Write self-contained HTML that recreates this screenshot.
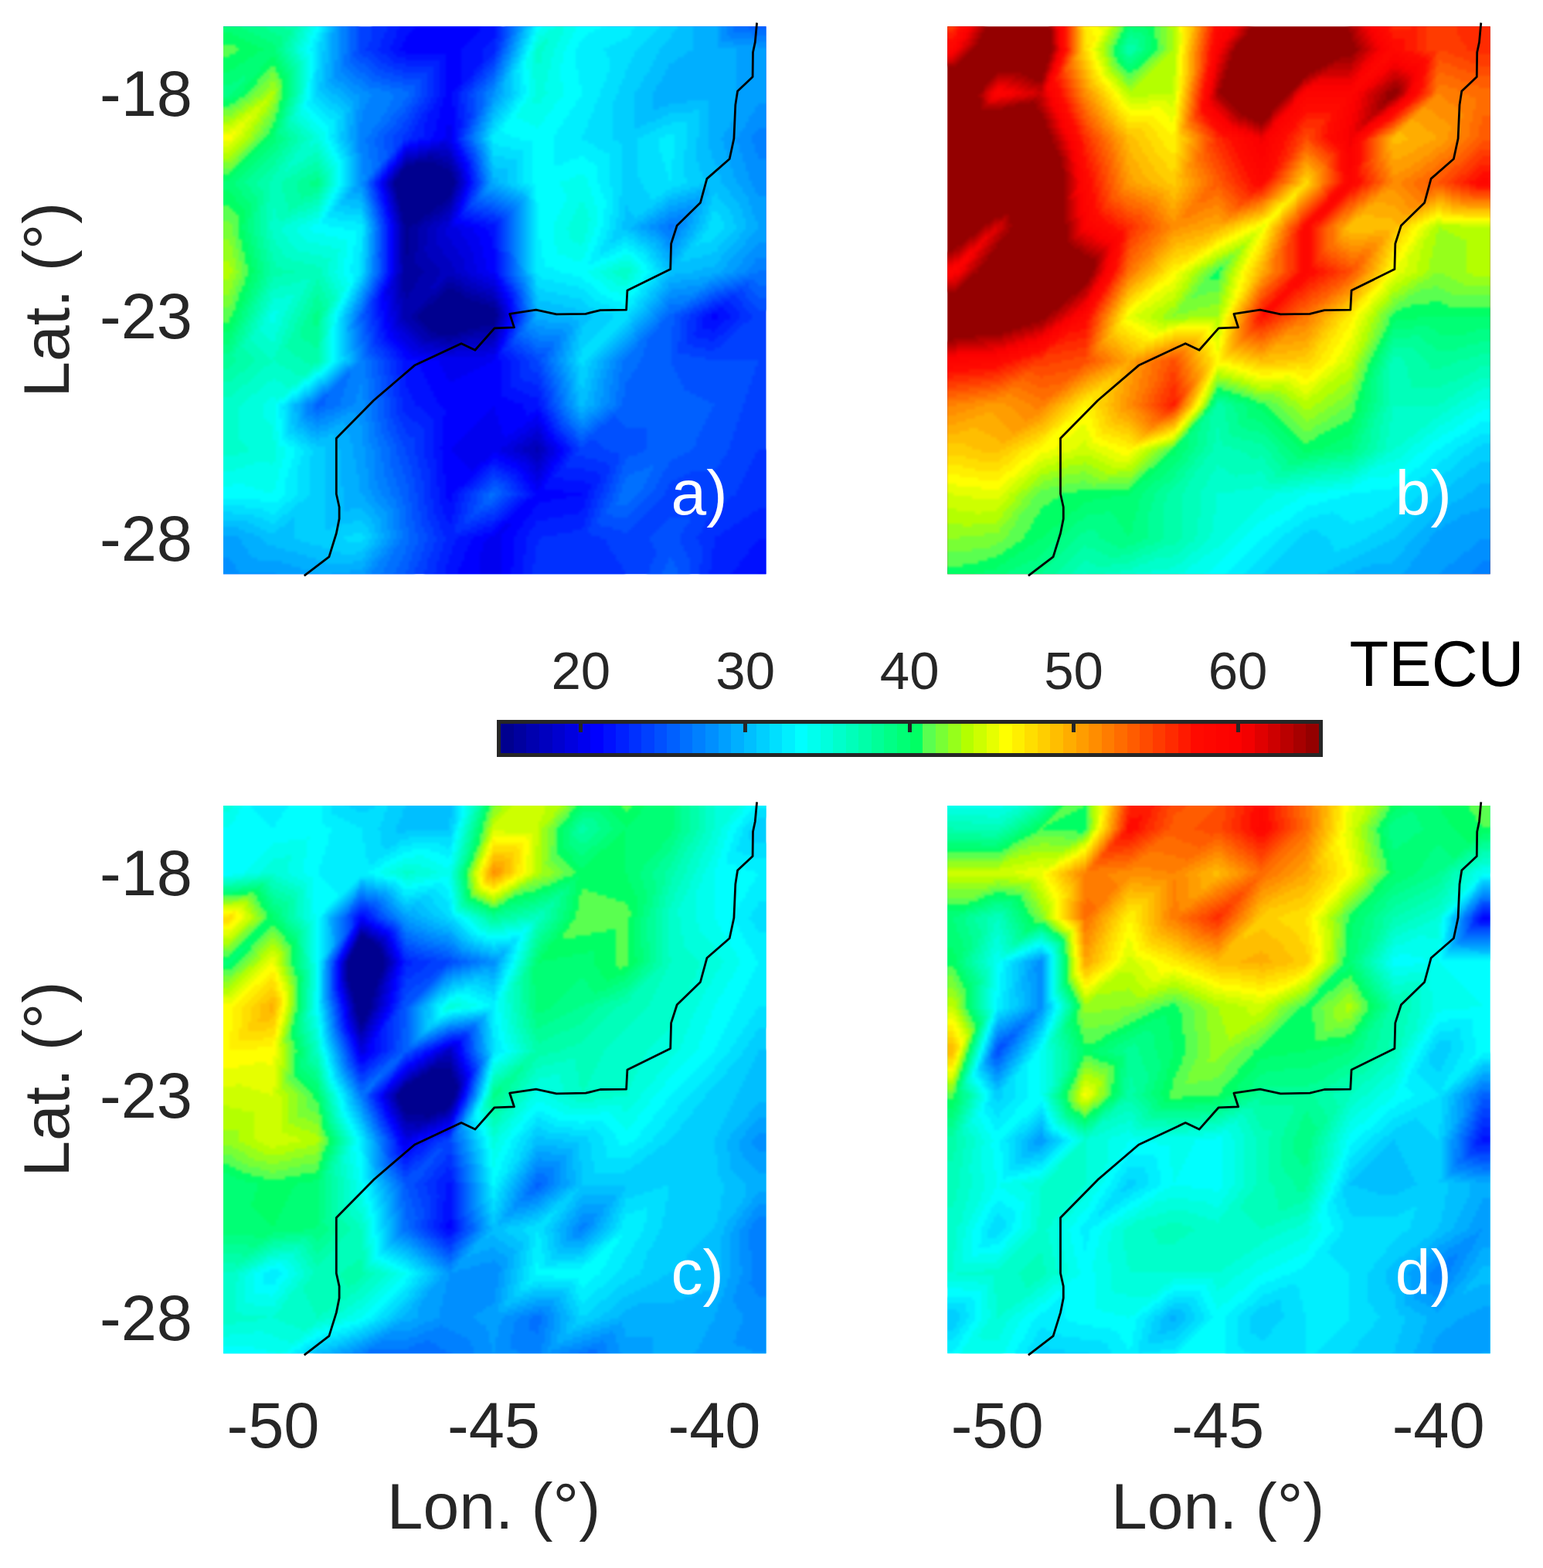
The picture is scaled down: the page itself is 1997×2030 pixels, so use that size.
<!DOCTYPE html>
<html lang="en"><head><meta charset="utf-8"><title>TECU</title>
<style>html,body{margin:0;padding:0;background:#fff}svg{display:block}text{font-family:"Liberation Sans",sans-serif}.t{font-size:83px;fill:#262626}.l{font-size:84px;fill:#262626}.c{font-size:69px;fill:#262626}.p{font-size:82px;fill:#fff}.u{font-size:83px;fill:#000}</style></head><body>
<svg width="1997" height="2030" viewBox="0 0 1997 2030">
<defs><clipPath id="pc"><rect width="702.5" height="709.1"/></clipPath><filter id="bl" filterUnits="userSpaceOnUse" x="-12" y="-12" width="726.5" height="733.1" color-interpolation-filters="sRGB"><feGaussianBlur stdDeviation="1.6"/></filter></defs>
<rect width="1997" height="2030" fill="#fff"/>
<g transform="translate(289 34.2)" clip-path="url(#pc)">
<rect x="-20" y="-20" width="742.5" height="749.1" fill="#0040ff"/>
<g filter="url(#bl)"><g transform="translate(-12 -10) scale(4)" fill="none" stroke-width="1.08" shape-rendering="crispEdges">
<path stroke="#00008f" d="M65 47h7M62 48h12M61 49h15M60 50h17M60 51h17M59 52h19M58 53h20M58 54h20M59 55h18M59 56h18M59 57h18M59 58h17M60 59h15M60 60h14M60 61h12M60 62h11M61 63h9M61 64h7M61 65h6M61 66h5M62 67h2M62 68h1M62 69h1M62 70h1M62 71h1M62 72h1M62 73h1M62 74h1M62 75h1M62 76h1M75 88h3M74 89h6M73 90h8M72 91h11M71 92h15M69 93h20M68 94h23M67 95h24M66 96h26M66 97h25M67 98h24M68 99h23M69 100h17M70 101h12M72 102h7"/>
<path stroke="#00009f" d="M69 45h2M65 46h9M62 47h3M72 47h4M61 48h1M74 48h3M60 49h1M76 49h1M77 50h1M59 51h1M77 51h1M58 52h1M78 53h1M58 55h1M77 55h1M58 56h1M77 56h1M76 58h1M59 59h1M75 59h2M59 60h1M74 60h2M72 61h3M71 62h3M60 63h1M70 63h3M60 64h1M68 64h3M60 65h1M67 65h3M66 66h2M61 67h1M64 67h3M61 68h1M63 68h3M61 69h1M63 69h3M61 70h1M63 70h3M61 71h1M63 71h3M61 72h1M63 72h3M61 73h1M63 73h3M61 74h1M63 74h3M61 75h1M63 75h3M61 76h1M63 76h2M61 77h4M61 78h4M61 79h4M61 80h5M61 81h6M61 82h7M61 83h6M61 84h5M61 85h5M61 86h4M75 86h3M61 87h4M74 87h6M61 88h3M73 88h2M78 88h3M62 89h1M72 89h2M80 89h3M62 90h1M70 90h3M81 90h5M69 91h3M83 91h5M68 92h3M86 92h5M67 93h2M89 93h2M66 94h2M91 94h1M65 95h2M91 95h1M64 96h2M64 97h2M91 97h1M65 98h2M91 98h1M66 99h2M67 100h2M86 100h5M68 101h2M82 101h9M69 102h3M79 102h5M70 103h10M75 104h2"/>
<path stroke="#0000af" d="M69 44h4M66 45h3M71 45h5M62 46h3M74 46h3M61 47h1M76 47h1M77 48h1M77 49h1M59 50h1M78 50h1M58 51h1M78 51h1M78 52h1M57 53h1M57 54h1M78 54h1M57 55h1M78 55h1M58 57h1M77 57h1M58 58h1M77 58h1M58 59h1M76 60h1M59 61h1M75 61h2M59 62h1M74 62h2M59 63h1M73 63h2M71 64h3M70 65h3M60 66h1M68 66h3M60 67h1M67 67h3M60 68h1M66 68h3M60 69h1M66 69h3M60 70h1M66 70h3M60 71h1M66 71h3M60 72h1M66 72h3M60 73h1M66 73h3M60 74h1M66 74h2M60 75h1M66 75h2M60 76h1M65 76h4M60 77h1M65 77h4M60 78h1M65 78h5M60 79h1M65 79h6M66 80h6M67 81h6M68 82h5M60 83h1M67 83h6M60 84h1M66 84h6M75 84h3M60 85h1M66 85h6M74 85h6M60 86h1M65 86h6M73 86h2M78 86h3M60 87h1M65 87h5M72 87h2M80 87h3M60 88h1M64 88h9M81 88h4M60 89h2M63 89h9M83 89h5M60 90h2M63 90h7M86 90h4M61 91h8M88 91h3M61 92h7M91 92h1M61 93h6M91 93h1M61 94h5M92 94h1M61 95h4M92 95h1M61 96h3M92 96h1M61 97h3M92 97h1M62 98h3M63 99h3M91 99h1M64 100h3M91 100h1M65 101h3M66 102h3M84 102h7M67 103h3M80 103h11M68 104h7M77 104h5M73 105h6M104 139h1M104 140h1"/>
<path stroke="#0000bf" d="M69 43h7M66 44h3M73 44h4M62 45h4M76 45h1M61 46h1M77 46h1M77 47h1M60 48h1M78 48h1M59 49h1M78 49h1M58 50h1M79 50h1M79 51h1M57 52h1M79 52h1M56 53h1M79 53h1M56 54h1M79 54h1M79 55h1M57 56h1M78 56h1M57 57h1M78 57h1M77 59h1M58 60h1M77 60h1M58 61h1M58 62h1M76 62h1M75 63h2M59 64h1M74 64h2M59 65h1M73 65h3M59 66h1M71 66h3M70 67h3M69 68h3M69 69h3M69 70h3M69 71h3M69 72h3M69 73h3M68 74h5M68 75h6M69 76h5M69 77h6M70 78h6M71 79h6M60 80h1M72 80h5M60 81h1M73 81h5M60 82h1M73 82h5M59 83h1M73 83h7M59 84h1M72 84h3M78 84h4M59 85h1M72 85h2M80 85h3M59 86h1M71 86h2M81 86h4M59 87h1M70 87h2M83 87h4M59 88h1M85 88h5M59 89h1M88 89h3M59 90h1M90 90h1M59 91h2M91 91h1M59 92h2M60 93h1M92 93h1M60 94h1M60 95h1M93 95h1M60 96h1M93 96h1M60 97h1M93 97h1M60 98h2M92 98h1M61 99h2M92 99h1M62 100h2M63 101h2M91 101h1M64 102h2M91 102h1M65 103h2M66 104h2M82 104h9M67 105h6M79 105h11M71 106h9M75 107h2M103 137h2M102 138h4M100 139h4M105 139h2M100 140h4M105 140h2M102 141h4M103 142h3M104 143h1"/>
<path stroke="#0000cf" d="M73 41h2M70 42h6M66 43h3M76 43h1M62 44h4M61 45h1M77 45h1M60 47h1M78 47h1M59 48h1M58 49h1M79 49h1M57 51h1M56 52h1M80 52h1M80 53h1M80 54h1M56 55h1M56 56h1M79 56h1M79 57h1M57 58h1M78 58h1M57 59h1M78 59h1M57 60h1M77 61h1M77 62h1M58 63h1M58 64h1M76 64h1M58 65h1M76 65h1M74 66h2M59 67h1M73 67h3M59 68h1M72 68h3M59 69h1M72 69h3M59 70h1M72 70h3M59 71h1M72 71h4M59 72h1M72 72h5M59 73h1M72 73h5M59 74h1M73 74h5M59 75h1M74 75h5M59 76h1M74 76h5M59 77h1M75 77h5M59 78h1M76 78h5M59 79h1M77 79h4M59 80h1M77 80h4M59 81h1M78 81h3M59 82h1M78 82h4M80 83h3M58 84h1M82 84h3M58 85h1M83 85h4M58 86h1M85 86h4M57 87h2M87 87h4M58 88h1M90 88h1M58 89h1M91 89h1M58 90h1M91 90h1M58 91h1M92 91h1M58 92h1M92 92h1M58 93h2M93 93h1M58 94h2M93 94h1M59 95h1M59 96h1M94 96h1M59 97h1M59 98h1M93 98h1M59 99h2M93 99h1M60 100h2M92 100h1M61 101h2M92 101h1M62 102h2M63 103h2M91 103h1M64 104h2M91 104h1M65 105h2M90 105h1M66 106h5M80 106h11M68 107h7M77 107h12M73 108h5M104 134h1M103 135h3M101 136h5M100 137h3M105 137h2M98 138h4M106 138h1M97 139h3M107 139h1M97 140h3M107 140h1M99 141h3M106 141h2M101 142h2M106 142h1M102 143h2M105 143h2M103 144h3M104 145h2M104 146h1"/>
<path stroke="#0000df" d="M73 40h3M70 41h3M75 41h2M66 42h4M76 42h1M62 43h4M77 43h1M61 44h1M77 44h1M78 45h1M60 46h1M78 46h1M59 47h1M79 47h1M58 48h1M79 48h1M80 49h1M57 50h1M80 50h1M56 51h1M80 51h1M55 53h1M81 53h1M55 54h1M55 55h1M80 55h1M80 56h1M56 57h1M56 58h1M79 58h1M56 59h1M79 59h1M78 60h1M57 61h1M78 61h1M57 62h1M78 62h1M57 63h1M77 63h1M77 64h1M58 66h1M76 66h1M58 67h1M76 67h1M58 68h1M75 68h4M58 69h1M75 69h5M58 70h1M75 70h5M58 71h1M76 71h5M58 72h1M77 72h5M58 73h1M77 73h5M58 74h1M78 74h5M58 75h1M79 75h4M58 76h1M79 76h5M58 77h1M80 77h4M58 78h1M81 78h3M58 79h1M81 79h3M58 80h1M81 80h4M58 81h1M81 81h4M58 82h1M82 82h3M58 83h1M83 83h4M85 84h4M57 85h1M87 85h4M57 86h1M89 86h2M91 87h1M56 88h2M91 88h1M56 89h2M92 89h1M57 90h1M92 90h1M57 91h1M93 91h1M57 92h1M93 92h1M57 93h1M94 93h1M57 94h1M94 94h1M57 95h2M94 95h1M57 96h2M58 97h1M94 97h1M58 98h1M94 98h1M58 99h1M58 100h2M93 100h1M59 101h2M93 101h1M60 102h2M92 102h1M60 103h3M92 103h1M61 104h3M62 105h3M91 105h1M63 106h3M91 106h1M64 107h4M89 107h2M66 108h7M78 108h13M71 109h17M104 132h1M102 133h4M101 134h3M105 134h1M99 135h4M106 135h1M98 136h3M106 136h1M96 137h4M107 137h1M95 138h3M107 138h2M93 139h4M108 139h2M93 140h4M108 140h2M95 141h4M108 141h2M97 142h4M107 142h2M99 143h3M107 143h1M101 144h2M106 144h2M102 145h2M106 145h1M102 146h2M105 146h2M103 147h3M104 148h2M104 149h1"/>
<path stroke="#0000ef" d="M75 35h2M75 36h2M75 37h2M75 38h2M74 39h3M70 40h3M76 40h1M66 41h4M77 41h1M62 42h4M77 42h1M61 43h1M78 43h1M78 44h1M60 45h1M79 45h1M59 46h1M79 46h1M80 47h1M80 48h1M57 49h1M56 50h1M81 50h1M81 51h1M55 52h1M81 52h1M54 53h1M54 54h1M81 54h1M81 55h1M55 56h1M55 57h1M80 57h1M80 58h1M56 60h1M79 60h1M56 61h1M79 61h1M56 62h1M78 63h1M57 64h1M78 64h1M57 65h1M77 65h1M57 66h1M77 66h1M77 67h4M79 68h5M80 69h4M80 70h5M81 71h5M82 72h4M82 73h4M83 74h4M83 75h4M84 76h3M84 77h3M84 78h4M84 79h4M85 80h3M85 81h3M85 82h4M57 83h1M87 83h4M57 84h1M89 84h2M91 85h1M56 86h1M91 86h1M56 87h1M92 87h1M55 88h1M92 88h1M55 89h1M93 89h1M55 90h2M93 90h1M55 91h2M94 91h1M56 92h1M94 92h1M56 93h1M56 94h1M95 94h1M56 95h1M95 95h1M56 96h1M95 96h1M56 97h2M95 97h1M56 98h2M57 99h1M94 99h1M57 100h1M94 100h1M57 101h2M58 102h2M93 102h1M58 103h2M93 103h1M59 104h2M92 104h1M60 105h2M92 105h1M61 106h2M62 107h2M91 107h1M63 108h3M91 108h1M64 109h7M88 109h3M69 110h22M73 111h17M73 112h15M74 113h12M74 114h10M75 115h7M75 116h5M76 117h2M90 126h1M89 127h2M88 128h3M87 129h5M104 129h1M86 130h6M103 130h2M85 131h7M101 131h5M84 132h9M100 132h4M105 132h2M83 133h10M98 133h4M106 133h1M82 134h11M97 134h4M106 134h2M81 135h13M95 135h4M107 135h1M80 136h18M107 136h2M79 137h17M108 137h2M78 138h17M109 138h2M77 139h16M110 139h1M77 140h16M110 140h2M78 141h12M92 141h3M110 141h1M79 142h10M94 142h3M109 142h2M80 143h8M96 143h3M108 143h2M81 144h5M98 144h3M108 144h1M82 145h3M99 145h3M107 145h2M83 146h1M100 146h2M107 146h1M101 147h2M106 147h2M102 148h2M106 148h1M102 149h2M105 149h2M103 150h3M104 151h2M104 152h1M94 164h2M93 165h2M92 166h2M91 167h2M89 168h4M88 169h5M87 170h6M87 171h6M87 172h6M86 173h7M86 174h7M86 175h7M86 176h7M86 177h7M86 178h7M86 179h7M86 180h7M86 181h6M86 182h6M86 183h6"/>
<path stroke="#00f" d="M68 0h21M67 1h21M66 2h21M65 3h21M64 4h22M63 5h22M62 6h22M62 7h21M61 8h21M61 9h20M60 10h20M62 11h18M75 12h5M75 13h5M75 14h5M75 15h5M75 16h5M75 17h5M75 18h5M75 19h5M75 20h5M75 21h5M75 22h4M75 23h3M75 24h2M75 25h2M74 26h3M74 27h3M74 28h3M73 29h5M73 30h5M73 31h5M73 32h5M72 33h6M72 34h6M72 35h3M77 35h1M72 36h3M77 36h1M71 37h4M77 37h1M71 38h4M77 38h1M70 39h4M77 39h1M66 40h4M77 40h1M63 41h3M78 41h1M61 42h1M78 42h1M79 43h1M60 44h1M79 44h1M59 45h1M80 45h1M80 46h1M58 47h1M81 47h1M57 48h1M81 48h1M56 49h1M81 49h1M55 51h1M82 51h1M54 52h1M82 52h1M82 53h1M82 54h1M54 55h1M54 56h1M81 56h1M81 57h1M55 58h1M55 59h1M80 59h1M55 60h1M80 60h1M79 62h1M56 63h1M79 63h1M56 64h1M78 65h2M78 66h5M57 67h1M81 67h5M57 68h1M84 68h4M57 69h1M84 69h5M57 70h1M85 70h4M57 71h1M86 71h4M57 72h1M86 72h4M57 73h1M86 73h4M57 74h1M87 74h3M57 75h1M87 75h4M57 76h1M87 76h4M57 77h1M87 77h4M57 78h1M88 78h3M57 79h1M88 79h3M57 80h1M88 80h3M57 81h1M88 81h3M57 82h1M89 82h2M91 83h1M56 84h1M91 84h1M56 85h1M92 85h1M92 86h1M55 87h1M93 87h1M93 88h1M54 89h1M94 89h1M54 90h1M94 90h1M54 91h1M95 91h1M54 92h2M95 92h1M54 93h2M95 93h1M54 94h2M55 95h1M96 95h1M55 96h1M96 96h1M161 96h2M55 97h1M96 97h1M161 97h2M55 98h1M95 98h1M55 99h2M95 99h1M55 100h2M56 101h1M94 101h1M56 102h2M94 102h1M56 103h2M57 104h2M93 104h1M58 105h2M93 105h1M59 106h2M92 106h1M60 107h2M92 107h1M61 108h2M61 109h3M91 109h1M62 110h7M91 110h1M66 111h7M90 111h3M66 112h7M88 112h5M67 113h7M86 113h7M67 114h7M84 114h9M68 115h7M82 115h11M68 116h7M80 116h13M69 117h7M78 117h15M69 118h24M70 119h23M70 120h23M71 121h22M71 122h22M72 123h23M72 124h25M73 125h27M74 126h16M91 126h9M75 127h14M91 127h10M104 127h1M75 128h13M91 128h10M102 128h4M74 129h13M92 129h12M105 129h1M74 130h12M92 130h11M105 130h2M74 131h11M92 131h9M106 131h1M74 132h10M93 132h7M107 132h1M74 133h9M93 133h5M107 133h1M74 134h8M93 134h4M108 134h1M74 135h7M94 135h1M108 135h2M74 136h6M109 136h1M74 137h5M110 137h1M74 138h4M111 138h1M73 139h4M111 139h2M74 140h3M112 140h1M74 141h4M90 141h2M111 141h2M74 142h5M89 142h5M111 142h1M74 143h6M88 143h2M92 143h4M110 143h2M74 144h7M86 144h3M94 144h4M109 144h2M74 145h8M85 145h2M96 145h3M109 145h1M74 146h9M84 146h2M98 146h2M108 146h2M74 147h11M99 147h2M108 147h1M75 148h9M100 148h2M107 148h2M75 149h8M100 149h2M107 149h1M75 150h7M101 150h2M106 150h2M75 151h6M102 151h2M106 151h1M75 152h4M102 152h2M105 152h2M75 153h3M103 153h10M75 154h2M104 154h15M75 155h2M103 155h11M76 156h1M101 156h8M100 157h5M99 158h5M98 159h5M97 160h6M96 161h6M95 162h6M93 163h7M92 164h2M96 164h4M91 165h2M95 165h4M90 166h2M94 166h4M87 167h4M93 167h5M84 168h5M93 168h4M83 169h5M93 169h4M83 170h4M93 170h4M82 171h5M93 171h4M82 172h5M93 172h4M81 173h5M93 173h4M81 174h5M93 174h4M81 175h5M93 175h4M80 176h6M93 176h4M80 177h6M93 177h4M79 178h7M93 178h3M79 179h7M93 179h3M79 180h7M93 180h3M176 180h6M78 181h8M92 181h4M175 181h7M78 182h8M92 182h4M174 182h8M78 183h8M92 183h4M174 183h8"/>
<path stroke="#0010ff" d="M61 0h7M89 0h2M61 1h6M88 1h3M60 2h6M87 2h4M60 3h5M86 3h5M59 4h5M86 4h5M59 5h4M85 5h6M59 6h3M84 6h7M58 7h4M83 7h7M58 8h3M82 8h7M57 9h4M81 9h7M57 10h3M80 10h7M58 11h4M80 11h7M59 12h16M80 12h7M62 13h13M80 13h7M73 14h2M80 14h7M73 15h2M80 15h6M73 16h2M80 16h5M73 17h2M80 17h4M73 18h2M80 18h4M73 19h2M80 19h3M73 20h2M80 20h2M73 21h2M80 21h1M73 22h2M79 22h1M73 23h2M78 23h2M73 24h2M77 24h2M73 25h2M77 25h2M72 26h2M77 26h2M72 27h2M77 27h2M71 28h3M77 28h2M71 29h2M78 29h1M70 30h3M78 30h1M69 31h4M78 31h1M69 32h4M78 32h1M69 33h3M78 33h2M68 34h4M78 34h2M68 35h4M78 35h2M68 36h4M78 36h1M68 37h3M78 37h1M68 38h3M78 38h1M66 39h4M78 39h1M63 40h3M78 40h1M61 41h2M79 41h1M79 42h1M60 43h1M80 43h1M59 44h1M80 44h1M81 45h1M58 46h1M81 46h1M57 47h1M82 47h1M56 48h1M82 48h1M82 49h1M55 50h1M82 50h1M54 51h1M53 53h1M83 53h1M53 54h1M53 55h1M82 55h1M82 56h1M54 57h1M54 58h1M81 58h1M54 59h1M81 59h1M55 61h1M80 61h1M55 62h1M80 62h1M55 63h1M79 64h2M56 65h1M80 65h4M56 66h1M83 66h5M56 67h1M86 67h5M56 68h1M88 68h3M56 69h1M89 69h2M56 70h1M89 70h2M56 71h1M90 71h1M56 72h1M90 72h1M56 73h1M90 73h1M56 74h1M90 74h1M56 75h1M91 75h1M56 76h1M91 76h1M56 77h1M91 77h1M56 78h1M91 78h1M56 79h1M91 79h1M56 80h1M91 80h1M56 81h1M91 81h1M56 82h1M91 82h1M56 83h1M92 84h1M55 85h1M93 85h1M55 86h1M93 86h1M54 87h1M94 87h1M54 88h1M94 88h1M95 89h1M53 90h1M95 90h1M53 91h1M96 91h1M53 92h1M96 92h1M53 93h1M96 93h1M53 94h1M96 94h1M163 94h2M53 95h2M161 95h5M53 96h2M97 96h1M159 96h2M163 96h4M54 97h1M158 97h3M163 97h4M54 98h1M96 98h1M158 98h7M54 99h1M96 99h1M158 99h6M54 100h1M95 100h1M158 100h5M54 101h2M95 101h1M161 101h1M55 102h1M55 103h1M94 103h1M55 104h2M94 104h1M56 105h2M57 106h2M93 106h1M58 107h2M59 108h2M92 108h1M59 109h2M92 109h2M60 110h2M92 110h3M61 111h5M93 111h3M61 112h5M93 112h3M61 113h6M93 113h3M61 114h6M93 114h3M62 115h6M93 115h3M62 116h6M93 116h3M62 117h7M93 117h3M62 118h7M93 118h3M62 119h8M93 119h3M63 120h7M93 120h5M63 121h8M93 121h7M64 122h7M93 122h9M64 123h8M95 123h10M65 124h7M97 124h8M65 125h8M100 125h5M67 126h7M100 126h6M68 127h7M101 127h3M105 127h1M69 128h6M101 128h1M106 128h1M70 129h4M106 129h2M71 130h3M107 130h1M71 131h3M107 131h2M71 132h3M108 132h1M71 133h3M108 133h2M71 134h3M109 134h1M71 135h3M110 135h1M71 136h3M110 136h2M71 137h3M111 137h2M71 138h3M112 138h2M71 139h2M113 139h2M71 140h3M113 140h2M71 141h3M113 141h1M71 142h3M112 142h2M72 143h2M90 143h2M112 143h1M72 144h2M89 144h5M111 144h2M72 145h2M87 145h2M92 145h4M110 145h2M72 146h2M86 146h2M94 146h4M110 146h2M72 147h2M85 147h2M96 147h3M109 147h2M72 148h3M84 148h2M98 148h2M109 148h1M72 149h3M83 149h2M98 149h2M108 149h5M72 150h3M82 150h2M99 150h2M108 150h12M72 151h3M81 151h2M100 151h2M107 151h15M73 152h2M79 152h2M100 152h2M107 152h15M73 153h2M78 153h2M101 153h2M113 153h8M73 154h2M77 154h2M102 154h2M119 154h2M73 155h2M77 155h2M101 155h2M114 155h7M73 156h3M77 156h2M99 156h2M109 156h11M73 157h5M98 157h2M105 157h15M74 158h4M97 158h2M104 158h16M74 159h4M96 159h2M103 159h16M74 160h4M95 160h2M103 160h15M75 161h2M94 161h2M102 161h11M75 162h2M93 162h2M101 162h7M76 163h1M91 163h2M100 163h4M90 164h2M100 164h4M87 165h4M99 165h4M85 166h5M98 166h4M82 167h5M98 167h4M79 168h5M97 168h4M78 169h5M97 169h4M176 169h6M78 170h5M97 170h4M175 170h7M77 171h5M97 171h4M174 171h8M77 172h5M97 172h4M173 172h9M77 173h4M97 173h4M173 173h9M76 174h5M97 174h3M172 174h10M76 175h5M97 175h3M171 175h11M76 176h4M97 176h3M170 176h12M75 177h5M97 177h3M170 177h12M75 178h4M96 178h4M169 178h13M75 179h4M96 179h4M168 179h14M75 180h4M96 180h4M167 180h9M74 181h4M96 181h3M166 181h9M74 182h4M96 182h3M166 182h8M74 183h4M96 183h3M165 183h9"/>
<path stroke="#0020ff" d="M58 0h3M91 0h1M57 1h4M91 1h1M57 2h3M91 2h1M56 3h4M91 3h1M56 4h3M91 4h1M55 5h4M91 5h1M55 6h4M91 6h1M54 7h4M90 7h1M54 8h4M89 8h2M54 9h3M88 9h3M53 10h4M87 10h4M54 11h4M87 11h4M56 12h3M87 12h3M57 13h5M87 13h2M58 14h15M87 14h1M62 15h11M86 15h1M71 16h2M85 16h2M71 17h2M84 17h2M71 18h2M84 18h1M71 19h2M83 19h1M71 20h2M82 20h2M71 21h2M81 21h2M71 22h2M80 22h2M71 23h2M80 23h1M71 24h2M79 24h1M71 25h2M79 25h1M70 26h2M79 26h1M70 27h2M79 27h1M69 28h2M79 28h2M69 29h2M79 29h2M68 30h2M79 30h2M67 31h2M79 31h2M67 32h2M79 32h2M66 33h3M80 33h1M66 34h2M80 34h1M65 35h3M80 35h1M65 36h3M79 36h1M64 37h4M79 37h1M64 38h4M79 38h1M63 39h3M61 40h2M79 40h1M60 42h1M80 42h1M59 43h1M81 44h1M58 45h1M57 46h1M82 46h1M56 47h1M55 49h1M83 49h1M54 50h1M83 50h1M83 51h1M53 52h1M83 52h1M52 53h1M52 54h1M83 54h1M83 55h1M53 56h1M53 57h1M82 57h1M53 58h1M82 58h1M54 60h1M81 60h1M54 61h1M81 61h1M80 63h3M55 64h1M81 64h5M55 65h1M84 65h5M55 66h1M88 66h4M91 67h1M91 68h1M91 69h1M91 70h1M91 71h1M91 72h1M91 73h1M91 74h1M92 76h1M92 77h1M92 78h1M92 79h1M92 80h1M92 81h1M92 82h1M55 83h1M92 83h1M55 84h1M93 84h1M54 86h1M94 86h1M95 87h1M53 88h1M95 88h1M53 89h1M96 89h1M96 90h1M52 91h1M52 92h1M165 92h2M52 93h1M97 93h1M162 93h6M52 94h1M97 94h1M160 94h3M165 94h4M52 95h1M97 95h1M158 95h3M166 95h4M52 96h1M157 96h2M167 96h3M52 97h2M97 97h1M156 97h2M167 97h3M53 98h1M97 98h1M156 98h2M165 98h4M53 99h1M156 99h2M164 99h4M53 100h1M96 100h1M156 100h2M163 100h4M53 101h1M96 101h1M156 101h5M162 101h4M53 102h2M95 102h1M155 102h10M53 103h2M95 103h1M156 103h7M54 104h1M160 104h2M54 105h2M94 105h1M55 106h2M94 106h1M56 107h2M93 107h1M57 108h2M93 108h3M57 109h2M94 109h3M58 110h2M95 110h3M59 111h2M96 111h3M59 112h2M96 112h3M59 113h2M96 113h3M59 114h2M96 114h3M59 115h3M96 115h3M60 116h2M96 116h3M60 117h2M96 117h4M60 118h2M96 118h7M60 119h2M96 119h9M60 120h3M98 120h7M60 121h3M100 121h6M60 122h4M102 122h4M61 123h3M105 123h1M61 124h4M105 124h2M61 125h4M105 125h2M61 126h6M106 126h1M61 127h7M106 127h2M62 128h7M107 128h1M63 129h7M108 129h1M64 130h7M108 130h1M66 131h5M109 131h1M67 132h4M109 132h1M68 133h3M110 133h1M68 134h3M110 134h2M68 135h3M111 135h2M68 136h3M112 136h2M68 137h3M113 137h1M68 138h3M114 138h1M68 139h3M115 139h1M68 140h3M115 140h1M68 141h3M114 141h2M68 142h3M114 142h1M69 143h3M113 143h2M69 144h3M113 144h1M69 145h3M89 145h3M112 145h2M70 146h2M88 146h2M91 146h3M112 146h8M70 147h2M87 147h2M93 147h3M111 147h13M70 148h2M86 148h2M95 148h3M110 148h15M70 149h2M85 149h2M96 149h2M113 149h12M70 150h2M84 150h2M97 150h2M120 150h5M70 151h2M83 151h2M98 151h2M122 151h2M70 152h3M81 152h3M98 152h2M122 152h2M70 153h3M80 153h2M99 153h2M121 153h2M70 154h3M79 154h2M100 154h2M121 154h2M70 155h3M79 155h2M98 155h3M121 155h2M71 156h2M79 156h2M97 156h2M120 156h2M71 157h2M78 157h2M96 157h2M120 157h2M71 158h3M78 158h2M95 158h2M120 158h2M71 159h3M78 159h2M94 159h2M119 159h2M176 159h6M71 160h3M78 160h2M93 160h2M118 160h3M174 160h8M72 161h3M77 161h2M92 161h2M113 161h8M173 161h9M72 162h3M77 162h2M91 162h2M108 162h12M171 162h11M73 163h3M77 163h2M88 163h3M104 163h16M170 163h12M73 164h5M85 164h5M104 164h16M168 164h14M73 165h5M83 165h4M103 165h16M167 165h15M74 166h4M80 166h5M102 166h14M165 166h17M74 167h8M102 167h9M164 167h18M75 168h4M101 168h5M162 168h20M75 169h3M101 169h4M162 169h14M74 170h4M101 170h4M162 170h13M74 171h3M101 171h3M162 171h12M74 172h3M101 172h3M161 172h12M73 173h4M101 173h3M161 173h12M73 174h3M100 174h4M161 174h11M73 175h3M100 175h4M161 175h10M72 176h4M100 176h4M161 176h9M72 177h3M100 177h3M161 177h9M72 178h3M100 178h3M161 178h8M72 179h3M100 179h3M160 179h8M71 180h4M100 180h3M160 180h7M71 181h3M99 181h4M118 181h2M160 181h6M71 182h3M99 182h4M117 182h3M160 182h6M70 183h4M99 183h4M117 183h4M160 183h5"/>
<path stroke="#0030ff" d="M51 0h7M92 0h2M51 1h6M92 1h1M51 2h6M92 2h1M51 3h5M92 3h1M51 4h5M92 4h1M51 5h4M92 5h1M51 6h4M92 6h1M51 7h3M91 7h2M50 8h4M91 8h1M50 9h4M91 9h1M49 10h4M91 10h1M51 11h3M52 12h4M90 12h1M53 13h4M89 13h2M54 14h4M88 14h2M56 15h6M87 15h2M58 16h13M87 16h1M61 17h10M86 17h1M69 18h2M85 18h2M69 19h2M84 19h2M69 20h2M84 20h1M69 21h2M83 21h1M69 22h2M82 22h2M69 23h2M81 23h2M69 24h2M80 24h2M69 25h2M80 25h2M68 26h2M80 26h2M68 27h2M80 27h2M67 28h2M81 28h1M66 29h3M81 29h1M66 30h2M81 30h1M65 31h2M81 31h2M65 32h2M81 32h2M64 33h2M81 33h1M64 34h2M81 34h1M63 35h2M81 35h1M63 36h2M80 36h1M62 37h2M80 37h1M61 38h3M80 38h1M61 39h2M79 39h1M80 40h1M60 41h1M80 41h1M59 42h1M81 42h1M81 43h1M58 44h1M82 44h1M57 45h1M82 45h1M56 46h1M83 46h1M83 47h1M55 48h1M83 48h1M54 49h1M84 50h1M53 51h1M84 51h1M52 52h1M84 52h1M84 53h1M84 54h1M52 55h1M84 55h1M52 56h1M83 56h1M83 57h1M53 59h1M82 59h1M53 60h1M82 60h1M54 62h1M81 62h3M54 63h1M83 63h4M54 64h1M86 64h5M89 65h4M92 66h1M55 67h1M92 67h1M55 68h1M92 68h1M55 69h1M92 69h1M55 70h1M92 70h1M55 71h1M92 71h1M55 72h1M92 72h1M55 73h1M92 73h1M55 74h1M92 74h1M55 75h1M92 75h1M55 76h1M93 76h1M55 77h1M93 77h1M55 78h1M93 78h1M55 79h1M93 79h1M55 80h1M93 80h1M55 81h1M93 81h1M55 82h1M93 82h1M93 83h1M54 84h1M94 84h1M54 85h1M94 85h1M53 86h1M95 86h1M53 87h1M96 87h1M96 88h1M52 89h1M97 89h1M52 90h1M97 90h1M167 90h2M51 91h1M97 91h1M164 91h6M51 92h1M97 92h1M161 92h4M167 92h4M51 93h1M160 93h2M168 93h3M51 94h1M98 94h1M158 94h2M169 94h3M51 95h1M98 95h1M156 95h2M170 95h3M51 96h1M98 96h1M154 96h3M170 96h4M51 97h1M98 97h1M154 97h2M170 97h4M51 98h2M98 98h1M153 98h3M169 98h4M51 99h2M97 99h1M153 99h3M168 99h3M52 100h1M97 100h1M153 100h3M167 100h3M52 101h1M153 101h3M166 101h3M52 102h1M96 102h1M153 102h2M165 102h3M52 103h1M96 103h1M153 103h3M163 103h4M52 104h2M95 104h1M153 104h7M162 104h4M52 105h2M95 105h1M153 105h12M53 106h2M95 106h1M155 106h9M54 107h2M94 107h3M159 107h3M55 108h2M96 108h2M55 109h2M97 109h3M56 110h2M98 110h3M57 111h2M99 111h3M57 112h2M99 112h3M57 113h2M99 113h3M57 114h2M99 114h4M57 115h2M99 115h6M58 116h2M99 116h6M58 117h2M100 117h6M58 118h2M103 118h3M58 119h2M105 119h1M58 120h2M105 120h2M58 121h2M106 121h1M58 122h2M106 122h1M59 123h2M106 123h2M59 124h2M107 124h1M59 125h2M107 125h1M59 126h2M107 126h1M59 127h2M108 127h1M59 128h3M108 128h2M60 129h3M109 129h1M60 130h4M109 130h2M61 131h5M110 131h1M61 132h6M110 132h2M62 133h6M111 133h1M62 134h6M112 134h1M63 135h5M113 135h1M65 136h3M114 136h1M65 137h3M114 137h2M65 138h3M115 138h2M65 139h3M116 139h2M65 140h3M116 140h2M176 140h6M65 141h3M116 141h1M175 141h7M66 142h2M115 142h5M175 142h7M66 143h3M115 143h9M174 143h8M66 144h3M114 144h13M174 144h8M66 145h3M114 145h14M173 145h9M67 146h3M90 146h1M120 146h8M173 146h9M67 147h3M89 147h4M124 147h4M172 147h10M67 148h3M88 148h2M91 148h4M125 148h2M172 148h10M67 149h3M87 149h2M93 149h3M125 149h2M171 149h11M68 150h2M86 150h2M95 150h2M125 150h2M171 150h11M68 151h2M85 151h2M96 151h2M124 151h2M170 151h12M68 152h2M84 152h2M96 152h2M124 152h2M170 152h12M68 153h2M82 153h2M97 153h2M123 153h3M169 153h13M68 154h2M81 154h2M98 154h2M123 154h2M169 154h13M68 155h2M81 155h2M96 155h2M123 155h2M167 155h15M68 156h3M81 156h2M95 156h2M122 156h2M166 156h16M68 157h3M80 157h2M94 157h2M122 157h2M164 157h18M69 158h2M80 158h2M93 158h2M122 158h2M163 158h19M69 159h2M80 159h2M92 159h2M121 159h2M162 159h14M69 160h2M80 160h2M91 160h2M121 160h2M161 160h13M69 161h3M79 161h2M88 161h4M121 161h2M161 161h12M69 162h3M79 162h2M86 162h5M120 162h2M160 162h11M70 163h3M79 163h2M83 163h5M120 163h2M159 163h11M70 164h3M78 164h7M120 164h2M159 164h9M71 165h2M78 165h5M119 165h2M158 165h9M71 166h3M78 166h2M116 166h5M158 166h7M71 167h3M111 167h11M157 167h7M72 168h3M106 168h19M156 168h6M72 169h3M105 169h22M157 169h5M71 170h3M105 170h22M157 170h5M71 171h3M104 171h24M158 171h4M71 172h3M104 172h24M158 172h3M70 173h3M104 173h25M158 173h3M70 174h3M104 174h26M158 174h3M69 175h4M104 175h26M158 175h3M69 176h3M104 176h27M158 176h3M69 177h3M103 177h29M157 177h4M69 178h3M103 178h29M157 178h4M68 179h4M103 179h30M157 179h3M68 180h3M103 180h30M157 180h3M68 181h3M103 181h15M120 181h14M157 181h3M67 182h4M103 182h14M120 182h14M157 182h3M67 183h3M103 183h14M121 183h13M157 183h3"/>
<path stroke="#0050ff" d="M46 0h1M95 0h1M171 0h11M46 1h1M95 1h1M172 1h10M46 2h1M94 2h1M46 3h1M94 3h1M46 4h1M94 4h1M46 5h1M94 5h1M46 6h1M94 6h1M46 7h1M46 8h1M93 8h1M46 9h1M93 9h1M46 10h1M45 11h2M92 11h1M45 12h3M92 12h1M46 13h4M91 13h1M47 14h4M91 14h1M49 15h3M50 16h3M90 16h1M51 17h4M89 17h2M52 18h6M88 18h2M54 19h7M88 19h1M57 20h10M87 20h1M61 21h6M86 21h2M65 22h2M85 22h2M65 23h2M84 23h2M65 24h2M84 24h1M65 25h2M83 25h2M64 26h2M84 26h1M64 27h2M84 27h1M63 28h2M84 28h1M62 29h2M84 29h1M62 30h2M84 30h1M61 31h2M84 31h1M60 32h3M84 32h1M59 33h3M83 33h1M59 34h2M83 34h1M58 35h3M57 36h3M82 36h1M56 37h3M82 37h1M55 38h3M81 38h1M55 39h3M81 39h1M55 40h3M82 40h1M55 41h3M82 41h1M55 42h3M83 42h1M56 43h2M83 43h1M56 44h1M84 44h1M56 45h1M84 45h1M55 46h1M84 46h1M54 47h1M85 48h1M53 49h1M85 49h1M52 50h1M85 50h1M85 51h1M51 52h1M50 53h1M86 53h1M50 54h1M85 55h1M51 56h1M85 56h1M51 57h1M51 58h1M84 58h1M84 59h1M52 60h1M83 60h4M52 61h1M85 61h5M89 62h3M91 63h3M53 64h1M93 64h2M53 65h1M94 65h1M53 66h1M94 66h1M94 67h1M94 68h1M94 69h1M94 70h1M94 71h1M94 72h1M94 73h1M94 74h1M94 75h1M53 76h1M95 76h1M53 77h1M95 77h1M95 78h1M95 79h1M95 80h1M95 81h1M95 82h1M53 83h1M95 83h1M53 84h1M96 84h1M52 85h1M96 85h1M52 86h1M97 86h1M172 86h1M97 87h1M169 87h4M51 88h1M98 88h1M165 88h5M171 88h3M51 89h1M98 89h1M162 89h4M172 89h3M50 90h1M160 90h3M172 90h4M50 91h1M99 91h1M159 91h2M173 91h9M99 92h1M157 92h2M174 92h8M49 93h1M99 93h1M155 93h2M175 93h7M49 94h1M99 94h1M153 94h2M176 94h6M151 95h3M48 96h2M100 96h1M149 96h3M48 97h2M149 97h2M49 98h1M99 98h1M149 98h2M49 99h1M99 99h1M149 99h2M49 100h1M98 100h1M148 100h3M49 101h1M98 101h1M148 101h3M49 102h2M148 102h3M50 103h1M97 103h1M148 103h3M50 104h1M97 104h2M148 104h3M50 105h1M97 105h3M148 105h2M50 106h1M99 106h3M148 106h2M50 107h2M100 107h3M148 107h2M50 108h2M101 108h3M148 108h2M51 109h2M103 109h4M148 109h6M52 110h2M104 110h2M148 110h11M53 111h2M105 111h1M148 111h28M53 112h2M105 112h2M148 112h28M53 113h2M106 113h1M149 113h26M53 114h2M106 114h1M149 114h26M53 115h2M106 115h2M150 115h25M54 116h2M107 116h1M150 116h24M54 117h2M107 117h2M151 117h23M54 118h2M107 118h2M151 118h23M54 119h2M108 119h1M152 119h21M54 120h2M108 120h2M152 120h21M54 121h2M109 121h1M154 121h19M54 122h2M109 122h1M156 122h16M55 123h2M109 123h1M158 123h14M55 124h2M109 124h1M160 124h12M55 125h2M109 125h2M162 125h9M55 126h2M110 126h1M161 126h10M55 127h2M110 127h2M161 127h10M55 128h2M111 128h1M160 128h10M55 129h2M111 129h2M129 129h1M160 129h10M56 130h2M112 130h1M128 130h3M159 130h11M56 131h2M112 131h2M127 131h5M159 131h10M56 132h3M113 132h2M125 132h8M158 132h11M56 133h3M114 133h2M124 133h16M158 133h11M57 134h2M115 134h2M123 134h17M157 134h11M57 135h3M116 135h1M121 135h19M157 135h11M58 136h2M117 136h1M120 136h20M156 136h12M58 137h3M118 137h3M124 137h16M156 137h11M59 138h2M118 138h2M125 138h15M156 138h11M59 139h3M126 139h14M155 139h12M59 140h3M128 140h11M154 140h12M59 141h3M131 141h6M152 141h14M60 142h3M131 142h3M150 142h15M60 143h3M131 143h2M148 143h16M60 144h3M131 144h2M147 144h17M61 145h3M130 145h2M147 145h16M61 146h3M130 146h2M146 146h16M61 147h3M130 147h2M145 147h9M62 148h2M129 148h2M145 148h7M62 149h3M129 149h2M144 149h6M62 150h3M90 150h2M129 150h2M144 150h4M63 151h2M89 151h5M128 151h2M143 151h4M63 152h2M88 152h2M92 152h2M128 152h2M143 152h4M63 153h2M86 153h3M93 153h2M128 153h2M142 153h4M63 154h3M85 154h2M93 154h3M127 154h2M141 154h5M63 155h3M85 155h2M92 155h2M127 155h2M140 155h5M63 156h3M85 156h2M91 156h2M126 156h3M139 156h5M64 157h2M85 157h2M90 157h2M126 157h2M138 157h5M64 158h2M84 158h2M87 158h4M126 158h2M137 158h5M64 159h2M84 159h5M125 159h2M136 159h5M64 160h3M84 160h2M125 160h2M135 160h5M64 161h3M83 161h1M125 161h4M134 161h5M64 162h3M124 162h14M147 162h7M65 163h2M124 163h13M146 163h8M65 164h2M125 164h11M145 164h8M65 165h3M129 165h6M144 165h8M65 166h3M132 166h2M143 166h9M66 167h3M142 167h9M66 168h3M141 168h10M66 169h3M141 169h10M66 170h2M142 170h9M65 171h3M142 171h10M65 172h3M143 172h9M64 173h3M143 173h10M64 174h3M143 174h10M64 175h3M142 175h5M148 175h6M63 176h3M142 176h5M149 176h5M63 177h3M141 177h5M149 177h5M63 178h2M141 178h5M150 178h4M62 179h3M141 179h4M150 179h4M62 180h3M140 180h5M150 180h4M61 181h3M140 181h5M150 181h4M61 182h3M139 182h5M150 182h3M61 183h3M139 183h5M150 183h3"/>
<path stroke="#0060ff" d="M44 0h2M96 0h1M169 0h2M44 1h2M96 1h1M169 1h3M44 2h2M95 2h2M169 2h13M44 3h2M95 3h1M173 3h9M44 4h2M95 4h1M44 5h2M95 5h1M44 6h2M95 6h1M44 7h2M94 7h1M44 8h2M94 8h1M44 9h2M94 9h1M44 10h2M93 10h1M44 11h1M93 11h1M44 12h1M44 13h2M92 13h1M44 14h3M92 14h1M45 15h4M91 15h1M46 16h4M91 16h1M47 17h4M49 18h3M90 18h1M50 19h4M89 19h2M51 20h6M88 20h2M54 21h7M88 21h1M57 22h8M87 22h1M61 23h4M86 23h2M63 24h2M85 24h2M63 25h2M85 25h2M62 26h2M85 26h2M61 27h3M85 27h2M61 28h2M85 28h2M60 29h2M85 29h2M59 30h3M85 30h1M58 31h3M85 31h1M57 32h3M57 33h2M84 33h1M56 34h3M84 34h1M55 35h3M83 35h1M54 36h3M83 36h1M53 37h3M83 37h1M53 38h2M82 38h1M52 39h3M82 39h1M52 40h3M83 40h1M52 41h3M83 41h1M53 42h2M84 42h1M53 43h3M84 43h1M53 44h3M53 45h3M85 45h1M53 46h2M85 46h1M85 47h1M53 48h1M52 49h1M86 50h1M51 51h1M86 51h1M50 52h1M86 52h1M86 54h1M50 55h1M86 55h1M50 56h1M50 57h1M85 57h1M85 58h1M51 59h1M85 59h3M51 60h1M87 60h4M90 61h3M52 62h1M92 62h3M52 63h1M94 63h2M52 64h1M95 64h1M95 65h1M95 66h1M53 67h1M95 67h1M53 68h1M95 68h1M53 69h1M95 69h1M53 70h1M95 70h1M53 71h1M95 71h1M53 72h1M95 72h1M53 73h1M95 73h1M53 74h1M95 74h1M53 75h1M95 75h1M96 77h1M53 78h1M96 78h1M53 79h1M96 79h1M53 80h1M96 80h1M53 81h1M96 81h1M53 82h1M96 82h1M96 83h1M52 84h1M97 84h1M97 85h1M171 85h4M51 86h1M98 86h1M168 86h4M173 86h3M51 87h1M98 87h1M165 87h4M173 87h9M99 88h1M162 88h3M174 88h8M50 89h1M99 89h1M160 89h2M175 89h7M99 90h1M158 90h2M176 90h6M49 91h1M156 91h3M49 92h1M154 92h3M100 93h1M153 93h2M48 94h1M100 94h1M151 94h2M48 95h1M100 95h1M149 95h2M47 96h1M147 96h2M47 97h1M100 97h1M146 97h3M47 98h2M100 98h1M145 98h4M48 99h1M144 99h5M48 100h1M99 100h1M144 100h4M48 101h1M99 101h1M143 101h5M48 102h1M98 102h1M142 102h6M48 103h2M98 103h2M141 103h7M48 104h2M99 104h3M140 104h8M49 105h1M100 105h3M140 105h8M49 106h1M102 106h2M140 106h8M49 107h1M103 107h6M139 107h9M49 108h1M104 108h4M139 108h9M49 109h2M107 109h1M139 109h9M50 110h2M106 110h2M138 110h10M51 111h2M106 111h2M138 111h10M51 112h2M107 112h1M137 112h11M51 113h2M107 113h2M137 113h12M51 114h2M107 114h2M136 114h13M51 115h2M108 115h1M135 115h15M51 116h3M108 116h2M135 116h15M52 117h2M109 117h1M134 117h17M52 118h2M109 118h1M133 118h18M52 119h2M109 119h2M133 119h19M52 120h2M110 120h1M133 120h19M52 121h2M110 121h1M133 121h21M36 122h1M52 122h2M110 122h1M133 122h23M35 123h1M52 123h3M110 123h2M132 123h26M34 124h2M53 124h2M110 124h2M132 124h28M33 125h3M53 125h2M111 125h1M132 125h30M33 126h1M53 126h2M111 126h1M131 126h30M53 127h2M112 127h1M130 127h31M53 128h2M112 128h1M128 128h32M53 129h2M113 129h1M127 129h2M130 129h30M53 130h3M113 130h2M126 130h2M131 130h28M54 131h2M114 131h1M124 131h3M132 131h27M54 132h2M115 132h1M123 132h2M133 132h25M54 133h2M116 133h1M122 133h2M140 133h18M54 134h3M117 134h1M120 134h3M140 134h17M55 135h2M117 135h4M140 135h17M55 136h3M118 136h2M140 136h16M56 137h2M140 137h16M56 138h3M140 138h16M57 139h2M140 139h15M57 140h2M139 140h15M57 141h2M137 141h15M57 142h3M134 142h16M57 143h3M133 143h15M57 144h3M133 144h14M57 145h4M132 145h9M142 145h5M58 146h3M132 146h7M142 146h4M58 147h3M132 147h4M141 147h4M58 148h4M131 148h3M141 148h4M59 149h3M131 149h2M140 149h4M59 150h3M131 150h2M140 150h4M59 151h4M130 151h2M139 151h4M60 152h3M90 152h2M130 152h2M139 152h4M60 153h3M89 153h4M130 153h2M138 153h4M60 154h3M87 154h2M91 154h2M129 154h2M137 154h4M61 155h2M87 155h2M90 155h2M129 155h2M136 155h4M61 156h2M87 156h4M129 156h2M135 156h4M61 157h3M87 157h3M128 157h2M134 157h4M62 158h2M86 158h1M128 158h9M62 159h2M127 159h9M62 160h2M127 160h8M62 161h2M129 161h5M62 162h2M62 163h3M62 164h3M63 165h2M63 166h2M63 167h3M63 168h3M63 169h3M63 170h3M62 171h3M62 172h3M62 173h2M61 174h3M61 175h3M147 175h1M60 176h3M147 176h2M60 177h3M146 177h3M59 178h4M146 178h4M59 179h3M145 179h5M58 180h4M145 180h5M58 181h3M145 181h5M57 182h4M144 182h6M57 183h4M144 183h6"/>
<path stroke="#0070ff" d="M43 0h1M97 0h1M168 0h1M43 1h1M97 1h1M168 1h1M43 2h1M97 2h1M168 2h1M43 3h1M96 3h1M168 3h5M43 4h1M96 4h1M168 4h14M43 5h1M96 5h1M174 5h8M43 6h1M43 7h1M95 7h1M43 8h1M95 8h1M43 9h1M43 10h1M94 10h1M43 11h1M94 11h1M42 12h2M93 12h1M42 13h2M93 13h1M42 14h2M42 15h3M92 15h1M43 16h3M92 16h1M44 17h3M91 17h1M45 18h4M91 18h1M46 19h4M48 20h3M90 20h1M49 21h5M89 21h2M50 22h7M88 22h2M54 23h7M88 23h1M57 24h6M87 24h1M58 25h5M87 25h1M58 26h4M87 26h1M57 27h4M87 27h1M57 28h4M87 28h1M56 29h4M56 30h3M86 30h1M55 31h3M86 31h1M54 32h3M85 32h1M54 33h3M85 33h1M53 34h3M85 34h1M52 35h3M84 35h1M51 36h3M84 36h1M51 37h2M50 38h3M83 38h1M49 39h3M83 39h1M49 40h3M50 41h2M84 41h1M50 42h3M50 43h3M85 43h1M50 44h3M85 44h1M50 45h3M51 46h2M86 46h1M51 47h3M86 47h1M51 48h2M86 48h1M51 49h1M86 49h1M51 50h1M50 51h1M87 51h1M87 52h1M49 53h1M87 53h1M49 54h1M87 54h1M49 55h1M86 56h1M86 57h1M50 58h1M86 58h4M50 59h1M88 59h4M91 60h3M51 61h1M93 61h3M51 62h1M95 62h2M51 63h1M96 63h1M96 64h1M52 65h1M96 65h1M52 66h1M96 66h1M52 67h1M96 67h1M147 67h2M96 68h1M147 68h1M52 69h1M96 69h1M52 70h1M96 70h1M52 71h1M96 71h1M52 72h1M96 72h1M52 73h1M96 73h1M52 74h1M96 74h1M52 75h1M96 75h1M52 76h1M96 76h1M52 77h1M52 78h1M97 78h1M52 79h1M97 79h1M52 80h1M97 80h1M52 81h1M97 81h1M52 82h1M97 82h1M176 82h6M52 83h1M97 83h1M173 83h9M51 84h1M98 84h1M170 84h12M51 85h1M98 85h1M167 85h4M175 85h7M99 86h1M164 86h4M176 86h6M50 87h1M99 87h1M161 87h4M50 88h1M159 88h3M49 89h1M100 89h1M157 89h3M49 90h1M100 90h1M156 90h2M100 91h1M154 91h2M48 92h1M100 92h1M152 92h2M48 93h1M147 93h6M101 94h1M147 94h4M47 95h1M101 95h1M146 95h3M101 96h1M145 96h2M46 97h1M101 97h1M144 97h2M46 98h1M101 98h1M144 98h1M46 99h2M100 99h1M143 99h1M47 100h1M100 100h1M142 100h2M47 101h1M100 101h1M141 101h2M47 102h1M99 102h3M140 102h2M47 103h1M100 103h3M139 103h2M47 104h1M102 104h3M138 104h2M47 105h2M103 105h7M137 105h3M48 106h1M104 106h6M137 106h3M48 107h1M109 107h1M136 107h3M48 108h1M108 108h2M135 108h4M48 109h1M108 109h2M134 109h5M48 110h2M108 110h1M133 110h5M49 111h2M108 111h1M132 111h6M49 112h2M108 112h2M132 112h5M49 113h2M109 113h1M132 113h5M49 114h2M109 114h1M132 114h4M43 115h1M49 115h2M109 115h2M131 115h4M42 116h2M49 116h2M110 116h1M131 116h4M41 117h2M50 117h2M110 117h2M131 117h3M40 118h3M50 118h2M110 118h2M131 118h2M39 119h4M50 119h2M111 119h1M131 119h2M38 120h4M50 120h2M111 120h1M131 120h2M37 121h5M50 121h2M111 121h1M130 121h3M35 122h1M37 122h5M50 122h2M111 122h2M130 122h3M34 123h1M36 123h5M50 123h2M112 123h1M130 123h2M33 124h1M36 124h5M51 124h2M112 124h1M130 124h2M32 125h1M36 125h5M51 125h2M112 125h1M130 125h2M32 126h1M34 126h5M51 126h2M112 126h2M129 126h2M32 127h4M51 127h2M113 127h1M127 127h3M33 128h1M51 128h2M113 128h2M126 128h2M51 129h2M114 129h1M125 129h2M51 130h2M115 130h1M123 130h3M52 131h2M115 131h2M122 131h2M52 132h2M116 132h2M121 132h2M52 133h2M117 133h5M52 134h2M118 134h2M52 135h3M53 136h2M53 137h3M53 138h3M54 139h3M54 140h3M54 141h3M54 142h3M54 143h3M55 144h2M55 145h2M141 145h1M55 146h3M139 146h3M55 147h3M136 147h5M55 148h3M134 148h7M56 149h3M133 149h7M56 150h3M133 150h7M56 151h3M132 151h7M57 152h3M132 152h7M57 153h3M132 153h6M57 154h3M89 154h2M131 154h6M58 155h3M89 155h1M131 155h5M59 156h2M131 156h4M59 157h2M130 157h4M59 158h3M60 159h2M60 160h2M60 161h2M60 162h2M60 163h2M60 164h2M60 165h3M61 166h2M61 167h2M61 168h2M60 169h3M60 170h3M59 171h3M58 172h4M58 173h4M57 174h4M57 175h4M56 176h4M56 177h4M55 178h4M55 179h4M54 180h4M54 181h4M53 182h4M53 183h4"/>
<path stroke="#0080ff" d="M42 0h1M98 0h1M166 0h2M42 1h1M98 1h1M166 1h2M41 2h2M98 2h1M166 2h2M41 3h2M97 3h1M166 3h2M41 4h2M97 4h1M166 4h2M41 5h2M97 5h1M166 5h8M41 6h2M96 6h1M167 6h15M41 7h2M96 7h1M175 7h7M41 8h2M96 8h1M41 9h2M95 9h1M41 10h2M95 10h1M41 11h2M95 11h1M41 12h1M94 12h1M41 13h1M94 13h1M41 14h1M93 14h1M41 15h1M93 15h1M41 16h2M93 16h1M41 17h3M92 17h1M42 18h3M92 18h1M43 19h3M91 19h1M44 20h4M91 20h1M45 21h4M47 22h3M90 22h1M48 23h6M89 23h2M50 24h7M88 24h2M51 25h7M88 25h2M50 26h8M88 26h1M50 27h7M88 27h1M49 28h8M88 28h1M49 29h7M87 29h1M48 30h8M87 30h1M48 31h7M87 31h1M48 32h6M86 32h1M48 33h6M86 33h1M47 34h6M47 35h5M85 35h1M47 36h4M85 36h1M176 36h6M47 37h4M84 37h1M175 37h7M47 38h3M84 38h1M174 38h8M47 39h2M84 39h1M174 39h8M47 40h2M84 40h1M174 40h8M47 41h3M85 41h1M175 41h7M47 42h3M85 42h1M175 42h7M47 43h3M86 43h1M175 43h7M48 44h2M86 44h1M176 44h6M48 45h2M86 45h1M176 45h6M48 46h3M48 47h3M48 48h3M87 48h1M48 49h3M87 49h1M48 50h3M87 50h1M49 51h1M49 52h1M48 53h1M88 53h1M48 54h1M87 55h1M49 56h1M87 56h1M49 57h1M87 57h4M49 58h1M90 58h3M92 59h3M50 60h1M94 60h3M50 61h1M96 61h2M97 62h1M97 63h1M51 64h1M97 64h1M150 64h2M51 65h1M97 65h1M147 65h4M97 66h1M146 66h5M97 67h1M144 67h3M149 67h2M52 68h1M97 68h1M144 68h3M148 68h2M97 69h1M145 69h5M97 70h1M146 70h3M97 71h1M147 71h1M97 72h1M97 73h1M97 74h1M97 75h1M97 76h1M51 77h1M97 77h1M51 78h1M175 78h7M51 79h1M175 79h7M51 80h1M98 80h1M174 80h8M51 81h1M98 81h1M173 81h9M51 82h1M98 82h1M172 82h4M51 83h1M98 83h1M169 83h4M99 84h1M166 84h4M50 85h1M99 85h1M163 85h4M50 86h1M100 86h1M160 86h4M100 87h1M159 87h2M49 88h1M100 88h1M157 88h2M155 89h2M48 90h1M101 90h1M150 90h6M48 91h1M101 91h1M147 91h7M101 92h1M146 92h6M47 93h1M101 93h1M146 93h1M47 94h1M145 94h2M46 95h1M102 95h1M144 95h2M46 96h1M102 96h1M143 96h2M102 97h1M143 97h1M45 98h1M142 98h2M45 99h1M101 99h1M141 99h2M45 100h2M101 100h1M140 100h2M46 101h1M101 101h3M139 101h2M46 102h1M102 102h3M138 102h2M46 103h1M103 103h9M137 103h2M46 104h1M105 104h7M137 104h1M46 105h1M110 105h2M136 105h1M46 106h2M110 106h2M135 106h2M47 107h1M110 107h2M134 107h2M47 108h1M110 108h1M133 108h2M47 109h1M110 109h1M132 109h2M47 110h1M109 110h2M131 110h2M47 111h2M109 111h2M130 111h2M46 112h3M110 112h1M130 112h2M45 113h4M110 113h2M130 113h2M43 114h6M110 114h2M129 114h3M42 115h1M44 115h5M111 115h1M129 115h2M41 116h1M44 116h5M111 116h2M129 116h2M40 117h1M43 117h7M112 117h1M129 117h2M39 118h1M43 118h7M112 118h1M129 118h2M38 119h1M43 119h4M48 119h2M112 119h1M128 119h3M37 120h1M42 120h5M48 120h2M112 120h2M128 120h3M35 121h2M42 121h5M48 121h2M112 121h2M128 121h2M34 122h1M42 122h4M48 122h2M113 122h1M128 122h2M33 123h1M41 123h5M48 123h2M113 123h1M128 123h2M32 124h1M41 124h5M49 124h2M113 124h1M128 124h2M30 125h2M41 125h4M49 125h2M113 125h1M127 125h3M30 126h2M39 126h4M49 126h2M114 126h1M126 126h3M30 127h2M36 127h5M49 127h2M114 127h2M125 127h2M30 128h3M34 128h5M49 128h2M115 128h1M124 128h2M32 129h4M49 129h2M115 129h2M122 129h3M33 130h1M49 130h2M116 130h2M121 130h2M50 131h2M117 131h2M120 131h2M50 132h2M118 132h3M50 133h2M50 134h2M50 135h2M50 136h3M50 137h3M51 138h2M51 139h3M52 140h2M52 141h2M52 142h2M52 143h2M52 144h3M52 145h3M52 146h3M52 147h3M52 148h3M52 149h4M53 150h3M53 151h3M53 152h4M54 153h3M54 154h3M55 155h3M56 156h3M56 157h3M57 158h2M58 159h2M58 160h2M58 161h2M58 162h2M58 163h2M58 164h2M58 165h2M59 166h2M59 167h2M59 168h2M58 169h2M58 170h2M57 171h2M56 172h2M56 173h2M55 174h2M54 175h3M53 176h3M53 177h3M52 178h3M51 179h4M51 180h3M50 181h4M50 182h3M49 183h4"/>
<path stroke="#008fff" d="M41 0h1M99 0h1M164 0h2M41 1h1M99 1h1M164 1h2M40 2h1M164 2h2M40 3h1M98 3h1M164 3h2M40 4h1M98 4h1M164 4h2M40 5h1M164 5h2M40 6h1M97 6h1M164 6h3M40 7h1M97 7h1M164 7h11M40 8h1M168 8h14M40 9h1M96 9h1M176 9h6M40 10h1M96 10h1M40 11h1M40 12h1M95 12h1M40 13h1M95 13h1M39 14h2M94 14h1M39 15h2M94 15h1M39 16h2M39 17h2M93 17h1M39 18h3M93 18h1M39 19h4M92 19h1M40 20h4M92 20h1M42 21h3M91 21h1M43 22h4M91 22h1M44 23h4M45 24h5M90 24h1M47 25h4M90 25h1M47 26h3M89 26h1M47 27h3M89 27h1M47 28h2M89 28h1M176 28h6M47 29h2M88 29h1M175 29h7M46 30h2M88 30h1M175 30h7M46 31h2M174 31h8M46 32h2M87 32h1M173 32h9M46 33h2M87 33h1M173 33h9M46 34h1M86 34h1M172 34h10M46 35h1M86 35h1M172 35h10M46 36h1M86 36h1M171 36h5M46 37h1M85 37h1M170 37h5M46 38h1M85 38h1M170 38h4M46 39h1M85 39h1M169 39h5M46 40h1M85 40h1M169 40h5M46 41h1M86 41h1M170 41h5M46 42h1M86 42h1M170 42h5M46 43h1M170 43h5M47 44h1M87 44h1M171 44h5M47 45h1M87 45h1M171 45h5M47 46h1M87 46h1M171 46h11M47 47h1M87 47h1M172 47h10M47 48h1M172 48h10M47 49h1M88 49h1M172 49h10M47 50h1M88 50h1M173 50h9M47 51h2M88 51h1M173 51h9M47 52h2M88 52h1M173 52h9M47 53h1M174 53h8M47 54h1M88 54h1M174 54h8M48 55h1M88 55h1M175 55h7M48 56h1M88 56h4M175 56h7M48 57h1M91 57h3M176 57h6M93 58h3M49 59h1M95 59h3M49 60h1M97 60h2M98 61h1M153 61h2M50 62h1M98 62h1M150 62h4M50 63h1M98 63h1M147 63h7M50 64h1M98 64h1M146 64h4M152 64h2M98 65h1M144 65h3M151 65h2M51 66h1M98 66h1M143 66h3M151 66h2M51 67h1M98 67h1M141 67h3M151 67h2M51 68h1M98 68h1M141 68h3M150 68h2M51 69h1M98 69h1M143 69h2M150 69h1M51 70h1M98 70h1M144 70h2M149 70h2M51 71h1M98 71h1M145 71h2M148 71h2M51 72h1M98 72h1M146 72h3M51 73h1M98 73h1M146 73h3M176 73h6M51 74h1M98 74h1M147 74h1M175 74h7M51 75h1M98 75h1M174 75h8M51 76h1M98 76h1M173 76h9M98 77h1M172 77h10M98 78h1M171 78h4M98 79h1M171 79h4M170 80h4M99 81h1M169 81h4M99 82h1M168 82h4M50 83h1M99 83h1M165 83h4M50 84h1M100 84h1M162 84h4M100 85h1M160 85h3M49 86h1M158 86h2M49 87h1M101 87h1M153 87h6M48 88h1M101 88h1M148 88h9M48 89h1M101 89h1M147 89h8M146 90h4M47 91h1M102 91h1M145 91h2M47 92h1M102 92h1M145 92h1M46 93h1M102 93h1M144 93h2M46 94h1M102 94h1M143 94h2M45 95h1M142 95h2M45 96h1M103 96h1M142 96h1M45 97h1M141 97h2M102 98h1M140 98h2M44 99h1M102 99h2M139 99h2M44 100h1M102 100h5M138 100h2M45 101h1M104 101h9M137 101h2M45 102h1M105 102h9M136 102h2M45 103h1M112 103h2M136 103h1M45 104h1M112 104h2M135 104h2M45 105h1M112 105h1M134 105h2M45 106h1M112 106h1M133 106h2M45 107h2M112 107h1M132 107h2M46 108h1M111 108h2M131 108h2M46 109h1M111 109h2M130 109h2M46 110h1M111 110h1M129 110h2M46 111h1M111 111h1M128 111h2M45 112h1M111 112h2M128 112h2M43 113h2M112 113h1M128 113h2M42 114h1M112 114h1M127 114h2M41 115h1M112 115h2M127 115h2M40 116h1M113 116h1M127 116h2M39 117h1M113 117h1M126 117h3M38 118h1M113 118h2M126 118h3M37 119h1M47 119h1M113 119h2M126 119h2M35 120h2M47 120h1M114 120h1M126 120h2M34 121h1M47 121h1M114 121h1M126 121h2M33 122h1M46 122h2M114 122h1M126 122h2M32 123h1M46 123h2M114 123h1M125 123h3M30 124h2M46 124h3M114 124h2M125 124h3M29 125h1M45 125h4M114 125h2M125 125h2M29 126h1M43 126h6M115 126h1M124 126h2M29 127h1M41 127h8M116 127h1M123 127h2M29 128h1M39 128h4M46 128h3M116 128h2M121 128h3M29 129h3M36 129h5M47 129h2M117 129h1M120 129h2M30 130h3M34 130h5M47 130h2M118 130h3M32 131h5M47 131h3M119 131h1M33 132h1M48 132h2M48 133h2M48 134h2M48 135h2M48 136h2M48 137h2M48 138h3M49 139h2M49 140h3M49 141h3M49 142h3M49 143h3M49 144h3M49 145h3M50 146h2M50 147h2M50 148h2M50 149h2M50 150h3M50 151h3M50 152h3M51 153h3M51 154h3M52 155h3M52 156h4M53 157h3M54 158h3M55 159h3M56 160h2M56 161h2M56 162h2M56 163h2M56 164h2M56 165h2M57 166h2M57 167h2M57 168h2M56 169h2M56 170h2M55 171h2M54 172h2M54 173h2M53 174h2M0 175h5M52 175h2M0 176h6M51 176h2M0 177h7M51 177h2M0 178h7M50 178h2M0 179h8M49 179h2M0 180h20M49 180h2M0 181h23M48 181h2M0 182h26M43 182h7M0 183h28M39 183h10"/>
<path stroke="#009fff" d="M40 0h1M100 0h1M163 0h1M39 1h2M100 1h1M163 1h1M39 2h1M99 2h1M163 2h1M39 3h1M99 3h1M163 3h1M39 4h1M99 4h1M163 4h1M38 5h2M98 5h1M163 5h1M38 6h2M98 6h1M163 6h1M38 7h2M98 7h1M163 7h1M38 8h2M97 8h1M163 8h5M38 9h2M97 9h1M163 9h13M38 10h2M97 10h1M169 10h13M38 11h2M96 11h1M169 11h13M38 12h2M96 12h1M169 12h13M38 13h2M169 13h13M38 14h1M95 14h1M169 14h13M38 15h1M95 15h1M169 15h13M38 16h1M94 16h1M169 16h13M38 17h1M94 17h1M169 17h13M38 18h1M169 18h13M38 19h1M93 19h1M169 19h13M37 20h3M93 20h1M169 20h13M38 21h4M92 21h1M169 21h13M39 22h4M92 22h1M169 22h13M41 23h3M91 23h2M169 23h13M42 24h3M91 24h2M169 24h13M43 25h4M91 25h1M169 25h13M44 26h3M90 26h2M169 26h13M45 27h2M90 27h1M169 27h13M45 28h2M169 28h7M45 29h2M89 29h1M169 29h6M45 30h1M89 30h1M169 30h6M45 31h1M88 31h1M169 31h5M45 32h1M88 32h1M169 32h4M45 33h1M88 33h1M168 33h5M45 34h1M87 34h1M167 34h5M44 35h2M87 35h1M167 35h5M44 36h2M87 36h1M166 36h5M44 37h2M86 37h1M165 37h5M44 38h2M86 38h1M165 38h5M44 39h2M86 39h1M164 39h5M45 40h1M86 40h1M165 40h4M45 41h1M87 41h1M165 41h5M45 42h1M87 42h1M165 42h5M45 43h1M87 43h1M166 43h4M46 44h1M166 44h5M46 45h1M88 45h1M166 45h5M46 46h1M88 46h1M167 46h4M46 47h1M88 47h1M167 47h5M46 48h1M88 48h1M167 48h5M46 49h1M168 49h4M46 50h1M89 50h1M168 50h5M46 51h1M89 51h1M168 51h5M46 52h1M89 52h1M169 52h4M46 53h1M89 53h1M169 53h5M46 54h1M89 54h2M170 54h4M45 55h3M89 55h4M171 55h4M45 56h3M92 56h3M171 56h4M94 57h3M172 57h4M48 58h1M96 58h3M156 58h1M173 58h9M48 59h1M98 59h2M153 59h4M173 59h9M99 60h1M150 60h7M173 60h9M49 61h1M99 61h1M147 61h6M155 61h1M174 61h8M49 62h1M99 62h1M146 62h4M154 62h2M174 62h8M49 63h1M99 63h1M144 63h3M154 63h2M174 63h8M99 64h1M143 64h3M154 64h1M175 64h7M50 65h1M99 65h1M141 65h3M153 65h2M175 65h7M50 66h1M99 66h1M140 66h3M153 66h2M176 66h6M50 67h1M99 67h1M138 67h3M153 67h1M176 67h6M99 68h1M138 68h3M152 68h2M176 68h6M99 69h1M140 69h3M151 69h2M175 69h7M50 70h1M99 70h1M141 70h3M151 70h2M174 70h8M50 71h1M99 71h1M143 71h2M150 71h2M173 71h9M50 72h1M99 72h1M144 72h2M149 72h2M172 72h10M50 73h1M99 73h1M145 73h1M149 73h2M172 73h4M50 74h1M99 74h1M145 74h2M148 74h2M171 74h4M50 75h1M99 75h1M146 75h3M170 75h4M50 76h1M99 76h1M147 76h2M169 76h4M50 77h1M99 77h1M147 77h1M168 77h4M50 78h1M99 78h1M167 78h4M50 79h1M99 79h1M166 79h5M50 80h1M99 80h1M166 80h4M50 81h1M165 81h4M50 82h1M100 82h1M164 82h4M100 83h1M161 83h4M49 84h1M101 84h1M157 84h5M49 85h1M101 85h1M151 85h9M101 86h1M147 86h11M48 87h1M147 87h6M102 88h1M146 88h2M47 89h1M102 89h1M145 89h2M47 90h1M102 90h1M144 90h2M46 91h1M144 91h1M46 92h1M143 92h2M45 93h1M103 93h1M142 93h2M45 94h1M103 94h1M141 94h2M103 95h1M141 95h1M44 96h1M140 96h2M44 97h1M103 97h1M139 97h2M44 98h1M103 98h5M138 98h2M104 99h11M137 99h2M43 100h1M107 100h9M136 100h2M43 101h2M113 101h3M136 101h1M44 102h1M114 102h2M135 102h1M44 103h1M114 103h1M134 103h2M44 104h1M114 104h1M133 104h2M44 105h1M113 105h2M132 105h2M44 106h1M113 106h2M131 106h2M44 107h1M113 107h2M130 107h2M45 108h1M113 108h1M129 108h2M45 109h1M113 109h1M128 109h2M45 110h1M112 110h2M127 110h2M45 111h1M112 111h2M126 111h2M44 112h1M113 112h1M126 112h2M42 113h1M113 113h2M126 113h2M41 114h1M113 114h2M125 114h2M40 115h1M114 115h1M125 115h2M39 116h1M114 116h1M125 116h2M38 117h1M114 117h2M124 117h2M37 118h1M115 118h1M124 118h2M35 119h2M115 119h1M124 119h2M34 120h1M115 120h1M124 120h2M33 121h1M115 121h1M123 121h3M32 122h1M115 122h2M123 122h3M30 123h2M115 123h2M123 123h2M29 124h1M116 124h1M123 124h2M28 125h1M116 125h1M123 125h2M28 126h1M116 126h2M121 126h3M28 127h1M117 127h1M120 127h3M28 128h1M43 128h3M118 128h3M28 129h1M41 129h6M118 129h2M28 130h2M39 130h8M29 131h3M37 131h4M42 131h5M30 132h3M34 132h5M43 132h5M31 133h6M43 133h5M33 134h1M43 134h5M44 135h4M44 136h4M44 137h4M45 138h3M45 139h4M45 140h4M45 141h4M45 142h4M46 143h3M46 144h3M46 145h3M46 146h4M46 147h4M47 148h3M47 149h3M47 150h3M47 151h3M47 152h3M47 153h4M48 154h3M49 155h3M49 156h3M50 157h3M51 158h3M52 159h3M52 160h4M53 161h3M54 162h2M54 163h2M54 164h2M54 165h2M54 166h3M55 167h2M0 168h8M55 168h2M0 169h9M54 169h2M0 170h9M54 170h2M0 171h10M53 171h2M0 172h11M52 172h2M0 173h11M51 173h3M0 174h12M51 174h2M5 175h9M50 175h2M6 176h16M49 176h2M7 177h18M49 177h2M7 178h21M48 178h2M8 179h23M44 179h5M20 180h14M38 180h11M23 181h25M26 182h17M28 183h11"/>
<path stroke="#00afff" d="M39 0h1M101 0h1M157 0h6M38 1h1M101 1h1M156 1h7M38 2h1M100 2h1M155 2h8M38 3h1M100 3h1M155 3h8M38 4h1M155 4h8M37 5h1M99 5h1M155 5h8M37 6h1M99 6h1M155 6h8M37 7h1M155 7h8M37 8h1M98 8h1M155 8h8M37 9h1M98 9h1M155 9h8M37 10h1M155 10h14M37 11h1M97 11h1M153 11h16M37 12h1M97 12h1M152 12h17M37 13h1M96 13h1M150 13h19M37 14h1M96 14h1M149 14h20M36 15h2M147 15h22M36 16h2M95 16h1M147 16h22M36 17h2M95 17h1M146 17h23M36 18h2M94 18h1M146 18h23M36 19h2M94 19h1M145 19h24M36 20h1M145 20h24M36 21h2M93 21h1M144 21h25M36 22h3M93 22h1M143 22h26M37 23h4M93 23h1M143 23h26M38 24h4M93 24h1M142 24h27M40 25h3M92 25h2M142 25h27M41 26h3M92 26h1M142 26h27M42 27h3M91 27h2M142 27h11M160 27h9M43 28h2M90 28h2M142 28h5M160 28h9M44 29h1M90 29h1M142 29h2M160 29h9M44 30h1M90 30h1M160 30h9M43 31h2M89 31h1M160 31h9M43 32h2M89 32h1M160 32h9M43 33h2M89 33h1M160 33h8M43 34h2M88 34h1M160 34h7M43 35h1M88 35h1M160 35h7M43 36h1M160 36h6M43 37h1M87 37h1M160 37h5M43 38h1M87 38h1M160 38h5M43 39h1M160 39h4M43 40h2M87 40h1M160 40h5M44 41h1M160 41h5M44 42h1M88 42h1M160 42h5M44 43h1M88 43h1M161 43h5M44 44h2M88 44h1M161 44h5M45 45h1M161 45h5M45 46h1M162 46h5M45 47h1M89 47h1M162 47h5M45 48h1M89 48h1M163 48h4M45 49h1M89 49h1M163 49h5M45 50h1M163 50h5M45 51h1M164 51h4M45 52h1M90 52h2M164 52h5M45 53h1M90 53h2M164 53h5M45 54h1M91 54h3M165 54h5M44 55h1M93 55h3M159 55h1M166 55h5M44 56h1M95 56h3M156 56h4M167 56h4M43 57h5M97 57h3M153 57h7M167 57h5M43 58h5M99 58h2M150 58h6M157 58h2M168 58h5M47 59h1M100 59h1M147 59h6M157 59h2M169 59h4M48 60h1M100 60h1M146 60h4M157 60h2M170 60h3M48 61h1M100 61h1M145 61h2M156 61h2M170 61h4M48 62h1M100 62h1M143 62h3M156 62h2M171 62h3M100 63h1M142 63h2M156 63h2M171 63h3M49 64h1M100 64h1M140 64h3M155 64h2M171 64h4M49 65h1M100 65h1M139 65h2M155 65h2M172 65h3M100 66h1M137 66h3M155 66h2M172 66h4M100 67h1M136 67h2M154 67h2M172 67h4M50 68h1M100 68h1M135 68h3M154 68h2M172 68h4M50 69h1M100 69h1M137 69h3M153 69h2M171 69h4M100 70h1M138 70h3M153 70h2M170 70h4M100 71h1M140 71h3M152 71h2M170 71h3M100 72h1M141 72h3M151 72h2M169 72h3M100 73h1M143 73h2M151 73h2M168 73h4M100 74h1M143 74h2M150 74h2M167 74h4M100 75h1M144 75h2M149 75h2M166 75h4M100 76h1M145 76h2M149 76h2M165 76h4M100 77h1M145 77h2M148 77h2M164 77h4M49 78h1M100 78h1M146 78h3M164 78h3M49 79h1M100 79h1M147 79h2M163 79h3M49 80h1M100 80h1M147 80h1M162 80h4M49 81h1M100 81h1M158 81h7M49 82h1M155 82h9M49 83h1M101 83h1M149 83h12M102 84h1M147 84h10M48 85h1M102 85h1M146 85h5M48 86h1M102 86h1M145 86h2M47 87h1M102 87h1M145 87h2M47 88h1M144 88h2M46 89h1M103 89h1M143 89h2M46 90h1M103 90h1M143 90h1M103 91h1M142 91h2M45 92h1M103 92h1M141 92h2M140 93h2M44 94h1M104 94h1M140 94h1M44 95h1M104 95h3M139 95h2M43 96h1M104 96h7M138 96h2M43 97h1M104 97h12M137 97h2M43 98h1M108 98h10M136 98h2M43 99h1M115 99h3M135 99h2M116 100h2M135 100h1M116 101h1M134 101h2M43 102h1M116 102h1M133 102h2M43 103h1M115 103h2M132 103h2M43 104h1M115 104h2M131 104h2M43 105h1M115 105h1M130 105h2M43 106h1M115 106h1M129 106h2M43 107h1M115 107h1M128 107h2M43 108h2M114 108h2M127 108h2M44 109h1M114 109h2M126 109h2M44 110h1M114 110h1M125 110h2M44 111h1M114 111h1M124 111h2M42 112h2M114 112h2M124 112h2M41 113h1M115 113h1M124 113h2M40 114h1M115 114h1M123 114h2M39 115h1M115 115h2M123 115h2M38 116h1M115 116h2M123 116h2M37 117h1M116 117h1M122 117h2M36 118h1M116 118h1M122 118h2M34 119h1M116 119h1M122 119h2M33 120h1M116 120h1M122 120h2M32 121h1M116 121h2M121 121h2M31 122h1M117 122h1M121 122h2M29 123h1M117 123h1M121 123h2M28 124h1M117 124h1M120 124h3M26 125h2M117 125h1M120 125h3M26 126h2M118 126h3M26 127h2M118 127h2M27 128h1M27 129h1M27 130h1M27 131h2M41 131h1M27 132h3M39 132h4M29 133h2M37 133h6M30 134h3M34 134h9M31 135h6M39 135h5M33 136h1M39 136h5M40 137h4M40 138h5M40 139h5M41 140h4M41 141h4M41 142h4M41 143h5M41 144h5M41 145h5M41 146h5M41 147h5M41 148h6M41 149h6M41 150h6M41 151h6M42 152h5M42 153h5M42 154h6M42 155h7M42 156h7M42 157h8M42 158h9M42 159h2M48 159h4M49 160h3M50 161h3M51 162h3M51 163h3M52 164h2M0 165h8M52 165h2M0 166h10M52 166h2M0 167h13M53 167h2M8 168h7M53 168h2M9 169h7M52 169h2M9 170h8M52 170h2M10 171h10M51 171h2M11 172h12M50 172h2M11 173h16M49 173h2M12 174h18M49 174h2M14 175h19M48 175h2M22 176h14M45 176h4M25 177h24M28 178h20M31 179h13M34 180h4"/>
<path stroke="#00bfff" d="M38 0h1M102 0h1M152 0h5M37 1h1M151 1h5M37 2h1M101 2h1M150 2h5M37 3h1M101 3h1M150 3h5M37 4h1M100 4h1M149 4h6M36 5h1M100 5h1M148 5h7M36 6h1M100 6h1M148 6h7M36 7h1M99 7h1M147 7h8M36 8h1M99 8h1M146 8h9M36 9h1M99 9h1M145 9h10M36 10h1M98 10h1M144 10h11M35 11h2M98 11h1M144 11h9M35 12h2M98 12h1M143 12h9M35 13h2M97 13h1M143 13h7M35 14h2M97 14h1M142 14h7M35 15h1M96 15h1M142 15h5M35 16h1M96 16h1M141 16h6M35 17h1M141 17h5M35 18h1M95 18h1M140 18h6M35 19h1M95 19h1M139 19h6M35 20h1M94 20h2M139 20h6M34 21h2M94 21h2M138 21h6M34 22h2M94 22h2M138 22h5M34 23h3M94 23h2M137 23h6M35 24h3M94 24h2M136 24h6M36 25h4M94 25h2M136 25h6M37 26h4M93 26h2M136 26h6M38 27h4M93 27h1M136 27h6M153 27h7M40 28h3M92 28h2M136 28h6M147 28h13M41 29h3M91 29h2M136 29h6M144 29h16M42 30h2M91 30h1M136 30h19M157 30h3M42 31h1M90 31h2M136 31h11M157 31h3M42 32h1M90 32h1M136 32h9M157 32h3M42 33h1M136 33h7M157 33h3M42 34h1M89 34h1M136 34h4M157 34h3M42 35h1M89 35h1M136 35h2M157 35h3M42 36h1M88 36h1M157 36h3M41 37h2M88 37h1M157 37h3M41 38h2M88 38h1M157 38h3M41 39h2M87 39h1M156 39h4M42 40h1M88 40h1M156 40h4M42 41h2M88 41h1M156 41h4M43 42h1M156 42h4M43 43h1M89 43h1M156 43h5M43 44h1M89 44h1M156 44h5M44 45h1M89 45h1M156 45h5M44 46h1M89 46h1M156 46h6M44 47h1M157 47h5M44 48h1M90 48h1M157 48h6M44 49h1M90 49h5M157 49h6M44 50h1M90 50h5M158 50h5M44 51h1M90 51h5M158 51h6M44 52h1M92 52h3M159 52h5M44 53h1M92 53h3M159 53h5M44 54h1M94 54h2M157 54h8M43 55h1M96 55h2M154 55h5M160 55h6M43 56h1M98 56h2M151 56h5M160 56h7M42 57h1M100 57h1M148 57h5M160 57h2M163 57h4M42 58h1M101 58h1M146 58h4M159 58h2M163 58h5M41 59h6M101 59h1M145 59h2M159 59h2M164 59h5M41 60h7M101 60h1M143 60h3M159 60h2M165 60h5M44 61h4M101 61h1M133 61h1M142 61h3M158 61h2M166 61h4M101 62h1M133 62h1M140 62h3M158 62h2M167 62h4M48 63h1M101 63h1M133 63h2M139 63h3M158 63h2M167 63h4M48 64h1M101 64h1M133 64h3M137 64h3M157 64h2M168 64h3M101 65h1M133 65h6M157 65h2M168 65h4M49 66h1M101 66h1M132 66h5M157 66h2M168 66h4M49 67h1M101 67h1M132 67h4M156 67h2M169 67h3M49 68h1M101 68h1M132 68h3M156 68h2M169 68h3M49 69h1M101 69h1M134 69h3M155 69h2M168 69h3M49 70h1M101 70h1M136 70h2M155 70h1M167 70h3M49 71h1M101 71h1M137 71h3M154 71h2M166 71h4M49 72h1M101 72h1M138 72h3M153 72h2M165 72h4M49 73h1M101 73h1M140 73h3M153 73h1M164 73h4M49 74h1M101 74h1M141 74h2M152 74h2M163 74h4M49 75h1M101 75h1M142 75h2M151 75h2M163 75h3M49 76h1M101 76h1M143 76h2M151 76h1M161 76h4M49 77h1M101 77h1M143 77h2M150 77h2M158 77h6M101 78h1M144 78h2M149 78h2M154 78h10M101 79h1M145 79h2M149 79h14M101 80h1M145 80h2M148 80h14M101 81h1M146 81h12M101 82h1M147 82h8M48 83h1M102 83h1M146 83h3M48 84h1M145 84h2M103 85h1M144 85h2M47 86h1M103 86h1M144 86h1M103 87h1M143 87h2M46 88h1M103 88h1M142 88h2M141 89h2M45 90h1M104 90h1M141 90h2M45 91h1M104 91h1M140 91h2M44 92h1M104 92h5M139 92h2M44 93h1M104 93h9M139 93h1M43 94h1M105 94h12M138 94h2M43 95h1M107 95h13M137 95h2M42 96h1M111 96h11M136 96h2M42 97h1M116 97h6M135 97h2M42 98h1M118 98h3M135 98h1M42 99h1M118 99h2M134 99h1M42 100h1M118 100h1M133 100h2M42 101h1M117 101h2M132 101h2M42 102h1M117 102h2M131 102h2M42 103h1M117 103h1M130 103h2M42 104h1M117 104h1M129 104h2M42 105h1M116 105h2M128 105h2M42 106h1M116 106h2M127 106h2M42 107h1M116 107h2M126 107h2M42 108h1M116 108h1M125 108h2M42 109h2M116 109h1M124 109h2M43 110h1M115 110h2M123 110h2M42 111h2M115 111h2M122 111h2M41 112h1M116 112h1M122 112h2M40 113h1M116 113h2M121 113h3M39 114h1M116 114h2M121 114h2M38 115h1M117 115h1M121 115h2M37 116h1M117 116h1M121 116h2M36 117h1M117 117h1M120 117h2M34 118h2M117 118h1M120 118h2M33 119h1M117 119h2M120 119h2M32 120h1M117 120h5M31 121h1M118 121h3M29 122h2M118 122h3M28 123h1M118 123h3M27 124h1M118 124h2M25 125h1M118 125h2M25 126h1M25 127h1M25 128h2M25 129h2M25 130h2M25 131h2M26 132h1M26 133h3M27 134h3M29 135h2M37 135h2M30 136h3M34 136h5M31 137h9M33 138h7M36 139h4M36 140h5M36 141h5M36 142h5M36 143h5M36 144h5M36 145h5M36 146h5M36 147h5M36 148h5M36 149h5M36 150h5M36 151h5M36 152h6M36 153h6M36 154h6M36 155h6M36 156h6M36 157h6M36 158h6M36 159h6M44 159h4M36 160h13M36 161h14M25 162h1M36 162h15M0 163h11M24 163h2M36 163h9M48 163h3M0 164h13M23 164h3M36 164h5M49 164h3M8 165h7M21 165h5M36 165h2M50 165h2M10 166h7M20 166h6M50 166h2M13 167h13M51 167h2M15 168h11M51 168h2M16 169h12M50 169h2M17 170h14M50 170h2M20 171h15M49 171h2M23 172h15M48 172h2M27 173h14M46 173h3M30 174h19M33 175h15M36 176h9"/>
<path stroke="#00cfff" d="M37 0h1M103 0h1M146 0h6M36 1h1M102 1h1M145 1h6M36 2h1M102 2h1M145 2h5M36 3h1M102 3h1M144 3h6M36 4h1M101 4h1M143 4h6M35 5h1M101 5h1M142 5h6M35 6h1M101 6h1M141 6h7M35 7h1M100 7h1M140 7h7M34 8h2M100 8h1M139 8h7M34 9h2M138 9h7M34 10h2M99 10h1M137 10h7M34 11h1M99 11h1M136 11h8M34 12h1M136 12h7M34 13h1M98 13h1M135 13h8M34 14h1M98 14h1M135 14h7M34 15h1M97 15h1M134 15h8M34 16h1M97 16h1M134 16h7M33 17h2M96 17h1M133 17h8M33 18h2M96 18h1M133 18h7M33 19h2M96 19h1M133 19h6M33 20h2M96 20h1M132 20h7M33 21h1M96 21h1M132 21h6M33 22h1M96 22h1M131 22h7M33 23h1M96 23h1M131 23h6M33 24h2M96 24h2M131 24h5M33 25h3M96 25h1M130 25h6M34 26h3M95 26h2M130 26h6M35 27h3M94 27h2M129 27h7M36 28h4M94 28h1M129 28h7M37 29h4M93 29h2M129 29h7M39 30h3M92 30h2M129 30h7M155 30h2M40 31h2M92 31h1M129 31h7M147 31h10M41 32h1M91 32h2M129 32h7M145 32h12M40 33h2M90 33h2M129 33h7M143 33h14M40 34h2M90 34h1M129 34h7M140 34h8M153 34h4M40 35h2M90 35h1M129 35h7M138 35h7M153 35h4M40 36h2M89 36h1M129 36h14M153 36h4M40 37h1M89 37h1M129 37h12M153 37h4M40 38h1M129 38h10M153 38h4M40 39h1M88 39h1M129 39h8M153 39h3M40 40h2M89 40h1M131 40h6M153 40h3M41 41h1M89 41h1M132 41h5M153 41h3M41 42h2M89 42h1M132 42h5M153 42h3M42 43h1M132 43h5M152 43h4M42 44h1M132 44h5M152 44h4M43 45h1M90 45h4M132 45h5M152 45h4M43 46h1M90 46h8M132 46h5M152 46h4M43 47h1M90 47h8M132 47h5M152 47h5M43 48h1M91 48h7M132 48h5M152 48h5M43 49h1M95 49h3M132 49h5M152 49h5M43 50h1M95 50h3M132 50h5M152 50h6M43 51h1M95 51h3M132 51h5M152 51h6M43 52h1M95 52h3M132 52h6M153 52h6M43 53h1M95 53h3M132 53h6M153 53h6M43 54h1M96 54h3M132 54h7M151 54h6M42 55h1M98 55h3M132 55h7M148 55h6M42 56h1M100 56h2M132 56h8M146 56h5M41 57h1M101 57h1M132 57h9M145 57h3M162 57h1M41 58h1M131 58h10M143 58h3M161 58h2M40 59h1M102 59h1M131 59h14M161 59h3M40 60h1M102 60h1M131 60h12M161 60h4M39 61h5M102 61h1M131 61h2M134 61h8M160 61h6M39 62h9M102 62h1M131 62h2M134 62h6M160 62h7M42 63h6M102 63h1M131 63h2M135 63h4M160 63h1M163 63h4M102 64h1M131 64h2M136 64h1M159 64h2M164 64h4M48 65h1M102 65h1M130 65h3M159 65h2M164 65h4M48 66h1M102 66h1M130 66h2M159 66h1M165 66h3M102 67h1M130 67h2M158 67h2M165 67h4M102 68h1M130 68h2M158 68h2M165 68h4M102 69h1M129 69h5M157 69h2M164 69h4M102 70h1M129 70h7M156 70h2M163 70h4M48 71h1M102 71h1M129 71h3M134 71h3M156 71h2M162 71h4M48 72h1M102 72h1M128 72h2M136 72h2M155 72h2M161 72h4M48 73h1M102 73h1M137 73h3M154 73h2M157 73h7M48 74h1M102 74h1M139 74h2M154 74h9M48 75h1M102 75h1M140 75h2M153 75h10M48 76h1M102 76h1M141 76h2M152 76h9M48 77h1M102 77h1M141 77h2M152 77h6M48 78h1M102 78h1M142 78h2M151 78h3M48 79h1M102 79h1M143 79h2M48 80h1M102 80h1M143 80h2M48 81h1M102 81h1M144 81h2M48 82h1M102 82h1M145 82h2M103 83h1M144 83h2M47 84h1M103 84h1M143 84h2M47 85h1M143 85h1M46 86h1M142 86h2M46 87h1M104 87h1M141 87h2M45 88h1M104 88h3M140 88h2M45 89h1M104 89h7M140 89h1M44 90h1M105 90h10M139 90h2M44 91h1M105 91h14M138 91h2M43 92h1M109 92h11M137 92h2M43 93h1M113 93h8M137 93h2M42 94h1M117 94h6M136 94h2M42 95h1M120 95h6M135 95h2M122 96h7M134 96h2M41 97h1M122 97h7M134 97h1M41 98h1M121 98h7M133 98h2M41 99h1M120 99h7M132 99h2M41 100h1M119 100h7M131 100h2M41 101h1M119 101h6M130 101h2M41 102h1M119 102h5M129 102h2M41 103h1M118 103h5M128 103h2M41 104h1M118 104h4M127 104h2M41 105h1M118 105h3M126 105h2M41 106h1M118 106h2M125 106h2M41 107h1M118 107h1M124 107h2M41 108h1M117 108h2M123 108h2M41 109h1M117 109h2M122 109h2M42 110h1M117 110h1M121 110h2M41 111h1M117 111h1M120 111h2M40 112h1M117 112h2M120 112h2M39 113h1M118 113h3M38 114h1M118 114h3M37 115h1M118 115h3M36 116h1M118 116h3M34 117h2M118 117h2M33 118h1M118 118h2M32 119h1M119 119h1M31 120h1M29 121h2M28 122h1M27 123h1M25 124h2M24 125h1M24 126h1M24 127h1M24 128h1M24 129h1M24 130h1M24 131h1M24 132h2M24 133h2M24 134h3M26 135h3M27 136h3M28 137h3M30 138h3M31 139h5M32 140h4M32 141h4M31 142h5M31 143h5M31 144h5M31 145h5M31 146h5M31 147h5M31 148h5M31 149h5M31 150h5M31 151h5M31 152h5M31 153h5M31 154h5M30 155h6M29 156h7M27 157h9M26 158h10M25 159h11M0 160h6M24 160h12M0 161h13M22 161h14M0 162h16M21 162h4M26 162h10M11 163h7M20 163h4M26 163h10M45 163h3M13 164h10M26 164h10M41 164h8M15 165h6M26 165h10M38 165h12M17 166h3M26 166h24M26 167h19M48 167h3M26 168h16M49 168h2M28 169h15M48 169h2M31 170h19M35 171h14M38 172h10M41 173h5"/>
<path stroke="#00dfff" d="M36 0h1M139 0h7M35 1h1M103 1h1M138 1h7M35 2h1M103 2h1M137 2h8M35 3h1M136 3h8M35 4h1M102 4h1M135 4h8M34 5h1M102 5h1M135 5h7M34 6h1M134 6h7M34 7h1M101 7h1M132 7h8M33 8h1M101 8h1M130 8h9M33 9h1M100 9h1M128 9h10M33 10h1M100 10h1M126 10h11M33 11h1M100 11h1M127 11h9M33 12h1M99 12h1M127 12h9M33 13h1M99 13h1M128 13h7M33 14h1M128 14h7M33 15h1M98 15h1M128 15h6M33 16h1M98 16h1M128 16h6M97 17h1M128 17h5M32 18h1M97 18h2M127 18h6M32 19h1M97 19h2M127 19h6M32 20h1M97 20h2M127 20h5M32 21h1M97 21h2M126 21h6M32 22h1M97 22h2M126 22h5M32 23h1M97 23h2M125 23h6M32 24h1M98 24h1M125 24h6M32 25h1M97 25h2M125 25h5M32 26h2M97 26h1M124 26h6M32 27h3M96 27h1M124 27h5M33 28h3M95 28h2M123 28h6M34 29h3M95 29h1M123 29h6M35 30h4M94 30h2M123 30h6M36 31h4M93 31h2M122 31h7M37 32h4M93 32h1M122 32h7M39 33h1M92 33h2M121 33h8M39 34h1M91 34h2M121 34h8M148 34h5M39 35h1M91 35h1M121 35h8M145 35h8M39 36h1M90 36h2M120 36h9M143 36h10M39 37h1M90 37h1M120 37h9M141 37h12M38 38h2M89 38h1M119 38h10M139 38h7M149 38h4M39 39h1M89 39h1M119 39h10M137 39h7M149 39h4M39 40h1M121 40h10M137 40h7M149 40h4M40 41h1M90 41h2M123 41h9M137 41h7M149 41h4M40 42h1M90 42h6M124 42h8M137 42h7M149 42h4M40 43h2M90 43h10M126 43h6M137 43h7M149 43h3M41 44h1M90 44h10M128 44h4M137 44h8M149 44h3M41 45h2M94 45h6M128 45h4M137 45h8M149 45h3M42 46h1M98 46h2M128 46h4M137 46h8M148 46h4M42 47h1M98 47h2M128 47h4M137 47h9M148 47h4M42 48h1M98 48h2M128 48h4M137 48h9M148 48h4M42 49h1M98 49h2M128 49h4M137 49h9M148 49h4M42 50h1M98 50h2M128 50h4M137 50h10M148 50h4M42 51h1M98 51h2M128 51h4M137 51h10M148 51h4M42 52h1M98 52h2M128 52h4M138 52h9M148 52h5M42 53h1M98 53h2M128 53h4M138 53h15M42 54h1M99 54h3M128 54h4M139 54h12M41 55h1M101 55h2M129 55h3M139 55h9M41 56h1M102 56h1M129 56h3M140 56h6M40 57h1M102 57h1M129 57h3M141 57h4M40 58h1M102 58h1M129 58h2M141 58h2M39 59h1M103 59h1M129 59h2M39 60h1M103 60h1M129 60h2M38 61h1M103 61h1M129 61h2M38 62h1M103 62h1M129 62h2M37 63h5M103 63h1M129 63h2M161 63h2M37 64h11M103 64h1M128 64h3M161 64h3M40 65h8M103 65h1M128 65h2M161 65h3M46 66h2M103 66h1M128 66h2M160 66h5M48 67h1M103 67h1M128 67h2M160 67h5M48 68h1M103 68h1M128 68h2M160 68h5M48 69h1M103 69h1M127 69h2M159 69h5M48 70h1M103 70h1M127 70h2M158 70h5M103 71h1M127 71h2M132 71h2M158 71h4M103 72h1M126 72h2M130 72h6M157 72h4M103 73h1M126 73h6M134 73h3M156 73h1M103 74h1M125 74h5M136 74h3M103 75h1M125 75h3M137 75h3M47 76h1M103 76h1M125 76h1M139 76h2M47 77h1M103 77h1M140 77h1M47 78h1M103 78h1M140 78h2M47 79h1M103 79h1M141 79h2M47 80h1M103 80h1M142 80h1M47 81h1M103 81h1M142 81h2M47 82h1M103 82h1M143 82h2M47 83h1M104 83h1M142 83h2M46 84h1M104 84h2M141 84h2M46 85h1M104 85h6M141 85h2M45 86h1M104 86h10M140 86h2M45 87h1M105 87h13M139 87h2M44 88h1M107 88h13M138 88h2M44 89h1M111 89h10M138 89h2M115 90h7M137 90h2M43 91h1M119 91h4M136 91h2M120 92h5M136 92h1M42 93h1M121 93h7M135 93h2M123 94h7M134 94h2M41 95h1M126 95h9M41 96h1M129 96h5M40 97h1M129 97h5M40 98h1M128 98h5M40 99h1M127 99h5M40 100h1M126 100h5M40 101h1M125 101h5M40 102h1M124 102h5M40 103h1M123 103h5M40 104h1M122 104h5M40 105h1M121 105h5M40 106h1M120 106h5M40 107h1M119 107h5M40 108h1M119 108h4M40 109h1M119 109h3M40 110h2M118 110h3M40 111h1M118 111h2M39 112h1M119 112h1M38 113h1M37 114h1M36 115h1M35 116h1M33 117h1M32 118h1M31 119h1M29 120h2M28 121h1M27 122h1M25 123h2M24 124h1M23 125h1M22 126h2M23 127h1M23 128h1M23 129h1M23 130h1M23 131h1M23 132h1M23 133h1M23 134h1M23 135h3M24 136h3M26 137h2M27 138h3M28 139h3M29 140h3M29 141h3M28 142h3M28 143h3M28 144h3M27 145h4M27 146h4M27 147h4M27 148h4M27 149h4M27 150h4M27 151h4M27 152h4M27 153h4M27 154h4M26 155h4M25 156h4M23 157h4M0 158h10M22 158h4M0 159h16M21 159h4M6 160h12M20 160h4M13 161h9M16 162h5M18 163h2M45 167h3M42 168h7M43 169h5"/>
<path stroke="#00efff" d="M35 0h1M104 0h3M131 0h8M34 1h1M104 1h1M129 1h9M34 2h1M104 2h1M127 2h10M34 3h1M103 3h1M125 3h11M34 4h1M103 4h1M123 4h12M33 5h1M103 5h1M121 5h14M33 6h1M102 6h1M120 6h14M32 7h2M102 7h1M119 7h13M32 8h1M102 8h1M118 8h12M32 9h1M101 9h1M118 9h10M31 10h2M101 10h1M117 10h9M32 11h1M117 11h10M32 12h1M100 12h1M117 12h10M32 13h1M100 13h1M117 13h11M32 14h1M99 14h1M117 14h11M32 15h1M99 15h1M117 15h11M32 16h1M99 16h1M117 16h11M32 17h1M98 17h2M118 17h10M99 18h1M118 18h9M99 19h1M118 19h9M31 20h1M99 20h1M118 20h9M31 21h1M99 21h1M118 21h8M31 22h1M99 22h2M119 22h7M31 23h1M99 23h2M119 23h6M31 24h1M99 24h2M119 24h6M31 25h1M99 25h1M119 25h6M31 26h1M98 26h2M118 26h6M30 27h2M97 27h2M117 27h7M30 28h3M97 28h1M117 28h6M31 29h3M96 29h2M116 29h7M32 30h3M96 30h1M115 30h8M33 31h3M95 31h1M115 31h7M34 32h3M94 32h2M114 32h8M35 33h4M94 33h1M113 33h8M36 34h3M93 34h1M113 34h8M37 35h2M92 35h2M112 35h9M37 36h2M92 36h1M111 36h9M37 37h2M91 37h3M111 37h9M37 38h1M90 38h6M110 38h9M146 38h3M37 39h2M90 39h9M110 39h9M144 39h5M38 40h1M90 40h13M110 40h11M144 40h5M38 41h2M92 41h11M110 41h13M144 41h5M39 42h1M96 42h7M110 42h14M144 42h5M39 43h1M100 43h3M110 43h16M144 43h5M40 44h1M100 44h3M110 44h18M145 44h4M40 45h1M100 45h3M110 45h8M120 45h8M145 45h4M41 46h1M100 46h3M110 46h5M121 46h7M145 46h3M41 47h1M100 47h3M110 47h3M123 47h5M146 47h2M41 48h1M100 48h3M124 48h4M146 48h2M41 49h1M100 49h3M124 49h4M146 49h2M41 50h1M100 50h3M124 50h4M147 50h1M41 51h1M100 51h3M124 51h4M147 51h1M41 52h1M100 52h3M124 52h4M147 52h1M41 53h1M100 53h3M124 53h4M41 54h1M102 54h2M125 54h3M40 55h1M103 55h1M125 55h4M40 56h1M103 56h1M125 56h4M39 57h1M103 57h1M126 57h3M39 58h1M103 58h1M126 58h3M38 59h1M127 59h2M38 60h1M104 60h1M127 60h2M37 61h1M104 61h1M127 61h2M37 62h1M104 62h1M126 62h3M36 63h1M104 63h1M126 63h3M36 64h1M104 64h1M126 64h2M35 65h5M104 65h1M126 65h2M35 66h11M104 66h1M126 66h2M37 67h11M104 67h1M126 67h2M42 68h6M104 68h1M125 68h3M46 69h2M104 69h1M125 69h2M46 70h2M104 70h1M125 70h2M46 71h2M104 71h1M124 71h3M46 72h2M104 72h2M124 72h2M46 73h2M104 73h2M124 73h2M132 73h2M45 74h3M104 74h2M123 74h2M130 74h6M45 75h3M104 75h2M123 75h2M128 75h4M134 75h3M45 76h2M104 76h2M122 76h3M126 76h4M136 76h3M45 77h2M104 77h2M122 77h6M137 77h3M45 78h2M104 78h3M122 78h3M138 78h2M45 79h2M104 79h3M121 79h2M139 79h2M44 80h3M104 80h3M140 80h2M44 81h3M104 81h6M140 81h2M44 82h3M104 82h8M141 82h2M45 83h2M105 83h11M140 83h2M45 84h1M106 84h13M139 84h2M45 85h1M110 85h10M139 85h2M114 86h8M138 86h2M44 87h1M118 87h5M137 87h2M120 88h4M137 88h1M43 89h1M121 89h4M136 89h2M43 90h1M122 90h5M135 90h2M42 91h1M123 91h6M134 91h2M42 92h1M125 92h7M134 92h2M41 93h1M128 93h7M41 94h1M130 94h4M40 95h1M40 96h1M39 99h1M39 100h1M39 101h1M39 102h1M39 103h1M39 104h1M39 105h1M39 106h1M39 107h1M39 108h1M39 109h1M39 110h1M39 111h1M38 112h1M37 113h1M36 114h1M35 115h1M33 116h2M32 117h1M31 118h1M29 119h2M28 120h1M27 121h1M25 122h2M24 123h1M23 124h1M21 125h2M21 126h1M21 127h2M21 128h2M21 129h2M22 130h1M22 131h1M22 132h1M22 133h1M22 134h1M22 135h1M22 136h2M23 137h3M24 138h3M26 139h2M26 140h3M26 141h3M26 142h2M25 143h3M25 144h3M25 145h2M24 146h3M24 147h3M24 148h3M23 149h4M23 150h4M23 151h4M23 152h4M23 153h4M23 154h4M22 155h4M0 156h15M21 156h4M0 157h23M10 158h12M16 159h5M18 160h2"/>
<path stroke="#0ff" d="M34 0h1M107 0h4M118 0h13M33 1h1M105 1h4M118 1h11M33 2h1M105 2h2M118 2h9M33 3h1M104 3h2M117 3h8M32 4h2M104 4h1M117 4h6M32 5h1M116 5h5M31 6h2M103 6h1M116 6h4M31 7h1M103 7h1M115 7h4M31 8h1M115 8h3M30 9h2M102 9h1M114 9h4M30 10h1M102 10h1M114 10h3M30 11h2M101 11h1M113 11h4M31 12h1M101 12h1M113 12h4M31 13h1M113 13h4M31 14h1M100 14h1M113 14h4M31 15h1M100 15h1M112 15h5M31 16h1M100 16h1M112 16h5M31 17h1M100 17h2M112 17h6M31 18h1M100 18h2M112 18h6M31 19h1M100 19h2M112 19h6M100 20h2M112 20h6M30 21h1M100 21h2M113 21h5M30 22h1M101 22h1M113 22h6M30 23h1M101 23h1M113 23h6M30 24h1M101 24h1M113 24h6M30 25h1M100 25h2M113 25h6M30 26h1M100 26h1M112 26h6M29 27h1M99 27h2M111 27h6M29 28h1M98 28h2M110 28h7M29 29h2M98 29h1M110 29h6M30 30h2M97 30h2M109 30h6M31 31h2M96 31h2M108 31h7M31 32h3M96 32h2M107 32h7M32 33h3M95 33h5M107 33h6M33 34h3M94 34h8M106 34h7M34 35h3M94 35h10M105 35h7M35 36h2M93 36h18M36 37h1M94 37h17M36 38h1M96 38h14M36 39h1M99 39h11M36 40h2M103 40h7M37 41h1M103 41h7M37 42h2M103 42h7M38 43h1M103 43h7M38 44h2M103 44h7M39 45h1M103 45h7M118 45h2M39 46h2M103 46h7M115 46h6M40 47h1M103 47h7M113 47h10M40 48h1M103 48h21M40 49h1M103 49h21M40 50h1M103 50h21M40 51h1M103 51h14M120 51h4M40 52h1M103 52h12M121 52h3M40 53h1M103 53h9M121 53h3M40 54h1M104 54h8M121 54h4M39 55h1M104 55h9M122 55h3M39 56h1M104 56h9M122 56h3M38 57h1M104 57h10M122 57h4M38 58h1M104 58h10M123 58h3M37 59h1M104 59h10M123 59h4M37 60h1M105 60h8M123 60h4M36 61h1M105 61h8M124 61h3M36 62h1M105 62h7M124 62h2M35 63h1M105 63h7M124 63h2M35 64h1M105 64h6M124 64h2M34 65h1M105 65h6M124 65h2M34 66h1M105 66h5M124 66h2M32 67h5M105 67h5M124 67h2M31 68h11M105 68h5M123 68h2M32 69h14M105 69h5M123 69h2M36 70h10M105 70h5M123 70h2M40 71h6M105 71h5M122 71h2M43 72h3M106 72h4M122 72h2M43 73h3M106 73h4M121 73h3M43 74h2M106 74h5M121 74h2M43 75h2M106 75h5M121 75h2M132 75h2M43 76h2M106 76h5M120 76h2M130 76h6M43 77h2M106 77h8M120 77h2M128 77h4M135 77h2M42 78h3M107 78h9M119 78h3M125 78h5M136 78h2M42 79h3M107 79h14M123 79h4M137 79h2M42 80h2M107 80h18M138 80h2M42 81h2M110 81h13M138 81h2M42 82h2M112 82h9M139 82h2M42 83h3M116 83h6M138 83h2M43 84h2M119 84h4M138 84h1M43 85h2M120 85h5M137 85h2M44 86h1M122 86h4M136 86h2M43 87h1M123 87h4M135 87h2M43 88h1M124 88h4M135 88h2M42 89h1M125 89h6M134 89h2M42 90h1M127 90h8M41 91h1M129 91h5M41 92h1M132 92h2M40 93h1M40 94h1M39 95h1M39 96h1M39 97h1M39 98h1M38 100h1M38 101h1M38 102h1M38 103h1M38 104h1M38 105h1M38 106h1M38 107h1M38 108h1M38 109h1M38 110h1M38 111h1M37 112h1M36 113h1M35 114h1M33 115h2M32 116h1M31 117h1M29 118h2M28 119h1M27 120h1M25 121h2M24 122h1M23 123h1M21 124h2M20 125h1M20 126h1M20 127h1M20 128h1M20 129h1M20 130h2M20 131h2M20 132h2M20 133h2M21 134h1M21 135h1M21 136h1M21 137h2M21 138h3M23 139h3M23 140h3M23 141h3M23 142h3M22 143h3M22 144h3M22 145h3M21 146h3M21 147h3M21 148h3M21 149h2M20 150h3M6 151h4M20 151h3M0 152h13M20 152h3M0 153h16M19 153h4M0 154h23M0 155h22M15 156h6"/>
<path stroke="#0fe" d="M32 0h2M111 0h3M115 0h3M32 1h1M109 1h4M114 1h4M31 2h2M107 2h4M114 2h4M31 3h2M106 3h4M113 3h4M31 4h1M105 4h3M113 4h4M30 5h2M104 5h3M113 5h3M30 6h1M104 6h1M112 6h4M30 7h1M104 7h1M112 7h3M29 8h2M103 8h1M111 8h4M29 9h1M103 9h1M111 9h3M28 10h2M103 10h1M110 10h4M29 11h1M102 11h1M110 11h3M29 12h2M102 12h1M110 12h3M30 13h1M101 13h2M109 13h4M30 14h1M101 14h2M109 14h4M30 15h1M101 15h2M109 15h3M30 16h1M101 16h2M109 16h3M30 17h1M102 17h1M108 17h4M30 18h1M102 18h1M108 18h4M30 19h1M102 19h1M108 19h4M30 20h1M102 20h2M108 20h4M102 21h2M107 21h6M102 22h2M107 22h6M29 23h1M102 23h2M107 23h6M29 24h1M102 24h2M108 24h5M29 25h1M102 25h2M107 25h6M29 26h1M101 26h2M106 26h6M101 27h2M106 27h5M28 28h1M100 28h10M28 29h1M99 29h11M28 30h2M99 30h10M28 31h3M98 31h10M29 32h2M98 32h9M30 33h2M100 33h7M31 34h2M102 34h4M31 35h3M104 35h1M32 36h3M33 37h3M34 38h2M34 39h2M35 40h1M35 41h2M36 42h1M36 43h2M37 44h1M37 45h2M38 46h1M38 47h2M39 48h1M39 49h1M39 50h1M39 51h1M117 51h3M39 52h1M115 52h6M39 53h1M112 53h9M39 54h1M112 54h9M38 55h1M113 55h9M38 56h1M113 56h9M37 57h1M114 57h8M37 58h1M114 58h9M36 59h1M114 59h9M36 60h1M113 60h5M120 60h3M35 61h1M113 61h5M120 61h4M35 62h1M112 62h5M121 62h3M34 63h1M112 63h5M121 63h3M34 64h1M111 64h5M121 64h3M32 65h2M111 65h5M122 65h2M30 66h4M110 66h5M121 66h3M28 67h4M110 67h5M121 67h3M27 68h4M110 68h4M121 68h2M27 69h5M110 69h5M121 69h2M28 70h8M110 70h5M120 70h3M29 71h11M110 71h5M120 71h2M30 72h13M110 72h6M120 72h2M34 73h9M110 73h8M119 73h2M38 74h5M111 74h10M41 75h2M111 75h10M40 76h3M111 76h9M40 77h3M114 77h6M132 77h3M40 78h2M116 78h3M130 78h6M40 79h2M127 79h4M135 79h2M40 80h2M125 80h4M136 80h2M40 81h2M123 81h4M137 81h1M39 82h3M121 82h4M137 82h2M40 83h2M122 83h4M136 83h2M40 84h3M123 84h4M136 84h2M41 85h2M125 85h4M135 85h2M41 86h3M126 86h4M134 86h2M42 87h1M127 87h8M42 88h1M128 88h7M41 89h1M131 89h3M41 90h1M40 92h1M39 94h1M19 95h2M18 96h2M38 96h1M18 97h2M38 97h1M18 98h2M38 98h1M38 99h1M37 101h1M37 102h1M37 103h1M37 104h1M37 105h1M37 106h1M37 107h1M37 108h1M37 109h1M37 110h1M37 111h1M36 112h1M35 113h1M34 114h1M32 115h1M31 116h1M29 117h2M28 118h1M27 119h1M25 120h2M24 121h1M23 122h1M18 123h2M21 123h2M17 124h4M16 125h4M16 126h4M16 127h4M16 128h4M16 129h4M17 130h3M18 131h2M19 132h1M19 133h1M19 134h2M19 135h2M19 136h2M20 137h1M20 138h1M20 139h3M20 140h3M20 141h3M20 142h3M20 143h2M13 144h5M19 144h3M10 145h12M7 146h14M0 147h21M0 148h21M0 149h21M0 150h20M0 151h6M10 151h10M13 152h7M16 153h3"/>
<path stroke="#0fd" d="M31 0h1M114 0h1M30 1h2M113 1h1M30 2h1M111 2h3M30 3h1M110 3h3M29 4h2M108 4h5M29 5h1M107 5h6M29 6h1M105 6h7M28 7h2M105 7h2M108 7h4M28 8h1M104 8h2M108 8h3M27 9h2M104 9h1M107 9h4M27 10h1M107 10h3M27 11h2M103 11h1M106 11h4M28 12h1M103 12h1M106 12h4M28 13h2M103 13h1M106 13h3M29 14h1M103 14h1M106 14h3M29 15h1M103 15h6M29 16h1M103 16h6M29 17h1M103 17h5M29 18h1M103 18h5M29 19h1M103 19h5M29 20h1M104 20h4M29 21h1M104 21h3M29 22h1M104 22h3M104 23h3M104 24h4M28 25h1M104 25h3M28 26h1M103 26h3M28 27h1M103 27h3M27 28h1M27 29h1M27 30h1M26 31h2M27 32h2M27 33h3M28 34h3M29 35h2M30 36h2M31 37h2M32 38h2M32 39h2M31 40h4M31 41h1M34 41h1M34 42h2M35 43h1M35 44h2M36 45h1M36 46h2M37 47h1M37 48h2M38 49h1M38 50h1M38 51h1M38 52h1M38 53h1M38 54h1M37 55h1M37 56h1M36 57h1M36 58h1M35 59h1M35 60h1M118 60h2M34 61h1M118 61h2M34 62h1M117 62h4M32 63h2M117 63h4M30 64h4M116 64h5M27 65h5M116 65h6M25 66h5M115 66h6M23 67h5M115 67h6M22 68h5M114 68h7M22 69h5M115 69h6M23 70h5M115 70h5M24 71h5M115 71h5M24 72h6M116 72h4M25 73h9M118 73h1M26 74h12M27 75h14M31 76h9M35 77h5M38 78h2M37 79h3M131 79h4M37 80h3M129 80h7M37 81h3M127 81h4M135 81h2M37 82h2M125 82h4M135 82h2M37 83h3M126 83h4M134 83h2M38 84h2M127 84h5M134 84h2M38 85h3M129 85h6M39 86h2M130 86h4M39 87h3M40 88h2M40 89h1M23 90h3M40 90h1M19 91h6M40 91h1M19 92h6M39 92h1M18 93h6M39 93h1M18 94h6M38 94h1M17 95h2M21 95h2M38 95h1M17 96h1M20 96h3M37 96h1M16 97h2M20 97h2M37 97h1M16 98h2M20 98h2M37 98h1M16 99h6M37 99h1M15 100h6M37 100h1M15 101h6M16 102h4M17 103h3M36 103h1M18 104h2M36 104h1M36 105h1M36 106h1M36 107h1M36 108h1M36 109h1M36 110h1M36 111h1M35 112h1M34 113h1M32 114h2M31 115h1M30 116h1M19 117h1M28 117h1M17 118h5M27 118h1M16 119h7M25 119h2M15 120h10M14 121h10M12 122h11M11 123h7M20 123h1M10 124h7M9 125h7M8 126h8M8 127h8M8 128h8M8 129h8M8 130h9M8 131h10M8 132h11M8 133h11M8 134h11M8 135h11M8 136h11M9 137h11M10 138h10M11 139h9M11 140h9M8 141h12M0 142h20M0 143h20M0 144h13M18 144h1M0 145h10M0 146h7"/>
<path stroke="#00ffcb" d="M29 0h2M29 1h1M29 2h1M28 3h2M28 4h1M27 5h2M27 6h2M27 7h1M107 7h1M26 8h2M106 8h2M26 9h1M105 9h2M26 10h1M104 10h3M26 11h1M104 11h2M27 12h1M104 12h2M27 13h1M104 13h2M28 14h1M104 14h2M28 15h1M28 16h1M28 17h1M28 18h1M28 19h1M28 20h1M28 21h1M28 22h1M28 23h1M28 24h1M27 25h1M27 26h1M27 27h1M26 28h1M26 29h1M26 30h1M25 32h2M25 33h2M26 34h2M27 35h2M28 36h2M28 37h3M29 38h3M30 39h2M29 40h2M28 41h3M32 41h2M28 42h6M27 43h8M26 44h6M34 44h1M26 45h4M34 45h2M25 46h4M35 46h1M24 47h3M35 47h2M24 48h1M36 48h1M23 49h1M36 49h2M37 50h1M37 51h1M37 52h1M37 53h1M37 54h1M36 55h1M36 56h1M35 57h1M35 58h1M34 59h1M34 60h1M32 61h2M19 62h1M30 62h4M19 63h1M27 63h5M19 64h1M25 64h5M19 65h2M23 65h4M18 66h7M18 67h5M18 68h4M19 69h3M19 70h4M19 71h5M20 72h4M20 73h5M21 74h5M22 75h5M22 76h9M23 77h12M25 78h13M29 79h8M33 80h4M35 81h2M131 81h4M35 82h2M129 82h6M35 83h2M130 83h4M36 84h2M132 84h2M28 85h3M36 85h2M25 86h5M37 86h2M21 87h9M37 87h2M19 88h10M38 88h2M18 89h11M38 89h2M18 90h5M26 90h2M39 90h1M18 91h1M25 91h3M39 91h1M17 92h2M25 92h2M38 92h1M17 93h1M24 93h3M38 93h1M16 94h2M24 94h2M37 94h1M16 95h1M23 95h3M37 95h1M15 96h2M23 96h2M15 97h1M22 97h3M36 97h1M14 98h2M22 98h2M36 98h1M14 99h2M22 99h2M36 99h1M14 100h1M21 100h3M36 100h1M13 101h2M21 101h2M36 101h1M13 102h3M20 102h3M36 102h1M12 103h5M20 103h2M12 104h6M20 104h2M35 104h1M13 105h9M35 105h1M14 106h7M35 106h1M15 107h6M35 107h1M16 108h4M35 108h1M17 109h3M35 109h1M18 110h1M35 110h1M19 111h1M35 111h1M18 112h3M34 112h1M16 113h7M32 113h2M15 114h10M31 114h1M14 115h12M30 115h1M13 116h17M12 117h7M20 117h8M11 118h6M22 118h5M9 119h7M23 119h2M8 120h7M7 121h7M6 122h6M0 123h11M0 124h10M0 125h9M0 126h8M0 127h8M0 128h8M0 129h8M0 130h8M0 131h8M0 132h8M0 133h8M0 134h8M0 135h8M0 136h8M0 137h9M0 138h10M0 139h11M0 140h11M0 141h8"/>
<path stroke="#00ffba" d="M24 0h5M26 1h3M27 2h2M27 3h1M26 4h2M26 5h1M26 6h1M25 7h2M25 8h1M25 9h1M24 10h2M25 11h1M25 12h2M26 13h1M26 14h2M27 15h1M27 16h1M27 17h1M27 18h1M27 19h1M27 20h1M27 21h1M27 22h1M27 23h1M27 24h1M26 26h1M26 27h1M25 29h1M25 30h1M25 31h1M24 32h1M24 33h1M24 34h2M24 35h3M25 36h3M26 37h2M27 38h2M27 39h3M27 40h2M26 41h2M25 42h3M25 43h2M24 44h2M32 44h2M23 45h3M30 45h4M23 46h2M29 46h6M22 47h2M27 47h5M34 47h1M21 48h3M25 48h5M34 48h2M21 49h2M24 49h4M35 49h1M20 50h7M35 50h2M19 51h6M36 51h1M19 52h4M36 52h1M18 53h4M36 53h1M18 54h4M36 54h1M18 55h4M35 55h1M18 56h4M35 56h1M18 57h5M34 57h1M18 58h5M34 58h1M18 59h5M32 59h2M17 60h7M29 60h5M17 61h7M27 61h5M17 62h2M20 62h4M25 62h5M17 63h2M20 63h7M17 64h2M20 64h5M17 65h2M21 65h2M17 66h1M17 67h1M17 68h1M17 69h2M17 70h2M17 71h2M18 72h2M18 73h2M18 74h3M18 75h4M19 76h3M19 77h4M19 78h6M20 79h9M20 80h13M22 81h13M26 82h9M22 83h13M19 84h17M19 85h9M31 85h2M34 85h2M18 86h7M30 86h3M34 86h3M18 87h3M30 87h2M35 87h2M17 88h2M29 88h3M35 88h3M17 89h1M29 89h2M36 89h2M16 90h2M28 90h3M36 90h3M16 91h2M28 91h2M37 91h2M15 92h2M27 92h3M37 92h1M15 93h2M27 93h2M37 93h1M15 94h1M26 94h3M14 95h2M26 95h2M36 95h1M14 96h1M25 96h3M36 96h1M13 97h2M25 97h2M35 97h1M13 98h1M24 98h3M35 98h1M12 99h2M24 99h2M35 99h1M12 100h2M24 100h2M35 100h1M12 101h1M23 101h3M35 101h1M11 102h2M23 102h2M35 102h1M11 103h1M22 103h3M35 103h1M10 104h2M22 104h2M10 105h3M22 105h2M34 105h1M9 106h5M21 106h2M34 106h1M10 107h5M21 107h3M34 107h1M11 108h5M20 108h5M34 108h1M12 109h5M20 109h6M34 109h1M13 110h5M19 110h9M34 110h1M13 111h6M20 111h9M34 111h1M12 112h6M21 112h10M32 112h2M11 113h5M23 113h9M10 114h5M25 114h6M8 115h6M26 115h4M7 116h6M6 117h6M0 118h11M0 119h9M0 120h8M0 121h7M0 122h6"/>
<path stroke="#00ffa9" d="M18 0h6M20 1h6M21 2h6M23 3h4M25 4h1M25 5h1M24 6h2M24 7h1M23 8h2M23 9h2M23 10h1M23 11h2M24 12h1M24 13h2M25 14h1M25 15h2M26 16h1M26 17h1M26 18h1M26 19h1M26 20h1M26 21h1M26 22h1M26 23h1M26 24h1M26 25h1M25 26h1M25 27h1M25 28h1M24 29h1M24 30h1M24 31h1M23 32h1M23 33h1M23 34h1M23 35h1M23 36h2M24 37h2M24 38h3M25 39h2M24 40h3M24 41h2M23 42h2M22 43h3M22 44h2M21 45h2M20 46h3M20 47h2M32 47h2M19 48h2M30 48h4M18 49h3M28 49h7M17 50h3M27 50h5M34 50h1M16 51h3M25 51h5M34 51h2M15 52h4M23 52h5M35 52h1M14 53h4M22 53h5M35 53h1M14 54h4M22 54h5M35 54h1M15 55h3M22 55h5M34 55h1M16 56h2M22 56h5M34 56h1M16 57h2M23 57h5M32 57h2M16 58h2M23 58h5M29 58h5M16 59h2M23 59h9M16 60h1M24 60h5M15 61h2M24 61h3M15 62h2M24 62h1M15 63h2M15 64h2M15 65h2M15 66h2M15 67h2M15 68h2M15 69h2M15 70h2M16 71h1M16 72h2M16 73h2M16 74h2M17 75h1M17 76h2M17 77h2M17 78h2M18 79h2M18 80h2M18 81h4M18 82h8M18 83h4M17 84h2M17 85h2M33 85h1M17 86h1M33 86h1M16 87h2M32 87h3M16 88h1M32 88h3M15 89h2M31 89h5M15 90h1M31 90h2M34 90h2M14 91h2M30 91h2M34 91h3M14 92h1M30 92h2M35 92h2M13 93h2M29 93h3M35 93h2M13 94h2M29 94h2M36 94h1M13 95h1M28 95h3M35 95h1M12 96h2M28 96h2M35 96h1M12 97h1M27 97h3M11 98h2M27 98h2M34 98h1M11 99h1M26 99h3M34 99h1M10 100h2M26 100h2M34 100h1M10 101h2M26 101h2M34 101h1M10 102h1M25 102h3M34 102h1M9 103h2M25 103h3M34 103h1M9 104h1M24 104h5M34 104h1M8 105h2M24 105h7M8 106h1M23 106h9M7 107h3M24 107h10M7 108h4M25 108h9M6 109h6M26 109h8M7 110h6M28 110h6M7 111h6M29 111h5M6 112h6M31 112h1M5 113h6M0 114h10M0 115h8M0 116h7M0 117h6"/>
<path stroke="#00ff98" d="M11 0h7M13 1h7M15 2h6M17 3h6M18 4h7M20 5h5M22 6h2M22 7h2M22 8h1M22 9h1M21 10h2M22 11h1M22 12h2M23 13h1M23 14h2M24 15h1M24 16h2M25 17h1M25 18h1M25 19h1M25 20h1M25 21h1M25 22h1M25 23h1M25 24h1M25 25h1M24 26h1M24 27h1M24 28h1M23 29h1M23 30h1M23 31h1M22 33h1M22 34h1M22 35h1M21 36h2M21 37h3M22 38h2M23 39h2M22 40h2M21 41h3M21 42h2M20 43h2M19 44h3M18 45h3M17 46h3M16 47h4M15 48h4M14 49h4M13 50h4M32 50h2M12 51h4M30 51h4M11 52h4M28 52h5M34 52h1M10 53h4M27 53h4M34 53h1M11 54h3M27 54h4M34 54h1M12 55h3M27 55h7M12 56h4M27 56h7M13 57h3M28 57h4M14 58h2M28 58h1M14 59h2M14 60h2M14 61h1M14 62h1M13 63h2M13 64h2M13 65h2M13 66h2M13 67h2M13 68h2M13 69h2M13 70h2M14 71h2M14 72h2M14 73h2M14 74h2M15 75h2M15 76h2M15 77h2M15 78h2M16 79h2M16 80h2M16 81h2M16 82h2M16 83h2M16 84h1M15 85h2M15 86h2M15 87h1M14 88h2M14 89h1M13 90h2M33 90h1M13 91h1M32 91h2M12 92h2M32 92h3M12 93h1M32 93h3M11 94h2M31 94h5M11 95h2M31 95h2M34 95h1M11 96h1M30 96h2M34 96h1M10 97h2M30 97h2M34 97h1M10 98h1M29 98h3M9 99h2M29 99h3M9 100h1M28 100h6M8 101h2M28 101h6M8 102h2M28 102h6M7 103h2M28 103h6M7 104h2M29 104h5M7 105h1M31 105h3M6 106h2M32 106h2M6 107h1M5 108h2M0 109h6M0 110h7M0 111h7M0 112h6M0 113h5"/>
<path stroke="#00ff86" d="M0 0h11M6 1h7M7 2h8M9 3h8M11 4h7M13 5h7M15 6h7M17 7h5M19 8h3M20 9h2M20 10h1M20 11h2M21 12h1M21 13h2M22 14h1M22 15h2M23 16h1M23 17h2M24 18h1M9 19h1M24 19h1M8 20h2M24 20h1M6 21h3M24 21h1M0 22h8M24 22h1M0 23h7M24 23h1M0 24h6M24 24h1M0 25h5M24 25h1M23 27h1M23 28h1M22 30h1M22 31h1M22 32h1M21 33h1M21 34h1M21 35h1M20 36h1M20 37h1M20 38h2M20 39h3M20 40h2M19 41h2M18 42h3M17 43h3M16 44h3M15 45h3M14 46h3M13 47h3M12 48h3M11 49h3M10 50h3M9 51h3M8 52h3M33 52h1M7 53h3M31 53h3M7 54h4M31 54h3M8 55h4M9 56h3M9 57h4M10 58h4M11 59h3M12 60h2M12 61h2M12 62h2M12 63h1M12 64h1M11 65h2M11 66h2M11 67h2M11 68h2M11 69h2M12 70h1M12 71h2M12 72h2M12 73h2M13 74h1M13 75h2M13 76h2M13 77h2M14 78h1M14 79h2M14 80h2M14 81h2M15 82h1M14 83h2M14 84h2M14 85h1M13 86h2M13 87h2M12 88h2M12 89h2M12 90h1M11 91h2M11 92h1M10 93h2M10 94h1M9 95h2M33 95h1M9 96h2M32 96h2M9 97h1M32 97h2M8 98h2M32 98h2M8 99h1M32 99h2M7 100h2M7 101h1M6 102h2M6 103h1M5 104h2M5 105h2M0 106h6M0 107h6M0 108h5"/>
<path stroke="#00ff75" d="M0 1h6M0 2h7M0 3h9M0 4h11M6 5h7M8 6h7M10 7h7M12 8h7M14 9h6M16 10h4M14 11h6M13 12h8M11 13h7M20 13h1M10 14h7M20 14h2M8 15h8M21 15h1M7 16h8M21 16h2M5 17h10M22 17h1M0 18h14M22 18h2M0 19h9M10 19h3M23 19h1M0 20h8M10 20h2M23 20h1M0 21h6M9 21h2M23 21h1M8 22h2M23 22h1M7 23h3M23 23h1M6 24h3M23 24h1M5 25h3M23 25h1M0 26h6M23 26h1M22 27h1M22 28h1M22 29h1M21 30h1M21 31h1M21 32h1M20 33h1M20 34h1M20 35h1M19 37h1M19 38h1M18 39h2M17 40h3M16 41h3M15 42h3M14 43h3M13 44h3M12 45h3M11 46h3M10 47h3M9 48h3M8 49h3M7 50h3M6 51h3M5 52h3M0 53h7M0 54h7M0 55h8M5 56h4M6 57h3M7 58h3M7 59h4M8 60h4M9 61h3M10 62h2M10 63h2M10 64h2M10 65h1M10 66h1M9 67h2M9 68h2M10 69h1M10 70h2M10 71h2M10 72h2M11 73h1M11 74h2M11 75h2M11 76h2M12 77h1M12 78h2M12 79h2M12 80h2M13 81h1M13 82h2M12 83h2M12 84h2M12 85h2M11 86h2M11 87h2M11 88h1M10 89h2M10 90h2M10 91h1M9 92h2M9 93h1M8 94h2M8 95h1M7 96h2M7 97h2M7 98h1M6 99h2M6 100h1M5 101h2M0 102h6M0 103h6M0 104h5M0 105h5"/>
<path stroke="#00ff64" d="M0 5h6M0 6h8M0 7h10M0 8h12M7 9h7M8 10h8M7 11h7M5 12h8M0 13h11M18 13h2M0 14h10M17 14h3M0 15h8M16 15h5M0 16h7M15 16h3M20 16h1M0 17h5M15 17h2M20 17h2M14 18h2M21 18h1M13 19h2M21 19h2M12 20h2M22 20h1M11 21h3M22 21h1M10 22h3M22 22h1M10 23h2M22 23h1M9 24h2M22 24h1M8 25h2M22 25h1M6 26h2M22 26h1M0 27h7M21 27h1M0 28h5M21 28h1M21 29h1M20 31h1M20 32h1M19 34h1M19 35h1M18 36h2M18 37h1M17 38h2M16 39h2M15 40h2M14 41h2M13 42h2M12 43h2M11 44h2M10 45h2M9 46h2M8 47h2M7 48h2M6 49h2M5 50h2M0 51h6M0 52h5M0 56h5M0 57h6M0 58h7M0 59h7M0 60h8M5 61h4M6 62h4M7 63h3M8 64h2M8 65h2M8 66h2M8 67h1M8 68h1M8 69h2M8 70h2M8 71h2M9 72h1M9 73h2M9 74h2M9 75h2M10 76h1M10 77h2M10 78h2M10 79h2M11 80h1M11 81h2M11 82h2M11 83h1M10 84h2M10 85h2M10 86h1M9 87h2M9 88h2M8 89h2M8 90h2M8 91h2M7 92h2M7 93h2M7 94h1M6 95h2M6 96h1M5 97h2M5 98h2M0 99h6M0 100h6M0 101h5"/>
<path stroke="#5aff50" d="M0 9h7M0 10h8M0 11h7M0 12h5M18 16h2M17 17h3M16 18h2M20 18h1M15 19h3M20 19h1M14 20h3M21 20h1M14 21h2M21 21h1M13 22h2M12 23h2M21 23h1M11 24h2M21 24h1M10 25h2M21 25h1M8 26h3M21 26h1M7 27h2M5 28h3M20 28h1M0 29h6M20 29h1M20 30h1M19 31h1M19 32h1M18 33h2M18 34h1M17 35h2M16 36h2M16 37h2M15 38h2M14 39h2M13 40h2M12 41h2M11 42h2M10 43h2M9 44h2M8 45h2M8 46h1M7 47h1M6 48h1M0 49h6M0 50h5M0 61h5M0 62h6M0 63h7M0 64h8M0 65h8M5 66h3M6 67h2M6 68h2M6 69h2M6 70h2M7 71h1M7 72h2M7 73h2M7 74h2M8 75h1M8 76h2M8 77h2M8 78h2M9 79h1M9 80h2M9 81h2M9 82h2M9 83h2M9 84h1M8 85h2M8 86h2M7 87h2M7 88h2M7 89h1M6 90h2M6 91h2M6 92h1M5 93h2M0 94h7M0 95h6M0 96h6M0 97h5M0 98h5"/>
<path stroke="#78ff35" d="M18 18h2M18 19h2M17 20h4M16 21h2M20 21h1M15 22h3M20 22h2M14 23h3M13 24h3M20 24h1M12 25h3M20 25h1M11 26h2M20 26h1M9 27h3M20 27h1M8 28h2M19 28h1M6 29h3M19 29h1M0 30h7M18 30h2M0 31h6M18 31h1M17 32h2M16 33h2M16 34h2M15 35h2M15 36h1M14 37h2M13 38h2M13 39h1M12 40h1M11 41h1M10 42h1M9 43h1M8 44h1M7 45h1M6 46h2M0 47h7M0 48h6M0 66h5M0 67h6M0 68h6M0 69h6M0 70h6M0 71h7M5 72h2M5 73h2M6 74h1M6 75h2M6 76h2M6 77h2M7 78h1M7 79h2M7 80h2M7 81h2M8 82h1M7 83h2M7 84h2M6 85h2M6 86h2M6 87h1M5 88h2M5 89h2M0 90h6M0 91h6M0 92h6M0 93h5"/>
<path stroke="#96ff1b" d="M18 21h2M18 22h2M17 23h4M16 24h2M15 25h2M19 25h1M13 26h3M19 26h1M12 27h2M18 27h2M10 28h3M18 28h1M9 29h2M17 29h2M7 30h3M17 30h1M6 31h2M16 31h2M0 32h7M15 32h2M0 33h5M15 33h1M14 34h2M13 35h2M13 36h2M12 37h2M12 38h1M11 39h2M10 40h2M9 41h2M8 42h2M7 43h2M6 44h2M5 45h2M0 46h6M0 72h5M0 73h5M0 74h6M0 75h6M0 76h6M0 77h6M0 78h7M5 79h2M5 80h2M6 81h1M6 82h2M5 83h2M5 84h2M0 85h6M0 86h6M0 87h6M0 88h5M0 89h5"/>
<path stroke="#b4ff00" d="M18 24h2M17 25h2M16 26h3M14 27h2M17 27h1M13 28h2M16 28h2M11 29h2M15 29h2M10 30h2M15 30h2M8 31h2M14 31h2M7 32h2M14 32h1M5 33h2M13 33h2M0 34h6M12 34h2M12 35h1M11 36h2M10 37h2M10 38h2M9 39h2M8 40h2M7 41h2M6 42h2M5 43h2M0 44h6M0 45h5M0 79h5M0 80h5M0 81h6M0 82h6M0 83h5M0 84h5"/>
<path stroke="#cdff00" d="M16 27h1M15 28h1M13 29h2M12 30h3M10 31h4M9 32h2M12 32h2M7 33h3M11 33h2M6 34h2M10 34h2M0 35h7M10 35h2M0 36h5M9 36h2M9 37h1M8 38h2M7 39h2M6 40h2M5 41h2M0 42h6M0 43h5"/>
<path stroke="#e6ff00" d="M11 32h1M10 33h1M8 34h2M7 35h3M5 36h4M0 37h6M7 37h2M6 38h2M6 39h1M0 40h6M0 41h5"/>
<path stroke="#ff0" d="M6 37h1M0 38h6M0 39h6"/>
</g></g></g>
<path transform="translate(289 34.2)" d="M690.6 -4.7 L688.3 20.4 L685.5 33.6 L685.1 65.4 L665.6 83.7 L662.8 101.7 L660.9 145.2 L655.2 171.6 L625.9 197.2 L617.4 228.4 L587.2 257.7 L579.6 281.3 L578.7 314.4 L522.9 341.8 L521.6 367 L487.9 367.4 L469 372.1 L431.2 372.7 L404.7 367 L370.7 372.1 L376.4 389.7 L351 390.7 L325.9 419 L308 410.5 L247.5 438.9 L194.5 484.3 L146.3 533.4 L146.3 605.3 L150.1 622.3 L150.1 637.4 L146.3 656.3 L136.9 686.6 L104.7 711.2" fill="none" stroke="#000" stroke-width="2.8" stroke-linejoin="round"/>
<g transform="translate(1226.2 34.2)" clip-path="url(#pc)">
<rect x="-20" y="-20" width="742.5" height="749.1" fill="#940000"/>
<g filter="url(#bl)"><g transform="translate(-12 -10) scale(4)" fill="none" stroke-width="1.08" shape-rendering="crispEdges">
<path stroke="#0080ff" d="M176 176h6M175 177h7M174 178h8M173 179h9M172 180h10M171 181h11M170 182h12M169 183h13"/>
<path stroke="#008fff" d="M175 169h7M174 170h8M173 171h9M172 172h10M170 173h12M169 174h13M168 175h14M167 176h9M165 177h10M164 178h10M163 179h10M162 180h10M161 181h10M161 182h9M160 183h9"/>
<path stroke="#009fff" d="M175 159h7M172 160h10M169 161h13M168 162h14M166 163h16M164 164h18M163 165h19M161 166h21M160 167h22M159 168h23M159 169h16M158 170h16M157 171h16M156 172h16M156 173h14M155 174h14M154 175h14M153 176h14M153 177h12M152 178h12M151 179h12M150 180h12M150 181h11M149 182h12M149 183h11"/>
<path stroke="#00afff" d="M175 151h7M174 152h8M173 153h9M171 154h11M170 155h12M168 156h14M166 157h16M165 158h17M163 159h12M162 160h10M161 161h8M160 162h8M159 163h7M158 164h6M157 165h6M156 166h5M155 167h5M154 168h5M153 169h6M152 170h6M151 171h6M151 172h5M150 173h6M149 174h6M148 175h6M147 176h6M140 177h13M137 178h15M135 179h16M133 180h17M131 181h19M129 182h20M127 183h22"/>
<path stroke="#00bfff" d="M175 144h7M174 145h8M172 146h10M171 147h11M170 148h12M168 149h14M167 150h15M166 151h9M164 152h10M163 153h10M162 154h9M161 155h9M160 156h8M159 157h7M158 158h7M157 159h6M156 160h6M155 161h6M154 162h6M153 163h6M152 164h6M151 165h6M150 166h6M149 167h6M148 168h6M146 169h7M144 170h8M142 171h9M140 172h11M138 173h12M136 174h13M134 175h14M132 176h15M130 177h10M128 178h9M126 179h9M123 180h10M118 181h2M121 181h10M117 182h12M116 183h11"/>
<path stroke="#00cfff" d="M176 138h6M174 139h8M173 140h9M172 141h10M170 142h12M169 143h13M168 144h7M167 145h7M166 146h6M164 147h7M163 148h7M162 149h6M161 150h6M160 151h6M158 152h6M157 153h6M156 154h6M155 155h6M154 156h6M153 157h6M152 158h6M151 159h6M150 160h6M149 161h6M148 162h6M147 163h6M145 164h7M144 165h7M120 166h3M142 166h8M118 167h6M140 167h9M117 168h9M139 168h9M116 169h11M137 169h9M115 170h12M135 170h9M114 171h14M133 171h9M113 172h15M130 172h10M112 173h26M111 174h25M110 175h24M109 176h23M108 177h22M107 178h21M106 179h20M105 180h18M104 181h14M120 181h1M103 182h14M102 183h14"/>
<path stroke="#00dfff" d="M175 135h7M173 136h9M172 137h10M170 138h6M168 139h6M167 140h6M166 141h6M165 142h5M163 143h6M162 144h6M161 145h6M160 146h6M159 147h5M158 148h5M156 149h6M155 150h6M154 151h6M153 152h5M152 153h5M150 154h6M149 155h6M148 156h6M147 157h6M146 158h6M144 159h7M127 160h1M142 160h8M123 161h7M141 161h8M120 162h11M138 162h10M118 163h15M135 163h12M117 164h28M115 165h29M114 166h6M123 166h19M112 167h6M124 167h16M111 168h6M126 168h13M110 169h6M127 169h10M109 170h6M127 170h8M108 171h6M128 171h5M107 172h6M128 172h2M106 173h6M105 174h6M104 175h6M103 176h6M102 177h6M101 178h6M100 179h6M99 180h6M98 181h6M97 182h6M96 183h6"/>
<path stroke="#00efff" d="M175 131h7M174 132h8M172 133h10M171 134h11M169 135h6M167 136h6M166 137h6M164 138h6M163 139h5M161 140h6M160 141h6M159 142h6M158 143h5M157 144h5M156 145h5M154 146h6M153 147h6M152 148h6M151 149h5M150 150h5M149 151h5M147 152h6M140 153h12M133 154h17M130 155h19M126 156h22M123 157h24M119 158h27M118 159h26M116 160h11M128 160h14M115 161h8M130 161h11M114 162h6M131 162h7M112 163h6M133 163h2M111 164h6M109 165h6M108 166h6M107 167h5M105 168h6M104 169h6M103 170h6M102 171h6M101 172h6M100 173h6M99 174h6M98 175h6M97 176h6M96 177h6M95 178h6M94 179h6M93 180h6M92 181h6M91 182h6M90 183h6"/>
<path stroke="#0ff" d="M176 127h6M174 128h8M173 129h9M171 130h11M170 131h5M168 132h6M167 133h5M165 134h6M163 135h6M162 136h5M160 137h6M159 138h5M158 139h5M157 140h4M155 141h5M154 142h5M153 143h5M152 144h5M151 145h5M150 146h4M148 147h5M146 148h6M139 149h12M137 150h13M135 151h14M134 152h13M126 153h14M119 154h14M117 155h13M116 156h10M114 157h9M112 158h7M111 159h7M109 160h7M107 161h8M106 162h8M104 163h8M103 164h8M102 165h7M101 166h7M100 167h7M99 168h6M98 169h6M97 170h6M96 171h6M95 172h6M94 173h6M93 174h6M92 175h6M91 176h6M90 177h6M89 178h6M88 179h6M86 180h7M85 181h7M83 182h8M82 183h8"/>
<path stroke="#0fe" d="M175 124h7M174 125h8M172 126h10M170 127h6M169 128h5M167 129h6M166 130h5M164 131h6M162 132h6M161 133h6M160 134h5M158 135h5M157 136h5M156 137h4M154 138h5M153 139h5M152 140h5M151 141h4M150 142h4M148 143h5M145 144h7M142 145h9M140 146h10M139 147h9M137 148h9M135 149h4M134 150h3M128 151h7M120 152h14M115 153h11M109 154h10M108 155h9M106 156h10M105 157h9M104 158h8M103 159h8M102 160h7M101 161h6M100 162h6M99 163h5M98 164h5M97 165h5M96 166h5M95 167h5M94 168h5M93 169h5M92 170h5M91 171h5M89 172h6M88 173h6M86 174h7M85 175h7M84 176h7M82 177h8M81 178h8M80 179h8M78 180h8M77 181h8M74 182h9M70 183h12"/>
<path stroke="#0fd" d="M176 120h6M174 121h8M173 122h9M171 123h11M169 124h6M168 125h6M166 126h6M165 127h5M163 128h6M162 129h5M160 130h6M159 131h5M158 132h4M156 133h5M155 134h5M154 135h4M152 136h5M151 137h5M150 138h4M148 139h5M147 140h5M145 141h6M144 142h6M142 143h6M141 144h4M139 145h3M137 146h3M136 147h3M134 148h3M130 149h5M122 150h12M117 151h11M102 152h3M111 152h9M96 153h19M90 154h19M90 155h18M90 156h16M90 157h15M90 158h14M90 159h13M90 160h12M89 161h12M89 162h11M89 163h10M89 164h9M89 165h8M89 166h7M88 167h7M88 168h6M87 169h6M86 170h6M85 171h6M84 172h5M82 173h6M81 174h5M80 175h5M79 176h5M77 177h5M75 178h6M69 179h11M64 180h14M62 181h15M57 182h17M53 183h17"/>
<path stroke="#00ffcb" d="M175 117h7M173 118h9M172 119h10M170 120h6M168 121h6M167 122h6M165 123h6M164 124h5M162 125h6M147 126h19M147 127h18M147 128h16M147 129h15M147 130h13M146 131h13M146 132h12M146 133h10M146 134h9M146 135h8M145 136h7M145 137h6M145 138h5M145 139h3M144 140h3M142 141h3M141 142h3M139 143h3M138 144h3M90 145h1M136 145h3M90 146h3M135 146h2M89 147h5M103 147h2M131 147h5M88 148h8M97 148h9M124 148h10M88 149h18M118 149h12M87 150h20M113 150h9M87 151h30M86 152h16M105 152h6M85 153h11M85 154h5M85 155h5M85 156h5M85 157h5M85 158h5M85 159h5M85 160h5M85 161h4M84 162h5M84 163h5M84 164h5M84 165h5M84 166h5M84 167h4M83 168h5M83 169h4M81 170h5M80 171h5M79 172h5M78 173h4M76 174h5M70 175h10M68 176h11M65 177h12M63 178h12M59 179h10M47 180h1M54 180h10M46 181h16M45 182h12M45 183h8"/>
<path stroke="#00ffba" d="M147 110h3M147 111h4M146 112h5M146 113h6M175 113h7M146 114h6M174 114h8M146 115h6M172 115h10M146 116h6M170 116h12M146 117h7M168 117h7M146 118h7M165 118h8M146 119h7M163 119h9M146 120h24M146 121h22M146 122h21M146 123h19M146 124h18M146 125h16M145 126h2M145 127h2M144 128h3M144 129h3M144 130h3M144 131h2M143 132h3M90 133h1M143 133h3M90 134h1M143 134h3M90 135h1M143 135h3M90 136h1M143 136h2M90 137h2M142 137h3M89 138h3M142 138h3M89 139h6M142 139h3M89 140h9M141 140h3M88 141h12M140 141h2M87 142h14M104 142h1M138 142h3M86 143h20M136 143h3M86 144h20M135 144h3M85 145h5M91 145h16M133 145h3M84 146h6M93 146h15M126 146h9M83 147h6M94 147h9M105 147h4M120 147h11M83 148h5M96 148h1M106 148h3M114 148h10M82 149h6M106 149h12M81 150h6M107 150h6M81 151h6M80 152h6M80 153h5M79 154h6M79 155h6M79 156h6M79 157h6M79 158h6M79 159h6M79 160h6M79 161h6M79 162h5M79 163h5M79 164h5M79 165h5M79 166h5M79 167h5M79 168h4M78 169h5M77 170h4M73 171h7M71 172h8M69 173h9M66 174h10M64 175h6M47 176h2M62 176h6M46 177h5M56 177h9M45 178h18M44 179h15M43 180h4M48 180h6M42 181h4M41 182h4M40 183h5"/>
<path stroke="#00ffa9" d="M61 9h3M61 10h3M61 11h2M147 107h7M147 108h8M146 109h10M175 109h7M146 110h1M150 110h7M172 110h10M145 111h2M151 111h7M168 111h14M145 112h1M151 112h8M166 112h16M145 113h1M152 113h7M163 113h12M144 114h2M152 114h22M144 115h2M152 115h20M144 116h2M152 116h18M144 117h2M153 117h15M144 118h2M153 118h12M144 119h2M153 119h10M144 120h2M144 121h2M144 122h2M144 123h2M144 124h2M90 125h2M144 125h2M90 126h3M143 126h2M89 127h4M143 127h2M89 128h4M142 128h2M88 129h5M142 129h2M88 130h5M141 130h3M88 131h6M141 131h3M88 132h6M141 132h2M88 133h2M91 133h3M140 133h3M87 134h3M91 134h3M140 134h3M87 135h3M91 135h4M140 135h3M87 136h3M91 136h7M140 136h3M87 137h3M92 137h10M140 137h2M87 138h2M92 138h13M139 138h3M86 139h3M95 139h11M139 139h3M86 140h3M98 140h9M138 140h3M85 141h3M100 141h8M137 141h3M84 142h3M101 142h3M105 142h3M135 142h3M83 143h3M106 143h3M134 143h2M83 144h3M106 144h4M127 144h8M82 145h3M107 145h4M122 145h11M81 146h3M108 146h3M116 146h10M80 147h3M109 147h11M80 148h3M109 148h5M79 149h3M78 150h3M77 151h4M76 152h4M75 153h5M74 154h5M74 155h5M74 156h5M73 157h6M73 158h6M73 159h6M73 160h6M73 161h6M73 162h6M73 163h6M73 164h6M73 165h6M73 166h6M73 167h6M73 168h6M72 169h6M70 170h7M47 171h1M67 171h6M46 172h5M65 172h6M45 173h8M63 173h6M44 174h11M59 174h7M43 175h21M42 176h5M49 176h13M41 177h5M51 177h5M40 178h5M39 179h5M38 180h5M37 181h5M36 182h5M36 183h4"/>
<path stroke="#00ff98" d="M62 6h1M61 7h4M61 8h4M60 9h1M64 9h1M60 10h1M64 10h2M60 11h1M63 11h1M61 12h2M153 103h3M147 104h10M147 105h11M175 105h7M146 106h14M171 106h11M146 107h1M154 107h7M168 107h14M145 108h2M155 108h27M145 109h1M156 109h19M144 110h2M157 110h15M144 111h1M158 111h10M144 112h1M159 112h7M143 113h2M159 113h4M143 114h1M143 115h1M142 116h2M142 117h2M142 118h2M142 119h2M142 120h2M142 121h2M142 122h2M142 123h2M90 124h3M142 124h2M92 125h3M141 125h3M89 126h1M93 126h3M141 126h2M88 127h1M93 127h3M141 127h2M87 128h2M93 128h4M140 128h2M86 129h2M93 129h4M140 129h2M86 130h2M93 130h4M139 130h2M85 131h3M94 131h3M139 131h2M85 132h3M94 132h4M139 132h2M85 133h3M94 133h6M138 133h2M84 134h3M94 134h10M138 134h2M84 135h3M95 135h11M137 135h3M84 136h3M98 136h9M137 136h3M84 137h3M102 137h6M137 137h3M84 138h3M105 138h4M136 138h3M83 139h3M106 139h4M136 139h3M83 140h3M107 140h3M135 140h3M82 141h3M108 141h3M134 141h3M81 142h3M108 142h4M129 142h6M81 143h2M109 143h4M123 143h11M80 144h3M110 144h3M118 144h9M79 145h3M111 145h11M78 146h3M111 146h5M77 147h3M77 148h3M76 149h3M75 150h3M73 151h4M72 152h4M71 153h4M70 154h4M70 155h4M70 156h4M69 157h4M69 158h4M69 159h4M68 160h5M68 161h5M68 162h5M68 163h5M68 164h5M68 165h5M48 166h3M68 166h5M46 167h6M68 167h5M45 168h7M68 168h5M44 169h10M66 169h6M43 170h13M64 170h6M42 171h5M48 171h10M61 171h6M41 172h5M51 172h14M40 173h5M53 173h10M39 174h5M55 174h4M38 175h5M37 176h5M36 177h5M35 178h5M34 179h5M33 180h5M31 181h6M29 182h7M27 183h9"/>
<path stroke="#00ff86" d="M62 4h1M61 5h5M61 6h1M63 6h4M60 7h1M65 7h2M60 8h1M65 8h2M59 9h1M65 9h2M59 10h1M66 10h1M59 11h1M64 11h2M60 12h1M63 12h2M60 13h4M61 14h2M154 100h5M147 101h14M174 101h8M147 102h15M171 102h11M146 103h7M156 103h26M146 104h1M157 104h25M145 105h2M158 105h17M145 106h1M160 106h11M144 107h2M161 107h7M144 108h1M143 109h2M143 110h1M143 111h1M142 112h2M142 113h1M141 114h2M141 115h2M141 116h1M140 117h2M140 118h2M140 119h2M140 120h2M140 121h2M140 122h2M90 123h4M140 123h2M93 124h3M140 124h2M89 125h1M95 125h4M139 125h2M88 126h1M96 126h4M139 126h2M96 127h4M139 127h2M97 128h3M138 128h2M97 129h3M138 129h2M85 130h1M97 130h6M137 130h2M84 131h1M97 131h8M137 131h2M83 132h2M98 132h8M137 132h2M83 133h2M100 133h7M136 133h2M82 134h2M104 134h4M136 134h2M81 135h3M106 135h3M135 135h2M81 136h3M107 136h3M135 136h2M81 137h3M108 137h3M134 137h3M81 138h3M109 138h3M134 138h2M81 139h2M110 139h3M134 139h2M80 140h3M110 140h4M131 140h4M79 141h3M111 141h4M125 141h9M79 142h2M112 142h4M120 142h9M78 143h3M113 143h10M77 144h3M113 144h5M76 145h3M75 146h3M74 147h3M73 148h4M72 149h4M70 150h5M69 151h4M68 152h4M67 153h4M66 154h4M66 155h4M65 156h5M65 157h4M65 158h4M65 159h4M54 160h2M64 160h4M48 161h9M64 161h4M47 162h11M64 162h4M45 163h13M63 163h5M44 164h15M63 164h5M43 165h17M63 165h5M42 166h6M51 166h9M63 166h5M41 167h5M52 167h9M62 167h6M40 168h5M52 168h16M38 169h6M54 169h12M37 170h6M56 170h8M36 171h6M58 171h3M35 172h6M34 173h6M33 174h6M32 175h6M29 176h8M27 177h9M25 178h10M23 179h11M22 180h11M20 181h11M18 182h11M16 183h11"/>
<path stroke="#00ff75" d="M62 2h2M61 3h6M61 4h1M63 4h5M60 5h1M66 5h2M60 6h1M67 6h2M59 7h1M67 7h2M59 8h1M67 8h2M58 9h1M67 9h2M58 10h1M67 10h2M58 11h1M66 11h2M58 12h2M65 12h2M59 13h1M64 13h2M60 14h1M63 14h2M60 15h4M61 16h2M155 97h27M148 98h34M147 99h35M147 100h7M159 100h23M146 101h1M161 101h13M146 102h1M162 102h9M145 103h1M145 104h1M144 105h1M144 106h1M143 107h1M143 108h1M142 109h1M142 110h1M141 111h2M141 112h1M140 113h2M140 114h1M140 115h1M139 116h2M139 117h1M139 118h1M138 119h2M138 120h2M90 121h1M138 121h2M90 122h4M138 122h2M89 123h1M94 123h3M138 123h2M89 124h1M96 124h4M137 124h3M99 125h4M137 125h2M100 126h3M137 126h2M87 127h1M100 127h5M137 127h2M86 128h1M100 128h6M136 128h2M85 129h1M100 129h7M136 129h2M84 130h1M103 130h5M135 130h2M105 131h4M135 131h2M106 132h4M134 132h3M82 133h1M107 133h4M134 133h2M81 134h1M108 134h4M134 134h2M80 135h1M109 135h4M133 135h2M79 136h2M110 136h4M131 136h4M79 137h2M111 137h4M129 137h5M78 138h3M112 138h4M127 138h7M78 139h3M113 139h4M125 139h9M77 140h3M114 140h4M121 140h10M77 141h2M115 141h10M75 142h4M116 142h4M74 143h4M73 144h4M72 145h4M71 146h4M70 147h4M69 148h4M68 149h4M66 150h4M65 151h4M64 152h4M63 153h4M62 154h4M56 155h10M50 156h15M47 157h18M46 158h19M45 159h20M43 160h11M56 160h8M42 161h6M57 161h7M41 162h6M58 162h6M40 163h5M58 163h5M39 164h5M59 164h4M37 165h6M60 165h3M36 166h6M60 166h3M35 167h6M61 167h1M34 168h6M32 169h6M31 170h6M29 171h7M28 172h7M26 173h8M25 174h8M23 175h9M22 176h7M20 177h7M19 178h6M15 179h8M12 180h10M9 181h11M5 182h13M0 183h16"/>
<path stroke="#00ff64" d="M62 0h2M61 1h6M61 2h1M64 2h6M60 3h1M67 3h3M60 4h1M68 4h2M59 5h1M68 5h2M59 6h1M69 6h1M58 7h1M69 7h2M58 8h1M69 8h2M57 9h1M69 9h2M57 10h1M69 10h2M57 11h1M68 11h2M57 12h1M67 12h2M58 13h1M66 13h2M58 14h2M65 14h2M59 15h1M64 15h2M60 16h1M63 16h2M61 17h2M91 81h1M90 82h1M89 83h2M88 84h3M159 92h4M153 93h12M150 94h32M148 95h34M147 96h35M146 97h9M146 98h2M146 99h1M145 100h2M145 101h1M144 102h2M144 103h1M143 104h2M143 105h1M142 106h2M142 107h1M141 108h2M141 109h1M140 110h2M140 111h1M139 112h2M139 113h1M139 114h1M138 115h2M138 116h1M138 117h1M137 118h2M137 119h1M90 120h2M137 120h1M91 121h4M136 121h2M89 122h1M94 122h4M136 122h2M97 123h4M136 123h2M88 124h1M100 124h3M135 124h2M88 125h1M103 125h3M135 125h2M87 126h1M103 126h4M135 126h2M86 127h1M105 127h3M135 127h2M106 128h3M134 128h2M107 129h3M134 129h2M108 130h3M133 130h2M83 131h1M109 131h3M131 131h4M82 132h1M110 132h3M129 132h5M81 133h1M111 133h3M127 133h7M112 134h3M125 134h9M113 135h3M123 135h10M114 136h3M122 136h9M78 137h1M115 137h3M120 137h9M77 138h1M116 138h11M76 139h2M117 139h8M75 140h2M118 140h3M74 141h3M73 142h2M72 143h2M71 144h2M70 145h2M68 146h3M67 147h3M66 148h3M65 149h3M64 150h2M63 151h2M62 152h2M45 153h18M40 154h22M39 155h17M37 156h13M36 157h11M34 158h12M33 159h12M33 160h10M32 161h10M31 162h10M31 163h9M30 164h9M30 165h7M29 166h7M28 167h7M28 168h6M27 169h5M25 170h6M24 171h5M22 172h6M21 173h5M19 174h6M16 175h7M13 176h9M8 177h12M0 178h19M0 179h15M0 180h12M0 181h9M0 182h5"/>
<path stroke="#5aff50" d="M61 0h1M64 0h6M60 1h1M67 1h5M60 2h1M70 2h2M59 3h1M70 3h2M59 4h1M70 4h2M58 5h1M70 5h2M58 6h1M70 6h2M57 7h1M71 7h1M57 8h1M71 8h1M56 9h1M71 9h2M56 10h1M71 10h2M56 11h1M70 11h2M56 12h1M69 12h2M57 13h1M68 13h1M57 14h1M67 14h1M58 15h1M66 15h1M58 16h2M65 16h1M59 17h2M63 17h2M60 18h4M61 19h2M93 79h1M91 80h2M89 81h2M92 81h1M88 82h2M91 82h1M87 83h2M91 83h1M86 84h2M91 84h1M86 85h5M85 86h6M84 87h7M160 87h2M84 88h7M156 88h8M83 89h4M154 89h12M82 90h2M152 90h30M151 91h31M149 92h10M163 92h19M148 93h5M165 93h17M147 94h3M146 95h2M145 96h2M145 97h1M144 98h2M144 99h2M144 100h1M143 101h2M143 102h1M142 103h2M142 104h1M141 105h2M141 106h1M140 107h2M140 108h1M139 109h2M139 110h1M138 111h2M138 112h1M138 113h1M137 114h2M137 115h1M137 116h1M136 117h2M136 118h1M90 119h3M135 119h2M92 120h4M135 120h2M89 121h1M95 121h4M135 121h1M98 122h4M134 122h2M88 123h1M101 123h3M134 123h2M103 124h5M134 124h1M87 125h1M106 125h4M133 125h2M107 126h4M132 126h3M108 127h4M130 127h5M85 128h1M109 128h4M129 128h5M84 129h1M110 129h4M127 129h7M83 130h1M111 130h4M126 130h7M82 131h1M112 131h4M124 131h7M113 132h4M122 132h7M114 133h4M121 133h6M80 134h1M115 134h10M79 135h1M116 135h7M78 136h1M117 136h5M77 137h1M118 137h2M75 139h1M73 140h2M72 141h2M71 142h2M70 143h2M69 144h2M68 145h2M67 146h1M65 147h2M64 148h2M63 149h2M46 150h2M62 150h2M41 151h9M51 151h12M36 152h26M33 153h12M32 154h8M31 155h8M30 156h7M30 157h6M29 158h5M28 159h5M27 160h6M26 161h6M26 162h5M25 163h6M25 164h5M24 165h6M23 166h6M23 167h5M22 168h6M21 169h6M19 170h6M17 171h7M11 172h11M0 173h21M0 174h19M0 175h16M0 176h13M0 177h8"/>
<path stroke="#78ff35" d="M59 0h2M70 0h3M59 1h1M72 1h1M59 2h1M72 2h1M58 3h1M72 3h2M58 4h1M72 4h2M57 5h1M72 5h2M57 6h1M72 6h2M56 7h1M72 7h2M56 8h1M72 8h2M55 9h1M73 9h1M55 10h1M73 10h1M55 11h1M72 11h1M55 12h1M71 12h1M56 13h1M69 13h2M56 14h1M68 14h2M56 15h2M67 15h2M57 16h1M66 16h2M58 17h1M65 17h2M59 18h1M64 18h2M60 19h1M63 19h2M60 20h4M61 21h2M94 77h2M92 78h3M90 79h3M94 79h1M89 80h2M93 80h1M87 81h2M93 81h1M86 82h2M92 82h1M85 83h2M92 83h1M160 83h4M84 84h2M92 84h1M159 84h7M84 85h2M91 85h2M157 85h11M83 86h2M91 86h1M155 86h15M82 87h2M91 87h1M154 87h6M162 87h20M82 88h2M91 88h1M152 88h4M164 88h18M81 89h2M87 89h4M151 89h3M166 89h16M80 90h2M84 90h7M149 90h3M80 91h11M147 91h4M79 92h12M147 92h2M78 93h10M146 93h2M78 94h6M145 94h2M77 95h4M144 95h2M76 96h1M143 96h2M143 97h2M143 98h1M142 99h2M142 100h2M141 101h2M141 102h2M141 103h1M140 104h2M140 105h1M139 106h2M139 107h1M138 108h2M138 109h1M137 110h2M137 111h1M136 112h2M136 113h2M136 114h1M135 115h2M135 116h2M135 117h1M90 118h4M134 118h2M93 119h4M134 119h1M89 120h1M96 120h4M134 120h1M99 121h3M133 121h2M88 122h1M102 122h7M132 122h2M104 123h7M131 123h3M87 124h1M108 124h4M129 124h5M110 125h3M128 125h5M86 126h1M111 126h4M126 126h6M85 127h1M112 127h4M125 127h5M84 128h1M113 128h4M123 128h6M114 129h4M122 129h5M115 130h4M120 130h6M116 131h8M81 132h1M117 132h5M80 133h1M118 133h3M79 134h1M76 138h1M73 139h2M71 140h2M70 141h2M69 142h2M68 143h2M67 144h2M66 145h2M65 146h2M46 147h2M64 147h1M41 148h9M63 148h1M37 149h15M55 149h8M34 150h12M48 150h14M33 151h8M50 151h1M31 152h5M30 153h3M29 154h3M28 155h3M27 156h3M27 157h3M26 158h3M25 159h3M24 160h3M24 161h2M23 162h3M22 163h3M21 164h4M20 165h4M20 166h3M15 167h8M7 168h15M0 169h21M0 170h19M0 171h17M0 172h11"/>
<path stroke="#96ff1b" d="M58 0h1M73 0h2M58 1h1M73 1h2M57 2h2M73 2h2M57 3h1M74 3h1M56 4h2M74 4h2M56 5h1M74 5h2M55 6h2M74 6h2M55 7h1M74 7h2M54 8h2M74 8h2M54 9h1M74 9h2M54 10h1M74 10h2M54 11h1M73 11h2M54 12h1M72 12h2M55 13h1M71 13h2M55 14h1M70 14h2M55 15h1M69 15h2M56 16h1M68 16h2M56 17h2M67 17h2M57 18h2M66 18h2M58 19h2M65 19h2M59 20h1M64 20h2M60 21h1M63 21h2M61 22h3M62 23h1M162 68h1M162 69h3M161 70h6M161 71h8M161 72h10M161 73h10M98 74h1M160 74h11M96 75h2M160 75h11M94 76h4M160 76h11M92 77h2M96 77h1M160 77h11M90 78h2M95 78h2M159 78h12M89 79h1M95 79h1M159 79h12M87 80h2M94 80h2M159 80h12M85 81h2M94 81h1M159 81h12M84 82h2M93 82h2M158 82h13M83 83h2M93 83h1M157 83h3M164 83h9M82 84h2M93 84h1M155 84h4M166 84h16M82 85h2M93 85h1M153 85h4M168 85h14M81 86h2M92 86h2M152 86h3M170 86h12M81 87h1M92 87h1M150 87h4M80 88h2M92 88h1M149 88h3M79 89h2M91 89h2M147 89h4M79 90h1M91 90h1M146 90h3M78 91h2M91 91h1M146 91h1M77 92h2M91 92h1M145 92h2M77 93h1M88 93h3M144 93h2M75 94h3M84 94h7M143 94h2M74 95h3M81 95h10M142 95h2M73 96h3M77 96h14M142 96h1M73 97h8M141 97h2M141 98h2M140 99h2M140 100h2M140 101h1M139 102h2M139 103h2M139 104h1M138 105h2M138 106h1M137 107h2M137 108h1M136 109h2M136 110h1M135 111h2M135 112h1M135 113h1M134 114h2M134 115h1M90 116h1M134 116h1M90 117h5M133 117h2M89 118h1M94 118h4M132 118h2M89 119h1M97 119h4M130 119h4M100 120h3M129 120h5M88 121h1M102 121h9M128 121h5M109 122h4M126 122h6M87 123h1M111 123h3M125 123h6M112 124h4M124 124h5M86 125h1M113 125h4M122 125h6M115 126h3M121 126h5M116 127h9M117 128h6M83 129h1M118 129h4M82 130h1M119 130h1M81 131h1M78 135h1M77 136h1M76 137h1M74 138h2M71 139h2M69 140h2M68 141h2M67 142h2M66 143h2M47 144h1M65 144h2M42 145h8M64 145h2M39 146h13M63 146h2M36 147h10M48 147h6M58 147h6M33 148h8M50 148h13M32 149h5M52 149h3M31 150h3M30 151h3M29 152h2M27 153h3M26 154h3M25 155h3M25 156h2M24 157h3M23 158h3M22 159h3M21 160h3M21 161h3M20 162h3M19 163h3M0 164h8M11 164h10M0 165h20M0 166h20M0 167h15M0 168h7"/>
<path stroke="#b4ff00" d="M57 0h1M75 0h2M57 1h1M75 1h2M56 2h1M75 2h2M56 3h1M75 3h2M55 4h1M76 4h1M55 5h1M76 5h1M54 6h1M76 6h1M54 7h1M76 7h1M53 8h1M76 8h1M53 9h1M76 9h1M52 10h2M76 10h1M53 11h1M75 11h2M53 12h1M74 12h3M54 13h1M73 13h4M54 14h1M72 14h5M54 15h1M71 15h6M55 16h1M70 16h7M55 17h1M69 17h8M56 18h1M68 18h9M57 19h1M67 19h9M58 20h1M66 20h10M58 21h2M65 21h11M59 22h2M64 22h12M60 23h2M63 23h13M61 24h15M62 25h6M161 67h8M160 68h2M163 68h19M159 69h3M165 69h17M159 70h2M167 70h15M158 71h3M169 71h13M100 72h1M157 72h4M171 72h11M98 73h2M157 73h4M171 73h11M96 74h2M99 74h1M157 74h3M171 74h11M94 75h2M98 75h1M156 75h4M171 75h11M92 76h2M98 76h1M156 76h4M171 76h11M90 77h2M97 77h1M156 77h4M171 77h11M88 78h2M97 78h1M156 78h3M171 78h11M87 79h2M96 79h1M155 79h4M171 79h11M85 80h2M96 80h1M155 80h4M171 80h11M83 81h2M95 81h1M155 81h4M171 81h11M82 82h2M95 82h1M155 82h3M171 82h11M81 83h2M94 83h2M153 83h4M173 83h9M81 84h1M94 84h1M151 84h4M80 85h2M94 85h1M150 85h3M79 86h2M94 86h1M148 86h4M79 87h2M93 87h1M147 87h3M78 88h2M93 88h1M146 88h3M77 89h2M93 89h1M146 89h1M77 90h2M92 90h2M145 90h1M76 91h2M92 91h1M144 91h2M74 92h3M92 92h1M143 92h2M73 93h4M91 93h2M142 93h2M71 94h4M91 94h1M141 94h2M70 95h4M91 95h1M141 95h1M69 96h4M140 96h2M69 97h4M81 97h10M139 97h2M71 98h9M90 98h1M139 98h2M73 99h1M90 99h1M139 99h1M138 100h2M138 101h2M137 102h2M137 103h2M137 104h2M136 105h2M136 106h2M136 107h1M135 108h2M135 109h1M134 110h2M134 111h1M134 112h1M133 113h2M132 114h2M90 115h2M130 115h4M91 116h4M129 116h5M89 117h1M95 117h4M128 117h5M98 118h3M126 118h6M88 119h1M101 119h3M108 119h4M125 119h5M88 120h1M103 120h10M124 120h5M111 121h4M123 121h5M87 122h1M113 122h3M121 122h5M114 123h4M120 123h5M86 124h1M116 124h8M117 125h5M85 126h1M118 126h3M84 127h1M83 128h1M82 129h1M80 132h1M79 133h1M78 134h1M77 135h1M75 137h1M72 138h2M69 139h2M67 140h2M66 141h2M44 142h6M65 142h2M41 143h11M64 143h2M38 144h9M48 144h6M63 144h2M35 145h7M50 145h6M61 145h3M33 146h6M52 146h11M32 147h4M54 147h4M30 148h3M29 149h3M28 150h3M27 151h3M26 152h3M25 153h2M23 154h3M23 155h2M22 156h3M21 157h3M20 158h3M0 159h6M19 159h3M0 160h12M14 160h7M0 161h21M0 162h20M0 163h19M8 164h3"/>
<path stroke="#cdff00" d="M54 0h3M54 1h3M55 2h1M55 3h1M77 3h1M54 4h1M77 4h1M54 5h1M77 5h1M53 6h1M77 6h1M53 7h1M77 7h1M52 8h1M77 8h1M52 9h1M77 9h1M51 10h1M77 10h1M52 11h1M77 11h1M52 12h1M52 13h2M53 14h1M53 15h1M54 16h1M54 17h1M54 18h2M55 19h2M76 19h1M56 20h2M76 20h1M57 21h1M76 21h1M58 22h1M76 22h1M59 23h1M76 23h1M59 24h2M76 24h1M60 25h2M68 25h9M61 26h16M62 27h6M74 27h2M75 28h1M161 66h2M159 67h2M169 67h13M158 68h2M157 69h2M101 70h2M157 70h2M99 71h3M156 71h2M97 72h3M101 72h1M155 72h2M95 73h3M100 73h1M155 73h2M93 74h3M100 74h1M154 74h3M91 75h3M99 75h1M154 75h2M89 76h3M99 76h1M153 76h3M88 77h2M98 77h2M152 77h4M86 78h2M98 78h1M152 78h4M85 79h2M97 79h2M152 79h3M83 80h2M97 80h1M152 80h3M82 81h1M96 81h2M151 81h4M80 82h2M96 82h1M151 82h4M79 83h2M96 83h1M149 83h4M79 84h2M95 84h1M148 84h3M78 85h2M95 85h1M147 85h3M77 86h2M95 86h1M146 86h2M77 87h2M94 87h2M145 87h2M76 88h2M94 88h1M145 88h1M74 89h3M94 89h1M144 89h2M73 90h4M94 90h1M143 90h2M72 91h4M93 91h1M142 91h2M70 92h4M93 92h1M141 92h2M69 93h4M93 93h1M140 93h2M67 94h4M92 94h1M140 94h1M66 95h4M92 95h1M139 95h2M64 96h5M91 96h1M138 96h2M65 97h4M91 97h1M138 97h1M67 98h4M80 98h10M91 98h1M137 98h2M69 99h4M74 99h4M89 99h1M137 99h2M71 100h3M89 100h2M136 100h2M90 101h1M136 101h2M90 102h1M136 102h1M90 103h1M135 103h2M135 104h2M135 105h1M134 106h2M134 107h2M133 108h2M133 109h2M132 110h2M132 111h2M130 112h4M129 113h4M90 114h3M128 114h4M92 115h4M127 115h3M89 116h1M95 116h4M126 116h3M99 117h3M124 117h4M88 118h1M101 118h13M123 118h3M104 119h4M112 119h3M122 119h3M87 120h1M113 120h4M121 120h3M87 121h1M115 121h3M120 121h3M116 122h5M86 123h1M118 123h2M85 125h1M84 126h1M81 130h1M80 131h1M79 132h1M76 136h1M47 137h1M73 137h2M46 138h2M70 138h2M45 139h4M67 139h2M43 140h8M65 140h2M40 141h13M64 141h2M37 142h7M50 142h5M63 142h2M34 143h7M52 143h5M62 143h2M32 144h6M54 144h9M31 145h4M56 145h5M30 146h3M29 147h3M28 148h2M26 149h3M25 150h3M24 151h3M23 152h3M22 153h3M0 154h5M21 154h2M0 155h11M20 155h3M0 156h22M0 157h21M0 158h20M6 159h13M12 160h2"/>
<path stroke="#e6ff00" d="M51 0h3M77 0h1M52 1h2M77 1h1M52 2h3M77 2h1M52 3h3M53 4h1M53 5h1M78 5h1M52 6h1M78 6h1M52 7h1M78 7h1M51 8h1M78 8h1M51 9h1M50 10h1M51 11h1M51 12h1M77 12h1M51 13h1M77 13h1M52 14h1M77 14h1M52 15h1M77 15h1M53 16h1M77 16h1M53 17h1M77 17h1M53 18h1M77 18h1M54 19h1M77 19h1M55 20h1M77 20h1M56 21h1M77 21h1M56 22h2M77 22h1M57 23h2M77 23h1M58 24h1M59 25h1M59 26h2M60 27h2M68 27h6M76 27h1M61 28h14M76 28h1M62 29h7M72 29h5M73 30h4M74 31h3M75 32h1M75 33h1M161 65h2M159 66h2M163 66h19M105 67h1M157 67h2M103 68h2M156 68h2M101 69h4M155 69h2M99 70h2M103 70h1M155 70h2M97 71h2M102 71h2M154 71h2M95 72h2M102 72h1M154 72h1M93 73h2M101 73h2M153 73h2M91 74h2M101 74h1M152 74h2M89 75h2M100 75h2M152 75h2M88 76h1M100 76h1M151 76h2M86 77h2M100 77h1M151 77h1M84 78h2M99 78h1M150 78h2M83 79h2M99 79h1M149 79h3M81 80h2M98 80h1M149 80h3M80 81h2M98 81h1M148 81h3M78 82h2M97 82h1M148 82h3M77 83h2M97 83h1M147 83h2M77 84h2M96 84h2M146 84h2M76 85h2M96 85h1M145 85h2M75 86h2M96 86h1M144 86h2M73 87h4M96 87h1M144 87h1M72 88h4M95 88h1M143 88h2M70 89h4M95 89h1M142 89h2M69 90h4M95 90h1M141 90h2M68 91h4M94 91h2M140 91h2M66 92h4M94 92h1M140 92h1M65 93h4M94 93h1M139 93h1M64 94h3M93 94h1M138 94h2M63 95h3M93 95h1M137 95h2M62 96h2M92 96h1M136 96h2M61 97h4M92 97h1M136 97h2M63 98h4M135 98h2M65 99h4M78 99h11M91 99h1M135 99h2M67 100h4M74 100h3M88 100h1M91 100h1M135 100h1M68 101h6M88 101h2M91 101h1M134 101h2M70 102h1M89 102h1M91 102h1M134 102h2M89 103h1M134 103h1M89 104h2M133 104h2M90 105h1M132 105h3M90 106h1M132 106h2M90 107h1M131 107h3M131 108h2M130 109h3M129 110h3M129 111h3M128 112h2M90 113h4M126 113h3M93 114h4M125 114h3M89 115h1M96 115h4M124 115h3M99 116h4M112 116h2M123 116h3M88 117h1M102 117h14M122 117h2M114 118h3M120 118h3M87 119h1M115 119h7M117 120h4M86 121h1M118 121h2M86 122h1M85 123h1M85 124h1M83 127h1M82 128h1M81 129h1M80 130h1M46 132h2M45 133h3M78 133h1M44 134h5M77 134h1M43 135h6M76 135h1M41 136h9M74 136h2M40 137h7M48 137h2M71 137h2M39 138h7M48 138h4M68 138h2M38 139h7M49 139h6M65 139h2M36 140h7M51 140h6M63 140h2M33 141h7M53 141h6M62 141h2M32 142h5M55 142h8M31 143h3M57 143h5M30 144h2M28 145h3M27 146h3M26 147h3M25 148h3M23 149h3M22 150h3M0 151h6M21 151h3M0 152h14M20 152h3M0 153h22M5 154h16M11 155h9"/>
<path stroke="#ff0" d="M48 0h3M78 0h1M49 1h3M78 1h1M49 2h3M78 2h1M49 3h3M78 3h1M50 4h3M78 4h1M50 5h3M51 6h1M51 7h1M50 8h1M50 9h1M78 9h1M49 10h1M78 10h1M50 11h1M78 11h1M50 12h1M78 12h1M50 13h1M78 13h1M51 14h1M78 14h1M51 15h1M78 15h1M51 16h2M78 16h1M52 17h1M78 17h1M52 18h1M78 18h1M53 19h1M53 20h2M54 21h2M55 22h1M56 23h1M57 24h1M77 24h1M57 25h2M77 25h1M58 26h1M77 26h1M59 27h1M77 27h1M59 28h2M60 29h2M69 29h3M61 30h12M62 31h12M70 32h5M76 32h1M71 33h4M76 33h1M72 34h5M73 35h4M74 36h3M75 37h1M110 62h1M109 63h1M108 64h1M161 64h2M106 65h2M159 65h2M163 65h19M105 66h2M157 66h2M103 67h2M106 67h1M155 67h2M100 68h3M105 68h1M154 68h2M98 69h3M105 69h1M153 69h2M96 70h3M104 70h1M153 70h2M94 71h3M104 71h1M152 71h2M92 72h3M103 72h1M152 72h2M90 73h3M103 73h1M151 73h2M89 74h2M102 74h1M150 74h2M87 75h2M102 75h1M150 75h2M86 76h2M101 76h1M149 76h2M84 77h2M101 77h1M149 77h2M83 78h1M100 78h1M148 78h2M81 79h2M100 79h1M148 79h1M79 80h2M99 80h1M147 80h2M78 81h2M99 81h1M147 81h1M76 82h2M98 82h1M146 82h2M75 83h2M98 83h1M145 83h2M74 84h3M98 84h1M145 84h1M73 85h3M97 85h2M144 85h1M71 86h4M97 86h1M143 86h1M70 87h3M97 87h1M142 87h2M69 88h3M96 88h2M141 88h2M68 89h2M96 89h1M140 89h2M67 90h2M96 90h1M139 90h2M66 91h2M139 91h1M64 92h2M95 92h1M138 92h2M63 93h2M137 93h2M62 94h2M94 94h1M136 94h2M61 95h2M135 95h2M61 96h1M93 96h1M135 96h1M134 97h2M60 98h3M92 98h1M134 98h1M61 99h4M92 99h1M133 99h2M63 100h4M77 100h11M92 100h1M133 100h2M64 101h4M74 101h2M87 101h1M92 101h1M132 101h2M66 102h4M71 102h2M87 102h2M131 102h3M68 103h3M88 103h1M91 103h1M131 103h3M88 104h1M91 104h1M130 104h3M88 105h2M91 105h1M130 105h2M89 106h1M91 106h1M129 106h3M89 107h1M128 107h3M89 108h2M128 108h3M90 109h1M127 109h3M90 110h1M127 110h2M90 111h1M126 111h3M90 112h5M125 112h3M89 113h1M94 113h4M124 113h2M89 114h1M97 114h4M122 114h3M100 115h4M108 115h8M121 115h3M88 116h1M103 116h9M114 116h4M120 116h3M116 117h6M87 118h1M117 118h3M86 120h1M85 122h1M84 124h1M84 125h1M47 126h1M83 126h1M46 127h2M82 127h1M45 128h4M44 129h5M43 130h7M41 131h9M79 131h1M40 132h6M48 132h2M78 132h1M39 133h6M48 133h3M77 133h1M38 134h6M49 134h2M37 135h6M49 135h2M75 135h1M36 136h5M50 136h3M72 136h2M35 137h5M50 137h5M69 137h2M34 138h5M52 138h6M66 138h2M33 139h5M55 139h6M63 139h2M31 140h5M57 140h6M30 141h3M59 141h3M29 142h3M27 143h4M26 144h4M25 145h3M24 146h3M22 147h4M0 148h7M21 148h4M0 149h13M20 149h3M0 150h22M6 151h15M14 152h6"/>
<path stroke="#ffef00" d="M47 0h1M79 0h1M47 1h2M79 1h1M47 2h2M79 2h1M47 3h2M79 3h1M48 4h2M79 4h1M48 5h2M79 5h1M48 6h3M79 6h1M48 7h3M79 7h1M48 8h2M79 8h1M49 9h1M79 9h1M48 10h1M79 10h1M49 11h1M79 11h1M49 12h1M49 13h1M50 14h1M50 15h1M50 16h1M51 17h1M51 18h1M52 19h1M78 19h1M52 20h1M78 20h1M53 21h1M78 21h1M54 22h1M78 22h1M54 23h2M78 23h1M55 24h2M78 24h1M56 25h1M56 26h2M57 27h2M58 28h1M77 28h1M58 29h2M77 29h1M59 30h2M77 30h1M60 31h2M77 31h1M61 32h9M77 32h1M61 33h10M68 34h4M69 35h4M70 36h4M71 37h4M76 37h1M71 38h6M72 39h5M73 40h4M73 41h4M74 42h3M75 43h2M115 57h1M114 58h1M113 59h1M111 60h2M110 61h2M109 62h1M108 63h1M110 63h1M161 63h2M107 64h1M109 64h1M159 64h2M163 64h7M105 65h1M108 65h1M157 65h2M103 66h2M107 66h1M155 66h2M100 67h3M153 67h2M98 68h2M106 68h1M152 68h2M96 69h2M152 69h1M94 70h2M105 70h1M151 70h2M92 71h2M105 71h1M150 71h2M90 72h2M104 72h1M150 72h2M89 73h1M104 73h1M149 73h2M87 74h2M103 74h2M149 74h1M85 75h2M103 75h1M148 75h2M84 76h2M102 76h2M147 76h2M82 77h2M102 77h1M147 77h2M81 78h2M101 78h2M147 78h1M79 79h2M101 79h1M146 79h2M76 80h3M100 80h2M146 80h1M75 81h3M100 81h1M145 81h2M74 82h2M99 82h2M145 82h1M73 83h2M99 83h1M144 83h1M72 84h2M99 84h1M143 84h2M71 85h2M99 85h1M143 85h1M70 86h1M98 86h1M142 86h1M69 87h1M98 87h1M141 87h1M67 88h2M98 88h1M140 88h1M66 89h2M97 89h1M139 89h1M65 90h2M97 90h1M138 90h1M64 91h2M96 91h1M137 91h2M63 92h1M96 92h1M136 92h2M62 93h1M95 93h1M136 93h1M61 94h1M95 94h1M135 94h1M94 95h1M134 95h1M60 96h1M94 96h1M133 96h2M60 97h1M93 97h1M132 97h2M59 98h1M93 98h1M131 98h3M59 99h2M93 99h1M130 99h3M60 100h3M93 100h1M130 100h3M61 101h3M76 101h11M129 101h3M62 102h4M73 102h3M86 102h1M92 102h1M129 102h2M64 103h4M71 103h2M86 103h2M92 103h1M128 103h3M66 104h4M87 104h1M92 104h1M127 104h3M87 105h1M92 105h1M127 105h3M87 106h2M126 106h3M88 107h1M91 107h1M126 107h2M88 108h1M91 108h1M125 108h3M88 109h2M91 109h1M124 109h3M89 110h1M91 110h1M124 110h3M89 111h1M91 111h4M123 111h3M89 112h1M95 112h4M122 112h3M98 113h4M116 113h1M121 113h3M88 114h1M101 114h21M88 115h1M104 115h4M116 115h5M118 116h2M87 117h1M86 119h1M85 121h1M49 123h1M84 123h1M47 124h3M46 125h4M83 125h1M45 126h2M48 126h2M44 127h2M48 127h3M43 128h2M49 128h2M81 128h1M42 129h2M49 129h2M80 129h1M41 130h2M50 130h2M79 130h1M40 131h1M50 131h2M78 131h1M39 132h1M50 132h2M37 133h2M51 133h2M36 134h2M51 134h2M75 134h2M35 135h2M51 135h5M73 135h2M34 136h2M53 136h6M70 136h2M33 137h2M55 137h6M67 137h2M31 138h3M58 138h5M64 138h2M29 139h4M61 139h2M27 140h4M26 141h4M25 142h4M24 143h3M23 144h3M0 145h8M21 145h4M0 146h12M20 146h4M0 147h22M7 148h14M13 149h7"/>
<path stroke="#ffde00" d="M80 0h1M80 1h1M80 2h1M80 3h1M47 4h1M80 4h1M47 5h1M80 5h1M47 6h1M80 6h1M47 7h1M80 7h1M47 8h1M80 8h1M47 9h2M47 10h1M48 11h1M48 12h1M79 12h1M48 13h1M79 13h1M49 14h1M79 14h1M49 15h1M79 15h1M49 16h1M79 16h1M50 17h1M79 17h1M50 18h1M79 18h1M50 19h2M79 19h1M51 20h1M79 20h1M51 21h2M79 21h1M52 22h2M53 23h1M54 24h1M54 25h2M78 25h1M55 26h1M78 26h1M56 27h1M78 27h1M56 28h2M78 28h1M57 29h1M58 30h1M58 31h2M59 32h2M60 33h1M77 33h1M61 34h7M77 34h1M61 35h8M77 35h1M66 36h4M77 36h1M67 37h4M77 37h1M67 38h4M77 38h1M68 39h4M77 39h1M69 40h4M77 40h1M69 41h4M77 41h1M70 42h4M77 42h1M70 43h5M77 43h1M71 44h6M72 45h5M73 46h4M74 47h3M74 48h3M75 49h1M119 53h1M118 54h1M116 55h2M115 56h2M114 57h1M113 58h1M115 58h1M112 59h1M114 59h1M110 60h1M113 60h1M109 61h1M112 61h1M108 62h1M111 62h1M161 62h2M107 63h1M159 63h2M163 63h3M106 64h1M110 64h1M157 64h2M170 64h12M104 65h1M109 65h1M155 65h2M101 66h2M108 66h1M153 66h2M98 67h2M107 67h1M152 67h1M96 68h2M107 68h1M150 68h2M94 69h2M106 69h1M150 69h2M92 70h2M106 70h1M149 70h2M90 71h2M106 71h1M148 71h2M88 72h2M105 72h1M148 72h2M87 73h2M105 73h1M147 73h2M85 74h2M147 74h2M83 75h2M104 75h1M147 75h1M81 76h3M104 76h1M146 76h1M78 77h4M103 77h1M146 77h1M76 78h5M103 78h1M145 78h2M75 79h4M102 79h1M145 79h1M74 80h2M102 80h1M145 80h1M73 81h2M101 81h1M144 81h1M73 82h1M101 82h1M144 82h1M71 83h2M100 83h2M143 83h1M70 84h2M100 84h1M142 84h1M69 85h2M100 85h1M141 85h2M68 86h2M99 86h2M140 86h2M67 87h2M99 87h1M140 87h1M66 88h1M99 88h1M139 88h1M64 89h2M98 89h1M138 89h1M63 90h2M98 90h1M137 90h1M62 91h2M97 91h1M136 91h1M61 92h2M135 92h1M61 93h1M96 93h1M134 93h2M60 94h1M133 94h2M60 95h1M95 95h1M132 95h2M59 96h1M131 96h2M59 97h1M94 97h1M130 97h2M94 98h1M129 98h2M58 99h1M94 99h1M129 99h1M58 100h2M128 100h2M58 101h3M93 101h1M127 101h2M59 102h3M76 102h10M93 102h1M126 102h3M61 103h3M73 103h3M85 103h1M93 103h1M126 103h2M62 104h4M70 104h3M85 104h2M125 104h2M64 105h6M86 105h1M124 105h3M65 106h2M86 106h1M92 106h1M123 106h3M86 107h2M92 107h1M123 107h3M87 108h1M92 108h1M122 108h3M87 109h1M92 109h1M122 109h2M88 110h1M92 110h4M121 110h3M88 111h1M95 111h4M120 111h3M88 112h1M99 112h4M113 112h9M88 113h1M102 113h14M117 113h4M87 115h1M87 116h1M86 118h1M52 120h1M85 120h1M50 121h3M48 122h5M84 122h1M47 123h2M50 123h3M45 124h2M50 124h2M83 124h1M44 125h2M50 125h2M43 126h2M50 126h2M82 126h1M42 127h2M51 127h2M81 127h1M41 128h2M51 128h2M80 128h1M40 129h2M51 129h3M39 130h2M52 130h2M38 131h2M52 131h2M37 132h2M52 132h3M77 132h1M36 133h1M53 133h4M76 133h1M35 134h1M53 134h6M74 134h1M33 135h2M56 135h6M71 135h2M32 136h2M59 136h4M68 136h2M30 137h3M61 137h3M65 137h2M28 138h3M63 138h1M26 139h3M24 140h3M23 141h3M0 142h9M21 142h4M0 143h13M20 143h4M0 144h23M8 145h13M12 146h8"/>
<path stroke="#ffce00" d="M46 0h1M81 0h1M46 1h1M81 1h1M46 2h1M81 2h1M46 3h1M81 3h1M81 4h1M81 5h1M81 6h1M80 9h1M80 10h1M47 11h1M80 11h1M47 12h1M80 12h1M47 13h1M80 13h1M48 14h1M80 14h1M48 15h1M80 15h1M48 16h1M80 16h1M49 17h1M80 17h1M49 18h1M80 18h1M49 19h1M50 20h1M50 21h1M51 22h1M79 22h1M52 23h1M79 23h1M52 24h2M79 24h1M53 25h1M79 25h1M54 26h1M54 27h2M55 28h1M55 29h2M78 29h1M56 30h2M78 30h1M57 31h1M78 31h1M58 32h1M78 32h1M58 33h2M78 33h1M59 34h2M60 35h1M61 36h5M61 37h6M63 38h4M78 38h1M64 39h4M78 39h2M65 40h4M78 40h1M65 41h4M78 41h1M66 42h4M78 42h1M66 43h4M78 43h1M67 44h4M77 44h2M68 45h4M77 45h1M68 46h5M77 46h1M69 47h5M77 47h1M70 48h4M77 48h1M70 49h5M76 49h2M71 50h6M72 51h5M73 52h4M118 52h2M74 53h3M118 53h1M76 54h1M117 54h1M119 54h1M115 55h1M118 55h1M114 56h1M117 56h1M113 57h1M116 57h1M112 58h1M111 59h1M115 59h1M109 60h1M114 60h1M108 61h1M113 61h1M161 61h2M107 62h1M112 62h1M159 62h2M163 62h3M106 63h1M111 63h1M157 63h2M166 63h16M104 64h2M155 64h2M101 65h3M110 65h1M153 65h2M98 66h3M109 66h1M151 66h2M96 67h2M108 67h1M150 67h2M93 68h3M148 68h2M91 69h3M107 69h1M148 69h2M89 70h3M107 70h1M147 70h2M88 71h2M147 71h1M86 72h2M106 72h1M147 72h1M84 73h3M106 73h1M146 73h1M80 74h5M105 74h1M146 74h1M77 75h6M105 75h1M145 75h2M76 76h5M105 76h1M145 76h1M75 77h3M104 77h1M145 77h1M74 78h2M104 78h1M144 78h1M73 79h2M103 79h1M144 79h1M72 80h2M103 80h1M143 80h2M72 81h1M102 81h1M143 81h1M71 82h2M102 82h1M143 82h1M70 83h1M102 83h1M142 83h1M68 84h2M101 84h1M141 84h1M67 85h2M101 85h1M140 85h1M66 86h2M139 86h1M65 87h2M100 87h1M138 87h2M64 88h2M137 88h2M63 89h1M99 89h1M137 89h1M62 90h1M136 90h1M61 91h1M98 91h1M135 91h1M97 92h1M134 92h1M60 93h1M97 93h1M133 93h1M59 94h1M96 94h1M132 94h1M59 95h1M96 95h1M130 95h2M58 96h1M95 96h1M129 96h2M58 97h1M95 97h1M128 97h2M58 98h1M95 98h1M127 98h2M57 99h1M127 99h2M57 100h1M94 100h1M126 100h2M57 101h1M94 101h1M125 101h2M57 102h2M94 102h1M124 102h2M58 103h3M76 103h9M124 103h2M59 104h3M73 104h3M84 104h1M93 104h1M123 104h2M60 105h4M70 105h3M84 105h2M93 105h1M122 105h2M62 106h3M67 106h3M85 106h1M93 106h1M122 106h1M63 107h4M85 107h1M93 107h1M121 107h2M85 108h2M93 108h1M120 108h2M86 109h1M93 109h4M119 109h3M86 110h2M96 110h4M116 110h5M86 111h2M99 111h5M109 111h11M87 112h1M103 112h10M87 113h1M87 114h1M86 116h1M55 117h1M86 117h1M53 118h3M85 118h1M52 119h4M85 119h1M50 120h2M53 120h2M48 121h2M53 121h2M84 121h1M46 122h2M53 122h2M45 123h2M53 123h2M83 123h1M44 124h1M52 124h3M42 125h2M52 125h2M82 125h1M41 126h2M52 126h3M40 127h2M53 127h2M39 128h2M53 128h2M38 129h2M54 129h2M79 129h1M37 130h2M54 130h2M78 130h1M36 131h2M54 131h3M77 131h1M35 132h2M55 132h5M34 133h2M57 133h5M74 133h2M32 134h3M59 134h4M72 134h2M30 135h3M62 135h2M69 135h2M28 136h4M63 136h2M66 136h2M26 137h4M64 137h1M0 138h9M24 138h4M0 139h11M22 139h4M0 140h14M20 140h4M0 141h23M9 142h12M13 143h7"/>
<path stroke="#ffbe00" d="M82 0h1M82 1h1M82 2h1M82 3h1M46 4h1M82 4h1M46 5h1M46 6h1M46 7h1M81 7h1M46 8h1M81 8h1M46 9h1M81 9h1M46 10h1M81 10h1M46 11h1M46 12h1M46 13h1M47 14h1M47 15h1M47 16h1M48 17h1M48 18h1M48 19h1M80 19h1M49 20h1M80 20h1M49 21h1M80 21h1M49 22h2M80 22h1M50 23h2M51 24h1M52 25h1M52 26h2M79 26h1M53 27h1M79 27h1M53 28h2M79 28h1M54 29h1M79 29h1M55 30h1M55 31h2M56 32h2M57 33h1M57 34h2M78 34h1M58 35h2M78 35h1M59 36h2M78 36h1M60 37h1M78 37h1M149 37h1M61 38h2M79 38h1M148 38h3M61 39h3M80 39h1M147 39h5M61 40h4M79 40h2M147 40h3M62 41h3M79 41h1M62 42h4M79 42h1M62 43h4M79 43h1M63 44h4M79 44h1M63 45h5M78 45h2M64 46h4M78 46h1M65 47h4M78 47h1M65 48h5M78 48h1M66 49h4M78 49h1M66 50h5M77 50h2M119 50h1M67 51h5M77 51h1M118 51h3M68 52h5M77 52h2M117 52h1M120 52h1M69 53h5M77 53h2M117 53h1M120 53h1M71 54h5M77 54h2M116 54h1M120 54h1M73 55h5M114 55h1M119 55h1M75 56h3M113 56h1M118 56h1M75 57h2M112 57h1M117 57h1M76 58h1M111 58h1M116 58h1M109 59h2M108 60h1M115 60h1M161 60h3M107 61h1M114 61h1M159 61h2M163 61h3M106 62h1M113 62h1M157 62h2M166 62h16M105 63h1M112 63h1M155 63h2M102 64h2M111 64h1M137 64h4M153 64h2M99 65h2M135 65h12M151 65h2M96 66h2M110 66h1M134 66h14M150 66h1M93 67h3M109 67h1M133 67h17M91 68h2M108 68h1M132 68h16M89 69h2M108 69h1M133 69h8M146 69h2M86 70h3M108 70h1M146 70h1M83 71h5M107 71h1M146 71h1M80 72h6M107 72h1M145 72h2M77 73h7M145 73h1M76 74h4M106 74h1M144 74h2M75 75h2M106 75h1M144 75h1M74 76h2M144 76h1M73 77h2M105 77h1M143 77h2M72 78h2M105 78h1M143 78h1M71 79h2M104 79h1M143 79h1M71 80h1M104 80h1M142 80h1M70 81h2M103 81h2M142 81h1M69 82h2M103 82h1M141 82h2M68 83h2M103 83h1M141 83h1M67 84h1M102 84h1M140 84h1M66 85h1M102 85h1M139 85h1M64 86h2M101 86h1M138 86h1M63 87h2M101 87h1M137 87h1M62 88h2M100 88h1M136 88h1M61 89h2M100 89h1M135 89h2M61 90h1M99 90h1M134 90h2M60 91h1M99 91h1M134 91h1M60 92h1M98 92h1M132 92h2M59 93h1M131 93h2M97 94h1M130 94h2M58 95h1M128 95h2M96 96h1M127 96h2M57 97h1M96 97h1M126 97h2M57 98h1M125 98h2M95 99h1M125 99h2M56 100h1M95 100h1M124 100h2M56 101h1M95 101h1M123 101h2M56 102h1M123 102h1M55 103h3M94 103h1M122 103h2M57 104h2M76 104h8M94 104h1M121 104h2M58 105h2M73 105h2M83 105h1M94 105h1M120 105h2M59 106h3M70 106h3M83 106h2M94 106h1M120 106h2M60 107h3M67 107h3M84 107h1M94 107h1M118 107h3M61 108h6M84 108h1M94 108h4M113 108h7M63 109h1M84 109h2M97 109h4M107 109h12M85 110h1M100 110h4M105 110h11M85 111h1M104 111h5M85 112h2M86 113h1M58 114h1M86 114h1M57 115h2M86 115h1M55 116h4M53 117h2M56 117h2M85 117h1M51 118h2M56 118h2M49 119h3M56 119h2M84 119h1M47 120h3M55 120h3M84 120h1M46 121h2M55 121h2M44 122h2M55 122h2M83 122h1M43 123h2M55 123h2M42 124h2M55 124h2M82 124h1M40 125h2M54 125h2M39 126h2M55 126h2M81 126h1M38 127h2M55 127h2M80 127h1M37 128h2M55 128h3M79 128h1M36 129h2M56 129h2M78 129h1M35 130h2M56 130h4M34 131h2M57 131h5M32 132h3M60 132h3M75 132h2M10 133h3M30 133h4M62 133h2M73 133h1M7 134h8M28 134h4M63 134h2M70 134h2M0 135h17M26 135h4M64 135h2M67 135h2M0 136h19M24 136h4M65 136h1M0 137h20M22 137h4M9 138h15M11 139h11M14 140h6"/>
<path stroke="#ffad00" d="M45 0h1M45 1h1M45 2h1M45 3h1M82 5h1M82 6h1M82 7h1M82 8h1M81 11h1M45 12h1M81 12h1M45 13h1M81 13h1M46 14h1M81 14h1M46 15h1M81 15h1M46 16h1M81 16h1M47 17h1M81 17h1M47 18h1M81 18h1M47 19h1M81 19h1M48 20h1M81 20h1M48 21h1M48 22h1M49 23h1M80 23h1M50 24h1M80 24h1M50 25h2M80 25h1M51 26h1M80 26h1M51 27h2M52 28h1M53 29h1M53 30h2M79 30h1M54 31h1M79 31h1M54 32h2M79 32h1M55 33h2M79 33h1M153 33h1M56 34h1M79 34h1M152 34h4M57 35h1M151 35h6M57 36h2M79 36h1M150 36h8M58 37h2M79 37h2M148 37h1M150 37h10M59 38h2M80 38h1M147 38h1M151 38h10M60 39h1M81 39h1M146 39h1M152 39h9M60 40h1M81 40h1M146 40h1M150 40h9M60 41h2M80 41h1M146 41h11M60 42h2M80 42h1M146 42h9M61 43h1M80 43h1M147 43h7M61 44h2M80 44h1M147 44h5M61 45h2M80 45h1M147 45h3M61 46h3M79 46h2M61 47h4M79 47h1M62 48h3M79 48h1M119 48h1M62 49h4M79 49h1M118 49h3M62 50h4M79 50h1M118 50h1M120 50h2M63 51h4M78 51h2M117 51h1M121 51h1M63 52h5M79 52h2M116 52h1M121 52h1M64 53h5M79 53h2M116 53h1M121 53h1M66 54h5M79 54h2M114 54h2M121 54h1M69 55h4M78 55h2M113 55h1M120 55h1M71 56h4M78 56h2M112 56h1M119 56h1M73 57h2M77 57h2M111 57h1M118 57h1M73 58h3M77 58h2M110 58h1M117 58h1M74 59h4M108 59h1M116 59h1M161 59h3M75 60h2M107 60h1M141 60h4M159 60h2M164 60h2M75 61h2M106 61h1M115 61h1M139 61h9M157 61h2M166 61h5M105 62h1M114 62h1M138 62h11M155 62h2M102 63h3M113 63h1M137 63h13M153 63h2M99 64h3M112 64h1M135 64h2M141 64h12M97 65h2M111 65h1M134 65h1M147 65h4M94 66h2M111 66h1M133 66h1M148 66h2M88 67h5M110 67h1M132 67h1M86 68h5M109 68h1M131 68h1M82 69h7M109 69h1M131 69h2M141 69h5M79 70h7M131 70h15M76 71h7M108 71h1M133 71h6M144 71h2M75 72h5M108 72h1M144 72h1M75 73h2M107 73h1M144 73h1M74 74h2M107 74h1M143 74h1M73 75h2M107 75h1M143 75h1M72 76h2M106 76h1M142 76h2M71 77h2M106 77h1M142 77h1M70 78h2M106 78h1M142 78h1M70 79h1M105 79h1M141 79h2M69 80h2M105 80h1M141 80h1M68 81h2M105 81h1M141 81h1M67 82h2M104 82h1M140 82h1M66 83h2M104 83h1M139 83h2M65 84h2M103 84h1M138 84h2M64 85h2M103 85h1M138 85h1M63 86h1M102 86h1M137 86h1M62 87h1M136 87h1M61 88h1M101 88h1M135 88h1M134 89h1M60 90h1M100 90h1M133 90h1M59 91h1M132 91h2M59 92h1M99 92h1M131 92h1M58 93h1M98 93h1M129 93h2M58 94h1M98 94h1M128 94h2M57 95h1M97 95h1M127 95h1M57 96h1M97 96h1M125 96h2M56 97h1M124 97h2M56 98h1M96 98h1M124 98h1M56 99h1M96 99h1M123 99h2M55 100h1M96 100h1M122 100h2M55 101h1M121 101h2M55 102h1M95 102h1M121 102h2M95 103h1M120 103h2M54 104h3M95 104h1M119 104h2M55 105h3M75 105h8M95 105h1M115 105h5M56 106h3M73 106h2M82 106h1M95 106h1M109 106h11M58 107h2M70 107h2M82 107h2M95 107h4M108 107h10M59 108h2M67 108h3M83 108h1M98 108h4M106 108h7M60 109h3M64 109h3M83 109h1M101 109h6M61 110h3M83 110h2M104 110h1M61 111h1M84 111h1M60 112h2M84 112h1M58 113h3M84 113h2M56 114h2M59 114h2M85 114h1M54 115h3M59 115h2M85 115h1M52 116h3M59 116h2M85 116h1M50 117h3M58 117h3M48 118h3M58 118h2M84 118h1M47 119h2M58 119h2M45 120h2M58 120h2M83 120h1M44 121h2M57 121h3M83 121h1M43 122h1M57 122h2M41 123h2M57 123h2M82 123h1M40 124h2M57 124h2M38 125h2M56 125h3M81 125h1M37 126h2M57 126h2M80 126h1M36 127h2M57 127h2M15 128h3M35 128h2M58 128h3M12 129h7M34 129h2M58 129h4M9 130h11M33 130h2M60 130h3M77 130h1M6 131h15M31 131h3M62 131h2M76 131h1M0 132h22M29 132h3M63 132h2M73 132h2M0 133h10M13 133h10M27 133h3M64 133h2M71 133h2M0 134h7M15 134h9M25 134h3M65 134h2M68 134h2M17 135h9M66 135h1M19 136h5M20 137h2"/>
<path stroke="#ff9d00" d="M83 0h1M83 1h1M83 2h1M83 3h1M45 4h1M83 4h1M45 5h1M83 5h1M45 6h1M83 6h1M45 7h1M45 8h1M45 9h1M82 9h1M45 10h1M82 10h1M45 11h1M82 11h1M82 12h1M44 13h1M82 13h1M45 14h1M82 14h1M45 15h1M82 15h1M45 16h1M82 16h1M46 17h1M82 17h1M46 18h1M82 18h1M46 19h1M47 20h1M47 21h1M81 21h1M47 22h1M81 22h1M48 23h1M81 23h1M48 24h2M49 25h1M49 26h2M50 27h1M80 27h1M51 28h1M80 28h1M51 29h2M80 29h1M157 29h1M52 30h1M80 30h1M156 30h4M52 31h2M155 31h6M53 32h1M154 32h8M54 33h1M152 33h1M154 33h10M54 34h2M151 34h1M156 34h9M55 35h2M79 35h1M150 35h1M157 35h9M56 36h1M80 36h1M149 36h1M158 36h8M57 37h1M81 37h1M160 37h5M57 38h2M81 38h1M146 38h1M161 38h4M58 39h2M82 39h1M145 39h1M161 39h4M58 40h2M82 40h1M145 40h1M159 40h5M59 41h1M81 41h2M145 41h1M157 41h6M59 42h1M81 42h1M145 42h1M155 42h6M59 43h2M81 43h1M145 43h2M154 43h6M59 44h2M81 44h1M146 44h1M152 44h7M60 45h1M81 45h1M146 45h1M150 45h7M60 46h1M81 46h1M146 46h10M60 47h1M80 47h1M118 47h2M146 47h8M60 48h2M80 48h1M118 48h1M120 48h1M147 48h6M60 49h2M80 49h2M117 49h1M121 49h1M147 49h4M61 50h1M80 50h2M116 50h2M122 50h1M147 50h2M61 51h2M80 51h2M116 51h1M122 51h1M61 52h2M81 52h2M115 52h1M122 52h1M61 53h3M81 53h2M115 53h1M122 53h1M62 54h4M81 54h2M113 54h1M122 54h1M64 55h5M80 55h2M112 55h1M121 55h1M66 56h5M80 56h2M111 56h1M120 56h1M145 56h3M68 57h5M79 57h2M110 57h1M119 57h1M143 57h6M71 58h2M79 58h2M109 58h1M118 58h1M142 58h8M161 58h3M72 59h2M78 59h2M107 59h1M117 59h1M141 59h10M159 59h2M164 59h2M72 60h3M77 60h2M106 60h1M116 60h1M139 60h2M145 60h6M157 60h2M166 60h3M73 61h2M77 61h2M105 61h1M138 61h1M148 61h4M155 61h2M171 61h11M74 62h4M103 62h2M115 62h1M136 62h2M149 62h6M74 63h4M100 63h2M114 63h1M135 63h2M150 63h3M75 64h2M89 64h2M97 64h2M113 64h1M134 64h1M76 65h1M86 65h6M94 65h3M112 65h1M133 65h1M84 66h10M132 66h1M81 67h7M111 67h1M131 67h1M78 68h8M110 68h1M130 68h1M76 69h6M110 69h1M130 69h1M75 70h4M109 70h1M130 70h1M74 71h2M109 71h1M130 71h3M139 71h5M74 72h1M109 72h1M131 72h13M73 73h2M108 73h1M133 73h5M142 73h2M72 74h2M108 74h1M142 74h1M71 75h2M142 75h1M70 76h2M107 76h1M141 76h1M70 77h1M107 77h1M141 77h1M69 78h1M140 78h2M68 79h2M106 79h1M140 79h1M67 80h2M106 80h1M140 80h1M66 81h2M106 81h1M139 81h2M65 82h2M105 82h2M139 82h1M64 83h2M105 83h1M138 83h1M63 84h2M104 84h1M137 84h1M62 85h2M136 85h2M61 86h2M103 86h1M135 86h2M61 87h1M102 87h1M135 87h1M60 88h1M102 88h1M134 88h1M60 89h1M101 89h1M133 89h1M59 90h1M101 90h1M131 90h2M100 91h1M130 91h2M58 92h1M100 92h1M129 92h2M99 93h1M127 93h2M57 94h1M126 94h2M56 95h1M98 95h1M125 95h2M56 96h1M123 96h2M55 97h1M97 97h1M122 97h2M55 98h1M97 98h1M122 98h2M55 99h1M97 99h1M121 99h2M120 100h2M54 101h1M96 101h1M119 101h2M54 102h1M96 102h1M117 102h4M54 103h1M96 103h1M112 103h8M53 104h1M96 104h1M111 104h8M53 105h2M96 105h1M109 105h6M54 106h2M75 106h7M96 106h4M107 106h2M55 107h3M72 107h3M81 107h1M99 107h4M106 107h2M56 108h3M70 108h2M81 108h2M102 108h4M57 109h3M67 109h2M82 109h1M58 110h3M64 110h3M82 110h1M59 111h2M62 111h2M82 111h2M57 112h3M62 112h2M83 112h1M55 113h3M61 113h3M83 113h1M53 114h3M61 114h3M83 114h2M51 115h3M61 115h2M84 115h1M49 116h3M61 116h2M84 116h1M48 117h2M61 117h2M84 117h1M46 118h2M60 118h3M45 119h2M60 119h2M83 119h1M43 120h2M60 120h2M42 121h2M60 121h2M82 121h1M41 122h2M59 122h3M82 122h1M39 123h2M59 123h2M81 123h1M38 124h2M59 124h2M81 124h1M15 125h7M36 125h2M59 125h2M12 126h12M35 126h2M59 126h2M9 127h16M34 127h2M59 127h4M79 127h1M6 128h9M18 128h8M33 128h2M61 128h3M78 128h1M0 129h12M19 129h8M31 129h3M62 129h2M77 129h1M0 130h9M20 130h8M29 130h4M63 130h2M76 130h1M0 131h6M21 131h10M64 131h2M74 131h2M22 132h7M65 132h2M71 132h2M23 133h4M66 133h2M69 133h2M24 134h1M67 134h1"/>
<path stroke="#ff8d00" d="M44 0h1M84 0h1M44 1h1M84 1h1M44 2h1M84 2h1M84 3h1M84 4h1M83 7h1M83 8h1M83 9h1M83 10h1M44 12h1M44 14h1M44 15h1M44 16h1M45 17h1M45 18h1M45 19h1M82 19h1M46 20h1M82 20h1M46 21h1M46 22h1M47 23h1M47 24h1M81 24h1M47 25h2M81 25h1M161 25h2M48 26h1M81 26h1M160 26h4M49 27h1M81 27h1M159 27h6M49 28h2M158 28h9M50 29h1M156 29h1M158 29h10M50 30h2M155 30h1M160 30h9M51 31h1M80 31h1M154 31h1M161 31h9M52 32h1M80 32h1M153 32h1M162 32h8M52 33h2M80 33h1M164 33h5M53 34h1M80 34h1M150 34h1M165 34h4M53 35h2M80 35h1M149 35h1M166 35h3M54 36h2M81 36h1M148 36h1M166 36h3M55 37h2M82 37h1M147 37h1M165 37h4M56 38h1M82 38h2M145 38h1M165 38h3M56 39h2M83 39h1M144 39h1M165 39h3M57 40h1M83 40h1M144 40h1M164 40h3M57 41h2M83 41h1M144 41h1M163 41h3M57 42h2M82 42h2M144 42h1M161 42h4M58 43h1M82 43h1M144 43h1M160 43h4M58 44h1M82 44h1M144 44h2M159 44h3M58 45h2M82 45h1M119 45h1M144 45h2M157 45h4M58 46h2M82 46h1M118 46h3M145 46h1M156 46h4M59 47h1M81 47h2M117 47h1M120 47h2M145 47h1M154 47h4M59 48h1M81 48h2M117 48h1M121 48h2M145 48h2M153 48h4M59 49h1M82 49h2M116 49h1M122 49h2M146 49h1M151 49h5M59 50h2M82 50h2M115 50h1M123 50h1M146 50h1M149 50h5M59 51h2M82 51h2M115 51h1M123 51h1M146 51h7M60 52h1M83 52h2M114 52h1M123 52h1M147 52h4M60 53h1M83 53h2M114 53h1M123 53h1M147 53h3M60 54h2M83 54h2M112 54h1M123 54h1M146 54h4M60 55h4M82 55h2M111 55h1M122 55h1M144 55h7M62 56h4M82 56h2M110 56h1M121 56h1M143 56h2M148 56h4M64 57h4M81 57h2M109 57h1M120 57h1M142 57h1M149 57h4M161 57h3M66 58h5M81 58h2M108 58h1M119 58h1M140 58h2M150 58h4M159 58h2M164 58h2M68 59h4M80 59h2M106 59h1M118 59h1M139 59h2M151 59h4M157 59h2M166 59h3M70 60h2M79 60h3M105 60h1M117 60h1M138 60h1M151 60h6M169 60h13M71 61h2M79 61h2M89 61h2M103 61h2M116 61h1M136 61h2M152 61h3M71 62h3M78 62h2M86 62h6M100 62h3M135 62h1M72 63h2M78 63h2M84 63h9M97 63h3M115 63h1M134 63h1M73 64h2M77 64h2M82 64h7M91 64h3M95 64h2M114 64h1M133 64h1M73 65h3M77 65h9M92 65h2M113 65h1M132 65h1M74 66h10M112 66h1M130 66h2M75 67h6M129 67h2M75 68h3M111 68h1M129 68h1M74 69h2M129 69h1M73 70h2M110 70h1M129 70h1M72 71h2M110 71h1M129 71h1M72 72h2M129 72h2M71 73h2M109 73h1M130 73h3M138 73h4M70 74h2M109 74h1M131 74h11M69 75h2M108 75h1M133 75h4M140 75h2M69 76h1M108 76h1M140 76h1M68 77h2M108 77h1M140 77h1M67 78h2M107 78h1M139 78h1M66 79h2M107 79h1M139 79h1M65 80h2M107 80h1M138 80h2M65 81h1M107 81h1M138 81h1M64 82h1M107 82h1M138 82h1M63 83h1M106 83h1M137 83h1M62 84h1M105 84h1M136 84h1M61 85h1M104 85h1M135 85h1M104 86h1M134 86h1M60 87h1M103 87h1M133 87h2M59 88h1M132 88h2M59 89h1M102 89h1M131 89h2M58 90h1M129 90h2M58 91h1M101 91h1M128 91h2M57 92h1M127 92h2M57 93h1M100 93h1M125 93h2M56 94h1M99 94h1M124 94h2M99 95h1M123 95h2M55 96h1M98 96h1M121 96h2M98 97h1M120 97h2M54 98h1M98 98h1M120 98h2M54 99h1M119 99h2M54 100h1M97 100h1M115 100h5M53 101h1M97 101h1M113 101h6M53 102h1M97 102h1M112 102h5M53 103h1M97 103h1M110 103h2M97 104h1M108 104h3M52 105h1M97 105h4M107 105h2M52 106h2M100 106h4M105 106h2M52 107h3M75 107h6M103 107h3M54 108h2M72 108h3M80 108h1M55 109h2M69 109h3M80 109h2M56 110h2M67 110h2M81 110h1M56 111h3M64 111h3M81 111h1M54 112h3M64 112h3M81 112h2M53 113h2M64 113h3M82 113h1M51 114h2M64 114h2M82 114h1M49 115h2M63 115h3M82 115h2M47 116h2M63 116h3M82 116h2M46 117h2M63 117h2M83 117h1M44 118h2M63 118h2M83 118h1M43 119h2M62 119h3M42 120h1M62 120h3M82 120h1M40 121h2M62 121h2M22 122h2M39 122h2M62 122h2M81 122h1M19 123h7M37 123h2M61 123h3M12 124h16M36 124h2M61 124h2M80 124h1M6 125h9M22 125h8M35 125h1M61 125h2M80 125h1M0 126h12M24 126h7M33 126h2M61 126h3M79 126h1M0 127h9M25 127h9M63 127h2M78 127h1M0 128h6M26 128h7M64 128h2M27 129h4M64 129h3M28 130h1M65 130h2M75 130h1M66 131h2M72 131h2M67 132h2M70 132h1M68 133h1"/>
<path stroke="#ff7c00" d="M85 0h1M85 1h1M85 2h1M44 3h1M44 4h1M44 5h1M84 5h1M44 6h1M84 6h1M44 7h1M84 7h1M44 8h1M84 8h1M44 9h1M44 10h1M44 11h1M83 11h1M83 12h1M43 13h1M83 13h1M43 14h1M83 14h1M43 15h1M83 15h1M43 16h1M83 16h1M44 17h1M83 17h1M44 18h1M83 18h1M44 19h1M45 20h1M45 21h1M82 21h1M45 22h1M82 22h1M162 22h3M46 23h1M82 23h1M161 23h7M46 24h1M161 24h9M46 25h1M160 25h1M163 25h9M47 26h1M159 26h1M164 26h10M47 27h2M158 27h1M165 27h9M48 28h1M81 28h1M157 28h1M167 28h7M48 29h2M81 29h1M168 29h6M49 30h1M81 30h1M154 30h1M169 30h4M49 31h2M81 31h1M153 31h1M170 31h3M50 32h2M152 32h1M170 32h3M51 33h1M151 33h1M169 33h4M51 34h2M81 34h1M169 34h3M52 35h1M81 35h1M148 35h1M169 35h3M53 36h1M82 36h1M147 36h1M169 36h3M53 37h2M83 37h1M146 37h1M169 37h3M54 38h2M84 38h1M144 38h1M168 38h4M55 39h1M84 39h1M143 39h1M168 39h3M55 40h2M84 40h1M143 40h1M167 40h3M56 41h1M84 41h1M143 41h1M166 41h3M56 42h1M84 42h1M143 42h1M165 42h3M56 43h2M83 43h2M143 43h1M164 43h3M57 44h1M83 44h1M118 44h2M143 44h1M162 44h4M57 45h1M83 45h1M118 45h1M120 45h2M143 45h1M161 45h4M57 46h1M83 46h1M117 46h1M121 46h2M143 46h2M160 46h3M57 47h2M83 47h2M116 47h1M122 47h2M144 47h1M158 47h4M57 48h2M83 48h2M116 48h1M123 48h2M144 48h1M157 48h4M58 49h1M84 49h2M115 49h1M124 49h1M144 49h2M156 49h4M58 50h1M84 50h2M114 50h1M124 50h1M145 50h1M154 50h4M58 51h1M84 51h3M114 51h1M124 51h1M145 51h1M153 51h4M58 52h2M85 52h2M113 52h1M124 52h1M145 52h2M151 52h4M58 53h2M85 53h2M113 53h1M124 53h1M145 53h2M150 53h4M59 54h1M85 54h2M111 54h1M144 54h2M150 54h4M59 55h1M84 55h2M110 55h1M123 55h1M143 55h1M151 55h4M59 56h3M84 56h2M109 56h1M122 56h1M142 56h1M152 56h4M160 56h4M60 57h4M83 57h2M108 57h1M121 57h1M140 57h2M153 57h4M159 57h2M164 57h2M62 58h4M83 58h2M89 58h2M107 58h1M120 58h1M139 58h1M154 58h5M166 58h3M64 59h4M82 59h2M87 59h5M105 59h1M119 59h1M138 59h1M155 59h2M169 59h13M66 60h4M82 60h11M103 60h2M118 60h1M136 60h2M68 61h3M81 61h8M91 61h2M101 61h2M117 61h1M135 61h1M69 62h2M80 62h6M92 62h2M98 62h2M116 62h1M134 62h1M70 63h2M80 63h4M93 63h4M133 63h1M70 64h3M79 64h3M94 64h1M115 64h1M131 64h2M71 65h2M114 65h1M130 65h2M72 66h2M113 66h1M129 66h1M72 67h3M112 67h1M128 67h1M72 68h3M112 68h1M128 68h1M72 69h2M111 69h1M128 69h1M71 70h2M111 70h1M128 70h1M70 71h2M111 71h1M128 71h1M69 72h3M110 72h1M128 72h1M69 73h2M110 73h1M128 73h2M68 74h2M110 74h1M129 74h2M67 75h2M109 75h1M130 75h3M137 75h3M66 76h3M109 76h1M132 76h8M66 77h2M133 77h3M138 77h2M65 78h2M108 78h1M138 78h1M64 79h2M108 79h1M138 79h1M63 80h2M108 80h1M137 80h1M63 81h2M108 81h1M137 81h1M62 82h2M108 82h1M136 82h2M61 83h2M107 83h1M136 83h1M61 84h1M106 84h1M135 84h1M60 85h1M105 85h2M134 85h1M60 86h1M105 86h1M133 86h1M59 87h1M104 87h1M131 87h2M103 88h1M130 88h2M58 89h1M103 89h1M129 89h2M102 90h1M127 90h2M57 91h1M102 91h1M126 91h2M56 92h1M101 92h1M125 92h2M56 93h1M101 93h1M123 93h2M55 94h1M100 94h1M122 94h2M55 95h1M121 95h2M54 96h1M99 96h1M120 96h1M54 97h1M99 97h1M118 97h2M53 98h1M116 98h4M53 99h1M98 99h1M115 99h4M53 100h1M98 100h1M113 100h2M98 101h1M111 101h2M52 102h1M98 102h1M110 102h2M52 103h1M98 103h1M108 103h2M52 104h1M98 104h4M106 104h2M51 105h1M101 105h6M51 106h1M104 106h1M51 107h1M51 108h3M75 108h5M52 109h3M72 109h3M79 109h1M53 110h3M69 110h3M79 110h2M54 111h2M67 111h3M80 111h1M52 112h2M67 112h2M80 112h1M50 113h3M67 113h2M80 113h2M48 114h3M66 114h3M81 114h1M47 115h2M66 115h3M81 115h1M45 116h2M66 116h2M81 116h1M44 117h2M65 117h3M81 117h2M42 118h2M65 118h3M82 118h1M41 119h2M65 119h3M82 119h1M23 120h4M40 120h2M65 120h2M20 121h9M38 121h2M64 121h3M81 121h1M16 122h6M24 122h7M37 122h2M64 122h2M10 123h9M26 123h7M35 123h2M64 123h2M80 123h1M0 124h12M28 124h8M63 124h3M0 125h6M30 125h5M63 125h2M79 125h1M31 126h2M64 126h2M65 127h2M66 128h2M77 128h1M67 129h2M76 129h1M67 130h2M73 130h2M68 131h4M69 132h1"/>
<path stroke="#ff6c00" d="M43 0h1M86 0h1M43 1h1M43 2h1M85 3h1M85 4h1M85 5h1M85 6h1M84 9h1M84 10h1M84 11h1M43 12h1M84 12h1M84 13h1M84 14h1M42 15h1M84 15h1M42 16h1M84 16h1M43 17h1M43 18h1M162 18h2M43 19h1M83 19h1M161 19h6M44 20h1M83 20h1M161 20h8M44 21h1M83 21h1M161 21h11M44 22h1M161 22h1M165 22h10M45 23h1M168 23h14M45 24h1M82 24h1M160 24h1M170 24h12M45 25h1M82 25h1M172 25h10M46 26h1M82 26h1M158 26h1M174 26h8M46 27h1M82 27h1M157 27h1M174 27h8M47 28h1M82 28h1M156 28h1M174 28h8M47 29h1M155 29h1M174 29h8M48 30h1M173 30h9M48 31h1M152 31h1M173 31h9M49 32h1M81 32h1M151 32h1M173 32h3M49 33h2M81 33h1M150 33h1M173 33h3M50 34h1M82 34h1M149 34h1M172 34h4M50 35h2M82 35h2M172 35h3M51 36h2M83 36h1M146 36h1M172 36h3M52 37h1M84 37h1M145 37h1M172 37h3M53 38h1M85 38h1M143 38h1M172 38h3M53 39h2M85 39h1M142 39h1M171 39h3M54 40h1M85 40h1M142 40h1M170 40h3M54 41h2M85 41h1M142 41h1M169 41h3M54 42h2M85 42h1M119 42h1M142 42h1M168 42h3M55 43h1M85 43h1M118 43h3M142 43h1M167 43h3M55 44h2M84 44h2M117 44h1M120 44h2M142 44h1M166 44h3M55 45h2M84 45h2M117 45h1M122 45h1M142 45h1M165 45h3M56 46h1M84 46h2M116 46h1M123 46h1M142 46h1M163 46h4M56 47h1M85 47h2M115 47h1M124 47h1M142 47h2M162 47h4M56 48h1M85 48h2M115 48h1M125 48h1M142 48h2M161 48h3M56 49h2M86 49h2M114 49h1M125 49h1M143 49h1M160 49h3M56 50h2M86 50h2M113 50h1M125 50h1M143 50h2M158 50h4M57 51h1M87 51h2M113 51h1M125 51h1M143 51h2M157 51h4M57 52h1M87 52h2M112 52h1M125 52h1M144 52h1M155 52h4M57 53h1M87 53h2M112 53h1M125 53h1M144 53h1M154 53h4M57 54h2M87 54h2M110 54h1M124 54h1M143 54h1M154 54h5M57 55h2M86 55h2M90 55h1M109 55h1M142 55h1M155 55h4M160 55h4M58 56h1M86 56h6M108 56h1M123 56h1M140 56h2M156 56h4M164 56h2M58 57h2M85 57h7M107 57h1M122 57h1M139 57h1M157 57h2M166 57h3M59 58h3M85 58h4M91 58h2M106 58h1M121 58h1M138 58h1M169 58h4M60 59h4M84 59h3M92 59h2M104 59h1M120 59h1M136 59h2M61 60h5M93 60h2M101 60h2M119 60h1M135 60h1M63 61h5M93 61h3M98 61h3M118 61h1M134 61h1M66 62h3M94 62h4M117 62h1M132 62h2M67 63h3M116 63h1M131 63h2M68 64h2M116 64h1M130 64h1M69 65h2M115 65h1M129 65h1M69 66h3M114 66h1M128 66h1M70 67h2M113 67h1M127 67h1M70 68h2M126 68h2M69 69h3M112 69h1M126 69h2M68 70h3M112 70h1M126 70h2M68 71h2M126 71h2M67 72h2M111 72h1M126 72h2M66 73h3M111 73h1M126 73h2M65 74h3M126 74h3M65 75h2M110 75h1M127 75h3M64 76h2M110 76h1M129 76h3M63 77h3M109 77h2M130 77h3M136 77h2M63 78h2M109 78h2M132 78h6M62 79h2M109 79h2M133 79h2M136 79h2M62 80h1M109 80h2M136 80h1M61 81h2M109 81h2M136 81h1M61 82h1M109 82h2M135 82h1M108 83h2M134 83h2M60 84h1M107 84h2M133 84h2M59 85h1M107 85h1M132 85h2M59 86h1M106 86h1M131 86h2M58 87h1M105 87h1M130 87h1M58 88h1M104 88h1M128 88h2M57 89h1M127 89h2M57 90h1M103 90h1M126 90h1M56 91h1M124 91h2M102 92h1M123 92h2M55 93h1M121 93h2M54 94h1M101 94h1M120 94h2M54 95h1M100 95h1M118 95h3M53 96h1M100 96h1M117 96h3M53 97h1M116 97h2M99 98h1M114 98h2M52 99h1M99 99h1M112 99h3M52 100h1M99 100h1M111 100h2M52 101h1M99 101h1M109 101h2M51 102h1M99 102h1M107 102h3M51 103h1M99 103h4M106 103h2M51 104h1M102 104h4M50 106h1M50 107h1M50 108h1M50 109h2M75 109h4M51 110h2M72 110h2M78 110h1M51 111h3M70 111h2M78 111h2M49 112h3M69 112h3M79 112h1M47 113h3M69 113h3M79 113h1M46 114h2M69 114h2M79 114h2M45 115h2M69 115h2M79 115h2M43 116h2M68 116h3M80 116h1M27 117h1M42 117h2M68 117h3M80 117h1M24 118h6M40 118h2M68 118h2M80 118h2M22 119h10M36 119h5M68 119h2M81 119h1M19 120h4M27 120h13M67 120h2M81 120h1M13 121h7M29 121h9M67 121h2M6 122h10M31 122h6M66 122h2M80 122h1M0 123h10M33 123h2M66 123h2M66 124h2M79 124h1M65 125h2M66 126h2M78 126h1M67 127h2M77 127h1M68 128h2M76 128h1M69 129h2M74 129h2M69 130h4"/>
<path stroke="#ff5c00" d="M0 0h5M86 1h1M86 2h1M43 3h1M86 3h1M43 4h1M86 4h1M43 5h1M43 6h1M43 7h1M85 7h1M43 8h1M85 8h1M43 9h1M85 9h1M43 10h1M85 10h1M43 11h1M42 13h1M42 14h1M162 14h1M162 15h4M41 16h1M161 16h7M41 17h2M84 17h1M161 17h10M42 18h1M84 18h1M161 18h1M164 18h10M42 19h1M84 19h1M167 19h15M43 20h1M160 20h1M169 20h13M43 21h1M160 21h1M172 21h10M43 22h1M83 22h1M160 22h1M175 22h7M44 23h1M83 23h1M160 23h1M44 24h1M83 24h1M44 25h1M159 25h1M45 26h1M45 27h1M156 27h1M46 28h1M155 28h1M46 29h1M82 29h1M154 29h1M47 30h1M82 30h1M153 30h1M47 31h1M82 31h1M47 32h2M82 32h1M150 32h1M176 32h6M48 33h1M82 33h1M149 33h1M176 33h6M48 34h2M83 34h1M148 34h1M176 34h6M49 35h1M84 35h1M147 35h1M175 35h7M50 36h1M84 36h1M145 36h1M175 36h7M50 37h2M85 37h1M144 37h1M175 37h7M51 38h2M86 38h1M142 38h1M175 38h7M52 39h1M86 39h2M141 39h1M174 39h8M52 40h2M86 40h1M119 40h1M141 40h1M173 40h3M52 41h2M86 41h1M118 41h3M141 41h1M172 41h3M53 42h1M86 42h1M118 42h1M120 42h2M141 42h1M171 42h3M53 43h2M86 43h1M117 43h1M121 43h2M141 43h1M170 43h3M53 44h2M86 44h2M116 44h1M122 44h2M141 44h1M169 44h3M54 45h1M86 45h2M116 45h1M123 45h2M141 45h1M168 45h3M54 46h2M86 46h2M115 46h1M124 46h2M140 46h2M167 46h3M54 47h2M87 47h2M114 47h1M125 47h1M141 47h1M166 47h3M55 48h1M87 48h2M114 48h1M141 48h1M164 48h3M55 49h1M88 49h2M113 49h1M126 49h1M141 49h2M163 49h3M55 50h1M88 50h2M112 50h1M126 50h1M142 50h1M162 50h3M55 51h2M89 51h2M112 51h1M126 51h1M142 51h1M161 51h3M55 52h2M89 52h2M111 52h1M126 52h1M142 52h2M159 52h4M55 53h2M89 53h3M110 53h2M126 53h1M143 53h1M158 53h4M56 54h1M89 54h3M109 54h1M125 54h1M141 54h2M159 54h5M56 55h1M88 55h2M91 55h2M108 55h1M124 55h1M140 55h2M159 55h1M164 55h2M56 56h2M92 56h2M107 56h1M124 56h1M139 56h1M166 56h3M56 57h2M92 57h3M106 57h1M123 57h1M137 57h2M169 57h3M56 58h3M93 58h3M104 58h2M122 58h1M136 58h2M173 58h9M57 59h3M94 59h3M101 59h3M121 59h1M135 59h1M59 60h2M95 60h2M99 60h2M120 60h1M133 60h2M60 61h3M96 61h2M119 61h1M132 61h2M61 62h5M118 62h1M131 62h1M63 63h4M117 63h1M130 63h1M66 64h2M129 64h1M66 65h3M116 65h1M128 65h1M67 66h2M115 66h1M127 66h1M68 67h2M114 67h1M126 67h1M68 68h2M113 68h1M125 68h1M67 69h2M113 69h1M125 69h1M66 70h2M113 70h1M125 70h1M65 71h3M112 71h1M125 71h1M65 72h2M112 72h1M125 72h1M64 73h2M112 73h1M125 73h1M63 74h2M111 74h1M125 74h1M62 75h3M111 75h1M125 75h2M62 76h2M111 76h1M126 76h3M62 77h1M111 77h1M127 77h3M61 78h2M111 78h1M129 78h3M61 79h1M111 79h1M130 79h3M135 79h1M61 80h1M111 80h1M132 80h4M111 81h1M134 81h2M60 82h1M111 82h1M134 82h1M60 83h1M110 83h1M133 83h1M59 84h1M109 84h1M132 84h1M108 85h1M130 85h2M58 86h1M107 86h1M129 86h2M57 87h1M106 87h1M127 87h3M57 88h1M105 88h1M126 88h2M56 89h1M104 89h2M124 89h3M56 90h1M104 90h1M123 90h3M55 91h1M103 91h1M121 91h3M55 92h1M103 92h1M120 92h3M54 93h1M102 93h1M119 93h2M102 94h1M117 94h3M53 95h1M101 95h1M116 95h2M52 96h1M115 96h2M52 97h1M100 97h1M114 97h2M52 98h1M100 98h1M112 98h2M100 99h1M110 99h2M51 100h1M100 100h1M109 100h2M51 101h1M100 101h1M107 101h2M100 102h4M105 102h2M50 103h1M103 103h3M50 104h1M50 105h1M49 106h1M49 107h1M49 108h1M49 109h1M48 110h3M74 110h4M49 111h2M72 111h3M77 111h1M47 112h2M72 112h3M77 112h2M46 113h1M72 113h2M78 113h1M42 114h4M71 114h3M78 114h1M28 115h3M38 115h7M71 115h2M78 115h1M26 116h7M34 116h9M71 116h2M78 116h2M23 117h4M28 117h14M71 117h2M79 117h1M21 118h3M30 118h10M70 118h2M79 118h1M17 119h5M32 119h4M70 119h2M79 119h2M10 120h9M69 120h2M80 120h1M0 121h13M69 121h2M80 121h1M0 122h6M68 122h2M68 123h2M79 123h1M68 124h2M67 125h2M78 125h1M68 126h2M69 127h2M70 128h2M75 128h1M71 129h3"/>
<path stroke="#ff4b00" d="M5 0h1M42 0h1M87 0h1M0 1h5M42 1h1M87 1h1M42 2h1M87 2h1M86 5h1M86 6h1M86 7h1M86 8h1M85 11h1M162 11h3M42 12h1M85 12h1M161 12h6M85 13h1M161 13h9M85 14h1M161 14h1M163 14h9M41 15h1M85 15h1M161 15h1M166 15h9M85 16h1M168 16h14M85 17h1M160 17h1M171 17h11M41 18h1M160 18h1M174 18h8M41 19h1M160 19h1M42 20h1M84 20h1M42 21h1M84 21h1M159 21h1M42 22h1M84 22h1M159 22h1M43 23h1M159 23h1M43 24h1M159 24h1M43 25h1M83 25h1M158 25h1M44 26h1M83 26h1M157 26h1M44 27h1M83 27h1M45 28h1M83 28h1M154 28h1M45 29h1M83 29h1M153 29h1M45 30h2M152 30h1M46 31h1M151 31h1M46 32h1M47 33h1M83 33h1M148 33h1M47 34h1M84 34h1M147 34h1M48 35h1M85 35h1M146 35h1M48 36h2M85 36h2M144 36h1M49 37h1M86 37h1M143 37h1M49 38h2M87 38h1M119 38h1M50 39h2M88 39h1M118 39h2M140 39h1M50 40h2M87 40h2M118 40h1M120 40h1M140 40h1M176 40h6M51 41h1M87 41h1M117 41h1M121 41h1M140 41h1M175 41h7M51 42h2M87 42h2M116 42h2M122 42h2M140 42h1M174 42h8M51 43h2M87 43h2M116 43h1M123 43h2M140 43h1M173 43h2M52 44h1M88 44h2M115 44h1M124 44h2M140 44h1M172 44h2M52 45h2M88 45h2M115 45h1M125 45h2M140 45h1M171 45h2M52 46h2M88 46h3M114 46h1M126 46h1M170 46h2M53 47h1M89 47h2M113 47h1M126 47h1M139 47h2M169 47h2M53 48h2M89 48h3M113 48h1M126 48h1M140 48h1M167 48h3M53 49h2M90 49h2M112 49h1M127 49h1M140 49h1M166 49h3M53 50h2M90 50h3M111 50h1M127 50h1M140 50h2M165 50h3M54 51h1M91 51h2M111 51h1M127 51h1M141 51h1M164 51h3M54 52h1M91 52h2M110 52h1M127 52h1M141 52h1M163 52h3M54 53h1M92 53h2M109 53h1M127 53h1M141 53h2M162 53h3M54 54h2M92 54h3M108 54h1M126 54h1M140 54h1M164 54h3M54 55h2M93 55h3M107 55h1M125 55h1M139 55h1M166 55h3M55 56h1M94 56h2M106 56h1M137 56h2M169 56h3M55 57h1M95 57h2M105 57h1M124 57h1M136 57h1M172 57h10M55 58h1M96 58h2M102 58h2M123 58h1M135 58h1M55 59h2M97 59h4M122 59h1M133 59h2M56 60h3M97 60h2M121 60h1M132 60h1M57 61h3M120 61h1M131 61h1M59 62h2M119 62h1M130 62h1M60 63h3M118 63h1M129 63h1M61 64h5M117 64h1M128 64h1M63 65h3M127 65h1M64 66h3M116 66h1M126 66h1M65 67h3M115 67h1M125 67h1M65 68h3M114 68h1M124 68h1M64 69h3M114 69h1M124 69h1M64 70h2M124 70h1M63 71h2M113 71h1M124 71h1M62 72h3M113 72h1M124 72h1M62 73h2M124 73h1M62 74h1M112 74h1M124 74h1M61 75h1M112 75h1M124 75h1M61 76h1M112 76h1M124 76h2M61 77h1M112 77h1M125 77h2M112 78h1M126 78h3M60 79h1M112 79h1M127 79h3M60 80h1M112 80h1M129 80h3M60 81h1M112 81h1M130 81h4M112 82h1M132 82h2M59 83h1M111 83h1M130 83h3M58 84h1M110 84h1M129 84h3M58 85h1M109 85h1M127 85h3M57 86h1M108 86h2M126 86h3M107 87h2M124 87h3M56 88h1M106 88h2M123 88h3M106 89h1M121 89h3M55 90h1M105 90h1M120 90h3M54 91h1M104 91h1M119 91h2M54 92h1M117 92h3M53 93h1M103 93h1M116 93h3M53 94h1M115 94h2M52 95h1M102 95h1M114 95h2M101 96h1M113 96h2M51 97h1M101 97h1M111 97h3M51 98h1M101 98h1M110 98h2M51 99h1M101 99h1M108 99h2M50 100h1M101 100h1M106 100h3M50 101h1M101 101h6M50 102h1M104 102h1M49 104h1M49 105h1M48 107h1M48 108h1M48 109h1M44 110h4M40 111h9M75 111h2M36 112h11M75 112h2M30 113h16M74 113h4M27 114h15M74 114h4M25 115h3M31 115h7M73 115h2M77 115h1M22 116h4M33 116h1M73 116h2M77 116h1M20 117h3M73 117h2M77 117h2M14 118h7M72 118h2M78 118h1M6 119h11M72 119h2M78 119h1M0 120h10M71 120h2M78 120h2M71 121h2M78 121h2M70 122h2M79 122h1M70 123h2M70 124h2M78 124h1M69 125h2M70 126h2M77 126h1M71 127h2M76 127h1M72 128h3"/>
<path stroke="#ff3b00" d="M6 0h1M88 0h1M147 0h7M158 0h10M5 1h1M158 1h10M0 2h6M158 2h10M0 3h5M42 3h1M87 3h1M158 3h10M42 4h1M87 4h1M158 4h10M42 5h1M87 5h1M158 5h10M42 6h1M87 6h1M158 6h11M42 7h1M158 7h11M42 8h1M158 8h12M42 9h1M86 9h1M158 9h13M86 10h1M158 10h13M42 11h1M86 11h1M161 11h1M165 11h9M86 12h1M167 12h15M41 13h1M86 13h1M160 13h1M170 13h12M41 14h1M86 14h1M160 14h1M172 14h10M160 15h1M175 15h7M40 16h1M160 16h1M40 17h1M159 17h1M40 18h1M85 18h1M159 18h1M40 19h1M85 19h1M159 19h1M41 20h1M159 20h1M41 21h1M41 22h1M158 22h1M42 23h1M84 23h1M158 23h1M42 24h1M84 24h1M158 24h1M42 25h1M84 25h1M157 25h1M43 26h1M156 26h1M43 27h1M155 27h1M44 28h1M153 28h1M44 29h1M152 29h1M44 30h1M83 30h1M151 30h1M45 31h1M83 31h1M150 31h1M45 32h1M83 32h2M149 32h1M46 33h1M84 33h1M46 34h1M85 34h1M146 34h1M47 35h1M86 35h1M145 35h1M47 36h1M87 36h1M118 36h4M143 36h1M47 37h2M87 37h2M118 37h4M142 37h1M48 38h1M88 38h1M117 38h2M120 38h2M141 38h1M49 39h1M89 39h1M116 39h2M120 39h2M139 39h1M49 40h1M89 40h1M116 40h2M121 40h2M139 40h1M49 41h2M88 41h2M116 41h1M122 41h2M139 41h1M50 42h1M89 42h2M115 42h1M124 42h1M139 42h1M50 43h1M89 43h2M115 43h1M125 43h1M139 43h1M175 43h7M50 44h2M90 44h2M114 44h1M126 44h2M139 44h1M174 44h8M51 45h1M90 45h2M114 45h1M127 45h1M139 45h1M173 45h3M51 46h1M91 46h2M113 46h1M127 46h1M139 46h1M172 46h3M51 47h2M91 47h2M112 47h1M127 47h1M138 47h1M171 47h3M52 48h1M92 48h2M112 48h1M127 48h1M138 48h2M170 48h3M52 49h1M92 49h2M111 49h1M139 49h1M169 49h3M52 50h1M93 50h2M110 50h1M128 50h1M139 50h1M168 50h3M52 51h2M93 51h2M110 51h1M128 51h1M139 51h2M167 51h2M52 52h2M93 52h3M109 52h1M128 52h1M139 52h2M166 52h2M53 53h1M94 53h2M108 53h1M128 53h1M140 53h1M165 53h2M53 54h1M95 54h2M107 54h1M127 54h1M139 54h1M167 54h2M53 55h1M96 55h2M106 55h1M126 55h1M137 55h2M169 55h3M53 56h2M96 56h3M105 56h1M125 56h1M136 56h1M172 56h10M53 57h2M97 57h3M102 57h3M125 57h1M135 57h1M54 58h1M98 58h4M124 58h1M133 58h2M54 59h1M123 59h1M132 59h1M54 60h2M122 60h1M131 60h1M54 61h3M121 61h1M130 61h1M56 62h3M120 62h1M129 62h1M57 63h3M119 63h1M128 63h1M58 64h3M118 64h1M127 64h1M60 65h3M117 65h1M126 65h1M61 66h3M125 66h1M63 67h2M116 67h1M124 67h1M63 68h2M115 68h1M123 68h1M62 69h2M115 69h1M123 69h1M62 70h2M114 70h1M123 70h1M62 71h1M114 71h1M123 71h1M61 72h1M114 72h1M123 72h1M61 73h1M113 73h2M123 73h1M61 74h1M113 74h2M123 74h1M113 75h2M123 75h1M60 76h1M113 76h2M123 76h1M60 77h1M113 77h2M123 77h2M60 78h1M113 78h2M123 78h3M113 79h2M125 79h2M59 80h1M113 80h2M126 80h3M59 81h1M113 81h2M128 81h2M59 82h1M113 82h1M129 82h3M58 83h1M112 83h2M128 83h2M111 84h2M126 84h3M57 85h1M110 85h2M125 85h2M56 86h1M110 86h1M123 86h3M56 87h1M109 87h1M122 87h2M55 88h1M108 88h1M120 88h3M55 89h1M107 89h1M119 89h2M54 90h1M106 90h1M118 90h2M105 91h1M116 91h3M53 92h1M104 92h1M115 92h2M52 93h1M104 93h1M114 93h2M52 94h1M103 94h1M113 94h2M51 95h1M103 95h1M112 95h2M51 96h1M102 96h1M111 96h2M50 97h1M102 97h1M109 97h2M50 98h1M108 98h2M50 99h1M102 99h1M106 99h2M102 100h4M49 101h1M49 102h1M49 103h1M48 104h1M48 105h1M48 106h1M45 107h3M40 108h8M35 109h13M34 110h10M31 111h9M29 112h7M26 113h4M24 114h3M21 115h4M75 115h2M18 116h4M75 116h2M10 117h10M75 117h2M0 118h14M74 118h4M0 119h6M74 119h2M77 119h1M73 120h2M77 120h1M73 121h2M77 121h1M72 122h3M77 122h2M72 123h2M78 123h1M72 124h2M71 125h2M77 125h1M72 126h2M76 126h1M73 127h3"/>
<path stroke="#ff2b00" d="M7 0h1M41 0h1M146 0h1M154 0h4M168 0h7M6 1h1M41 1h1M88 1h1M146 1h12M168 1h7M41 2h1M88 2h1M147 2h11M168 2h8M5 3h1M88 3h1M147 3h6M155 3h3M168 3h14M0 4h5M88 4h1M155 4h3M168 4h14M155 5h3M168 5h14M155 6h3M169 6h13M87 7h1M155 7h3M169 7h13M87 8h1M155 8h3M170 8h12M87 9h1M155 9h3M171 9h11M42 10h1M87 10h1M155 10h3M171 10h11M157 11h4M174 11h8M41 12h1M159 12h2M159 14h1M40 15h1M86 15h1M159 15h1M86 16h1M159 16h1M86 17h1M39 18h1M158 18h1M39 19h1M158 19h1M40 20h1M85 20h1M158 20h1M40 21h1M85 21h1M158 21h1M40 22h1M85 22h1M41 23h1M157 23h1M41 24h1M157 24h1M41 25h1M156 25h1M42 26h1M84 26h1M155 26h1M42 27h1M84 27h1M154 27h1M43 28h1M84 28h1M43 29h1M84 29h1M151 29h1M43 30h1M84 30h1M150 30h1M44 31h1M84 31h1M149 31h1M44 32h1M85 32h1M148 32h1M45 33h1M85 33h1M119 33h6M147 33h1M45 34h1M86 34h1M118 34h7M145 34h1M46 35h1M87 35h1M117 35h7M144 35h1M46 36h1M88 36h1M117 36h1M122 36h2M142 36h1M46 37h1M89 37h1M116 37h2M122 37h2M141 37h1M47 38h1M89 38h1M115 38h2M122 38h2M140 38h1M47 39h2M90 39h2M115 39h1M122 39h2M47 40h2M90 40h2M114 40h2M123 40h2M138 40h1M48 41h1M90 41h3M114 41h2M124 41h2M138 41h1M48 42h2M91 42h2M113 42h2M125 42h2M138 42h1M48 43h2M91 43h3M113 43h2M126 43h2M138 43h1M49 44h1M92 44h2M113 44h1M128 44h1M138 44h1M49 45h2M92 45h3M112 45h2M128 45h1M138 45h1M176 45h6M49 46h2M93 46h2M112 46h1M128 46h1M138 46h1M175 46h7M50 47h1M93 47h3M111 47h1M128 47h1M137 47h1M174 47h8M50 48h2M94 48h2M111 48h1M128 48h1M137 48h1M173 48h2M50 49h2M94 49h3M110 49h1M128 49h1M137 49h2M172 49h2M51 50h1M95 50h2M109 50h1M129 50h1M137 50h2M171 50h2M51 51h1M95 51h3M109 51h1M129 51h1M138 51h1M169 51h3M51 52h1M96 52h2M108 52h1M129 52h1M138 52h1M168 52h3M51 53h2M96 53h3M107 53h1M129 53h1M138 53h2M167 53h3M51 54h2M97 54h3M106 54h1M128 54h1M137 54h2M169 54h3M52 55h1M98 55h2M105 55h1M127 55h1M136 55h1M172 55h2M52 56h1M99 56h2M103 56h2M126 56h1M135 56h1M52 57h1M100 57h2M133 57h2M52 58h2M125 58h1M132 58h1M52 59h2M124 59h1M131 59h1M53 60h1M123 60h1M130 60h1M53 61h1M122 61h1M129 61h1M53 62h3M121 62h1M128 62h1M54 63h3M120 63h1M127 63h1M56 64h2M119 64h1M126 64h1M57 65h3M118 65h1M125 65h1M58 66h3M117 66h1M124 66h1M60 67h3M123 67h1M61 68h2M116 68h1M122 68h1M61 69h1M122 69h1M61 70h1M115 70h1M122 70h1M61 71h1M115 71h1M122 71h1M115 72h1M122 72h1M60 73h1M115 73h1M122 73h1M60 74h1M115 74h1M122 74h1M60 75h1M115 75h1M122 75h1M115 76h1M122 76h1M59 77h1M115 77h1M122 77h1M59 78h1M115 78h1M122 78h1M59 79h1M115 79h1M122 79h3M115 80h1M123 80h3M58 81h1M115 81h1M125 81h3M58 82h1M114 82h2M126 82h3M57 83h1M114 83h1M125 83h3M57 84h1M113 84h1M123 84h3M56 85h1M112 85h1M122 85h3M111 86h1M120 86h3M55 87h1M110 87h1M119 87h3M109 88h1M118 88h2M54 89h1M108 89h1M116 89h3M53 90h1M107 90h2M115 90h3M53 91h1M106 91h2M114 91h2M52 92h1M105 92h2M113 92h2M105 93h1M112 93h2M51 94h1M104 94h1M111 94h2M110 95h2M50 96h1M103 96h1M108 96h3M107 97h2M49 98h1M102 98h2M105 98h3M49 99h1M103 99h3M49 100h1M48 101h1M48 102h1M48 103h1M45 104h3M41 105h7M38 106h10M36 107h9M35 108h5M34 109h1M30 110h4M27 111h4M25 112h4M22 113h4M20 114h4M15 115h6M5 116h13M0 117h10M76 119h1M75 120h2M75 121h2M75 122h2M74 123h4M74 124h2M77 124h1M73 125h2M74 126h2"/>
<path stroke="#ff1a00" d="M8 0h1M89 0h1M144 0h2M175 0h7M7 1h1M89 1h1M145 1h1M175 1h7M6 2h1M89 2h1M145 2h2M176 2h6M6 3h1M41 3h1M146 3h1M153 3h2M5 4h1M41 4h1M146 4h9M0 5h6M41 5h1M88 5h1M147 5h8M0 6h5M41 6h1M88 6h1M147 6h8M41 7h1M88 7h1M151 7h4M41 8h1M88 8h1M151 8h4M41 9h1M151 9h4M151 10h4M41 11h1M87 11h1M154 11h3M87 12h1M156 12h3M40 13h1M87 13h1M158 13h2M40 14h1M87 14h1M87 15h1M158 15h1M39 16h1M158 16h1M39 17h1M158 17h1M86 18h1M38 19h1M86 19h1M157 19h1M38 20h2M86 20h1M157 20h1M39 21h1M157 21h1M39 22h1M157 22h1M40 23h1M85 23h1M156 23h1M40 24h1M85 24h1M156 24h1M40 25h1M85 25h1M155 25h1M41 26h1M85 26h1M154 26h1M41 27h1M153 27h1M42 28h1M152 28h1M42 29h1M42 30h1M149 30h1M43 31h1M85 31h1M119 31h8M148 31h1M43 32h1M86 32h1M118 32h9M147 32h1M44 33h1M86 33h2M117 33h2M125 33h2M146 33h1M44 34h1M87 34h1M116 34h2M125 34h1M144 34h1M45 35h1M88 35h1M116 35h1M124 35h2M143 35h1M45 36h1M89 36h1M115 36h2M124 36h2M141 36h1M45 37h1M90 37h1M114 37h2M124 37h2M140 37h1M46 38h1M90 38h2M113 38h2M124 38h1M139 38h1M46 39h1M92 39h2M113 39h2M124 39h2M138 39h1M92 40h3M112 40h2M125 40h2M137 40h1M47 41h1M93 41h2M112 41h2M126 41h2M137 41h1M47 42h1M93 42h3M112 42h1M127 42h2M137 42h1M47 43h1M94 43h2M111 43h2M128 43h2M137 43h1M47 44h2M94 44h3M111 44h2M129 44h1M137 44h1M48 45h1M95 45h2M110 45h2M129 45h1M137 45h1M48 46h1M95 46h3M110 46h2M129 46h1M137 46h1M48 47h2M96 47h2M110 47h1M129 47h1M48 48h2M96 48h3M109 48h2M129 48h1M136 48h1M175 48h7M49 49h1M97 49h2M109 49h1M129 49h1M136 49h1M174 49h8M49 50h2M97 50h3M108 50h1M130 50h1M136 50h1M173 50h3M49 51h2M98 51h2M108 51h1M130 51h1M136 51h2M172 51h3M50 52h1M98 52h3M107 52h1M130 52h1M137 52h1M171 52h3M50 53h1M99 53h2M106 53h1M130 53h1M137 53h1M170 53h2M50 54h1M100 54h2M105 54h1M129 54h1M136 54h1M172 54h2M50 55h2M100 55h5M128 55h1M134 55h2M174 55h8M50 56h2M101 56h2M127 56h1M133 56h2M51 57h1M126 57h1M132 57h1M51 58h1M131 58h1M51 59h1M125 59h1M130 59h1M51 60h2M124 60h1M129 60h1M51 61h2M123 61h1M128 61h1M52 62h1M122 62h1M127 62h1M52 63h2M121 63h1M126 63h1M53 64h3M120 64h1M125 64h1M54 65h3M119 65h1M124 65h1M55 66h3M118 66h1M122 66h2M57 67h3M117 67h1M121 67h2M58 68h3M117 68h1M121 68h1M60 69h1M116 69h1M121 69h1M60 70h1M116 70h1M121 70h1M60 71h1M116 71h1M121 71h1M60 72h1M116 72h1M121 72h1M59 73h1M116 73h1M121 73h1M59 74h1M116 74h1M121 74h1M59 75h1M116 75h1M121 75h1M59 76h1M116 76h1M121 76h1M116 77h1M121 77h1M58 78h1M116 78h1M121 78h1M58 79h1M116 79h1M121 79h1M58 80h1M116 80h1M121 80h2M116 81h1M122 81h3M57 82h1M116 82h1M123 82h3M115 83h1M122 83h3M56 84h1M114 84h1M120 84h3M113 85h1M119 85h3M55 86h1M112 86h1M118 86h2M54 87h1M111 87h2M117 87h2M54 88h1M110 88h2M115 88h3M53 89h1M109 89h2M114 89h2M109 90h1M113 90h2M52 91h1M108 91h1M112 91h2M51 92h1M107 92h1M111 92h2M51 93h1M106 93h1M110 93h2M50 94h1M105 94h1M109 94h2M50 95h1M104 95h1M107 95h3M49 96h1M104 96h1M106 96h2M49 97h1M103 97h4M48 98h1M104 98h1M48 99h1M48 100h1M46 101h2M42 102h6M41 103h7M39 104h6M38 105h3M36 106h2M35 107h1M33 108h2M30 109h4M27 110h3M24 111h3M21 112h4M19 113h3M10 114h10M0 115h15M0 116h5M76 124h1M75 125h2"/>
<path stroke="#ff0a00" d="M40 0h1M90 0h1M143 0h1M8 1h1M40 1h1M143 1h2M7 2h1M40 2h1M144 2h1M7 3h1M89 3h1M144 3h2M6 4h1M89 4h1M145 4h1M89 5h1M145 5h2M5 6h1M89 6h1M146 6h1M0 7h5M146 7h5M147 8h4M88 9h1M147 9h4M41 10h1M88 10h1M148 10h3M88 11h1M150 11h4M40 12h1M88 12h1M152 12h4M88 13h1M155 13h3M157 14h2M39 15h1M157 15h1M87 16h1M157 16h1M87 17h1M157 17h1M38 18h1M87 18h1M157 18h1M156 20h1M38 21h1M86 21h1M156 21h1M38 22h1M86 22h1M156 22h1M39 23h1M86 23h1M39 24h1M155 24h1M39 25h1M40 26h1M153 26h1M40 27h1M85 27h1M152 27h1M41 28h1M85 28h1M119 28h11M151 28h1M41 29h1M85 29h1M118 29h12M150 29h1M41 30h1M85 30h1M118 30h11M42 31h1M86 31h1M117 31h2M127 31h2M147 31h1M42 32h1M87 32h1M116 32h2M127 32h2M146 32h1M43 33h1M88 33h1M115 33h2M127 33h2M145 33h1M43 34h1M88 34h2M115 34h1M126 34h2M143 34h1M44 35h1M89 35h1M114 35h2M126 35h2M142 35h1M44 36h1M90 36h1M113 36h2M126 36h2M44 37h1M91 37h1M112 37h2M126 37h2M139 37h1M45 38h1M92 38h3M112 38h1M125 38h2M138 38h1M45 39h1M94 39h3M111 39h2M126 39h1M137 39h1M46 40h1M95 40h2M111 40h1M127 40h1M136 40h1M46 41h1M95 41h3M110 41h2M128 41h2M136 41h1M46 42h1M96 42h2M110 42h2M129 42h1M136 42h1M46 43h1M96 43h3M109 43h2M130 43h1M136 43h1M46 44h1M97 44h2M109 44h2M130 44h1M136 44h1M47 45h1M97 45h3M109 45h1M130 45h1M136 45h1M47 46h1M98 46h2M108 46h2M130 46h1M136 46h1M47 47h1M98 47h3M108 47h2M130 47h1M136 47h1M47 48h1M99 48h2M108 48h1M130 48h1M135 48h1M47 49h2M99 49h3M107 49h2M130 49h1M135 49h1M48 50h1M100 50h2M107 50h1M135 50h1M176 50h6M48 51h1M100 51h3M106 51h2M131 51h1M135 51h1M175 51h7M48 52h2M101 52h2M106 52h1M131 52h1M135 52h2M174 52h2M48 53h2M101 53h3M105 53h1M131 53h1M135 53h2M172 53h3M49 54h1M102 54h3M130 54h1M134 54h2M174 54h8M49 55h1M129 55h1M133 55h1M49 56h1M128 56h1M132 56h1M49 57h2M127 57h1M131 57h1M49 58h2M126 58h1M130 58h1M50 59h1M126 59h1M129 59h1M50 60h1M125 60h1M128 60h1M50 61h1M124 61h1M127 61h1M50 62h2M123 62h1M126 62h1M50 63h2M122 63h1M125 63h1M51 64h2M121 64h1M123 64h2M51 65h3M120 65h1M122 65h2M53 66h2M119 66h1M121 66h1M54 67h3M118 67h1M120 67h1M56 68h2M120 68h1M57 69h3M117 69h1M120 69h1M59 70h1M117 70h1M120 70h1M59 71h1M117 71h1M120 71h1M59 72h1M117 72h1M120 72h1M117 73h1M120 73h1M58 74h1M117 74h1M120 74h1M58 75h1M117 75h1M120 75h1M58 76h1M117 76h1M120 76h1M58 77h1M117 77h1M120 77h1M117 78h1M120 78h1M57 79h1M117 79h1M120 79h1M57 80h1M117 80h1M120 80h1M57 81h1M117 81h1M120 81h2M117 82h1M120 82h3M56 83h1M116 83h1M119 83h3M55 84h1M115 84h2M118 84h2M55 85h1M114 85h2M117 85h2M54 86h1M113 86h2M116 86h2M113 87h4M53 88h1M112 88h3M52 89h1M111 89h3M52 90h1M110 90h3M51 91h1M109 91h3M108 92h3M50 93h1M107 93h3M49 94h1M106 94h3M49 95h1M105 95h2M48 96h1M105 96h1M48 97h1M47 98h1M45 99h3M43 100h5M42 101h4M40 102h2M39 103h2M38 104h1M36 105h2M35 106h1M33 107h2M30 108h3M27 109h3M23 110h4M20 111h4M14 112h7M5 113h14M0 114h10"/>
<path stroke="#fe0700" d="M9 0h1M91 0h2M141 0h2M9 1h1M90 1h2M142 1h1M8 2h1M90 2h2M142 2h2M8 3h1M40 3h1M90 3h1M143 3h1M7 4h1M40 4h1M90 4h1M143 4h2M6 5h1M40 5h1M144 5h1M6 6h1M40 6h1M144 6h2M5 7h1M40 7h1M89 7h1M145 7h1M0 8h6M40 8h1M89 8h1M145 8h2M0 9h5M40 9h1M89 9h1M146 9h1M89 10h1M146 10h2M40 11h1M145 11h5M144 12h3M149 12h3M144 13h2M151 13h4M39 14h1M88 14h1M143 14h2M153 14h4M88 15h1M142 15h1M156 15h1M38 16h1M141 16h1M156 16h1M38 17h1M140 17h1M156 17h1M139 18h1M156 18h1M37 19h1M87 19h1M156 19h1M37 20h1M87 20h1M37 21h1M87 21h1M155 21h1M37 22h1M155 22h1M38 23h1M155 23h1M38 24h1M86 24h1M38 25h1M86 25h1M154 25h1M39 26h1M86 26h1M119 26h13M39 27h1M86 27h1M118 27h14M151 27h1M40 28h1M117 28h2M130 28h2M150 28h1M40 29h1M86 29h1M117 29h1M130 29h1M149 29h1M40 30h1M86 30h2M116 30h2M129 30h2M148 30h1M41 31h1M87 31h1M115 31h2M129 31h2M41 32h1M88 32h1M114 32h2M129 32h2M145 32h1M42 33h1M89 33h1M114 33h1M129 33h1M144 33h1M42 34h1M90 34h1M113 34h2M128 34h2M142 34h1M43 35h1M90 35h2M112 35h2M128 35h2M141 35h1M43 36h1M91 36h2M111 36h2M128 36h2M140 36h1M43 37h1M92 37h3M111 37h1M128 37h1M138 37h1M44 38h1M95 38h2M110 38h2M127 38h2M137 38h1M44 39h1M97 39h2M109 39h2M127 39h2M136 39h1M45 40h1M97 40h2M109 40h2M128 40h2M45 41h1M98 41h2M108 41h2M130 41h1M135 41h1M45 42h1M98 42h2M108 42h2M130 42h1M135 42h1M45 43h1M99 43h2M108 43h1M131 43h1M135 43h1M99 44h2M107 44h2M131 44h1M135 44h1M46 45h1M100 45h2M107 45h2M131 45h1M135 45h1M46 46h1M100 46h2M107 46h1M131 46h1M135 46h1M46 47h1M101 47h2M106 47h2M131 47h1M135 47h1M46 48h1M101 48h2M106 48h2M131 48h1M134 48h1M102 49h2M105 49h2M131 49h1M134 49h1M47 50h1M102 50h2M105 50h2M131 50h1M134 50h1M47 51h1M103 51h3M132 51h1M134 51h1M47 52h1M103 52h3M132 52h1M134 52h1M176 52h6M47 53h1M104 53h1M132 53h1M134 53h1M175 53h7M47 54h2M131 54h1M133 54h1M47 55h2M130 55h1M132 55h1M48 56h1M129 56h1M131 56h1M48 57h1M128 57h1M130 57h1M48 58h1M127 58h1M129 58h1M48 59h2M128 59h1M48 60h2M126 60h2M49 61h1M125 61h2M49 62h1M124 62h2M49 63h1M123 63h2M49 64h2M122 64h1M49 65h2M121 65h1M50 66h3M120 66h1M51 67h3M119 67h1M53 68h3M118 68h2M55 69h2M118 69h2M56 70h3M118 70h2M58 71h1M118 71h2M58 72h1M118 72h2M58 73h1M118 73h2M118 74h2M57 75h1M118 75h2M57 76h1M118 76h2M57 77h1M118 77h2M57 78h1M118 78h2M56 79h1M118 79h2M56 80h1M118 80h2M56 81h1M118 81h2M56 82h1M118 82h2M55 83h1M117 83h2M117 84h1M54 85h1M116 85h1M53 86h1M115 86h1M53 87h1M52 88h1M51 90h1M50 91h1M50 92h1M49 93h1M48 95h1M47 96h1M46 97h2M45 98h2M43 99h2M42 100h1M40 101h2M39 102h1M37 103h2M36 104h2M35 105h1M33 106h2M29 107h4M26 108h4M23 109h4M20 110h3M10 111h10M0 112h14M0 113h5"/>
<path stroke="#fd0400" d="M10 0h1M39 0h1M93 0h2M140 0h1M10 1h1M39 1h1M92 1h2M140 1h2M9 2h1M39 2h1M92 2h2M141 2h1M91 3h2M141 3h2M8 4h1M91 4h2M142 4h1M7 5h1M90 5h2M142 5h2M7 6h1M90 6h2M143 6h1M6 7h1M90 7h1M143 7h2M90 8h1M144 8h1M5 9h1M144 9h2M0 10h5M40 10h1M145 10h1M89 11h1M144 11h1M39 12h1M89 12h1M143 12h1M147 12h2M39 13h1M89 13h1M142 13h2M146 13h5M141 14h2M145 14h1M150 14h3M38 15h1M140 15h2M143 15h2M152 15h4M88 16h1M140 16h1M142 16h2M155 16h1M88 17h1M139 17h1M141 17h2M155 17h1M37 18h1M88 18h1M138 18h1M140 18h2M155 18h1M137 19h4M155 19h1M136 20h3M155 20h1M36 21h1M135 21h3M154 21h1M36 22h1M87 22h1M135 22h2M154 22h1M36 23h2M87 23h1M134 23h2M154 23h1M19 24h1M37 24h1M87 24h1M119 24h16M154 24h1M37 25h1M118 25h16M153 25h1M38 26h1M117 26h2M132 26h2M152 26h1M38 27h1M116 27h2M132 27h2M39 28h1M86 28h1M115 28h2M132 28h1M149 28h1M39 29h1M87 29h1M115 29h2M131 29h2M148 29h1M39 30h1M88 30h1M114 30h2M131 30h2M147 30h1M40 31h1M88 31h1M113 31h2M131 31h2M146 31h1M40 32h1M89 32h1M112 32h2M131 32h1M144 32h1M41 33h1M90 33h1M112 33h2M130 33h2M143 33h1M41 34h1M91 34h1M111 34h2M130 34h2M141 34h1M41 35h2M92 35h1M110 35h2M130 35h2M140 35h1M42 36h1M93 36h2M110 36h1M130 36h1M139 36h1M42 37h1M95 37h2M109 37h2M129 37h2M137 37h1M43 38h1M97 38h2M108 38h2M129 38h2M136 38h1M43 39h1M99 39h2M107 39h2M129 39h2M135 39h1M44 40h1M99 40h3M107 40h2M130 40h2M135 40h1M44 41h1M100 41h2M107 41h1M131 41h1M134 41h1M44 42h1M100 42h3M106 42h2M131 42h1M134 42h1M101 43h2M106 43h2M134 43h1M45 44h1M101 44h3M106 44h1M132 44h1M134 44h1M45 45h1M102 45h2M105 45h2M132 45h1M134 45h1M45 46h1M102 46h5M132 46h1M134 46h1M45 47h1M103 47h3M132 47h1M134 47h1M103 48h3M132 48h1M46 49h1M104 49h1M132 49h2M46 50h1M104 50h1M132 50h2M46 51h1M133 51h1M46 52h1M133 52h1M46 53h1M133 53h1M46 54h1M132 54h1M46 55h1M131 55h1M46 56h2M130 56h1M47 57h1M129 57h1M47 58h1M128 58h1M47 59h1M127 59h1M47 60h1M47 61h2M47 62h2M48 63h1M48 64h1M48 65h1M48 66h2M48 67h3M50 68h3M52 69h3M53 70h3M55 71h3M57 72h1M57 73h1M57 74h1M56 76h1M56 77h1M56 78h1M55 80h1M5 81h1M55 81h1M0 82h5M55 82h1M54 83h1M54 84h1M53 85h1M52 87h1M51 88h1M51 89h1M50 90h1M49 92h1M48 94h1M47 95h1M46 96h1M44 97h2M43 98h2M42 99h1M40 100h2M39 101h1M37 102h2M36 103h1M34 104h2M32 105h3M29 106h4M26 107h3M23 108h3M19 109h4M7 110h13M0 111h10"/>
<path stroke="#fc0100" d="M11 0h1M95 0h2M139 0h1M11 1h1M94 1h2M139 1h1M10 2h1M94 2h2M139 2h2M9 3h1M39 3h1M93 3h2M140 3h1M9 4h1M39 4h1M93 4h2M140 4h2M8 5h1M39 5h1M92 5h2M141 5h1M8 6h1M39 6h1M92 6h2M141 6h2M7 7h1M39 7h1M91 7h2M142 7h1M6 8h1M39 8h1M91 8h1M142 8h2M6 9h1M39 9h1M90 9h2M143 9h1M5 10h1M90 10h1M143 10h2M0 11h5M39 11h1M90 11h1M142 11h2M141 12h2M141 13h1M38 14h1M89 14h1M140 14h1M146 14h4M89 15h1M139 15h1M145 15h2M149 15h3M89 16h1M138 16h2M144 16h2M151 16h4M37 17h1M137 17h2M143 17h2M153 17h2M136 18h2M142 18h2M154 18h1M36 19h1M88 19h1M136 19h1M141 19h1M154 19h1M36 20h1M88 20h1M135 20h1M139 20h2M154 20h1M88 21h1M134 21h1M138 21h2M35 22h1M121 22h14M137 22h2M153 22h1M19 23h2M35 23h1M119 23h15M136 23h2M153 23h1M18 24h1M20 24h4M36 24h1M118 24h1M135 24h1M153 24h1M18 25h4M36 25h1M87 25h1M117 25h1M134 25h2M152 25h1M37 26h1M87 26h1M116 26h1M134 26h2M151 26h1M37 27h1M87 27h1M115 27h1M134 27h1M150 27h1M37 28h2M87 28h1M133 28h2M38 29h1M88 29h1M114 29h1M133 29h2M147 29h1M38 30h1M89 30h1M113 30h1M133 30h2M146 30h1M39 31h1M89 31h2M112 31h1M133 31h1M145 31h1M39 32h1M90 32h2M111 32h1M132 32h2M143 32h1M40 33h1M91 33h2M110 33h2M132 33h2M142 33h1M40 34h1M92 34h2M109 34h2M132 34h2M140 34h1M40 35h1M93 35h2M109 35h1M132 35h1M139 35h1M41 36h1M95 36h2M108 36h2M131 36h2M138 36h1M41 37h1M97 37h2M107 37h2M131 37h2M136 37h1M42 38h1M99 38h3M106 38h2M131 38h2M135 38h1M42 39h1M101 39h3M106 39h1M131 39h2M134 39h1M43 40h1M102 40h2M105 40h2M132 40h1M134 40h1M43 41h1M102 41h5M132 41h1M43 42h1M103 42h3M132 42h2M44 43h1M103 43h3M132 43h2M44 44h1M104 44h2M133 44h1M44 45h1M104 45h1M133 45h1M44 46h1M133 46h1M133 47h1M45 48h1M133 48h1M45 49h1M45 50h1M45 51h1M45 52h1M45 54h1M45 55h1M45 56h1M46 57h1M46 58h1M46 59h1M46 60h1M46 61h1M46 62h1M46 63h2M47 64h1M47 65h1M47 66h1M47 67h1M47 68h3M49 69h3M51 70h2M52 71h3M54 72h3M56 73h1M56 74h1M56 75h1M10 76h1M9 77h1M55 77h1M8 78h2M55 78h1M7 79h2M55 79h1M5 80h3M0 81h5M6 81h1M54 81h1M5 82h2M54 82h1M0 83h5M53 84h1M52 85h1M52 86h1M51 87h1M50 89h1M49 90h1M49 91h1M48 92h1M48 93h1M47 94h1M45 95h2M44 96h2M43 97h1M41 98h2M40 99h2M38 100h2M37 101h2M36 102h1M34 103h2M32 104h2M29 105h3M26 106h3M22 107h4M19 108h4M6 109h13M0 110h7"/>
<path stroke="#f30000" d="M12 0h1M38 0h1M97 0h2M137 0h2M38 1h1M96 1h2M138 1h1M11 2h1M38 2h1M96 2h2M138 2h1M10 3h1M38 3h1M95 3h2M138 3h2M10 4h1M95 4h1M139 4h1M9 5h1M94 5h2M139 5h2M9 6h1M94 6h1M140 6h1M8 7h1M93 7h1M140 7h2M7 8h1M92 8h1M141 8h1M7 9h1M92 9h1M141 9h2M6 10h1M39 10h1M91 10h1M142 10h1M5 11h1M91 11h1M141 11h1M0 12h5M38 12h1M90 12h1M140 12h1M38 13h1M90 13h1M139 13h2M90 14h1M138 14h2M37 15h1M137 15h2M147 15h2M37 16h1M137 16h1M146 16h5M89 17h1M136 17h1M145 17h1M150 17h3M36 18h1M89 18h1M135 18h1M144 18h1M152 18h2M89 19h1M134 19h2M142 19h2M153 19h1M123 20h12M141 20h2M153 20h1M35 21h1M121 21h13M140 21h2M153 21h1M19 22h3M88 22h1M119 22h2M139 22h2M18 23h1M21 23h4M88 23h1M118 23h1M138 23h1M152 23h1M17 24h1M24 24h3M35 24h1M88 24h1M117 24h1M136 24h2M152 24h1M17 25h1M22 25h3M35 25h1M116 25h1M136 25h2M151 25h1M17 26h3M36 26h1M115 26h1M136 26h1M150 26h1M36 27h1M88 27h1M135 27h2M149 27h1M36 28h1M88 28h1M114 28h1M135 28h2M148 28h1M37 29h1M89 29h1M113 29h1M135 29h2M146 29h1M37 30h1M90 30h1M112 30h1M135 30h1M145 30h1M38 31h1M91 31h1M111 31h1M134 31h2M144 31h1M38 32h1M92 32h1M110 32h1M134 32h2M142 32h1M39 33h1M93 33h1M109 33h1M134 33h2M141 33h1M39 34h1M94 34h1M108 34h1M134 34h1M139 34h1M39 35h1M95 35h2M108 35h1M133 35h2M138 35h1M40 36h1M97 36h3M107 36h1M133 36h2M137 36h1M40 37h1M99 37h3M106 37h1M133 37h3M41 38h1M102 38h2M105 38h1M133 38h2M41 39h1M104 39h2M133 39h1M42 40h1M104 40h1M133 40h1M42 41h1M133 41h1M42 42h1M43 43h1M43 44h1M43 45h1M43 46h1M44 47h1M44 48h1M44 49h1M44 50h1M44 51h1M45 53h1M44 56h1M44 57h2M45 58h1M45 59h1M45 60h1M45 61h1M45 62h1M45 63h1M45 64h2M46 65h1M46 66h1M46 67h1M46 68h1M46 69h3M48 70h3M15 71h1M50 71h2M14 72h1M51 72h3M13 73h1M53 73h3M12 74h2M55 74h1M10 75h3M55 75h1M9 76h1M11 76h1M55 76h1M8 77h1M10 77h2M7 78h1M10 78h1M54 78h1M5 79h2M9 79h1M54 79h1M0 80h5M8 80h1M54 80h1M7 81h2M7 82h1M53 82h1M5 83h2M53 83h1M0 84h5M52 84h1M51 86h1M50 87h1M50 88h1M49 89h1M48 91h1M47 92h1M46 93h2M45 94h2M44 95h1M43 96h1M41 97h2M40 98h1M38 99h2M37 100h1M35 101h2M34 102h2M32 103h2M28 104h4M25 105h4M22 106h4M18 107h4M6 108h13M0 109h6"/>
<path stroke="#e00000" d="M13 0h1M99 0h2M136 0h1M12 1h1M98 1h2M136 1h2M12 2h1M98 2h1M137 2h1M11 3h1M97 3h1M137 3h1M11 4h1M38 4h1M96 4h1M137 4h2M10 5h1M38 5h1M96 5h1M138 5h1M10 6h1M38 6h1M95 6h1M138 6h2M9 7h1M38 7h1M94 7h1M139 7h1M8 8h2M38 8h1M93 8h1M139 8h2M8 9h1M93 9h1M140 9h1M7 10h1M92 10h1M140 10h2M6 11h1M38 11h1M92 11h1M139 11h2M5 12h1M91 12h1M138 12h2M0 13h5M91 13h1M138 13h1M37 14h1M91 14h1M137 14h1M90 15h1M136 15h1M90 16h1M135 16h2M36 17h1M90 17h1M134 17h2M146 17h4M133 18h2M145 18h2M149 18h3M35 19h1M123 19h11M144 19h2M151 19h2M35 20h1M89 20h1M121 20h2M143 20h2M152 20h1M19 21h4M89 21h1M120 21h1M142 21h2M152 21h1M18 22h1M22 22h4M34 22h1M89 22h1M118 22h1M141 22h1M152 22h1M17 23h1M25 23h3M34 23h1M117 23h1M139 23h2M16 24h1M27 24h4M34 24h1M116 24h1M138 24h2M151 24h1M16 25h1M25 25h4M34 25h1M88 25h1M115 25h1M138 25h1M16 26h1M20 26h4M35 26h1M88 26h1M137 26h2M149 26h1M16 27h3M35 27h1M89 27h1M114 27h1M137 27h2M148 27h1M35 28h1M89 28h2M113 28h1M137 28h2M147 28h1M36 29h1M90 29h2M112 29h1M137 29h1M145 29h1M36 30h1M91 30h2M111 30h1M136 30h2M144 30h1M37 31h1M92 31h2M110 31h1M136 31h2M143 31h1M37 32h1M93 32h1M109 32h1M136 32h2M141 32h1M38 33h1M94 33h1M108 33h1M136 33h1M140 33h1M38 34h1M95 34h2M135 34h2M38 35h1M97 35h3M107 35h1M135 35h3M39 36h1M100 36h2M106 36h1M135 36h2M39 37h1M102 37h2M105 37h1M40 38h1M104 38h1M40 39h1M41 40h1M41 41h1M41 42h1M42 43h1M42 44h1M42 45h1M43 47h1M43 48h1M43 49h1M43 50h1M44 52h1M44 53h1M44 54h1M44 55h1M43 57h1M43 58h2M44 59h1M44 60h1M44 61h1M44 62h1M44 63h1M44 64h1M45 65h1M45 66h1M45 67h1M18 68h1M45 68h1M17 69h2M45 69h1M15 70h3M45 70h3M14 71h1M16 71h1M47 71h3M13 72h1M15 72h1M48 72h3M12 73h1M14 73h2M50 73h3M10 74h2M14 74h1M52 74h3M9 75h1M13 75h1M54 75h1M8 76h1M12 76h1M54 76h1M7 77h1M12 77h1M54 77h1M5 78h2M11 78h1M0 79h5M10 79h1M53 79h1M9 80h1M53 80h1M9 81h1M53 81h1M8 82h1M7 83h1M52 83h1M5 84h2M51 84h1M0 85h6M51 85h1M50 86h1M49 88h1M48 90h1M47 91h1M46 92h1M45 93h1M43 94h2M42 95h2M41 96h2M40 97h1M38 98h2M37 99h1M35 100h2M34 101h1M31 102h3M28 103h4M25 104h3M22 105h3M16 106h6M6 107h12M0 108h6"/>
<path stroke="#cd0000" d="M14 0h1M37 0h1M134 0h2M13 1h1M37 1h1M100 1h1M135 1h1M13 2h1M37 2h1M99 2h1M135 2h2M12 3h1M37 3h1M98 3h1M136 3h1M12 4h1M97 4h1M136 4h1M11 5h1M97 5h1M136 5h2M11 6h1M96 6h1M137 6h1M10 7h1M95 7h1M137 7h2M10 8h1M94 8h1M138 8h1M9 9h1M38 9h1M94 9h1M138 9h2M8 10h1M38 10h1M93 10h1M139 10h1M7 11h1M93 11h1M138 11h1M6 12h1M37 12h1M92 12h1M137 12h1M5 13h1M37 13h1M92 13h1M136 13h2M0 14h5M92 14h1M135 14h2M36 15h1M91 15h1M134 15h2M36 16h1M91 16h1M134 16h1M91 17h1M126 17h8M35 18h1M90 18h1M124 18h9M147 18h2M90 19h1M122 19h1M146 19h5M19 20h5M90 20h1M120 20h1M145 20h2M150 20h2M18 21h1M23 21h4M34 21h1M118 21h2M144 21h1M151 21h1M17 22h1M26 22h3M117 22h1M142 22h2M151 22h1M16 23h1M28 23h4M89 23h1M116 23h1M141 23h2M151 23h1M15 24h1M31 24h3M89 24h1M115 24h1M140 24h2M15 25h1M29 25h3M33 25h1M89 25h1M139 25h2M150 25h1M15 26h1M24 26h4M34 26h1M89 26h1M114 26h1M139 26h2M19 27h4M34 27h1M90 27h1M113 27h1M139 27h2M147 27h1M34 28h1M91 28h1M112 28h1M139 28h1M146 28h1M35 29h1M92 29h1M111 29h1M138 29h2M35 30h1M93 30h1M110 30h1M138 30h2M143 30h1M36 31h1M94 31h1M109 31h1M138 31h2M142 31h1M36 32h1M94 32h2M108 32h1M138 32h1M140 32h1M37 33h1M95 33h2M137 33h3M37 34h1M97 34h3M107 34h1M137 34h2M37 35h1M100 35h2M106 35h1M38 36h1M102 36h2M105 36h1M38 37h1M104 37h1M39 38h1M39 39h1M40 40h1M40 41h1M40 42h1M41 43h1M41 44h1M42 46h1M42 47h1M42 48h1M42 49h1M43 51h1M43 52h1M43 53h1M43 54h1M43 55h1M43 56h1M42 58h1M43 59h1M43 60h1M43 61h1M43 62h1M43 63h1M43 64h1M43 65h2M20 66h1M44 66h1M18 67h3M44 67h1M17 68h1M19 68h2M44 68h1M15 69h2M19 69h1M44 69h1M14 70h1M18 70h1M44 70h1M13 71h1M17 71h1M44 71h3M12 72h1M16 72h2M46 72h2M10 73h2M16 73h1M47 73h3M9 74h1M15 74h1M49 74h3M8 75h1M14 75h1M51 75h3M7 76h1M13 76h2M53 76h1M5 77h2M13 77h1M53 77h1M0 78h5M12 78h1M53 78h1M11 79h1M10 80h2M52 80h1M10 81h1M52 81h1M9 82h1M52 82h1M8 83h1M51 83h1M7 84h1M6 85h1M50 85h1M0 86h6M49 87h1M48 88h1M48 89h1M47 90h1M45 91h2M44 92h2M43 93h2M42 94h1M41 95h1M39 96h2M38 97h2M37 98h1M35 99h2M34 100h1M31 101h3M28 102h3M24 103h4M21 104h4M15 105h7M6 106h10M0 107h6"/>
<path stroke="#ba0000" d="M15 0h1M36 0h1M101 0h1M133 0h1M14 1h1M101 1h1M133 1h2M14 2h1M100 2h1M134 2h1M13 3h1M99 3h1M134 3h2M13 4h1M37 4h1M98 4h1M135 4h1M12 5h1M37 5h1M98 5h1M135 5h1M12 6h1M37 6h1M97 6h1M135 6h2M11 7h1M37 7h1M96 7h1M136 7h1M11 8h1M37 8h1M95 8h1M136 8h2M10 9h1M95 9h1M137 9h1M9 10h1M94 10h1M137 10h2M8 11h1M37 11h1M136 11h2M7 12h1M93 12h1M135 12h2M6 13h1M93 13h1M135 13h1M5 14h1M36 14h1M134 14h1M92 15h1M128 15h6M92 16h1M126 16h8M35 17h1M124 17h2M91 18h1M122 18h2M19 19h6M91 19h1M120 19h2M18 20h1M24 20h4M34 20h1M118 20h2M147 20h3M17 21h1M27 21h3M90 21h1M145 21h2M149 21h2M16 22h1M29 22h5M90 22h1M144 22h2M150 22h1M15 23h1M32 23h2M143 23h2M150 23h1M142 24h2M150 24h1M14 25h1M32 25h1M114 25h1M141 25h2M149 25h1M28 26h3M32 26h2M90 26h1M113 26h1M141 26h2M148 26h1M15 27h1M23 27h3M33 27h1M91 27h1M112 27h1M141 27h1M146 27h1M15 28h7M33 28h1M92 28h1M111 28h1M140 28h2M145 28h1M34 29h1M93 29h1M110 29h1M140 29h2M144 29h1M34 30h1M94 30h1M109 30h1M140 30h3M35 31h1M95 31h1M108 31h1M140 31h2M35 32h1M96 32h1M139 32h1M36 33h1M97 33h3M107 33h1M36 34h1M100 34h2M106 34h1M36 35h1M102 35h2M105 35h1M37 36h1M104 36h1M37 37h1M38 38h1M38 39h1M39 40h1M39 41h1M39 42h1M40 43h1M40 44h1M41 45h1M41 46h1M41 47h1M41 48h1M41 49h1M42 50h1M42 51h1M42 52h1M42 53h1M42 54h1M42 55h1M42 56h1M42 57h1M42 59h1M42 60h1M42 61h1M42 62h1M42 63h1M42 64h1M21 65h1M42 65h1M18 66h2M21 66h1M43 66h1M17 67h1M21 67h1M43 67h1M15 68h2M21 68h1M43 68h1M14 69h1M20 69h1M43 69h1M13 70h1M19 70h1M43 70h1M12 71h1M18 71h2M43 71h1M10 72h2M18 72h1M44 72h2M9 73h1M17 73h1M45 73h2M8 74h1M16 74h1M47 74h2M7 75h1M15 75h2M48 75h3M5 76h2M15 76h1M50 76h3M0 77h5M14 77h1M52 77h1M13 78h1M52 78h1M12 79h2M52 79h1M12 80h1M11 81h1M51 81h1M10 82h1M51 82h1M9 83h1M8 84h1M50 84h1M7 85h1M49 85h1M6 86h1M49 86h1M0 87h6M48 87h1M47 88h1M46 89h2M45 90h2M44 91h1M43 92h1M41 93h2M40 94h2M39 95h2M38 96h1M36 97h2M35 98h2M34 99h1M31 100h3M27 101h4M24 102h4M21 103h3M13 104h8M6 105h9M0 106h6"/>
<path stroke="#a70000" d="M16 0h1M102 0h1M131 0h2M15 1h1M36 1h1M102 1h1M132 1h1M15 2h1M36 2h1M101 2h1M132 2h2M14 3h1M36 3h1M100 3h1M133 3h1M14 4h1M99 4h1M133 4h2M13 5h1M99 5h1M134 5h1M13 6h1M98 6h1M134 6h1M12 7h1M97 7h1M134 7h2M12 8h1M96 8h1M135 8h1M11 9h1M37 9h1M135 9h2M10 10h1M37 10h1M95 10h1M136 10h1M9 11h1M94 11h1M135 11h1M8 12h1M36 12h1M94 12h1M134 12h1M7 13h1M36 13h1M94 13h1M130 13h5M6 14h1M93 14h1M128 14h6M0 15h6M35 15h1M93 15h1M126 15h2M35 16h1M93 16h1M124 16h2M92 17h1M122 17h2M19 18h8M34 18h1M92 18h1M120 18h2M18 19h1M25 19h4M34 19h1M92 19h1M119 19h1M17 20h1M28 20h3M91 20h1M16 21h1M30 21h4M91 21h1M117 21h1M147 21h2M15 22h1M91 22h1M116 22h1M146 22h4M90 23h1M115 23h1M145 23h2M149 23h1M14 24h1M90 24h1M114 24h1M144 24h1M149 24h1M13 25h1M90 25h2M113 25h1M143 25h2M148 25h1M14 26h1M31 26h1M91 26h2M112 26h1M143 26h2M147 26h1M14 27h1M26 27h4M31 27h2M92 27h2M111 27h1M142 27h2M145 27h1M14 28h1M22 28h3M32 28h1M93 28h2M110 28h1M142 28h3M14 29h7M32 29h2M94 29h2M109 29h1M142 29h2M33 30h1M95 30h2M108 30h1M34 31h1M96 31h2M34 32h1M97 32h3M107 32h1M35 33h1M100 33h2M106 33h1M35 34h1M102 34h2M105 34h1M35 35h1M104 35h1M36 36h1M36 37h1M37 38h1M37 39h1M37 40h2M38 41h1M38 42h1M39 43h1M39 44h1M40 45h1M40 46h1M40 47h1M40 48h1M41 50h1M41 51h1M41 52h1M41 53h1M41 54h1M41 55h1M41 56h1M41 57h1M41 58h1M41 59h1M41 60h1M41 61h1M41 62h1M41 63h1M21 64h2M41 64h1M18 65h3M22 65h1M41 65h1M17 66h1M22 66h1M41 66h2M15 67h2M22 67h2M42 67h1M14 68h1M22 68h1M42 68h1M13 69h1M21 69h2M42 69h1M12 70h1M20 70h2M42 70h1M10 71h2M20 71h1M42 71h1M9 72h1M19 72h1M42 72h2M8 73h1M18 73h1M43 73h2M6 74h2M17 74h2M44 74h3M5 75h2M17 75h1M46 75h2M0 76h5M16 76h1M47 76h3M15 77h1M49 77h3M14 78h2M51 78h1M14 79h1M51 79h1M13 80h1M51 80h1M12 81h1M11 82h2M50 82h1M10 83h1M50 83h1M9 84h1M49 84h1M8 85h1M7 86h1M48 86h1M6 87h1M47 87h1M0 88h6M46 88h1M45 89h1M43 90h2M42 91h2M41 92h2M40 93h1M39 94h1M37 95h2M36 96h2M35 97h1M33 98h2M30 99h4M27 100h4M24 101h3M21 102h3M12 103h9M5 104h8M0 105h6"/>
</g></g></g>
<path transform="translate(1226.2 34.2)" d="M690.6 -4.7 L688.3 20.4 L685.5 33.6 L685.1 65.4 L665.6 83.7 L662.8 101.7 L660.9 145.2 L655.2 171.6 L625.9 197.2 L617.4 228.4 L587.2 257.7 L579.6 281.3 L578.7 314.4 L522.9 341.8 L521.6 367 L487.9 367.4 L469 372.1 L431.2 372.7 L404.7 367 L370.7 372.1 L376.4 389.7 L351 390.7 L325.9 419 L308 410.5 L247.5 438.9 L194.5 484.3 L146.3 533.4 L146.3 605.3 L150.1 622.3 L150.1 637.4 L146.3 656.3 L136.9 686.6 L104.7 711.2" fill="none" stroke="#000" stroke-width="2.8" stroke-linejoin="round"/>
<g transform="translate(289 1043.1)" clip-path="url(#pc)">
<rect x="-20" y="-20" width="742.5" height="749.1" fill="#00cfff"/>
<g filter="url(#bl)"><g transform="translate(-12 -10) scale(4)" fill="none" stroke-width="1.08" shape-rendering="crispEdges">
<path stroke="#00008f" d="M47 45h2M47 46h4M46 47h6M46 48h7M45 49h9M45 50h9M44 51h11M44 52h11M43 53h12M43 54h12M43 55h12M43 56h12M43 57h11M43 58h11M43 59h10M44 60h9M44 61h9M44 62h8M45 63h7M45 64h7M45 65h6M45 66h6M46 67h5M46 68h5M46 69h4M46 70h4M47 71h2M47 72h2M47 73h1M70 88h7M69 89h8M67 90h10M65 91h13M64 92h14M62 93h17M61 94h18M60 95h18M59 96h19M59 97h19M60 98h17M60 99h17M61 100h15M61 101h14M62 102h10M68 103h2"/>
<path stroke="#00009f" d="M47 44h2M49 45h1M46 46h1M51 46h1M52 47h2M45 48h1M53 48h1M54 49h1M44 50h1M54 50h1M43 52h1M55 52h1M55 53h1M55 54h1M55 55h1M54 57h1M54 58h1M53 59h1M43 60h1M53 60h1M43 61h1M52 62h1M44 63h1M52 63h1M44 64h1M52 64h1M51 65h1M51 66h1M45 67h1M51 67h1M45 68h1M51 68h1M45 69h1M50 69h1M50 70h1M46 71h1M49 71h1M46 72h1M49 72h1M48 73h1M47 74h2M47 75h1M72 86h5M70 87h7M69 88h1M67 89h2M77 89h1M66 90h1M77 90h1M64 91h1M78 91h1M62 92h2M78 92h1M61 93h1M60 94h1M78 95h1M78 96h1M59 98h1M77 98h1M59 99h1M60 100h1M76 100h1M60 101h1M75 101h1M61 102h1M72 102h3M61 103h7M70 103h2M62 104h8"/>
<path stroke="#0000af" d="M47 43h1M49 44h1M46 45h1M50 45h2M52 46h1M45 47h1M54 48h1M44 49h1M55 50h1M43 51h1M55 51h1M56 52h1M42 53h1M56 53h1M42 54h1M56 54h1M42 55h1M42 56h1M55 56h1M42 57h1M55 57h1M42 58h1M42 59h1M54 59h1M54 60h1M53 61h1M43 62h1M53 62h1M43 63h1M53 63h1M53 64h1M44 65h1M52 65h1M44 66h1M52 66h1M52 67h1M52 68h1M51 69h1M45 70h1M45 71h1M50 71h1M46 73h1M49 73h1M46 74h1M48 75h1M47 76h1M74 84h3M72 85h5M71 86h1M69 87h1M77 87h1M67 88h2M77 88h1M66 89h1M78 89h1M64 90h2M78 90h1M63 91h1M61 92h1M79 92h1M79 93h1M79 94h1M59 95h1M58 96h1M58 97h1M78 97h1M58 98h1M77 99h1M59 100h1M76 101h1M60 102h1M75 102h1M72 103h3M61 104h1M70 104h2M62 105h8M65 106h2"/>
<path stroke="#0000bf" d="M48 43h2M50 44h1M52 45h1M53 46h2M54 47h1M55 48h1M55 49h1M56 51h1M57 53h1M57 54h1M56 55h1M56 56h1M55 58h1M55 59h1M42 60h1M42 61h1M54 61h1M54 62h1M54 63h1M43 64h1M43 65h1M53 65h1M53 66h1M44 67h1M53 67h1M44 68h1M44 69h1M52 69h1M44 70h1M51 70h1M51 71h1M45 72h1M50 72h1M45 73h1M50 73h1M49 74h1M46 75h1M49 75h1M46 76h1M48 76h1M47 77h2M47 78h1M75 82h2M74 83h3M72 84h2M71 85h1M77 85h1M69 86h2M77 86h1M68 87h1M78 87h1M66 88h1M78 88h1M64 89h2M63 90h1M79 90h1M62 91h1M79 91h1M60 93h1M59 94h1M58 95h1M79 95h1M57 96h1M57 97h1M57 98h1M78 98h1M58 99h1M58 100h1M77 100h1M59 101h1M59 102h1M76 102h1M60 103h1M75 103h1M60 104h1M72 104h2M61 105h1M70 105h2M61 106h4M67 106h2M62 107h5"/>
<path stroke="#0000cf" d="M47 42h3M50 43h1M46 44h1M51 44h2M53 45h2M45 46h1M55 46h1M55 47h1M44 48h1M56 49h1M43 50h1M56 50h1M57 51h1M42 52h1M57 52h1M58 53h1M41 54h1M41 55h1M57 55h1M41 56h1M57 56h1M41 57h1M56 57h1M41 58h1M56 58h1M41 59h1M56 59h1M55 60h1M55 61h1M42 62h1M55 62h1M42 63h1M55 63h1M54 64h1M54 65h1M43 66h1M54 66h1M43 67h1M54 67h1M53 68h1M53 69h1M52 70h1M44 71h1M52 71h1M44 72h1M51 72h1M51 73h1M45 74h1M50 74h1M45 75h1M50 75h1M49 76h1M46 77h1M49 77h1M48 78h1M47 79h2M47 80h1M76 81h1M74 82h1M72 83h2M77 83h1M71 84h1M77 84h1M69 85h2M78 85h1M68 86h1M78 86h1M66 87h2M65 88h1M79 88h1M63 89h1M79 89h1M62 90h1M80 90h1M61 91h1M80 91h1M60 92h1M80 92h1M59 93h1M80 93h1M58 94h1M57 95h1M56 96h1M79 96h1M56 97h1M79 97h1M57 99h1M78 99h1M57 100h1M58 101h1M77 101h1M58 102h1M59 103h1M76 103h1M59 104h1M74 104h2M60 105h1M72 105h2M60 106h1M69 106h3M61 107h1M67 107h2M61 108h6M62 109h2"/>
<path stroke="#0000df" d="M47 41h2M50 42h1M46 43h1M51 43h2M53 44h1M45 45h1M55 45h1M44 47h1M56 47h1M56 48h1M43 49h1M57 49h1M57 50h1M42 51h1M58 52h1M41 53h1M58 54h1M58 55h1M57 57h1M57 58h1M41 60h1M56 60h1M41 61h1M56 61h1M56 62h1M56 63h1M42 64h1M55 64h1M42 65h1M55 65h1M55 66h1M55 67h1M43 68h1M54 68h1M43 69h1M54 69h1M43 70h1M53 70h1M43 71h1M53 71h1M52 72h1M44 73h1M52 73h1M44 74h1M51 74h1M51 75h1M45 76h1M50 76h1M50 77h1M46 78h1M49 78h1M46 79h1M49 79h1M48 80h1M47 81h2M75 81h1M77 81h1M47 82h2M73 82h1M77 82h1M71 83h1M78 83h1M69 84h2M78 84h1M68 85h1M66 86h2M79 86h1M65 87h1M79 87h1M63 88h2M80 88h1M62 89h1M80 89h1M61 90h1M60 91h1M81 91h1M59 92h1M58 93h1M57 94h1M80 94h1M56 95h1M80 95h1M55 96h1M55 97h1M56 98h1M56 99h1M78 100h1M57 101h1M57 102h1M77 102h1M58 103h1M76 104h1M59 105h1M74 105h2M72 106h2M60 107h1M69 107h3M67 108h2M61 109h1M64 109h2M62 110h2"/>
<path stroke="#0000ef" d="M47 40h2M49 41h2M46 42h1M51 42h1M53 43h1M45 44h1M54 44h2M56 45h1M44 46h1M56 46h1M57 47h1M43 48h1M57 48h1M42 50h1M58 50h1M58 51h1M41 52h1M59 52h1M59 53h1M59 54h1M58 56h1M58 57h1M58 58h1M57 59h1M57 60h1M57 61h1M41 62h1M57 62h1M41 63h1M56 64h1M56 65h1M42 66h1M56 66h1M42 67h1M56 67h1M55 68h1M55 69h1M54 70h1M54 71h1M43 72h1M53 72h1M43 73h1M53 73h1M52 74h1M44 75h1M52 75h1M44 76h1M51 76h1M45 77h1M51 77h1M45 78h1M50 78h1M50 79h1M46 80h1M49 80h1M76 80h3M46 81h1M49 81h1M73 81h2M78 81h1M49 82h1M71 82h2M78 82h1M47 83h2M70 83h1M68 84h1M79 84h1M66 85h2M79 85h1M65 86h1M80 86h1M63 87h2M80 87h1M62 88h1M61 89h1M81 89h1M60 90h1M81 90h1M59 91h1M58 92h1M81 92h1M57 93h1M81 93h1M56 94h1M55 95h1M80 96h1M54 97h1M55 98h1M79 98h1M55 99h1M56 100h1M56 101h1M78 101h1M57 103h1M77 103h1M58 104h1M58 105h1M76 105h1M59 106h1M74 106h2M59 107h1M72 107h2M60 108h1M69 108h2M60 109h1M66 109h3M61 110h1M64 110h2M61 111h3M61 112h2"/>
<path stroke="#00f" d="M47 39h2M49 40h1M46 41h1M51 41h1M52 42h2M45 43h1M54 43h2M56 44h1M44 45h1M57 46h1M43 47h1M58 48h1M42 49h1M58 49h1M59 50h1M41 51h1M59 51h1M40 53h1M60 53h1M40 54h1M60 54h1M40 55h1M59 55h1M40 56h1M59 56h1M40 57h1M59 57h1M40 58h1M40 59h1M58 59h1M40 60h1M58 60h1M40 61h1M58 61h1M40 62h1M58 62h1M57 63h1M41 64h1M57 64h1M41 65h1M57 65h1M41 66h1M57 66h1M42 68h1M56 68h1M42 69h1M56 69h1M42 70h1M55 70h1M42 71h1M55 71h1M54 72h1M54 73h1M43 74h1M53 74h1M43 75h1M53 75h1M52 76h1M44 77h1M52 77h1M51 78h1M45 79h1M51 79h1M77 79h3M45 80h1M50 80h2M74 80h2M79 80h1M50 81h2M72 81h1M79 81h1M46 82h1M50 82h2M70 82h1M79 82h1M46 83h1M49 83h2M68 83h2M79 83h1M47 84h3M67 84h1M80 84h1M47 85h2M65 85h1M80 85h1M63 86h2M62 87h1M81 87h1M61 88h1M81 88h1M60 89h1M82 89h1M59 90h1M82 90h1M58 91h1M57 92h1M56 93h1M81 94h1M54 96h1M80 97h1M54 98h1M79 99h1M55 100h1M55 101h1M56 102h1M78 102h1M56 103h1M57 104h1M77 104h1M57 105h1M58 106h1M76 106h1M58 107h1M74 107h2M59 108h1M71 108h3M59 109h1M69 109h2M60 110h1M66 110h3M60 111h1M64 111h2M60 112h1M63 112h2M61 113h3M61 114h2M76 137h1M75 138h2M75 139h2"/>
<path stroke="#0010ff" d="M47 38h2M46 39h1M49 39h1M46 40h1M50 40h2M52 41h2M45 42h1M54 42h1M56 43h1M44 44h1M57 44h1M57 45h1M43 46h1M58 46h1M58 47h1M42 48h1M59 49h1M41 50h1M60 51h1M40 52h1M60 52h1M61 53h1M60 55h1M60 56h1M60 57h1M59 58h1M59 59h1M59 60h1M59 61h1M59 62h1M40 63h1M58 63h1M40 64h1M58 64h1M58 65h1M58 66h1M41 67h1M57 67h1M41 68h1M57 68h1M57 69h1M56 70h1M56 71h1M42 72h1M55 72h1M42 73h1M42 74h1M54 74h1M43 76h1M53 76h1M53 77h1M44 78h1M52 78h2M44 79h1M52 79h2M75 79h2M52 80h2M73 80h1M45 81h1M52 81h2M71 81h1M80 81h1M45 82h1M52 82h2M68 82h2M80 82h1M51 83h2M67 83h1M80 83h1M46 84h1M50 84h2M65 84h2M46 85h1M49 85h1M64 85h1M81 85h1M47 86h2M62 86h1M81 86h1M61 87h1M82 87h1M60 88h1M82 88h1M59 89h1M58 90h1M57 91h1M82 91h1M82 92h1M55 94h1M54 95h1M81 95h1M53 96h1M81 96h1M53 97h1M53 98h1M80 98h1M54 99h1M54 100h1M79 100h1M55 102h1M55 103h1M56 104h1M56 105h1M77 105h1M57 106h1M57 107h1M76 107h1M58 108h1M74 108h2M58 109h1M71 109h3M59 110h1M69 110h2M59 111h1M66 111h3M59 112h1M65 112h3M60 113h1M64 113h2M60 114h1M63 114h2M61 115h3M61 116h2M75 125h2M75 126h2M75 127h2M75 128h2M75 129h2M75 130h2M74 131h3M74 132h3M74 133h3M74 134h3M74 135h3M74 136h3M74 137h2M77 137h1M73 138h2M77 138h1M73 139h2M77 139h1M74 140h4M75 141h2"/>
<path stroke="#0020ff" d="M47 37h3M46 38h1M49 38h2M45 39h1M50 39h2M45 40h1M52 40h1M45 41h1M54 41h1M55 42h2M44 43h1M57 43h1M58 44h1M43 45h1M58 45h1M42 47h1M59 47h1M59 48h1M41 49h1M60 49h1M60 50h1M40 51h1M61 52h1M39 53h1M62 53h2M39 54h1M61 54h3M39 55h1M61 55h1M39 56h1M61 56h1M39 57h1M61 57h1M39 58h1M60 58h1M39 59h1M60 59h1M39 60h1M60 60h1M39 61h1M60 61h1M39 62h1M59 63h1M59 64h1M40 65h1M59 65h1M40 66h1M59 66h1M58 67h1M58 68h1M41 69h1M41 70h1M57 70h1M41 71h1M41 72h1M56 72h1M55 73h1M55 74h1M42 75h1M54 75h2M42 76h1M54 76h2M43 77h1M54 77h2M43 78h1M54 78h2M76 78h5M54 79h2M74 79h1M80 79h1M44 80h1M54 80h2M71 80h2M80 80h1M44 81h1M54 81h2M69 81h2M54 82h2M67 82h1M45 83h1M53 83h1M65 83h2M81 83h1M45 84h1M52 84h1M64 84h1M81 84h1M50 85h2M62 85h2M82 85h1M46 86h1M49 86h2M61 86h1M82 86h1M47 87h3M60 87h1M47 88h2M59 88h1M83 88h1M58 89h1M83 89h1M83 90h1M56 92h1M55 93h1M82 93h1M54 94h1M82 94h1M53 95h1M52 96h1M52 97h1M81 97h1M52 98h1M53 99h1M80 99h1M53 100h1M54 101h1M79 101h1M54 102h1M78 103h1M55 104h1M56 106h1M77 106h1M57 108h1M76 108h1M74 109h2M58 110h1M71 110h2M69 111h2M68 112h2M59 113h1M66 113h3M59 114h1M65 114h3M59 115h2M64 115h3M60 116h1M63 116h2M61 117h3M61 118h2M75 120h1M75 121h2M74 122h3M73 123h4M72 124h6M72 125h3M77 125h1M72 126h3M77 126h1M72 127h3M77 127h1M72 128h3M77 128h1M73 129h2M77 129h1M72 130h3M77 130h1M72 131h2M77 131h1M72 132h2M77 132h1M72 133h2M77 133h1M72 134h2M77 134h1M72 135h2M77 135h1M72 136h2M77 136h1M71 137h3M78 137h1M71 138h2M78 138h1M71 139h2M78 139h1M72 140h2M78 140h1M73 141h2M77 141h1M74 142h3"/>
<path stroke="#0030ff" d="M47 36h3M46 37h1M50 37h1M45 38h1M51 38h1M52 39h1M53 40h2M55 41h1M57 42h1M58 43h1M59 45h1M59 46h1M60 47h1M60 48h1M61 50h1M61 51h2M62 52h4M64 53h6M64 54h5M62 55h6M62 56h5M62 57h3M61 58h3M61 59h1M61 60h1M61 61h1M60 62h1M39 63h1M60 63h1M39 64h1M60 64h1M60 65h1M40 67h1M59 67h1M40 68h1M59 68h1M40 69h1M58 69h1M58 70h1M57 71h1M57 72h1M41 73h1M56 73h2M41 74h1M56 74h2M41 75h1M56 75h2M56 76h2M42 77h1M56 77h2M77 77h5M56 78h2M74 78h2M81 78h1M43 79h1M56 79h2M72 79h2M81 79h1M43 80h1M56 80h2M70 80h1M81 80h1M56 81h2M68 81h1M81 81h1M44 82h1M56 82h1M65 82h2M81 82h1M44 83h1M54 83h2M64 83h1M82 83h1M53 84h2M62 84h2M82 84h1M45 85h1M52 85h2M61 85h1M45 86h1M51 86h2M60 86h1M83 86h1M46 87h1M50 87h2M59 87h1M83 87h1M46 88h1M49 88h1M84 88h1M47 89h2M57 90h1M56 91h1M83 91h1M55 92h1M54 93h1M53 94h1M52 95h1M82 95h1M51 96h1M51 97h1M81 98h1M52 99h1M52 100h1M80 100h1M53 101h1M53 102h1M79 102h1M54 103h1M54 104h1M78 104h1M55 105h1M55 106h1M56 107h1M77 107h1M56 108h1M57 109h1M76 109h1M57 110h1M73 110h3M58 111h1M71 111h3M58 112h1M70 112h2M58 113h1M69 113h2M58 114h1M68 114h2M58 115h1M67 115h2M59 116h1M65 116h3M75 116h2M59 117h2M64 117h3M75 117h2M60 118h1M63 118h2M74 118h3M61 119h3M73 119h4M61 120h2M72 120h3M76 120h2M71 121h4M77 121h1M71 122h3M77 122h1M70 123h3M77 123h1M69 124h3M68 125h4M78 125h1M69 126h3M78 126h1M69 127h3M78 127h1M69 128h3M78 128h1M70 129h3M78 129h1M70 130h2M78 130h1M70 131h2M78 131h1M70 132h2M78 132h1M70 133h2M78 133h1M70 134h2M78 134h1M70 135h2M78 135h1M70 136h2M78 136h1M69 137h2M79 137h1M69 138h2M79 138h1M69 139h2M79 139h1M70 140h2M79 140h1M71 141h2M78 141h1M72 142h2M77 142h1M74 143h4M75 144h2"/>
<path stroke="#0040ff" d="M47 35h3M46 36h1M50 36h2M45 37h1M51 37h2M44 38h1M52 38h1M44 39h1M53 39h1M44 40h1M55 40h1M44 41h1M56 41h2M44 42h1M58 42h1M59 43h1M43 44h1M59 44h1M42 46h1M60 46h1M41 48h1M61 48h1M61 49h2M40 50h1M62 50h3M63 51h5M39 52h1M66 52h6M70 53h6M69 54h6M38 55h1M68 55h6M38 56h1M67 56h5M38 57h1M65 57h6M38 58h1M64 58h6M38 59h1M62 59h6M38 60h1M62 60h5M38 61h1M62 61h3M38 62h1M61 62h3M61 63h2M61 64h1M39 65h1M61 65h1M39 66h1M60 66h1M60 67h1M60 68h1M59 69h1M40 70h1M59 70h1M40 71h1M58 71h2M40 72h1M58 72h2M40 73h1M58 73h2M58 74h2M58 75h2M41 76h1M58 76h2M80 76h2M58 77h2M75 77h2M82 77h1M42 78h1M58 78h2M73 78h1M82 78h1M42 79h1M58 79h1M71 79h1M82 79h1M58 80h1M68 80h2M82 80h1M43 81h1M58 81h1M66 81h2M82 81h1M43 82h1M57 82h2M64 82h1M82 82h1M56 83h2M62 83h2M44 84h1M55 84h2M61 84h1M83 84h1M44 85h1M54 85h2M60 85h1M83 85h1M53 86h2M84 86h1M45 87h1M52 87h1M84 87h1M50 88h2M58 88h1M46 89h1M49 89h2M57 89h1M84 89h1M47 90h3M56 90h1M47 91h2M55 91h1M54 92h1M83 92h1M53 93h1M83 93h1M52 94h1M51 95h1M50 96h1M82 96h1M50 97h1M51 98h1M51 99h1M81 99h1M52 101h1M80 101h1M53 103h1M79 103h1M53 104h1M54 105h1M78 105h1M54 106h1M55 107h1M55 108h1M56 109h1M56 110h1M76 110h1M57 111h1M74 111h2M57 112h1M72 112h5M57 113h1M71 113h6M57 114h1M70 114h2M74 114h3M57 115h1M69 115h2M73 115h4M57 116h2M68 116h2M72 116h3M77 116h1M58 117h1M67 117h2M71 117h4M77 117h1M59 118h1M65 118h3M71 118h3M77 118h1M59 119h2M64 119h3M70 119h3M77 119h1M60 120h1M63 120h3M69 120h3M78 120h1M61 121h3M68 121h3M78 121h1M61 122h2M68 122h3M78 122h1M67 123h3M78 123h1M66 124h3M78 124h1M65 125h3M79 125h1M65 126h4M79 126h1M66 127h3M79 127h1M66 128h3M79 128h1M66 129h4M79 129h1M67 130h3M79 130h1M67 131h3M79 131h1M67 132h3M79 132h1M68 133h2M79 133h1M68 134h2M79 134h1M68 135h2M79 135h1M68 136h2M79 136h2M67 137h2M80 137h1M67 138h2M80 138h1M67 139h2M80 139h1M68 140h2M80 140h1M69 141h2M79 141h1M70 142h2M78 142h2M72 143h2M78 143h1M73 144h2M77 144h1M74 145h3M76 146h1"/>
<path stroke="#0050ff" d="M47 34h3M46 35h1M50 35h2M45 36h1M52 36h1M44 37h1M53 37h1M43 38h1M53 38h2M43 39h1M54 39h2M43 40h1M56 40h2M43 41h1M58 41h1M43 42h1M59 42h1M43 43h1M60 44h1M42 45h1M60 45h1M61 46h1M41 47h1M61 47h1M62 48h3M40 49h1M63 49h4M65 50h6M39 51h1M68 51h6M72 52h5M38 53h1M76 53h3M38 54h1M75 54h2M74 55h1M72 56h2M71 57h2M70 58h2M68 59h3M67 60h3M65 61h4M64 62h4M38 63h1M63 63h4M38 64h1M62 64h4M38 65h1M62 65h3M61 66h3M39 67h1M61 67h2M39 68h1M61 68h1M39 69h1M60 69h2M39 70h1M60 70h2M60 71h2M60 72h2M60 73h2M40 74h1M60 74h2M40 75h1M60 75h1M60 76h1M76 76h4M82 76h1M41 77h1M60 77h1M74 77h1M41 78h1M60 78h1M72 78h1M59 79h2M69 79h2M83 79h1M42 80h1M59 80h2M67 80h1M83 80h1M42 81h1M59 81h2M65 81h1M83 81h1M59 82h2M63 82h1M83 82h1M43 83h1M58 83h2M61 83h1M83 83h1M43 84h1M57 84h2M84 84h1M43 85h1M56 85h1M84 85h1M44 86h1M55 86h1M59 86h1M44 87h1M53 87h2M58 87h1M85 87h1M45 88h1M52 88h2M57 88h1M45 89h1M51 89h2M56 89h1M46 90h1M50 90h2M55 90h1M84 90h1M46 91h1M49 91h1M54 91h1M84 91h1M47 92h2M53 92h1M52 93h1M51 94h1M83 94h1M83 95h1M82 97h1M50 98h1M50 99h1M51 100h1M81 100h1M51 101h1M52 102h1M80 102h1M52 103h1M79 104h1M53 105h1M53 106h1M78 106h1M54 107h1M54 108h1M77 108h1M55 109h1M56 111h1M76 111h1M56 112h1M77 112h1M56 113h1M77 113h1M56 114h1M72 114h2M77 114h1M56 115h1M71 115h2M77 115h1M56 116h1M70 116h2M78 116h1M57 117h1M69 117h2M78 117h1M57 118h2M68 118h3M78 118h1M58 119h1M67 119h3M78 119h1M59 120h1M66 120h3M79 120h1M59 121h2M64 121h4M79 121h1M60 122h1M63 122h5M79 122h1M61 123h6M79 123h1M61 124h5M79 124h1M62 125h3M80 125h1M62 126h3M80 126h1M63 127h3M80 127h1M63 128h3M80 128h1M63 129h3M80 129h1M64 130h3M80 130h1M64 131h3M80 131h1M64 132h3M80 132h1M65 133h3M80 133h1M65 134h3M80 134h1M65 135h3M80 135h1M66 136h2M81 136h1M65 137h2M81 137h1M65 138h2M81 138h1M65 139h2M81 139h2M66 140h2M81 140h1M67 141h2M80 141h2M68 142h2M80 142h1M70 143h2M79 143h1M71 144h2M78 144h1M72 145h2M77 145h1M74 146h2M77 146h1M75 147h2"/>
<path stroke="#0060ff" d="M47 33h2M46 34h1M50 34h3M45 35h1M52 35h2M44 36h1M53 36h1M54 37h1M55 38h1M42 39h1M56 39h1M42 40h1M58 40h1M42 41h1M59 41h1M42 42h1M60 42h1M42 43h1M60 43h1M42 44h1M61 44h1M61 45h1M41 46h1M62 46h2M62 47h4M40 48h1M65 48h4M67 49h6M39 50h1M71 50h5M74 51h3M38 52h1M77 52h2M79 53h3M77 54h3M75 55h2M74 56h1M73 57h1M72 58h1M71 59h1M70 60h1M69 61h1M68 62h1M67 63h1M66 64h1M65 65h1M38 66h1M64 66h1M38 67h1M63 67h1M62 68h1M62 69h1M62 70h1M39 71h1M62 71h1M39 72h1M62 72h1M39 73h1M62 73h1M39 74h1M62 74h1M61 75h2M78 75h6M40 76h1M61 76h2M75 76h1M83 76h1M40 77h1M61 77h2M72 77h2M83 77h1M61 78h2M70 78h2M83 78h1M41 79h1M61 79h2M68 79h1M41 80h1M61 80h2M66 80h1M61 81h4M42 82h1M61 82h2M84 82h1M42 83h1M60 83h1M84 83h1M59 84h2M57 85h3M85 85h1M43 86h1M56 86h3M85 86h1M43 87h1M55 87h3M44 88h1M54 88h3M85 88h1M53 89h3M85 89h1M45 90h1M52 90h1M54 90h1M50 91h2M53 91h1M46 92h1M49 92h2M52 92h1M84 92h1M47 93h3M47 94h2M50 95h1M49 96h1M83 96h1M49 97h1M49 98h1M82 98h1M50 100h1M50 101h1M51 102h1M51 103h1M80 103h1M52 104h1M52 105h1M79 105h1M53 107h1M78 107h1M54 109h1M77 109h1M55 110h1M77 110h1M55 111h1M77 111h1M55 112h1M78 112h1M55 113h1M78 113h1M55 114h1M78 114h1M55 115h1M78 115h1M79 116h1M56 117h1M79 117h1M56 118h1M79 118h1M57 119h1M79 119h1M57 120h2M80 120h1M58 121h1M80 121h1M59 122h1M80 122h1M59 123h2M80 123h1M60 124h1M80 124h1M61 125h1M81 125h1M104 125h2M61 126h1M81 126h1M104 126h1M61 127h2M81 127h1M61 128h2M81 128h1M61 129h2M81 129h1M61 130h3M81 130h1M62 131h2M81 131h1M62 132h2M81 132h1M62 133h3M81 133h1M62 134h3M81 134h1M62 135h3M81 135h2M62 136h4M82 136h1M63 137h2M82 137h1M63 138h2M82 138h2M63 139h2M83 139h1M64 140h2M82 140h2M65 141h2M82 141h1M66 142h2M81 142h1M68 143h2M80 143h1M69 144h2M79 144h1M70 145h2M78 145h2M72 146h2M78 146h1M73 147h2M77 147h1M74 148h3M76 149h1M49 181h7M62 181h4M47 182h20M118 182h3M45 183h24M116 183h5"/>
<path stroke="#0070ff" d="M47 32h2M46 33h1M49 33h4M45 34h1M53 34h1M44 35h1M54 35h1M54 36h2M43 37h1M55 37h2M42 38h1M56 38h2M41 39h1M57 39h2M41 40h1M59 40h1M41 41h1M60 41h1M41 42h1M41 43h1M61 43h1M41 44h1M62 44h2M41 45h1M62 45h4M64 46h4M40 47h1M66 47h5M69 48h6M39 49h1M73 49h4M76 50h2M38 51h1M77 51h3M79 52h3M37 53h1M82 53h3M37 54h1M80 54h3M37 55h1M77 55h3M37 56h1M75 56h2M37 57h1M74 57h1M37 58h1M73 58h1M37 59h1M72 59h1M37 60h1M71 60h1M37 61h1M70 61h1M37 62h1M69 62h1M37 63h1M68 63h1M37 64h1M67 64h1M37 65h1M66 65h1M65 66h1M64 67h1M38 68h1M63 68h1M38 69h1M63 69h1M38 70h1M63 70h1M63 71h1M63 72h1M63 73h1M63 74h1M81 74h4M39 75h1M63 75h1M75 75h3M84 75h1M39 76h1M63 76h1M73 76h2M84 76h1M63 77h1M71 77h1M84 77h1M40 78h1M63 78h1M69 78h1M84 78h1M40 79h1M63 79h1M66 79h2M84 79h1M63 80h3M84 80h1M41 81h1M84 81h1M41 82h1M85 83h1M42 84h1M85 84h1M42 85h1M86 85h1M42 86h1M86 86h1M43 88h1M44 89h1M44 90h1M53 90h1M85 90h1M45 91h1M52 91h1M45 92h1M51 92h1M46 93h1M50 93h2M84 93h1M46 94h1M49 94h2M84 94h1M47 95h3M47 96h2M48 97h1M83 97h1M48 98h1M49 99h1M82 99h1M49 100h1M81 101h1M50 102h1M51 104h1M80 104h1M51 105h1M52 106h1M79 106h1M52 107h1M53 108h1M78 108h1M53 109h1M78 109h1M54 110h1M78 110h1M54 111h1M78 111h1M54 112h1M79 112h1M54 113h1M79 113h1M54 114h1M79 114h1M79 115h1M55 116h1M80 116h1M55 117h1M80 117h1M55 118h1M80 118h1M55 119h2M80 119h2M56 120h1M81 120h1M57 121h1M81 121h1M57 122h2M81 122h1M104 122h3M58 123h1M81 123h1M104 123h4M59 124h1M81 124h1M103 124h5M59 125h2M82 125h1M103 125h1M106 125h2M60 126h1M82 126h1M102 126h2M105 126h2M60 127h1M82 127h1M102 127h4M60 128h1M82 128h1M101 128h3M60 129h1M82 129h1M60 130h1M82 130h1M60 131h2M82 131h1M60 132h2M82 132h1M61 133h1M82 133h1M61 134h1M82 134h2M61 135h1M83 135h1M61 136h1M83 136h1M61 137h2M83 137h1M61 138h2M84 138h1M61 139h2M84 139h1M61 140h3M84 140h1M63 141h2M83 141h1M64 142h2M82 142h1M66 143h2M81 143h1M67 144h2M80 144h2M68 145h2M80 145h1M70 146h2M79 146h1M71 147h2M78 147h1M72 148h2M77 148h2M74 149h2M77 149h1M75 150h2M103 168h3M102 169h4M102 170h4M102 171h3M102 172h3M104 173h1M68 176h2M65 177h7M63 178h10M50 179h25M121 179h3M49 180h28M118 180h6M46 181h3M56 181h6M66 181h12M115 181h9M44 182h3M67 182h11M112 182h6M121 182h4M42 183h3M69 183h10M109 183h7M121 183h4"/>
<path stroke="#0080ff" d="M47 31h2M46 32h1M49 32h4M45 33h1M53 33h2M54 34h2M55 35h1M43 36h1M56 36h1M42 37h1M57 37h1M41 38h1M58 38h1M40 39h1M59 39h1M40 40h1M60 40h1M40 41h1M61 41h1M40 42h1M61 42h2M40 43h1M62 43h3M40 44h1M64 44h4M40 45h1M66 45h4M40 46h1M68 46h5M71 47h5M39 48h1M75 48h3M77 49h2M38 50h1M78 50h2M80 51h3M37 52h1M82 52h4M85 53h3M83 54h3M80 55h3M77 56h3M75 57h2M74 58h1M73 59h1M72 60h1M71 61h1M70 62h1M69 63h1M68 64h1M67 65h1M37 66h1M66 66h1M37 67h1M65 67h1M64 68h1M64 69h1M64 70h1M38 71h1M64 71h1M38 72h1M64 72h1M38 73h1M64 73h1M83 73h2M38 74h1M64 74h1M76 74h5M64 75h1M74 75h1M85 75h1M64 76h1M72 76h1M85 76h1M39 77h1M64 77h1M69 77h2M85 77h1M39 78h1M64 78h1M67 78h2M85 78h1M64 79h2M85 79h1M40 80h1M85 80h1M40 81h1M85 81h1M85 82h1M41 83h1M86 83h1M41 84h1M86 84h1M41 85h1M42 87h1M86 87h1M42 88h1M86 88h1M43 89h1M43 90h1M44 91h1M85 91h1M85 92h1M45 93h1M46 95h1M84 95h1M84 96h1M47 97h1M83 98h1M48 99h1M48 100h1M82 100h1M49 101h1M49 102h1M81 102h1M50 103h1M50 104h1M80 105h1M51 106h1M51 107h1M79 107h1M52 108h1M52 109h1M79 109h1M53 110h1M79 110h1M53 111h1M79 111h2M53 112h1M80 112h1M80 113h1M80 114h1M54 115h1M80 115h2M54 116h1M81 116h1M54 117h1M81 117h1M54 118h1M81 118h1M54 119h1M82 119h1M55 120h1M82 120h1M104 120h6M55 121h2M82 121h1M104 121h6M56 122h1M82 122h1M103 122h1M107 122h3M57 123h1M82 123h1M102 123h2M108 123h2M57 124h2M82 124h1M102 124h1M108 124h2M58 125h1M83 125h1M101 125h2M108 125h2M58 126h2M83 126h1M101 126h1M107 126h2M59 127h1M83 127h1M100 127h2M106 127h2M59 128h1M83 128h1M100 128h1M104 128h3M59 129h1M83 129h1M100 129h5M59 130h1M83 130h1M99 130h4M59 131h1M83 131h1M59 132h1M83 132h1M59 133h2M83 133h1M60 134h1M84 134h1M60 135h1M84 135h1M60 136h1M84 136h1M176 136h6M60 137h1M84 137h2M175 137h7M60 138h1M85 138h1M119 138h2M174 138h8M60 139h1M85 139h1M118 139h2M174 139h8M60 140h1M85 140h1M118 140h1M173 140h9M60 141h3M84 141h1M173 141h9M62 142h2M83 142h1M173 142h9M64 143h2M82 143h2M173 143h9M65 144h2M82 144h1M173 144h9M66 145h2M81 145h1M173 145h9M68 146h2M80 146h1M173 146h9M69 147h2M79 147h1M174 147h8M70 148h2M79 148h1M174 148h8M72 149h2M78 149h1M174 149h8M73 150h2M77 150h1M174 150h8M74 151h3M174 151h8M76 152h1M174 152h8M174 153h8M174 154h8M174 155h8M174 156h8M173 157h9M174 158h8M175 159h7M175 160h7M176 161h6M105 166h1M102 167h5M99 168h4M106 168h2M98 169h4M106 169h2M97 170h5M106 170h2M73 171h1M97 171h5M105 171h3M71 172h5M97 172h5M105 172h2M68 173h10M97 173h7M105 173h2M66 174h14M96 174h11M63 175h19M96 175h11M54 176h14M70 176h13M96 176h11M125 176h1M52 177h13M72 177h11M96 177h10M122 177h5M50 178h13M73 178h11M96 178h10M119 178h8M48 179h2M75 179h9M98 179h8M115 179h6M124 179h3M45 180h4M77 180h7M99 180h7M112 180h6M124 180h4M43 181h3M78 181h7M100 181h6M109 181h6M124 181h4M40 182h4M78 182h7M101 182h4M106 182h6M125 182h3M39 183h3M79 183h6M102 183h7M125 183h4"/>
<path stroke="#008fff" d="M47 30h2M46 31h1M49 31h4M53 32h2M55 33h1M44 34h1M56 34h1M43 35h1M56 35h2M42 36h1M57 36h2M41 37h1M58 37h2M40 38h1M59 38h2M39 39h1M60 39h2M39 40h1M61 40h2M39 41h1M62 41h3M39 42h1M63 42h4M39 43h1M65 43h4M39 44h1M68 44h4M39 45h1M70 45h6M39 46h1M73 46h4M39 47h1M76 47h2M78 48h1M38 49h1M79 49h1M80 50h3M37 51h1M83 51h3M86 52h3M36 53h1M88 53h3M36 54h1M86 54h5M36 55h1M83 55h3M36 56h1M80 56h3M36 57h1M77 57h3M36 58h1M75 58h2M36 59h1M74 59h1M36 60h1M73 60h1M36 61h1M72 61h1M36 62h1M71 62h1M36 63h1M70 63h1M36 64h1M69 64h1M36 65h1M68 65h1M67 66h1M66 67h1M37 68h1M65 68h1M37 69h1M65 69h1M37 70h1M65 70h1M37 71h1M65 71h1M65 72h1M65 73h1M79 73h4M85 73h1M65 74h1M75 74h1M85 74h1M38 75h1M65 75h1M72 75h2M38 76h1M65 76h1M70 76h2M38 77h1M65 77h1M68 77h1M86 77h1M65 78h2M86 78h1M39 79h1M86 79h1M39 80h1M86 80h1M86 81h1M40 82h1M86 82h1M40 83h1M87 84h1M87 85h1M41 86h1M87 86h1M41 87h1M42 89h1M86 89h1M86 90h1M43 91h1M44 92h1M44 93h1M85 93h1M45 94h1M45 95h1M46 96h1M46 97h1M84 97h1M47 98h1M47 99h1M83 99h1M48 101h1M82 101h1M48 102h1M49 103h1M81 103h1M49 104h1M50 105h1M50 106h1M51 108h1M79 108h2M80 109h1M176 109h6M52 110h1M80 110h1M175 110h7M52 111h1M81 111h1M174 111h8M81 112h1M174 112h8M53 113h1M81 113h1M175 113h7M53 114h1M81 114h1M176 114h6M53 115h1M82 115h1M53 116h1M82 116h1M53 117h1M82 117h1M105 117h1M53 118h1M82 118h1M104 118h8M53 119h1M83 119h1M103 119h9M54 120h1M83 120h1M103 120h1M110 120h2M54 121h1M83 121h1M102 121h2M110 121h2M55 122h1M83 122h1M101 122h2M110 122h2M55 123h2M83 123h1M101 123h1M110 123h2M56 124h1M83 124h1M100 124h2M110 124h2M57 125h1M84 125h1M100 125h1M110 125h2M57 126h1M84 126h1M99 126h2M109 126h2M57 127h2M84 127h1M99 127h1M108 127h2M58 128h1M84 128h1M98 128h2M107 128h2M58 129h1M84 129h1M98 129h2M105 129h2M58 130h1M84 130h1M98 130h1M103 130h3M58 131h1M84 131h1M97 131h8M58 132h1M84 132h1M97 132h5M176 132h6M58 133h1M84 133h2M97 133h1M175 133h7M58 134h2M85 134h1M174 134h8M59 135h1M85 135h1M119 135h5M174 135h8M59 136h1M85 136h2M118 136h5M173 136h3M59 137h1M86 137h1M118 137h5M172 137h3M59 138h1M86 138h1M117 138h2M121 138h2M172 138h2M59 139h1M86 139h1M116 139h2M120 139h2M171 139h3M59 140h1M86 140h1M116 140h2M119 140h2M170 140h3M59 141h1M85 141h1M116 141h4M170 141h3M59 142h3M84 142h2M116 142h3M170 142h3M61 143h3M84 143h1M170 143h3M63 144h2M83 144h1M170 144h3M64 145h2M82 145h1M170 145h3M66 146h2M81 146h1M170 146h3M67 147h2M80 147h2M170 147h4M68 148h2M80 148h1M170 148h4M70 149h2M79 149h1M170 149h4M71 150h2M78 150h1M90 150h1M170 150h4M72 151h2M77 151h2M86 151h6M170 151h4M74 152h2M77 152h1M83 152h10M171 152h3M75 153h2M79 153h14M171 153h3M76 154h16M171 154h3M76 155h16M170 155h4M76 156h16M170 156h4M75 157h17M170 157h3M75 158h17M169 158h5M75 159h16M169 159h6M75 160h16M169 160h6M74 161h17M168 161h8M74 162h17M168 162h14M74 163h17M168 163h14M74 164h16M169 164h13M73 165h15M103 165h6M169 165h13M73 166h14M100 166h5M106 166h3M170 166h12M73 167h12M97 167h5M107 167h3M171 167h11M73 168h11M94 168h5M108 168h2M171 168h11M71 169h14M93 169h5M108 169h2M171 169h11M68 170h18M93 170h4M108 170h2M171 170h11M66 171h7M74 171h14M92 171h5M108 171h2M170 171h12M64 172h7M76 172h12M92 172h5M107 172h3M170 172h12M57 173h11M78 173h11M92 173h5M107 173h2M128 173h1M169 173h13M55 174h11M80 174h9M92 174h4M107 174h2M125 174h5M169 174h13M53 175h10M82 175h7M91 175h5M107 175h2M122 175h8M169 175h13M51 176h3M83 176h6M91 176h5M107 176h2M119 176h6M126 176h4M168 176h14M49 177h3M83 177h7M91 177h5M106 177h3M116 177h6M127 177h4M169 177h13M47 178h3M84 178h6M91 178h5M106 178h2M112 178h7M127 178h4M172 178h10M45 179h3M84 179h6M91 179h7M106 179h2M109 179h6M127 179h4M174 179h8M42 180h3M84 180h15M106 180h6M128 180h4M40 181h3M85 181h15M106 181h3M128 181h4M37 182h3M85 182h16M105 182h1M128 182h4M35 183h4M85 183h17M129 183h3"/>
<path stroke="#009fff" d="M47 29h2M46 30h1M49 30h4M53 31h3M45 32h1M55 32h2M44 33h1M56 33h2M43 34h1M57 34h1M42 35h1M58 35h1M41 36h1M59 36h1M40 37h1M60 37h1M39 38h1M61 38h2M38 39h1M62 39h3M38 40h1M63 40h4M38 41h1M65 41h4M38 42h1M67 42h4M38 43h1M69 43h5M38 44h1M72 44h5M76 45h2M77 46h2M78 47h2M79 48h2M80 49h3M83 50h3M86 51h3M89 52h3M91 53h1M91 54h1M86 55h5M83 56h4M89 56h2M80 57h3M77 58h3M75 59h2M74 60h2M73 61h1M72 62h1M71 63h1M70 64h1M69 65h1M36 66h1M68 66h1M36 67h1M67 67h1M36 68h1M66 68h1M66 69h1M66 70h1M66 71h1M37 72h1M66 72h1M81 72h6M37 73h1M66 73h1M76 73h3M86 73h1M37 74h1M66 74h1M73 74h2M86 74h1M37 75h1M66 75h1M71 75h1M86 75h1M66 76h1M69 76h1M86 76h1M66 77h2M38 78h1M38 79h1M87 80h1M39 81h1M87 81h1M39 82h1M87 82h1M87 83h1M40 84h1M88 84h1M40 85h1M40 86h1M87 87h1M41 88h1M41 89h1M42 90h1M42 91h1M86 91h1M43 92h1M43 93h1M44 94h1M85 94h1M85 95h1M45 96h1M45 97h1M46 98h1M84 98h1M46 99h1M47 100h1M83 100h1M47 101h1M82 102h1M48 103h1M48 104h1M81 104h1M176 104h6M49 105h1M175 105h7M49 106h1M80 106h1M174 106h8M50 107h1M80 107h1M173 107h9M50 108h1M81 108h1M172 108h10M51 109h1M81 109h1M172 109h4M51 110h1M81 110h1M171 110h4M82 111h1M170 111h4M52 112h1M82 112h1M170 112h4M52 113h1M82 113h1M170 113h5M52 114h1M82 114h1M170 114h6M52 115h1M83 115h1M104 115h5M171 115h11M52 116h1M83 116h1M104 116h10M171 116h11M52 117h1M83 117h1M103 117h2M106 117h8M172 117h10M52 118h1M83 118h1M102 118h2M112 118h2M173 118h9M52 119h1M84 119h1M102 119h1M112 119h2M174 119h8M52 120h2M84 120h1M101 120h2M112 120h2M175 120h7M53 121h1M84 121h1M101 121h1M112 121h2M176 121h6M53 122h2M84 122h1M100 122h1M112 122h2M54 123h1M84 123h1M99 123h2M112 123h2M55 124h1M84 124h1M99 124h1M112 124h3M55 125h2M85 125h1M98 125h2M112 125h3M56 126h1M85 126h1M98 126h1M111 126h3M56 127h1M85 127h1M97 127h2M110 127h2M56 128h2M85 128h1M97 128h1M109 128h2M176 128h6M57 129h1M85 129h1M97 129h1M107 129h3M175 129h7M57 130h1M85 130h1M96 130h2M106 130h2M174 130h8M57 131h1M85 131h1M96 131h1M105 131h2M174 131h8M57 132h1M85 132h2M96 132h1M102 132h4M119 132h8M173 132h3M57 133h1M86 133h1M95 133h2M98 133h6M118 133h8M172 133h3M57 134h1M86 134h1M95 134h6M117 134h9M171 134h3M57 135h2M86 135h1M94 135h3M117 135h2M124 135h2M171 135h3M58 136h1M87 136h1M116 136h2M123 136h2M170 136h3M58 137h1M87 137h1M115 137h3M123 137h2M169 137h3M58 138h1M87 138h1M115 138h2M123 138h1M169 138h3M58 139h1M87 139h2M114 139h2M122 139h2M168 139h3M58 140h1M87 140h1M114 140h2M121 140h2M168 140h2M58 141h1M86 141h2M114 141h2M120 141h2M167 141h3M58 142h1M86 142h1M114 142h2M119 142h2M167 142h3M58 143h3M85 143h1M114 143h6M167 143h3M60 144h3M84 144h1M167 144h3M62 145h2M83 145h1M167 145h3M64 146h2M82 146h2M89 146h2M167 146h3M65 147h2M82 147h1M86 147h6M167 147h3M66 148h2M81 148h1M83 148h11M167 148h3M68 149h2M80 149h15M167 149h3M69 150h2M79 150h11M91 150h4M167 150h3M70 151h2M79 151h7M92 151h3M167 151h3M72 152h2M78 152h5M93 152h2M167 152h4M73 153h2M77 153h2M93 153h1M167 153h4M74 154h2M92 154h2M167 154h4M73 155h3M92 155h2M167 155h3M73 156h3M92 156h2M166 156h4M72 157h3M92 157h2M166 157h4M71 158h4M92 158h2M166 158h3M70 159h5M91 159h2M165 159h4M69 160h6M91 160h2M165 160h4M69 161h5M91 161h2M165 161h3M68 162h6M91 162h2M164 162h4M67 163h7M91 163h2M104 163h6M164 163h4M67 164h7M90 164h2M101 164h9M163 164h6M66 165h7M88 165h4M98 165h5M109 165h2M163 165h6M66 166h7M87 166h5M95 166h5M109 166h2M163 166h7M66 167h7M85 167h12M110 167h2M162 167h9M66 168h7M84 168h10M110 168h2M162 168h9M64 169h7M85 169h8M110 169h2M162 169h9M60 170h8M86 170h7M110 170h2M131 170h1M161 170h10M58 171h8M88 171h4M110 171h2M128 171h4M160 171h10M56 172h8M88 172h4M110 172h2M125 172h8M160 172h10M54 173h3M89 173h3M109 173h3M122 173h6M129 173h4M159 173h10M52 174h3M89 174h3M109 174h2M119 174h6M130 174h3M159 174h10M50 175h3M89 175h2M109 175h2M116 175h6M130 175h12M158 175h11M48 176h3M89 176h2M109 176h2M113 176h6M130 176h12M158 176h10M46 177h3M90 177h1M109 177h7M131 177h11M157 177h12M44 178h3M90 178h1M108 178h4M131 178h11M157 178h15M41 179h4M90 179h1M108 179h1M131 179h11M156 179h18M39 180h3M132 180h10M155 180h27M36 181h4M132 181h10M155 181h27M34 182h3M132 182h10M154 182h28M32 183h3M132 183h10M154 183h28"/>
<path stroke="#00afff" d="M47 28h2M49 29h3M53 30h3M45 31h1M56 31h1M44 32h1M57 32h1M43 33h1M58 33h1M42 34h1M58 34h2M41 35h1M59 35h2M40 36h1M60 36h2M64 36h1M39 37h1M61 37h5M38 38h1M63 38h4M37 39h1M65 39h4M37 40h1M67 40h4M37 41h1M69 41h4M71 42h5M74 43h3M77 44h1M38 45h1M78 45h1M38 46h1M79 46h1M38 47h1M80 47h2M38 48h1M81 48h3M83 49h3M37 50h1M86 50h3M93 50h1M89 51h5M36 52h1M92 52h1M92 53h1M91 55h1M35 56h1M87 56h2M91 56h1M35 57h1M83 57h8M35 58h1M80 58h4M89 58h2M35 59h1M77 59h3M35 60h1M76 60h1M35 61h1M74 61h2M35 62h1M73 62h1M35 63h1M72 63h1M35 64h1M71 64h1M35 65h1M70 65h1M35 66h1M69 66h1M68 67h1M67 68h2M36 69h1M67 69h1M36 70h1M67 70h1M36 71h1M67 71h1M84 71h4M36 72h1M67 72h1M77 72h4M87 72h1M67 73h1M74 73h2M87 73h1M67 74h1M72 74h1M87 74h1M67 75h1M70 75h1M87 75h1M37 76h1M67 76h2M87 76h1M37 77h1M87 77h1M37 78h1M87 78h1M87 79h1M38 80h1M38 81h1M88 82h1M39 83h1M88 83h1M39 84h1M39 85h1M88 85h1M40 87h1M40 88h1M87 88h1M87 89h1M41 90h1M42 92h1M86 92h1M86 93h1M43 94h1M44 95h1M44 96h1M85 96h1M45 98h1M45 99h1M176 99h6M46 100h1M175 100h7M46 101h1M83 101h1M174 101h8M47 102h1M173 102h9M47 103h1M82 103h1M173 103h9M172 104h4M48 105h1M81 105h1M171 105h4M81 106h1M170 106h4M49 107h1M81 107h1M169 107h4M49 108h1M82 108h1M168 108h4M50 109h1M82 109h1M167 109h5M50 110h1M82 110h1M167 110h4M51 111h1M83 111h1M166 111h4M51 112h1M83 112h1M166 112h4M51 113h1M83 113h1M104 113h7M166 113h4M51 114h1M83 114h1M103 114h13M166 114h4M51 115h1M84 115h1M103 115h1M109 115h7M167 115h4M51 116h1M84 116h1M102 116h2M114 116h2M167 116h4M51 117h1M84 117h1M102 117h1M114 117h2M167 117h5M51 118h1M84 118h1M101 118h1M114 118h2M167 118h6M51 119h1M85 119h1M100 119h2M114 119h2M167 119h7M85 120h1M100 120h1M114 120h2M167 120h8M52 121h1M85 121h1M99 121h2M114 121h3M168 121h8M52 122h1M85 122h1M98 122h2M114 122h3M169 122h13M53 123h1M85 123h1M98 123h1M114 123h3M170 123h12M53 124h2M85 124h1M97 124h2M115 124h2M171 124h11M54 125h1M86 125h1M97 125h1M115 125h2M172 125h10M54 126h2M86 126h1M96 126h2M114 126h2M172 126h10M55 127h1M86 127h1M96 127h1M112 127h2M172 127h10M55 128h1M86 128h1M95 128h2M111 128h2M172 128h4M55 129h2M86 129h1M95 129h2M110 129h2M119 129h11M172 129h3M55 130h2M86 130h1M95 130h1M108 130h3M118 130h12M171 130h3M56 131h1M86 131h1M94 131h2M107 131h2M117 131h12M171 131h3M56 132h1M87 132h1M94 132h2M106 132h2M117 132h2M127 132h2M170 132h3M56 133h1M87 133h1M94 133h1M104 133h3M116 133h2M126 133h2M169 133h3M56 134h1M87 134h1M93 134h2M101 134h4M115 134h2M126 134h2M169 134h2M56 135h1M87 135h2M93 135h1M97 135h6M114 135h3M126 135h2M168 135h3M56 136h2M88 136h1M93 136h7M114 136h2M125 136h2M167 136h3M57 137h1M88 137h1M92 137h4M113 137h2M125 137h2M166 137h3M57 138h1M88 138h1M92 138h1M112 138h3M124 138h2M166 138h3M57 139h1M89 139h1M112 139h2M124 139h2M165 139h3M57 140h1M88 140h2M111 140h3M123 140h2M165 140h3M57 141h1M88 141h1M112 141h2M122 141h2M165 141h2M57 142h1M87 142h1M89 142h2M112 142h2M121 142h2M164 142h3M57 143h1M86 143h6M112 143h2M120 143h2M164 143h3M57 144h3M85 144h9M112 144h9M164 144h3M59 145h3M84 145h11M113 145h7M164 145h3M61 146h3M84 146h5M91 146h6M164 146h3M63 147h2M83 147h3M92 147h6M164 147h3M64 148h2M82 148h1M94 148h3M164 148h3M66 149h2M95 149h2M164 149h3M67 150h2M95 150h2M164 150h3M68 151h2M95 151h2M164 151h3M70 152h2M95 152h2M164 152h3M71 153h2M94 153h2M164 153h3M72 154h2M94 154h2M164 154h3M71 155h2M94 155h2M163 155h4M71 156h2M94 156h2M163 156h3M70 157h2M94 157h2M163 157h3M69 158h2M94 158h1M162 158h4M68 159h2M93 159h2M161 159h4M67 160h2M93 160h2M158 160h7M67 161h2M93 161h2M155 161h10M66 162h2M93 162h2M102 162h10M152 162h12M65 163h2M93 163h1M99 163h5M110 163h2M149 163h15M64 164h3M92 164h2M96 164h5M110 164h3M137 164h26M64 165h2M92 165h6M111 165h2M135 165h28M63 166h3M92 166h3M111 166h3M133 166h30M62 167h4M112 167h2M132 167h30M61 168h5M112 168h3M131 168h31M59 169h5M112 169h3M128 169h34M57 170h3M112 170h2M125 170h6M132 170h29M56 171h2M112 171h2M122 171h6M132 171h28M54 172h2M112 172h2M119 172h6M133 172h27M52 173h2M112 173h2M116 173h6M133 173h26M50 174h2M111 174h8M133 174h26M48 175h2M111 175h5M142 175h16M45 176h3M111 176h2M142 176h16M43 177h3M142 177h15M40 178h4M142 178h15M38 179h3M142 179h14M35 180h4M142 180h13M33 181h3M142 181h13M31 182h3M142 182h12M30 183h2M142 183h12"/>
<path stroke="#00bfff" d="M64 0h13M63 1h14M62 2h15M62 3h15M61 4h16M61 5h16M61 6h16M60 7h16M60 8h16M59 9h17M59 10h17M59 11h3M47 27h2M49 28h3M46 29h1M52 29h4M45 30h1M56 30h2M44 31h1M57 31h2M43 32h1M58 32h1M42 33h1M59 33h1M41 34h1M60 34h1M65 34h2M40 35h1M61 35h7M39 36h1M62 36h2M65 36h4M38 37h1M66 37h4M37 38h1M67 38h4M69 39h4M71 40h4M73 41h4M37 42h1M76 42h2M37 43h1M77 43h2M37 44h1M78 44h2M37 45h1M79 45h2M37 46h1M80 46h2M37 47h1M82 47h2M37 48h1M84 48h3M37 49h1M86 49h4M92 49h3M89 50h4M94 50h1M36 51h1M93 52h1M35 53h1M93 53h1M35 54h1M92 54h1M35 55h1M92 55h1M92 56h1M91 57h1M84 58h5M91 58h1M80 59h4M86 59h5M77 60h4M89 60h2M76 61h1M74 62h2M73 63h2M72 64h1M71 65h1M70 66h1M35 67h1M69 67h1M35 68h1M69 68h1M68 69h2M68 70h2M87 70h1M68 71h2M79 71h5M68 72h1M75 72h2M36 73h1M68 73h1M73 73h1M88 73h1M36 74h1M68 74h1M70 74h2M88 74h1M36 75h1M68 75h2M88 75h1M36 76h1M88 76h1M88 77h1M88 78h1M37 79h1M88 79h1M37 80h1M88 80h1M88 81h1M38 82h1M176 82h6M38 83h1M89 83h1M176 83h6M175 84h7M175 85h7M39 86h1M88 86h1M174 86h8M39 87h1M88 87h1M174 87h8M173 88h9M40 89h1M173 89h9M40 90h1M87 90h1M172 90h10M41 91h1M87 91h1M172 91h10M41 92h1M171 92h11M42 93h1M171 93h11M42 94h1M86 94h1M170 94h12M43 95h1M170 95h12M43 96h1M169 96h13M44 97h1M85 97h1M169 97h13M44 98h1M168 98h14M44 99h1M84 99h1M168 99h8M45 100h1M167 100h8M45 101h1M167 101h7M46 102h1M83 102h1M166 102h7M46 103h1M166 103h7M47 104h1M82 104h1M165 104h7M47 105h1M82 105h1M165 105h6M48 106h1M82 106h1M164 106h6M48 107h1M82 107h1M164 107h5M83 108h1M163 108h5M49 109h1M83 109h1M163 109h4M49 110h1M83 110h1M104 110h3M162 110h5M50 111h1M84 111h1M103 111h10M162 111h4M50 112h1M84 112h1M103 112h15M162 112h4M50 113h1M84 113h1M103 113h1M111 113h7M162 113h4M50 114h1M84 114h2M102 114h1M116 114h2M162 114h4M50 115h1M85 115h1M101 115h2M116 115h2M162 115h5M50 116h1M85 116h1M101 116h1M116 116h2M163 116h4M50 117h1M85 117h1M100 117h2M116 117h2M163 117h4M50 118h1M85 118h1M99 118h2M116 118h3M163 118h4M86 119h1M99 119h1M116 119h3M163 119h4M51 120h1M86 120h1M98 120h2M116 120h3M163 120h4M51 121h1M86 121h1M98 121h1M117 121h2M163 121h5M51 122h1M86 122h1M97 122h1M117 122h2M163 122h6M52 123h1M86 123h1M96 123h2M117 123h2M164 123h6M52 124h1M86 124h1M96 124h1M117 124h2M164 124h7M53 125h1M87 125h1M95 125h2M117 125h2M165 125h7M53 126h1M87 126h1M95 126h1M116 126h17M165 126h7M53 127h2M87 127h1M94 127h2M114 127h3M118 127h15M165 127h7M54 128h1M87 128h1M94 128h1M113 128h2M117 128h15M165 128h7M54 129h1M87 129h1M94 129h1M112 129h2M116 129h3M130 129h2M164 129h8M54 130h1M87 130h1M93 130h2M111 130h2M116 130h2M130 130h1M164 130h7M54 131h2M87 131h2M93 131h1M109 131h2M115 131h2M129 131h2M164 131h7M55 132h1M88 132h1M93 132h1M108 132h2M114 132h3M129 132h2M164 132h6M55 133h1M88 133h1M92 133h2M107 133h2M114 133h2M128 133h2M164 133h5M55 134h1M88 134h1M92 134h1M105 134h3M113 134h2M128 134h2M163 134h6M55 135h1M89 135h1M91 135h2M103 135h3M112 135h2M128 135h1M163 135h5M55 136h1M89 136h1M91 136h2M100 136h5M112 136h2M127 136h2M163 136h4M55 137h2M89 137h1M91 137h1M96 137h6M111 137h2M127 137h2M163 137h3M55 138h2M89 138h3M93 138h6M110 138h2M126 138h2M162 138h4M56 139h1M90 139h5M110 139h2M126 139h2M162 139h3M56 140h1M90 140h4M109 140h2M125 140h2M161 140h4M56 141h1M89 141h6M110 141h2M124 141h2M160 141h5M56 142h1M88 142h1M91 142h6M110 142h2M123 142h2M159 142h5M56 143h1M92 143h6M110 143h2M122 143h2M158 143h6M56 144h1M94 144h6M110 144h2M121 144h2M157 144h7M56 145h3M95 145h5M110 145h3M120 145h1M156 145h8M58 146h3M97 146h3M111 146h9M155 146h9M60 147h3M98 147h1M111 147h8M154 147h10M62 148h2M97 148h2M153 148h11M63 149h3M97 149h2M153 149h11M65 150h2M97 150h2M152 150h12M66 151h2M97 151h2M151 151h13M68 152h2M97 152h2M150 152h14M69 153h2M96 153h2M149 153h15M70 154h2M96 154h2M147 154h17M69 155h2M96 155h2M145 155h18M69 156h2M96 156h2M144 156h19M68 157h2M96 157h2M142 157h21M67 158h2M95 158h2M140 158h22M66 159h2M95 159h2M138 159h23M65 160h2M95 160h2M103 160h10M136 160h22M65 161h2M95 161h2M100 161h14M134 161h21M64 162h2M95 162h7M112 162h2M132 162h20M63 163h2M94 163h5M112 163h2M131 163h18M62 164h2M94 164h2M113 164h2M130 164h7M61 165h3M113 165h2M129 165h6M60 166h3M114 166h2M128 166h5M59 167h3M114 167h2M126 167h6M58 168h3M115 168h2M125 168h6M57 169h2M115 169h2M123 169h5M55 170h2M114 170h3M120 170h5M53 171h3M114 171h2M117 171h5M51 172h3M114 172h5M49 173h3M114 173h2M47 174h3M44 175h4M42 176h3M40 177h3M37 178h3M33 179h5M32 180h3M30 181h3M29 182h2M28 183h2"/>
<path stroke="#00dfff" d="M38 0h4M78 0h1M38 1h4M56 1h1M78 1h1M38 2h4M54 2h2M78 2h1M38 3h6M52 3h4M78 3h1M38 4h8M50 4h6M78 4h1M176 4h6M38 5h17M78 5h1M175 5h7M40 6h15M78 6h1M175 6h7M42 7h13M78 7h1M174 7h2M44 8h10M78 8h1M173 8h2M46 9h8M77 9h1M172 9h3M48 10h5M77 10h1M171 10h3M48 11h6M77 11h1M171 11h2M48 12h6M171 12h2M48 13h6M63 13h14M170 13h3M48 14h6M60 14h17M170 14h4M49 15h5M59 15h5M73 15h4M170 15h12M49 16h6M57 16h3M75 16h1M169 16h13M49 17h10M169 17h13M49 18h8M171 18h11M49 19h6M174 19h8M50 20h3M50 21h2M47 26h5M46 27h1M52 27h4M45 28h1M56 28h3M44 29h1M58 29h2M43 30h1M59 30h2M69 30h3M42 31h1M60 31h1M65 31h8M41 32h1M61 32h6M70 32h4M40 33h1M62 33h1M71 33h4M39 34h1M71 34h5M176 34h6M38 35h1M72 35h4M176 35h6M37 36h1M73 36h3M175 36h7M36 37h1M74 37h3M174 37h8M35 38h1M75 38h2M174 38h8M35 39h1M76 39h2M173 39h9M35 40h1M78 40h1M174 40h8M35 41h1M79 41h1M175 41h7M35 42h1M80 42h1M175 42h7M35 43h1M81 43h1M176 43h6M35 44h1M82 44h1M35 45h1M83 45h2M35 46h1M84 46h3M96 46h2M35 47h1M87 47h3M91 47h7M35 48h1M90 48h1M96 48h1M35 49h1M96 49h1M35 50h1M96 50h1M35 51h1M95 51h1M95 52h1M34 53h1M95 53h1M34 54h1M94 54h1M34 55h1M94 55h1M34 56h1M93 56h1M34 57h1M93 57h1M34 58h1M93 58h1M34 59h1M92 59h1M34 60h1M92 60h1M34 61h1M81 61h5M91 61h1M34 62h1M78 62h3M83 62h5M91 62h1M34 63h1M76 63h2M85 63h5M34 64h1M75 64h1M88 64h3M34 65h1M73 65h2M90 65h1M72 66h2M34 67h1M71 67h1M34 68h1M71 68h1M176 68h6M34 69h1M71 69h1M85 69h5M175 69h7M71 70h1M77 70h5M89 70h1M175 70h7M71 71h1M74 71h2M89 71h1M174 71h8M71 72h2M89 72h1M173 72h9M35 73h1M89 73h1M173 73h9M35 74h1M89 74h1M172 74h10M35 75h1M171 75h5M35 76h1M171 76h4M35 77h1M170 77h5M90 78h1M169 78h5M90 79h1M169 79h4M36 80h1M90 80h1M168 80h5M36 81h1M90 81h1M167 81h5M90 82h1M167 82h4M37 83h1M166 83h5M37 84h1M165 84h5M37 85h1M89 85h1M164 85h5M89 86h1M163 86h5M38 87h1M162 87h5M38 88h1M162 88h4M88 89h1M161 89h5M88 90h1M160 90h5M39 91h1M159 91h5M158 92h5M40 93h1M87 93h1M157 93h5M41 94h1M87 94h1M156 94h5M41 95h1M155 95h5M42 96h1M154 96h5M42 97h1M86 97h1M153 97h6M42 98h1M152 98h6M85 99h1M151 99h6M43 100h1M150 100h6M43 101h1M84 101h1M150 101h5M44 102h1M149 102h6M44 103h1M148 103h6M45 104h1M83 104h1M104 104h2M147 104h6M45 105h1M84 105h1M104 105h4M146 105h6M46 106h1M84 106h1M103 106h7M146 106h5M46 107h1M84 107h1M102 107h2M106 107h10M122 107h1M145 107h6M47 108h1M85 108h1M101 108h2M108 108h16M144 108h6M47 109h1M85 109h1M100 109h3M115 109h10M143 109h6M48 110h1M85 110h2M99 110h3M121 110h5M142 110h6M48 111h1M86 111h1M99 111h2M121 111h5M142 111h5M48 112h1M86 112h1M98 112h3M122 112h4M140 112h6M48 113h1M86 113h1M98 113h2M122 113h5M139 113h5M48 114h1M87 114h1M97 114h3M122 114h5M137 114h6M48 115h1M87 115h1M97 115h2M122 115h5M136 115h6M87 116h1M97 116h2M122 116h5M135 116h5M49 117h1M87 117h1M96 117h3M122 117h17M49 118h1M87 118h1M96 118h2M123 118h15M49 119h1M87 119h1M95 119h2M123 119h13M49 120h1M88 120h1M95 120h2M123 120h12M49 121h1M88 121h1M95 121h1M123 121h10M49 122h1M88 122h1M94 122h1M49 123h1M88 123h1M93 123h2M50 124h1M88 124h1M93 124h1M50 125h1M92 125h2M51 126h1M89 126h1M92 126h1M145 126h2M51 127h1M89 127h1M91 127h2M142 127h5M51 128h1M89 128h1M91 128h1M139 128h8M51 129h2M89 129h1M91 129h1M136 129h11M52 130h1M90 130h2M133 130h14M52 131h1M90 131h1M133 131h13M52 132h1M90 132h1M133 132h13M52 133h2M90 133h1M132 133h7M140 133h6M53 134h1M110 134h1M132 134h4M140 134h6M53 135h1M108 135h2M131 135h2M140 135h6M53 136h1M107 136h2M131 136h2M140 136h5M53 137h1M106 137h3M131 137h1M140 137h5M53 138h1M104 138h4M130 138h2M139 138h6M53 139h1M101 139h6M130 139h2M139 139h6M53 140h2M100 140h7M129 140h2M139 140h5M54 141h1M101 141h3M105 141h2M128 141h2M138 141h6M54 142h1M102 142h2M105 142h3M127 142h2M138 142h5M54 143h1M102 143h2M106 143h2M126 143h2M137 143h6M54 144h1M102 144h2M106 144h2M125 144h1M136 144h6M54 145h1M102 145h2M106 145h2M123 145h2M136 145h6M54 146h1M102 146h1M106 146h2M122 146h2M135 146h6M54 147h3M101 147h2M106 147h3M121 147h2M135 147h5M56 148h3M101 148h2M107 148h2M120 148h2M134 148h6M58 149h3M101 149h2M107 149h2M117 149h4M133 149h7M60 150h3M101 150h2M107 150h13M133 150h6M62 151h2M101 151h2M107 151h4M132 151h7M63 152h2M100 152h2M132 152h7M65 153h2M100 153h2M131 153h7M66 154h2M100 154h2M130 154h8M65 155h2M100 155h2M129 155h7M64 156h2M100 156h2M128 156h6M64 157h2M99 157h2M103 157h13M127 157h6M63 158h2M99 158h6M106 158h11M126 158h5M62 159h2M99 159h3M115 159h2M124 159h6M61 160h2M115 160h2M123 160h6M60 161h3M116 161h2M122 161h6M59 162h3M116 162h2M121 162h6M58 163h3M117 163h2M120 163h5M57 164h3M117 164h7M56 165h3M118 165h5M55 166h3M118 166h4M54 167h3M118 167h3M53 168h3M52 169h2M50 170h2M48 171h2M45 172h3M43 173h3M40 174h4M36 175h5M33 176h5M32 177h3M30 178h3M29 179h2M27 180h2M25 181h3M24 182h2M23 183h2"/>
<path stroke="#00efff" d="M14 0h12M35 0h3M79 0h1M13 1h12M35 1h3M79 1h1M13 2h11M35 2h3M79 2h1M175 2h7M12 3h12M35 3h3M79 3h1M175 3h7M13 4h10M35 4h3M79 4h1M174 4h2M14 5h8M35 5h3M79 5h1M173 5h2M15 6h7M35 6h5M79 6h1M172 6h3M16 7h5M35 7h7M79 7h1M171 7h3M17 8h3M35 8h9M171 8h2M18 9h2M36 9h10M78 9h1M170 9h2M38 10h10M78 10h1M169 10h2M38 11h10M169 11h2M37 12h11M77 12h1M168 12h3M37 13h11M77 13h1M168 13h2M37 14h11M77 14h1M168 14h2M37 15h12M64 15h9M167 15h3M36 16h13M60 16h15M76 16h1M167 16h2M36 17h13M59 17h5M70 17h7M167 17h2M36 18h13M57 18h4M73 18h4M166 18h5M35 19h14M55 19h4M75 19h1M166 19h8M35 20h15M53 20h4M166 20h16M35 21h15M52 21h3M166 21h16M34 22h20M169 22h13M34 23h18M172 23h10M34 24h16M175 24h7M34 25h18M176 25h6M35 26h12M52 26h3M175 26h7M36 27h10M56 27h3M175 27h7M37 28h8M59 28h1M71 28h3M174 28h8M38 29h6M60 29h1M66 29h9M173 29h9M39 30h4M61 30h8M72 30h4M173 30h9M40 31h2M61 31h4M73 31h3M172 31h10M40 32h1M74 32h2M172 32h10M39 33h1M75 33h2M171 33h11M38 34h1M76 34h1M170 34h6M37 35h1M76 35h1M170 35h6M36 36h1M76 36h1M169 36h6M169 37h5M77 38h1M168 38h6M34 39h1M78 39h2M168 39h5M34 40h1M79 40h2M168 40h6M34 41h1M80 41h2M169 41h6M34 42h1M81 42h2M170 42h5M34 43h1M82 43h2M170 43h6M34 44h1M83 44h2M171 44h11M34 45h1M85 45h3M96 45h3M171 45h11M34 46h1M87 46h9M98 46h1M172 46h10M34 47h1M90 47h1M172 47h10M34 48h1M97 48h1M173 48h9M34 49h1M97 49h1M174 49h8M34 50h1M97 50h1M174 50h8M34 51h1M96 51h1M175 51h7M34 52h1M96 52h1M175 52h7M96 53h1M176 53h6M95 54h1M176 54h6M95 55h1M175 55h7M94 56h1M175 56h7M94 57h1M174 57h8M174 58h8M93 59h1M173 59h9M93 60h1M173 60h9M92 61h1M172 61h10M81 62h2M92 62h1M172 62h10M78 63h7M91 63h1M171 63h11M76 64h2M83 64h5M91 64h1M171 64h11M75 65h1M85 65h5M91 65h1M170 65h12M74 66h1M87 66h4M170 66h12M72 67h2M89 67h2M169 67h13M72 68h1M87 68h4M169 68h7M72 69h1M80 69h5M90 69h1M168 69h7M34 70h1M72 70h1M75 70h2M90 70h1M168 70h7M34 71h1M72 71h2M90 71h1M167 71h7M34 72h1M90 72h1M167 72h6M34 73h1M90 73h1M166 73h7M90 74h2M166 74h6M90 75h2M165 75h6M90 76h2M165 76h6M90 77h2M164 77h6M35 78h1M91 78h1M164 78h5M35 79h1M91 79h2M163 79h6M35 80h1M91 80h2M163 80h5M91 81h2M162 81h5M36 82h1M91 82h3M162 82h5M36 83h1M90 83h2M161 83h5M90 84h1M160 84h5M159 85h5M37 86h1M158 86h5M37 87h1M89 87h1M157 87h5M89 88h1M156 88h6M38 89h1M155 89h6M38 90h1M154 90h6M38 91h1M88 91h1M153 91h6M39 92h1M88 92h1M152 92h6M39 93h1M151 93h6M40 94h1M150 94h6M40 95h1M87 95h1M149 95h6M41 96h1M148 96h6M41 97h1M147 97h6M86 98h1M146 98h6M42 99h1M146 99h5M42 100h1M85 100h1M145 100h5M42 101h1M144 101h6M43 102h1M84 102h1M104 102h3M143 102h6M43 103h1M84 103h1M103 103h6M142 103h6M44 104h1M84 104h1M102 104h2M106 104h5M142 104h5M44 105h1M85 105h1M101 105h3M108 105h10M120 105h6M141 105h5M45 106h1M85 106h1M100 106h3M110 106h17M140 106h6M45 107h1M85 107h1M100 107h2M116 107h6M123 107h5M139 107h6M46 108h1M86 108h1M99 108h2M124 108h5M138 108h6M46 109h1M86 109h1M98 109h2M125 109h5M138 109h5M47 110h1M87 110h1M97 110h2M126 110h4M137 110h5M47 111h1M87 111h1M96 111h3M126 111h5M136 111h6M47 112h1M87 112h1M96 112h2M126 112h5M134 112h6M47 113h1M87 113h1M96 113h2M127 113h12M47 114h1M88 114h1M95 114h2M127 114h10M88 115h1M95 115h2M127 115h9M48 116h1M88 116h1M94 116h3M127 116h8M48 117h1M88 117h1M94 117h2M48 118h1M88 118h1M93 118h3M48 119h1M88 119h1M93 119h2M48 120h1M89 120h1M93 120h2M48 121h1M89 121h1M92 121h3M48 122h1M89 122h1M92 122h2M48 123h1M89 123h1M91 123h2M48 124h2M89 124h1M91 124h2M49 125h1M89 125h1M91 125h1M49 126h2M90 126h2M49 127h2M90 127h1M50 128h1M90 128h1M50 129h1M90 129h1M50 130h2M51 131h1M51 132h1M51 133h1M139 133h1M51 134h2M136 134h4M52 135h1M133 135h7M52 136h1M133 136h7M52 137h1M132 137h8M52 138h1M132 138h7M52 139h1M132 139h7M52 140h1M131 140h8M52 141h2M104 141h1M130 141h8M53 142h1M104 142h1M129 142h2M132 142h6M53 143h1M104 143h2M128 143h1M131 143h6M53 144h1M104 144h2M126 144h2M131 144h5M53 145h1M104 145h2M125 145h2M130 145h6M53 146h1M103 146h3M124 146h2M129 146h6M53 147h1M103 147h3M123 147h2M129 147h6M53 148h3M103 148h4M122 148h2M128 148h6M55 149h3M103 149h4M121 149h2M128 149h5M57 150h3M103 150h4M120 150h2M127 150h6M59 151h3M103 151h1M105 151h2M111 151h9M127 151h5M61 152h2M102 152h2M105 152h14M126 152h6M18 153h3M63 153h2M102 153h2M125 153h6M16 154h6M64 154h2M102 154h2M125 154h5M16 155h5M63 155h2M102 155h8M123 155h6M16 156h4M62 156h2M102 156h16M122 156h6M16 157h4M62 157h2M101 157h2M116 157h2M121 157h6M61 158h2M117 158h2M120 158h6M60 159h2M117 159h7M59 160h2M117 160h6M58 161h2M118 161h4M57 162h2M118 162h3M56 163h2M119 163h1M55 164h2M54 165h2M53 166h2M52 167h2M51 168h2M49 169h3M47 170h3M44 171h4M41 172h4M38 173h5M35 174h5M33 175h3M31 176h2M29 177h3M28 178h2M26 179h3M25 180h2M23 181h2M0 182h8M21 182h3M0 183h10M20 183h3"/>
<path stroke="#0ff" d="M11 0h3M26 0h9M80 0h1M175 0h7M10 1h3M25 1h10M80 1h1M174 1h8M10 2h3M24 2h11M80 2h1M173 2h2M9 3h3M24 3h11M80 3h1M172 3h3M8 4h5M23 4h12M80 4h1M171 4h3M8 5h6M22 5h13M80 5h1M171 5h2M7 6h8M22 6h13M80 6h1M170 6h2M7 7h9M21 7h14M169 7h2M6 8h11M20 8h15M79 8h1M168 8h3M5 9h13M20 9h16M79 9h1M167 9h3M0 10h38M167 10h2M0 11h38M78 11h1M166 11h3M0 12h37M78 12h1M166 12h2M0 13h30M31 13h6M78 13h1M166 13h2M0 14h24M30 14h7M165 14h3M0 15h19M30 15h7M77 15h1M165 15h2M0 16h18M30 16h6M77 16h1M165 16h2M0 17h17M30 17h6M64 17h6M77 17h1M164 17h3M0 18h16M30 18h6M61 18h12M164 18h2M0 19h15M30 19h5M59 19h6M68 19h7M76 19h1M164 19h2M0 20h14M29 20h6M57 20h4M70 20h7M163 20h3M0 21h13M29 21h6M55 21h4M72 21h5M163 21h3M0 22h12M29 22h5M54 22h3M74 22h2M163 22h6M0 23h11M29 23h5M52 23h3M162 23h10M0 24h10M29 24h5M50 24h4M162 24h13M0 25h6M30 25h4M52 25h3M162 25h14M32 26h3M55 26h4M73 26h3M162 26h13M32 27h4M59 27h2M68 27h8M162 27h13M32 28h5M60 28h2M64 28h7M74 28h2M162 28h12M32 29h6M61 29h5M75 29h2M162 29h11M32 30h7M76 30h1M162 30h11M32 31h8M76 31h1M162 31h10M32 32h8M76 32h1M162 32h10M32 33h7M162 33h9M32 34h6M162 34h8M32 35h5M77 35h1M162 35h8M32 36h4M77 36h1M162 36h7M32 37h4M77 37h1M162 37h7M33 38h2M78 38h2M162 38h6M33 39h1M80 39h2M162 39h6M33 40h1M81 40h2M163 40h5M33 41h1M82 41h2M163 41h6M33 42h1M83 42h2M164 42h6M33 43h1M84 43h2M100 43h1M164 43h6M33 44h1M85 44h3M95 44h5M165 44h6M33 45h1M88 45h8M99 45h1M166 45h5M33 46h1M99 46h1M166 46h6M33 47h1M98 47h1M167 47h5M33 48h1M98 48h1M167 48h6M33 49h1M98 49h1M168 49h6M33 50h1M169 50h5M33 51h1M97 51h1M169 51h6M33 52h1M97 52h1M170 52h5M33 53h1M170 53h6M33 54h1M96 54h1M170 54h6M33 55h1M96 55h1M169 55h6M33 56h1M95 56h1M169 56h6M33 57h1M95 57h1M168 57h6M33 58h1M94 58h1M168 58h6M33 59h1M94 59h1M167 59h6M33 60h1M94 60h1M166 60h7M33 61h1M93 61h1M166 61h6M33 62h1M93 62h1M165 62h7M33 63h1M92 63h1M165 63h6M33 64h1M78 64h5M92 64h1M164 64h7M33 65h1M76 65h2M80 65h5M163 65h7M33 66h1M75 66h1M82 66h5M91 66h1M163 66h7M33 67h1M74 67h1M85 67h4M91 67h1M162 67h7M33 68h1M73 68h1M83 68h4M91 68h1M162 68h7M33 69h1M73 69h1M76 69h4M91 69h1M161 69h7M33 70h1M73 70h2M91 70h2M161 70h7M91 71h2M161 71h6M91 72h2M160 72h7M91 73h2M160 73h6M34 74h1M92 74h1M159 74h7M34 75h1M92 75h1M159 75h6M34 76h1M92 76h2M159 76h6M34 77h1M92 77h2M158 77h6M92 78h2M158 78h6M93 79h1M157 79h6M93 80h2M157 80h6M35 81h1M93 81h2M157 81h5M35 82h1M94 82h2M156 82h6M92 83h2M155 83h6M36 84h1M91 84h2M154 84h6M36 85h1M90 85h2M153 85h6M36 86h1M152 86h6M151 87h6M37 88h1M150 88h6M37 89h1M89 89h1M149 89h6M37 90h1M148 90h6M147 91h6M38 92h1M146 92h6M88 93h1M146 93h5M39 94h1M145 94h5M144 95h5M40 96h1M87 96h1M143 96h5M40 97h1M142 97h5M41 98h1M141 98h5M41 99h1M86 99h1M104 99h3M141 99h5M41 100h1M103 100h6M140 100h5M41 101h1M85 101h1M102 101h9M139 101h5M42 102h1M85 102h1M101 102h3M107 102h6M125 102h3M138 102h5M42 103h1M85 103h1M100 103h3M109 103h20M137 103h5M43 104h1M85 104h1M100 104h2M111 104h19M137 104h5M43 105h1M86 105h1M99 105h2M118 105h2M126 105h5M136 105h5M44 106h1M86 106h1M98 106h2M127 106h5M135 106h5M44 107h1M86 107h2M97 107h3M128 107h5M134 107h5M45 108h1M87 108h1M96 108h3M129 108h9M45 109h1M87 109h1M96 109h2M130 109h8M46 110h1M88 110h1M95 110h2M130 110h7M46 111h1M88 111h1M94 111h2M131 111h5M46 112h1M88 112h1M94 112h2M131 112h3M45 113h2M88 113h1M93 113h3M45 114h2M89 114h1M93 114h2M46 115h2M89 115h1M92 115h3M46 116h2M89 116h1M92 116h2M46 117h2M89 117h1M91 117h3M46 118h2M89 118h1M91 118h2M46 119h2M89 119h1M91 119h2M47 120h1M90 120h3M47 121h1M90 121h2M47 122h1M90 122h2M47 123h1M90 123h1M47 124h1M90 124h1M48 125h1M90 125h1M48 126h1M48 127h1M48 128h2M49 129h1M49 130h1M49 131h2M50 132h1M50 133h1M50 134h1M50 135h2M51 136h1M51 137h1M51 138h1M51 139h1M51 140h1M51 141h1M51 142h2M131 142h1M52 143h1M129 143h2M52 144h1M128 144h3M52 145h1M127 145h3M52 146h1M126 146h3M52 147h1M125 147h4M52 148h1M124 148h4M52 149h3M123 149h5M54 150h3M122 150h5M20 151h2M56 151h3M104 151h1M120 151h7M17 152h6M58 152h3M104 152h1M119 152h7M15 153h3M21 153h3M60 153h3M104 153h21M13 154h3M22 154h2M62 154h2M104 154h21M13 155h3M21 155h3M61 155h2M110 155h13M13 156h3M20 156h3M60 156h2M118 156h4M13 157h3M20 157h2M59 157h3M118 157h3M13 158h8M58 158h3M119 158h1M13 159h8M57 159h3M13 160h7M56 160h3M18 161h1M55 161h3M54 162h3M53 163h3M52 164h3M51 165h3M50 166h3M49 167h3M48 168h3M46 169h3M42 170h5M39 171h5M36 172h5M33 173h5M32 174h3M30 175h3M29 176h2M27 177h2M0 178h13M25 178h3M0 179h17M24 179h2M0 180h20M22 180h3M0 181h23M8 182h13M10 183h10"/>
<path stroke="#0fe" d="M8 0h3M81 0h2M172 0h3M7 1h3M81 1h2M171 1h3M7 2h3M81 2h1M171 2h2M6 3h3M81 3h1M170 3h2M5 4h3M81 4h1M169 4h2M0 5h8M81 5h1M168 5h3M0 6h7M81 6h1M167 6h3M0 7h7M80 7h1M167 7h2M0 8h6M80 8h1M166 8h2M0 9h5M80 9h1M165 9h2M79 10h1M164 10h3M79 11h1M164 11h2M79 12h1M164 12h2M30 13h1M79 13h1M163 13h3M24 14h6M78 14h1M163 14h2M19 15h11M78 15h1M163 15h2M18 16h12M78 16h1M162 16h3M17 17h13M78 17h1M162 17h2M16 18h14M77 18h1M162 18h2M15 19h8M25 19h5M65 19h3M77 19h1M161 19h3M14 20h5M25 20h4M61 20h9M77 20h1M161 20h2M13 21h5M24 21h5M59 21h13M77 21h1M160 21h3M12 22h5M24 22h5M57 22h4M67 22h7M76 22h1M160 22h3M11 23h5M24 23h5M55 23h4M70 23h7M159 23h3M10 24h5M24 24h5M54 24h3M72 24h5M159 24h3M6 25h4M25 25h5M55 25h4M70 25h7M158 25h4M27 26h5M59 26h2M65 26h8M76 26h1M158 26h4M29 27h3M61 27h7M76 27h1M158 27h4M30 28h2M62 28h2M76 28h1M157 28h5M30 29h2M157 29h5M30 30h2M156 30h6M30 31h2M77 31h1M156 31h6M30 32h2M77 32h1M156 32h6M31 33h1M77 33h1M156 33h6M31 34h1M77 34h1M156 34h6M31 35h1M156 35h6M31 36h1M156 36h6M31 37h1M78 37h1M156 37h6M31 38h2M80 38h1M156 38h6M31 39h2M82 39h1M156 39h6M32 40h1M83 40h1M156 40h7M32 41h1M84 41h1M157 41h6M32 42h1M85 42h1M100 42h2M157 42h7M32 43h1M86 43h2M94 43h6M101 43h1M157 43h7M32 44h1M88 44h7M100 44h1M158 44h7M32 45h1M100 45h1M159 45h7M32 46h1M100 46h1M160 46h6M32 47h1M99 47h1M161 47h6M32 48h1M99 48h1M162 48h5M32 49h1M99 49h1M162 49h6M32 50h1M98 50h1M163 50h6M32 51h1M98 51h1M163 51h6M32 52h1M98 52h1M164 52h6M32 53h1M97 53h1M165 53h5M97 54h1M164 54h6M97 55h1M164 55h5M96 56h1M163 56h6M96 57h1M162 57h6M95 58h1M162 58h6M95 59h1M161 59h6M161 60h5M94 61h1M160 61h6M94 62h1M159 62h6M32 63h1M93 63h1M159 63h6M32 64h1M93 64h1M158 64h6M32 65h1M78 65h2M92 65h2M158 65h5M32 66h1M76 66h6M92 66h2M157 66h6M32 67h1M75 67h1M80 67h5M92 67h2M157 67h5M32 68h1M74 68h1M78 68h5M92 68h2M156 68h6M32 69h1M74 69h2M92 69h2M156 69h5M32 70h1M93 70h1M155 70h6M33 71h1M93 71h1M155 71h6M33 72h1M93 72h2M154 72h6M33 73h1M93 73h2M154 73h6M33 74h1M93 74h2M154 74h5M93 75h2M153 75h6M94 76h1M153 76h6M94 77h2M152 77h6M34 78h1M94 78h2M152 78h6M34 79h1M94 79h2M152 79h5M34 80h1M95 80h2M151 80h6M34 81h1M95 81h2M151 81h6M96 82h2M150 82h6M35 83h1M94 83h2M149 83h6M35 84h1M93 84h2M148 84h6M92 85h2M147 85h6M90 86h2M147 86h5M36 87h1M90 87h1M146 87h5M36 88h1M145 88h5M144 89h5M89 90h1M143 90h5M37 91h1M89 91h1M143 91h4M37 92h1M142 92h4M38 93h1M141 93h5M38 94h1M88 94h1M140 94h5M39 95h1M88 95h1M104 95h3M139 95h5M39 96h1M104 96h4M138 96h5M87 97h1M103 97h6M138 97h4M40 98h1M102 98h9M137 98h4M40 99h1M101 99h3M107 99h6M136 99h5M40 100h1M86 100h1M101 100h2M109 100h6M124 100h8M135 100h5M100 101h2M111 101h21M134 101h5M41 102h1M86 102h1M99 102h2M113 102h12M128 102h10M41 103h1M86 103h1M98 103h2M129 103h8M42 104h1M86 104h1M97 104h3M130 104h7M42 105h1M87 105h1M96 105h3M131 105h5M43 106h1M87 106h1M96 106h2M132 106h3M43 107h1M88 107h1M95 107h2M133 107h1M44 108h1M88 108h1M94 108h2M44 109h1M88 109h1M93 109h3M45 110h1M89 110h1M92 110h3M45 111h1M89 111h1M92 111h2M45 112h1M89 112h1M91 112h3M44 113h1M89 113h1M91 113h2M44 114h1M90 114h3M44 115h2M90 115h2M44 116h2M90 116h2M44 117h2M90 117h1M44 118h2M90 118h1M45 119h1M90 119h1M45 120h2M45 121h2M45 122h2M45 123h2M46 124h1M46 125h2M46 126h2M46 127h2M46 128h2M47 129h2M48 130h1M48 131h1M48 132h2M49 133h1M49 134h1M49 135h1M49 136h2M50 137h1M50 138h1M50 139h1M50 140h1M50 141h1M50 142h1M50 143h2M50 144h2M51 145h1M51 146h1M51 147h1M51 148h1M51 149h1M18 150h6M51 150h3M16 151h4M22 151h3M53 151h3M14 152h3M23 152h3M55 152h3M12 153h3M24 153h2M57 153h3M11 154h2M24 154h3M59 154h3M10 155h3M24 155h2M58 155h3M10 156h3M23 156h2M57 156h3M10 157h3M22 157h3M56 157h3M10 158h3M21 158h3M55 158h3M10 159h3M21 159h2M54 159h3M10 160h3M20 160h3M53 160h3M10 161h8M19 161h3M52 161h3M10 162h11M51 162h3M10 163h10M50 163h3M13 164h7M49 164h3M48 165h3M46 166h4M45 167h4M43 168h5M41 169h5M38 170h4M35 171h4M32 172h4M13 173h3M31 173h2M5 174h14M29 174h3M0 175h21M28 175h2M0 176h24M26 176h3M0 177h27M13 178h12M17 179h7M20 180h2"/>
<path stroke="#0fd" d="M5 0h3M83 0h1M162 0h10M0 1h7M83 1h1M162 1h9M0 2h7M82 2h2M162 2h9M0 3h6M82 3h1M162 3h8M0 4h5M82 4h1M162 4h7M82 5h1M162 5h6M162 6h5M81 7h1M162 7h5M81 8h1M162 8h4M162 9h3M80 10h1M162 10h2M80 11h1M161 11h3M80 12h1M161 12h3M161 13h2M79 14h1M160 14h3M79 15h1M160 15h3M79 16h1M159 16h3M159 17h3M78 18h1M158 18h4M23 19h2M78 19h1M158 19h3M19 20h6M78 20h1M157 20h4M18 21h6M157 21h3M17 22h7M61 22h6M77 22h1M157 22h3M16 23h8M59 23h11M77 23h1M156 23h3M15 24h9M57 24h4M65 24h7M156 24h3M10 25h5M20 25h5M59 25h3M63 25h7M155 25h3M0 26h9M22 26h5M61 26h4M155 26h3M24 27h5M77 27h1M154 27h4M26 28h4M77 28h1M154 28h3M28 29h2M77 29h1M154 29h3M29 30h1M77 30h1M153 30h3M29 31h1M153 31h3M29 32h1M152 32h4M29 33h2M78 33h1M152 33h4M29 34h2M78 34h1M151 34h5M29 35h2M78 35h1M151 35h5M29 36h2M78 36h1M150 36h6M29 37h2M79 37h2M150 37h6M29 38h2M81 38h2M150 38h6M29 39h2M83 39h2M151 39h5M30 40h2M84 40h2M151 40h5M31 41h1M85 41h2M99 41h4M151 41h6M31 42h1M86 42h3M94 42h6M102 42h1M151 42h6M31 43h1M88 43h6M102 43h1M151 43h6M31 44h1M101 44h1M151 44h7M31 45h1M101 45h1M152 45h7M31 46h1M101 46h1M152 46h8M31 47h1M100 47h1M152 47h9M31 48h1M100 48h1M152 48h10M31 49h1M100 49h1M153 49h9M31 50h1M99 50h1M154 50h9M31 51h1M99 51h1M155 51h8M31 52h1M99 52h1M156 52h8M31 53h1M98 53h1M157 53h8M32 54h1M98 54h1M157 54h7M32 55h1M157 55h7M32 56h1M97 56h1M156 56h7M32 57h1M97 57h1M156 57h6M32 58h1M96 58h1M156 58h6M32 59h1M96 59h1M155 59h6M32 60h1M95 60h1M155 60h6M32 61h1M95 61h1M154 61h6M32 62h1M95 62h1M154 62h5M94 63h1M153 63h6M94 64h1M153 64h5M94 65h1M152 65h6M94 66h1M151 66h6M76 67h4M94 67h2M151 67h6M75 68h3M94 68h2M150 68h6M31 69h1M94 69h2M150 69h6M31 70h1M94 70h2M149 70h6M32 71h1M94 71h2M149 71h6M32 72h1M95 72h1M149 72h5M32 73h1M95 73h1M148 73h6M32 74h1M95 74h2M148 74h6M33 75h1M95 75h2M147 75h6M33 76h1M95 76h2M146 76h7M33 77h1M96 77h2M145 77h7M33 78h1M96 78h2M144 78h8M96 79h2M143 79h9M97 80h2M142 80h9M97 81h2M141 81h10M34 82h1M98 82h2M140 82h10M34 83h1M96 83h2M140 83h9M95 84h2M139 84h9M35 85h1M94 85h2M139 85h8M35 86h1M92 86h3M138 86h9M35 87h1M91 87h2M138 87h8M90 88h2M137 88h8M36 89h1M90 89h1M137 89h7M36 90h1M109 90h3M136 90h7M36 91h1M105 91h7M136 91h7M89 92h1M104 92h8M135 92h7M37 93h1M103 93h10M135 93h6M37 94h1M103 94h10M134 94h6M38 95h1M102 95h2M107 95h6M134 95h5M88 96h1M101 96h3M108 96h5M134 96h4M39 97h1M101 97h2M109 97h6M129 97h9M39 98h1M87 98h1M100 98h2M111 98h6M123 98h14M39 99h1M99 99h2M113 99h23M98 100h3M115 100h9M132 100h3M40 101h1M86 101h1M97 101h3M132 101h2M40 102h1M87 102h1M97 102h2M40 103h1M87 103h1M96 103h2M41 104h1M87 104h2M95 104h2M41 105h1M88 105h1M94 105h2M42 106h1M88 106h1M93 106h3M42 107h1M89 107h1M92 107h3M43 108h1M89 108h1M92 108h2M43 109h1M89 109h1M91 109h2M44 110h1M90 110h2M44 111h1M90 111h2M44 112h1M90 112h1M43 113h1M90 113h1M43 114h1M43 115h1M42 116h2M42 117h2M42 118h2M43 119h2M43 120h2M43 121h2M43 122h2M43 123h2M44 124h2M44 125h2M44 126h2M44 127h2M44 128h2M44 129h3M44 130h4M45 131h3M46 132h2M46 133h3M47 134h2M48 135h1M48 136h1M48 137h2M49 138h1M49 139h1M49 140h1M49 141h1M49 142h1M49 143h1M49 144h1M49 145h2M50 146h1M50 147h1M21 148h5M50 148h1M17 149h9M50 149h1M16 150h2M24 150h3M50 150h1M14 151h2M25 151h3M50 151h3M12 152h2M26 152h2M52 152h3M10 153h2M26 153h3M54 153h3M8 154h3M27 154h2M56 154h3M8 155h2M26 155h3M55 155h3M8 156h2M25 156h3M54 156h3M7 157h3M25 157h2M53 157h3M7 158h3M24 158h3M52 158h3M7 159h3M23 159h3M51 159h3M7 160h3M23 160h2M50 160h3M7 161h3M22 161h2M49 161h3M7 162h3M21 162h3M48 162h3M7 163h3M20 163h3M46 163h4M7 164h6M20 164h2M45 164h4M7 165h15M43 165h5M7 166h14M42 166h4M9 167h11M40 167h5M17 168h2M39 168h4M14 169h7M36 169h5M7 170h16M33 170h5M0 171h26M32 171h3M0 172h28M30 172h2M0 173h13M16 173h15M0 174h5M19 174h10M21 175h7M24 176h2"/>
<path stroke="#00ffcb" d="M0 0h5M84 0h1M159 0h3M84 1h1M159 1h3M84 2h1M159 2h3M83 3h1M159 3h3M83 4h1M159 4h3M83 5h1M159 5h3M82 6h1M159 6h3M82 7h1M159 7h3M82 8h1M159 8h3M81 9h1M159 9h3M81 10h1M159 10h3M81 11h1M159 11h2M158 12h3M80 13h1M158 13h3M80 14h1M157 14h3M80 15h1M157 15h3M156 16h3M79 17h1M156 17h3M79 18h1M155 18h3M79 19h1M155 19h3M154 20h3M78 21h1M154 21h3M78 22h1M153 22h4M153 23h3M61 24h4M77 24h1M153 24h3M15 25h5M62 25h1M77 25h1M152 25h3M9 26h5M19 26h3M77 26h1M152 26h3M0 27h7M20 27h4M151 27h3M22 28h4M151 28h3M24 29h4M78 29h1M150 29h4M26 30h3M78 30h1M150 30h3M27 31h2M78 31h1M149 31h4M27 32h2M78 32h1M149 32h3M27 33h2M149 33h3M27 34h2M148 34h3M27 35h2M79 35h1M148 35h3M27 36h2M79 36h2M147 36h3M27 37h2M81 37h2M147 37h3M27 38h2M83 38h2M147 38h3M28 39h1M85 39h2M104 39h1M147 39h4M29 40h1M86 40h2M98 40h6M147 40h4M29 41h2M87 41h2M93 41h6M103 41h1M147 41h4M30 42h1M89 42h5M103 42h1M147 42h4M30 43h1M147 43h4M30 44h1M102 44h1M147 44h4M30 45h1M102 45h1M147 45h5M30 46h1M147 46h5M30 47h1M101 47h1M147 47h5M30 48h1M101 48h1M147 48h5M30 49h1M101 49h1M147 49h6M30 50h1M100 50h1M147 50h7M30 51h1M100 51h1M147 51h8M100 52h1M148 52h8M99 53h1M148 53h9M31 54h1M99 54h1M147 54h10M31 55h1M98 55h1M147 55h10M31 56h1M98 56h1M146 56h10M31 57h1M98 57h1M146 57h10M31 58h1M97 58h1M145 58h11M31 59h1M97 59h1M145 59h10M31 60h1M96 60h1M144 60h11M31 61h1M96 61h1M144 61h10M31 62h1M96 62h1M143 62h11M31 63h1M95 63h2M143 63h10M31 64h1M95 64h2M142 64h11M31 65h1M95 65h2M142 65h10M31 66h1M95 66h2M141 66h10M31 67h1M96 67h1M141 67h10M31 68h1M96 68h1M140 68h10M96 69h1M139 69h11M30 70h1M96 70h2M138 70h11M30 71h2M96 71h2M137 71h12M31 72h1M96 72h2M136 72h13M31 73h1M96 73h2M135 73h13M31 74h1M97 74h1M134 74h14M31 75h2M97 75h2M133 75h14M32 76h1M97 76h2M132 76h14M32 77h1M98 77h2M131 77h14M32 78h1M98 78h2M130 78h14M33 79h1M98 79h2M129 79h14M33 80h1M99 80h2M128 80h14M33 81h1M99 81h2M127 81h14M33 82h1M100 82h2M126 82h14M98 83h2M126 83h14M34 84h1M97 84h2M125 84h14M34 85h1M96 85h2M114 85h3M125 85h14M34 86h1M95 86h2M110 86h7M124 86h14M93 87h2M106 87h11M124 87h14M35 88h1M92 88h2M104 88h13M123 88h14M35 89h1M91 89h2M104 89h14M123 89h14M35 90h1M90 90h1M103 90h6M112 90h6M122 90h14M102 91h3M112 91h6M122 91h14M36 92h1M102 92h2M112 92h6M121 92h14M36 93h1M89 93h1M101 93h2M113 93h5M121 93h14M89 94h1M100 94h3M113 94h6M120 94h14M37 95h1M100 95h2M113 95h6M120 95h14M38 96h1M99 96h2M113 96h21M38 97h1M88 97h1M98 97h3M115 97h14M38 98h1M97 98h3M117 98h6M38 99h1M87 99h1M97 99h2M39 100h1M87 100h1M96 100h2M39 101h1M87 101h2M95 101h2M39 102h1M88 102h1M94 102h3M39 103h1M88 103h1M93 103h3M40 104h1M89 104h1M93 104h2M40 105h1M89 105h1M92 105h2M41 106h1M89 106h1M91 106h2M41 107h1M90 107h2M42 108h1M90 108h2M42 109h1M90 109h1M43 110h1M43 111h1M43 112h1M42 113h1M42 114h1M42 115h1M41 116h1M41 117h1M41 118h1M41 119h2M41 120h2M41 121h2M41 122h2M42 123h1M42 124h2M42 125h2M42 126h2M42 127h2M42 128h2M42 129h2M42 130h2M42 131h3M42 132h4M43 133h3M44 134h3M44 135h4M45 136h3M46 137h2M47 138h2M47 139h2M48 140h1M48 141h1M48 142h1M48 143h1M48 144h1M48 145h1M26 146h1M48 146h2M19 147h9M49 147h1M17 148h4M26 148h2M49 148h1M15 149h2M26 149h3M49 149h1M13 150h3M27 150h3M49 150h1M11 151h3M28 151h2M49 151h1M9 152h3M28 152h3M49 152h3M7 153h3M29 153h3M50 153h4M0 154h8M29 154h3M52 154h4M0 155h8M29 155h2M51 155h4M0 156h8M28 156h3M50 156h4M0 157h7M27 157h3M49 157h4M0 158h7M27 158h2M48 158h4M0 159h7M26 159h3M47 159h4M0 160h7M25 160h4M46 160h4M0 161h7M24 161h6M44 161h5M0 162h7M24 162h6M43 162h5M0 163h7M23 163h8M41 163h5M0 164h7M22 164h9M40 164h5M0 165h7M22 165h10M38 165h5M0 166h7M21 166h11M37 166h5M0 167h9M20 167h13M35 167h5M0 168h17M19 168h14M34 168h5M0 169h14M21 169h15M0 170h7M23 170h10M26 171h6M28 172h2"/>
<path stroke="#00ffba" d="M85 0h1M157 0h2M85 1h1M157 1h2M157 2h2M84 3h1M157 3h2M84 4h1M157 4h2M157 5h2M83 6h1M157 6h2M83 7h1M157 7h2M157 8h2M82 9h1M157 9h2M82 10h1M157 10h2M156 11h3M81 12h1M156 12h2M81 13h1M155 13h3M81 14h1M155 14h2M154 15h3M80 16h1M153 16h3M80 17h1M153 17h3M80 18h1M152 18h3M152 19h3M79 20h1M151 20h3M79 21h1M151 21h3M150 22h3M78 23h1M150 23h3M78 24h1M149 24h4M78 25h1M149 25h3M14 26h5M78 26h1M148 26h4M7 27h5M18 27h2M78 27h1M148 27h3M0 28h6M18 28h4M78 28h1M148 28h3M19 29h5M147 29h3M21 30h5M147 30h3M23 31h4M79 31h1M147 31h2M25 32h2M79 32h1M146 32h3M26 33h1M79 33h1M146 33h3M26 34h1M79 34h1M146 34h2M26 35h1M146 35h2M26 36h1M81 36h1M145 36h2M26 37h1M83 37h1M105 37h2M145 37h2M26 38h1M85 38h1M102 38h5M145 38h2M26 39h2M87 39h1M98 39h6M105 39h2M145 39h2M27 40h2M88 40h1M93 40h5M104 40h2M145 40h2M28 41h1M89 41h4M104 41h1M145 41h2M28 42h2M104 42h1M145 42h2M29 43h1M103 43h1M145 43h2M29 44h1M103 44h1M145 44h2M29 45h1M103 45h1M145 45h2M29 46h1M102 46h1M145 46h2M29 47h1M102 47h1M145 47h2M29 48h1M102 48h1M145 48h2M29 49h1M145 49h2M29 50h1M101 50h1M145 50h2M101 51h1M145 51h2M30 52h1M145 52h3M30 53h1M100 53h1M145 53h3M30 54h1M100 54h1M145 54h2M30 55h1M99 55h1M144 55h3M99 56h1M143 56h3M99 57h1M142 57h4M98 58h1M141 58h4M98 59h1M140 59h5M97 60h1M139 60h5M97 61h2M138 61h6M30 62h1M97 62h2M137 62h6M30 63h1M97 63h2M136 63h7M30 64h1M97 64h2M135 64h7M30 65h1M97 65h2M135 65h7M30 66h1M97 66h2M134 66h7M30 67h1M97 67h2M132 67h9M30 68h1M97 68h2M130 68h10M30 69h1M97 69h2M129 69h10M98 70h1M128 70h10M98 71h2M127 71h10M29 72h2M98 72h2M126 72h10M30 73h1M98 73h2M125 73h10M30 74h1M98 74h2M124 74h10M30 75h1M99 75h2M123 75h10M31 76h1M99 76h2M122 76h10M31 77h1M100 77h2M121 77h10M31 78h1M100 78h2M120 78h10M31 79h2M100 79h3M119 79h10M32 80h1M101 80h2M117 80h11M32 81h1M101 81h2M114 81h13M32 82h1M102 82h2M112 82h14M32 83h2M100 83h2M108 83h18M33 84h1M99 84h2M105 84h20M98 85h2M104 85h10M117 85h8M97 86h2M103 86h7M117 86h7M34 87h1M95 87h2M103 87h3M117 87h7M34 88h1M94 88h2M102 88h2M117 88h6M93 89h2M101 89h3M118 89h5M91 90h3M101 90h2M118 90h4M35 91h1M90 91h2M100 91h2M118 91h4M35 92h1M90 92h1M99 92h3M118 92h3M99 93h2M118 93h3M36 94h1M98 94h2M119 94h1M36 95h1M89 95h1M97 95h3M119 95h1M37 96h1M89 96h1M97 96h2M37 97h1M96 97h2M37 98h1M88 98h1M95 98h2M88 99h1M94 99h3M38 100h1M88 100h1M93 100h3M38 101h1M89 101h1M93 101h2M38 102h1M89 102h1M92 102h2M89 103h1M91 103h2M39 104h1M90 104h3M39 105h1M90 105h2M40 106h1M90 106h1M40 107h1M41 108h1M41 109h1M42 110h1M42 111h1M42 112h1M41 113h1M41 114h1M41 115h1M40 116h1M40 117h1M40 118h1M39 119h2M39 120h2M39 121h2M39 122h2M40 123h2M40 124h2M40 125h2M40 126h2M40 127h2M40 128h2M40 129h2M40 130h2M40 131h2M40 132h2M40 133h3M40 134h4M41 135h3M41 136h4M42 137h4M43 138h4M44 139h3M44 140h4M43 141h5M42 142h6M41 143h7M40 144h8M22 145h7M39 145h9M18 146h8M27 146h3M39 146h9M16 147h3M28 147h2M38 147h11M14 148h3M28 148h3M37 148h12M12 149h3M29 149h3M36 149h13M10 150h3M30 150h2M35 150h11M48 150h1M0 151h7M8 151h3M30 151h3M34 151h11M48 151h1M0 152h9M31 152h12M48 152h1M0 153h7M32 153h10M48 153h2M32 154h9M49 154h3M31 155h10M48 155h3M31 156h11M47 156h3M30 157h12M46 157h3M29 158h14M44 158h4M29 159h18M29 160h17M30 161h14M30 162h13M31 163h10M31 164h9M32 165h6M32 166h5M33 167h2M33 168h1"/>
<path stroke="#00ffa9" d="M86 0h1M154 0h3M86 1h1M154 1h3M85 2h1M154 2h3M85 3h1M154 3h3M85 4h1M154 4h3M84 5h1M154 5h3M84 6h1M154 6h3M84 7h1M154 7h3M83 8h1M154 8h3M83 9h1M119 9h1M154 9h3M83 10h1M118 10h3M154 10h3M82 11h1M118 11h2M154 11h2M82 12h1M153 12h3M82 13h1M152 13h3M82 14h1M152 14h3M81 15h1M151 15h3M81 16h1M151 16h2M81 17h1M150 17h3M81 18h1M150 18h2M80 19h1M149 19h3M80 20h1M149 20h2M80 21h1M148 21h3M79 22h1M148 22h2M79 23h1M147 23h3M146 24h3M146 25h3M146 26h2M12 27h6M79 27h1M146 27h2M6 28h5M17 28h1M79 28h1M146 28h2M18 29h1M79 29h1M145 29h2M18 30h3M79 30h1M145 30h2M19 31h4M145 31h2M20 32h5M144 32h2M22 33h4M80 33h1M144 33h2M24 34h2M80 34h1M109 34h1M144 34h2M24 35h2M80 35h2M107 35h3M144 35h2M24 36h2M82 36h2M104 36h5M143 36h2M24 37h2M84 37h2M100 37h5M107 37h2M143 37h2M24 38h2M86 38h2M96 38h6M107 38h2M143 38h2M24 39h2M88 39h2M92 39h6M107 39h2M143 39h2M25 40h2M89 40h4M106 40h2M143 40h2M26 41h2M105 41h2M143 41h2M27 42h1M105 42h2M143 42h2M28 43h1M104 43h2M143 43h2M28 44h1M104 44h1M143 44h2M28 45h1M104 45h1M143 45h2M28 46h1M103 46h1M143 46h2M28 47h1M103 47h1M143 47h2M28 48h1M103 48h1M143 48h2M102 49h1M143 49h2M102 50h1M143 50h2M29 51h1M102 51h1M143 51h2M29 52h1M101 52h1M143 52h2M29 53h1M101 53h1M143 53h2M29 54h1M101 54h1M142 54h3M29 55h1M100 55h1M142 55h2M30 56h1M100 56h1M141 56h2M30 57h1M140 57h2M30 58h1M99 58h1M139 58h2M30 59h1M99 59h1M138 59h2M30 60h1M98 60h2M137 60h2M30 61h1M99 61h1M136 61h2M99 62h1M135 62h2M99 63h1M134 63h2M99 64h1M133 64h2M99 65h1M131 65h4M99 66h1M128 66h6M99 67h2M126 67h6M99 68h2M124 68h6M29 69h1M99 69h2M123 69h6M29 70h1M99 70h2M122 70h6M29 71h1M100 71h1M121 71h6M100 72h2M120 72h6M29 73h1M100 73h2M119 73h6M29 74h1M100 74h2M117 74h7M29 75h1M101 75h2M115 75h8M29 76h2M101 76h2M112 76h10M30 77h1M102 77h2M110 77h11M30 78h1M102 78h2M108 78h12M30 79h1M103 79h2M106 79h13M31 80h1M103 80h14M31 81h1M103 81h11M31 82h1M104 82h8M31 83h1M102 83h6M31 84h2M101 84h4M31 85h3M100 85h4M32 86h2M99 86h4M33 87h1M97 87h2M100 87h3M96 88h2M100 88h2M34 89h1M95 89h2M99 89h2M34 90h1M94 90h2M98 90h3M34 91h1M92 91h2M98 91h2M91 92h2M97 92h2M35 93h1M90 93h2M96 93h3M35 94h1M96 94h2M95 95h2M36 96h1M94 96h3M36 97h1M89 97h1M94 97h2M89 98h1M93 98h2M37 99h1M89 99h1M92 99h2M37 100h1M89 100h1M91 100h2M37 101h1M90 101h3M90 102h2M38 103h1M90 103h1M38 104h1M38 105h1M39 106h1M39 107h1M40 108h1M40 109h1M41 110h1M41 111h1M41 112h1M40 113h1M40 114h1M40 115h1M39 116h1M39 117h1M38 118h2M38 119h1M38 120h1M37 121h2M38 122h1M38 123h2M38 124h2M38 125h2M38 126h2M38 127h2M38 128h2M38 129h2M38 130h2M38 131h2M38 132h2M38 133h2M38 134h2M38 135h3M38 136h3M39 137h3M39 138h4M40 139h4M40 140h4M39 141h4M38 142h4M28 143h2M38 143h3M19 144h12M37 144h3M17 145h5M29 145h3M36 145h3M15 146h3M30 146h2M35 146h4M13 147h3M30 147h3M34 147h4M0 148h9M11 148h3M31 148h6M0 149h12M32 149h4M0 150h10M32 150h3M46 150h2M7 151h1M33 151h1M45 151h3M43 152h5M42 153h6M41 154h8M41 155h7M42 156h5M42 157h4M43 158h1"/>
<path stroke="#00ff98" d="M87 0h1M151 0h3M151 1h3M86 2h1M151 2h3M86 3h1M151 3h3M151 4h3M85 5h1M151 5h3M85 6h1M151 6h3M119 7h4M151 7h3M84 8h1M118 8h6M151 8h3M84 9h1M117 9h2M120 9h4M151 9h3M117 10h1M121 10h4M151 10h3M83 11h1M116 11h2M120 11h4M151 11h3M83 12h1M116 12h7M150 12h3M83 13h1M117 13h5M150 13h2M118 14h3M149 14h3M82 15h1M149 15h2M82 16h1M148 16h3M82 17h1M148 17h2M147 18h3M81 19h1M146 19h3M81 20h1M145 20h4M144 21h4M80 22h1M144 22h4M143 23h4M79 24h1M142 24h4M79 25h1M142 25h4M79 26h1M142 26h4M143 27h3M11 28h4M16 28h1M143 28h3M0 29h9M16 29h2M80 29h1M143 29h2M17 30h1M80 30h1M143 30h2M17 31h2M80 31h1M112 31h1M143 31h2M18 32h2M80 32h1M110 32h2M142 32h2M19 33h3M108 33h4M142 33h2M19 34h5M81 34h1M105 34h4M110 34h2M142 34h2M21 35h3M82 35h2M102 35h5M110 35h2M142 35h2M22 36h2M84 36h2M98 36h6M109 36h2M141 36h2M22 37h2M86 37h2M94 37h6M109 37h2M141 37h2M22 38h2M88 38h2M91 38h5M109 38h2M141 38h2M23 39h1M90 39h2M109 39h2M140 39h3M23 40h2M108 40h2M140 40h3M24 41h2M107 41h2M140 41h3M25 42h2M107 42h2M140 42h3M26 43h2M106 43h2M140 43h3M27 44h1M105 44h2M140 44h3M27 45h1M105 45h1M140 45h3M27 46h1M104 46h2M140 46h3M27 47h1M104 47h1M141 47h2M104 48h1M141 48h2M28 49h1M103 49h1M141 49h2M28 50h1M103 50h1M141 50h2M28 51h1M103 51h1M141 51h2M28 52h1M102 52h1M141 52h2M28 53h1M102 53h1M141 53h2M28 54h1M102 54h1M140 54h2M28 55h1M101 55h1M139 55h3M29 56h1M101 56h1M138 56h3M29 57h1M100 57h2M138 57h2M29 58h1M100 58h2M137 58h2M29 59h1M100 59h2M136 59h2M29 60h1M100 60h2M135 60h2M29 61h1M100 61h2M134 61h2M29 62h1M100 62h2M132 62h3M29 63h1M100 63h2M130 63h4M29 64h1M100 64h2M128 64h5M29 65h1M100 65h2M125 65h6M29 66h1M100 66h2M123 66h5M29 67h1M101 67h1M120 67h6M29 68h1M101 68h1M118 68h6M101 69h2M116 69h7M28 70h1M101 70h2M114 70h8M28 71h1M101 71h2M112 71h9M28 72h1M102 72h2M110 72h10M28 73h1M102 73h2M108 73h11M28 74h1M102 74h2M106 74h11M28 75h1M103 75h12M28 76h1M103 76h9M29 77h1M104 77h6M29 78h1M104 78h4M29 79h1M105 79h1M29 80h2M30 81h1M30 82h1M30 83h1M30 84h1M30 85h1M30 86h2M31 87h2M99 87h1M32 88h2M98 88h2M33 89h1M97 89h2M33 90h1M96 90h2M94 91h4M34 92h1M93 92h4M34 93h1M92 93h4M34 94h1M90 94h2M93 94h3M35 95h1M90 95h1M93 95h2M35 96h1M92 96h2M91 97h3M36 98h1M90 98h3M36 99h1M90 99h2M36 100h1M90 100h1M36 101h1M37 102h1M37 103h1M37 104h1M37 105h1M38 106h1M38 107h1M39 108h1M39 109h1M40 110h1M40 111h1M40 112h1M39 113h1M39 114h1M39 115h1M38 116h1M38 117h1M37 118h1M37 119h1M37 120h1M36 121h1M36 122h2M36 123h2M36 124h2M36 125h2M36 126h2M36 127h2M36 128h2M36 129h2M36 130h2M36 131h2M36 132h2M36 133h2M36 134h2M36 135h2M36 136h2M35 137h4M36 138h3M37 139h3M37 140h3M36 141h3M23 142h9M35 142h3M18 143h10M30 143h3M34 143h4M16 144h3M31 144h6M0 145h11M14 145h3M32 145h4M0 146h15M32 146h3M0 147h13M33 147h1M9 148h2"/>
<path stroke="#00ff86" d="M149 0h2M87 1h1M149 1h2M87 2h1M149 2h2M149 3h2M86 4h1M149 4h2M86 5h1M119 5h6M149 5h2M86 6h1M118 6h8M149 6h2M85 7h1M117 7h2M123 7h4M149 7h2M85 8h1M116 8h2M124 8h4M149 8h2M85 9h1M116 9h1M124 9h4M149 9h2M84 10h1M115 10h2M125 10h4M149 10h2M84 11h1M115 11h1M124 11h4M148 11h3M84 12h1M115 12h1M123 12h4M148 12h2M115 13h2M122 13h4M147 13h3M83 14h1M115 14h3M121 14h4M146 14h3M83 15h1M115 15h9M145 15h4M83 16h1M116 16h6M145 16h3M117 17h4M144 17h4M82 18h1M118 18h2M143 18h4M82 19h1M142 19h4M141 20h4M81 21h1M140 21h4M139 22h5M80 23h1M139 23h4M80 24h1M138 24h4M80 25h1M138 25h4M80 26h1M138 26h4M80 27h1M139 27h4M15 28h1M80 28h1M139 28h4M9 29h5M15 29h1M114 29h1M139 29h4M0 30h8M15 30h2M111 30h4M140 30h3M16 31h1M109 31h3M113 31h2M140 31h3M17 32h1M81 32h1M106 32h4M112 32h2M140 32h2M17 33h2M81 33h1M104 33h4M112 33h2M140 33h2M18 34h1M82 34h2M100 34h5M112 34h2M140 34h2M18 35h3M84 35h2M96 35h6M112 35h2M139 35h3M19 36h3M86 36h2M93 36h5M111 36h3M139 36h2M20 37h2M88 37h2M91 37h3M111 37h2M139 37h2M21 38h1M90 38h1M111 38h2M139 38h2M21 39h2M111 39h2M138 39h2M22 40h1M110 40h2M138 40h2M23 41h1M109 41h2M138 41h2M23 42h2M109 42h2M138 42h2M24 43h2M108 43h2M138 43h2M25 44h2M107 44h2M138 44h2M26 45h1M106 45h3M138 45h2M106 46h2M138 46h2M105 47h2M138 47h3M27 48h1M105 48h1M138 48h3M27 49h1M104 49h2M139 49h2M27 50h1M104 50h1M139 50h2M27 51h1M104 51h1M139 51h2M27 52h1M103 52h1M139 52h2M27 53h1M103 53h1M139 53h2M27 54h1M103 54h1M138 54h2M27 55h1M102 55h1M137 55h2M28 56h1M102 56h1M136 56h2M28 57h1M102 57h1M135 57h3M102 58h1M134 58h3M102 59h1M118 59h2M133 59h3M28 60h1M102 60h1M117 60h4M131 60h4M28 61h1M102 61h2M116 61h5M129 61h5M28 62h1M102 62h2M115 62h7M127 62h5M28 63h1M102 63h2M114 63h9M124 63h6M28 64h1M102 64h2M113 64h15M28 65h1M102 65h2M112 65h13M28 66h1M102 66h2M111 66h12M28 67h1M102 67h2M110 67h10M28 68h1M102 68h2M109 68h9M28 69h1M103 69h1M107 69h9M103 70h11M27 71h1M103 71h9M27 72h1M104 72h6M27 73h1M104 73h4M27 74h1M104 74h2M27 75h1M27 76h1M27 77h2M28 78h1M28 79h1M28 80h1M29 81h1M29 82h1M29 83h1M29 84h1M28 85h2M28 86h2M28 87h3M29 88h3M30 89h3M31 90h2M32 91h2M33 92h1M92 94h1M34 95h1M91 95h2M34 96h1M90 96h2M35 97h1M90 97h1M35 98h1M35 99h1M35 100h1M36 102h1M36 103h1M36 104h1M37 106h1M37 107h1M38 108h1M38 109h1M39 110h1M39 111h1M39 112h1M38 113h1M38 114h1M38 115h1M37 116h1M37 117h1M36 118h1M36 119h1M36 120h1M35 121h1M35 122h1M35 123h1M34 124h2M34 125h2M34 126h2M34 127h2M34 128h2M34 129h2M34 130h2M34 131h2M34 132h2M34 133h2M34 134h2M34 135h2M34 136h2M34 137h1M34 138h2M33 139h4M29 140h8M19 141h17M0 142h13M17 142h6M32 142h3M0 143h18M33 143h1M0 144h16M11 145h3"/>
<path stroke="#00ff75" d="M88 0h1M142 0h7M88 1h1M141 1h8M88 2h1M140 2h9M87 3h1M119 3h9M139 3h10M87 4h1M118 4h10M138 4h11M87 5h1M117 5h2M125 5h4M138 5h11M116 6h2M126 6h4M137 6h12M86 7h1M116 7h1M127 7h4M136 7h13M86 8h1M115 8h1M128 8h4M135 8h14M114 9h2M128 9h5M134 9h15M85 10h1M113 10h2M129 10h20M85 11h1M113 11h2M128 11h4M133 11h15M85 12h1M113 12h2M127 12h4M133 12h15M84 13h1M113 13h2M126 13h4M133 13h14M84 14h1M113 14h2M125 14h4M133 14h13M84 15h1M113 15h2M124 15h4M133 15h12M113 16h3M122 16h5M133 16h12M83 17h1M114 17h3M121 17h4M133 17h11M83 18h1M115 18h3M120 18h4M133 18h10M116 19h7M133 19h9M82 20h1M116 20h6M133 20h8M117 21h4M133 21h7M81 22h1M118 22h2M133 22h6M81 23h1M133 23h6M133 24h5M134 25h4M117 26h1M134 26h4M81 27h1M115 27h2M134 27h5M81 28h1M112 28h5M135 28h4M14 29h1M81 29h1M110 29h4M115 29h2M135 29h4M8 30h4M14 30h1M81 30h1M108 30h3M115 30h2M136 30h4M0 31h6M15 31h1M81 31h1M105 31h4M115 31h2M136 31h4M15 32h2M102 32h4M114 32h2M137 32h3M16 33h1M82 33h1M98 33h6M114 33h2M137 33h3M16 34h2M84 34h1M95 34h5M114 34h2M137 34h3M17 35h1M86 35h1M93 35h3M114 35h2M137 35h2M17 36h2M88 36h1M92 36h1M114 36h2M137 36h2M18 37h2M90 37h1M113 37h2M137 37h2M19 38h2M113 38h2M137 38h2M19 39h2M113 39h2M136 39h2M20 40h2M112 40h2M136 40h2M21 41h2M111 41h2M136 41h2M22 42h1M111 42h2M136 42h2M23 43h1M110 43h2M136 43h2M23 44h2M109 44h2M136 44h2M24 45h2M109 45h2M136 45h2M25 46h2M108 46h2M136 46h2M11 47h1M26 47h1M107 47h2M136 47h2M10 48h1M26 48h1M106 48h2M136 48h2M8 49h2M26 49h1M106 49h2M136 49h3M7 50h2M26 50h1M105 50h2M121 50h2M136 50h3M6 51h2M26 51h1M105 51h1M116 51h7M136 51h3M5 52h2M26 52h1M104 52h2M111 52h12M137 52h2M0 53h6M26 53h1M104 53h1M106 53h17M137 53h2M0 54h5M26 54h1M104 54h19M136 54h2M26 55h1M103 55h21M135 55h2M27 56h1M103 56h22M134 56h2M27 57h1M103 57h22M133 57h2M28 58h1M103 58h23M130 58h4M28 59h1M103 59h15M120 59h7M128 59h5M103 60h14M121 60h10M104 61h12M121 61h8M104 62h11M122 62h5M104 63h10M123 63h1M104 64h9M104 65h8M104 66h7M104 67h6M104 68h5M27 69h1M104 69h3M27 70h1M26 73h1M26 74h1M26 75h1M26 76h1M26 77h1M27 78h1M27 79h1M27 80h1M27 81h2M28 82h1M28 83h1M27 84h2M27 85h1M27 86h1M27 87h1M27 88h2M27 89h3M28 90h3M29 91h3M30 92h3M31 93h3M32 94h2M33 95h1M34 97h1M34 98h1M34 99h1M35 101h1M35 102h1M35 103h1M36 105h1M36 106h1M36 107h1M37 108h1M37 109h1M38 110h1M38 111h1M38 112h1M37 113h1M37 114h1M36 115h2M36 116h1M36 117h1M35 118h1M35 119h1M35 120h1M34 121h1M0 122h5M34 122h1M0 123h7M34 123h1M0 124h10M32 124h2M0 125h14M27 125h7M0 126h14M26 126h8M0 127h14M25 127h9M0 128h13M25 128h9M0 129h13M24 129h10M0 130h13M24 130h10M0 131h12M23 131h11M0 132h12M23 132h11M0 133h13M22 133h12M0 134h14M22 134h12M0 135h15M21 135h13M0 136h16M21 136h13M0 137h17M20 137h14M0 138h18M20 138h14M0 139h33M0 140h29M0 141h19M13 142h4"/>
<path stroke="#00ff64" d="M89 0h1M126 0h3M138 0h4M89 1h1M119 1h11M137 1h4M118 2h13M136 2h4M88 3h1M117 3h2M128 3h4M135 3h4M88 4h1M116 4h2M128 4h5M134 4h4M115 5h2M129 5h9M87 6h1M115 6h1M130 6h7M87 7h1M114 7h2M131 7h5M113 8h2M132 8h3M86 9h1M112 9h2M133 9h1M86 10h1M111 10h2M86 11h1M111 11h2M132 11h1M111 12h2M131 12h2M85 13h1M111 13h2M130 13h3M85 14h1M111 14h2M129 14h4M85 15h1M111 15h2M128 15h5M84 16h1M111 16h2M127 16h6M84 17h1M111 17h3M125 17h8M111 18h4M124 18h9M83 19h1M112 19h4M123 19h10M83 20h1M113 20h3M122 20h11M82 21h1M114 21h3M121 21h12M82 22h1M115 22h3M120 22h13M116 23h17M81 24h1M117 24h16M81 25h1M116 25h18M81 26h1M113 26h4M118 26h16M111 27h4M117 27h17M109 28h3M117 28h18M106 29h4M117 29h18M12 30h2M82 30h1M104 30h4M117 30h2M121 30h15M6 31h5M13 31h2M82 31h1M100 31h5M117 31h2M124 31h12M14 32h1M82 32h1M97 32h5M116 32h2M127 32h10M14 33h2M83 33h2M95 33h3M116 33h2M130 33h7M15 34h1M85 34h2M94 34h1M116 34h2M133 34h4M15 35h2M87 35h2M92 35h1M116 35h2M134 35h3M16 36h1M89 36h3M116 36h2M134 36h3M17 37h1M115 37h2M135 37h2M17 38h2M115 38h2M135 38h2M17 39h2M115 39h2M134 39h2M16 40h4M114 40h2M134 40h2M15 41h6M113 41h2M134 41h2M14 42h4M20 42h2M113 42h2M134 42h2M13 43h4M21 43h2M112 43h2M127 43h3M134 43h2M12 44h4M22 44h1M111 44h2M122 44h8M134 44h2M11 45h4M23 45h1M111 45h2M117 45h13M134 45h2M10 46h4M23 46h2M110 46h20M134 46h2M9 47h2M12 47h1M24 47h2M109 47h21M134 47h2M8 48h2M11 48h1M25 48h1M108 48h22M134 48h2M7 49h1M10 49h2M25 49h1M108 49h22M134 49h2M6 50h1M9 50h2M25 50h1M107 50h14M123 50h7M134 50h2M5 51h1M8 51h2M25 51h1M106 51h10M123 51h7M134 51h2M0 52h5M7 52h2M25 52h1M106 52h5M123 52h7M134 52h3M6 53h2M25 53h1M105 53h1M123 53h7M134 53h3M5 54h2M25 54h1M123 54h7M134 54h2M0 55h6M124 55h7M132 55h3M26 56h1M125 56h9M26 57h1M125 57h8M27 58h1M126 58h4M27 59h1M127 59h1M27 60h1M27 61h1M27 62h1M27 63h1M27 64h1M27 65h1M27 66h1M27 67h1M27 68h1M26 70h1M26 71h1M26 72h1M25 74h1M25 75h1M25 76h1M25 77h1M25 78h2M26 79h1M26 80h1M26 81h1M27 82h1M26 83h2M26 84h1M26 85h1M26 86h1M26 87h1M26 88h1M26 89h1M26 90h2M27 91h2M28 92h2M29 93h2M30 94h2M31 95h2M32 96h2M32 97h2M33 98h1M34 100h1M34 101h1M34 102h1M35 104h1M35 105h1M35 106h1M35 107h1M36 108h1M36 109h1M37 110h1M37 111h1M37 112h1M36 113h1M36 114h1M35 115h1M35 116h1M35 117h1M34 118h1M0 119h5M34 119h1M0 120h7M34 120h1M0 121h9M33 121h1M5 122h7M28 122h6M7 123h9M23 123h11M10 124h22M14 125h13M14 126h12M14 127h11M13 128h12M13 129h11M13 130h11M12 131h11M12 132h11M13 133h9M14 134h8M15 135h6M16 136h5M17 137h3M18 138h2"/>
<path stroke="#5aff50" d="M90 0h2M118 0h8M129 0h9M90 1h1M117 1h2M130 1h7M89 2h1M116 2h2M131 2h5M89 3h1M115 3h2M132 3h3M89 4h1M115 4h1M133 4h1M88 5h1M114 5h1M88 6h1M113 6h2M88 7h1M112 7h2M87 8h1M111 8h2M87 9h1M111 9h1M87 10h1M110 10h1M110 11h1M86 12h1M110 12h1M86 13h1M110 13h1M86 14h1M110 14h1M110 15h1M85 16h1M109 16h2M109 17h2M84 18h1M109 18h2M84 19h1M109 19h3M109 20h4M83 21h1M110 21h4M111 22h4M82 23h1M112 23h4M82 24h1M113 24h4M112 25h4M82 26h1M110 26h3M82 27h1M108 27h3M82 28h1M105 28h4M82 29h1M102 29h4M99 30h5M119 30h2M11 31h2M97 31h3M119 31h5M0 32h9M12 32h2M83 32h2M96 32h1M118 32h9M13 33h1M85 33h2M94 33h1M118 33h12M13 34h2M87 34h2M92 34h2M118 34h15M14 35h1M89 35h3M118 35h16M15 36h1M118 36h16M15 37h2M117 37h18M16 38h1M117 38h18M16 39h1M117 39h17M15 40h1M116 40h18M14 41h1M115 41h19M13 42h1M18 42h2M115 42h19M12 43h1M17 43h4M114 43h13M130 43h4M11 44h1M16 44h2M20 44h2M113 44h9M130 44h4M10 45h1M15 45h2M21 45h2M113 45h4M130 45h4M9 46h1M14 46h2M22 46h1M130 46h4M8 47h1M13 47h2M22 47h2M130 47h4M7 48h1M12 48h2M23 48h2M130 48h4M6 49h1M12 49h1M24 49h1M130 49h4M0 50h6M11 50h2M24 50h1M130 50h4M0 51h5M10 51h2M24 51h1M130 51h4M9 52h2M24 52h1M130 52h4M8 53h2M24 53h1M130 53h4M7 54h2M24 54h1M130 54h4M6 55h2M25 55h1M131 55h1M0 56h7M25 56h1M0 57h6M25 57h1M26 58h1M26 59h1M26 60h1M26 61h1M26 62h1M26 63h1M26 64h1M26 65h1M26 66h1M26 67h1M26 68h1M26 69h1M25 71h1M25 72h1M25 73h1M24 76h1M24 77h1M24 78h1M25 79h1M25 80h1M25 81h1M25 82h2M25 83h1M25 84h1M25 85h1M25 86h1M25 87h1M25 88h1M25 89h1M24 90h2M24 91h3M25 92h3M26 93h3M27 94h3M28 95h3M29 96h3M30 97h2M30 98h3M30 99h4M30 100h4M31 101h3M33 102h1M34 103h1M34 104h1M34 105h1M34 106h1M35 108h1M35 109h1M36 110h1M36 111h1M36 112h1M35 113h1M35 114h1M34 115h1M0 116h6M34 116h1M0 117h7M34 117h1M0 118h9M33 118h1M5 119h6M28 119h6M7 120h8M24 120h10M9 121h9M20 121h13M12 122h16M16 123h7"/>
<path stroke="#78ff35" d="M92 0h2M116 0h2M91 1h2M115 1h2M90 2h2M114 2h2M90 3h1M114 3h1M113 4h2M89 5h1M112 5h2M89 6h1M111 6h2M110 7h2M88 8h1M110 8h1M88 9h1M109 9h2M108 10h2M87 11h1M108 11h2M87 12h1M108 12h2M87 13h1M108 13h2M108 14h2M86 15h1M108 15h2M108 16h1M85 17h1M108 17h1M85 18h1M108 18h1M108 19h1M84 20h1M108 20h1M107 21h3M83 22h1M108 22h3M83 23h1M109 23h3M110 24h3M82 25h1M109 25h3M106 26h4M103 27h5M83 28h1M101 28h4M83 29h1M99 29h3M83 30h1M97 30h2M83 31h1M96 31h1M9 32h3M85 32h1M94 32h2M0 33h8M11 33h2M87 33h1M92 33h2M12 34h1M89 34h1M91 34h1M13 35h1M13 36h2M14 37h1M14 38h2M15 39h1M14 40h1M13 41h1M11 42h2M10 43h2M9 44h2M18 44h2M8 45h2M17 45h4M7 46h2M16 46h2M20 46h2M6 47h2M15 47h2M21 47h1M5 48h2M14 48h2M22 48h1M0 49h6M13 49h2M22 49h2M13 50h1M23 50h1M12 51h2M23 51h1M11 52h2M23 52h1M10 53h2M23 53h1M9 54h2M23 54h1M8 55h2M24 55h1M7 56h2M24 56h1M6 57h1M24 57h1M0 58h6M25 58h1M0 59h5M25 59h1M25 60h1M25 68h1M25 69h1M25 70h1M24 73h1M24 74h1M24 75h1M23 77h1M23 78h1M23 79h2M24 80h1M24 81h1M24 82h1M24 83h1M24 84h1M24 85h1M24 86h1M24 87h1M24 88h1M23 89h2M23 90h1M23 91h1M23 92h2M24 93h2M25 94h2M26 95h2M27 96h2M27 97h3M27 98h3M27 99h3M27 100h3M27 101h4M27 102h6M27 103h7M30 104h4M32 105h2M34 107h1M34 108h1M34 109h1M35 110h1M35 111h1M34 112h2M0 113h6M34 113h1M0 114h8M34 114h1M0 115h10M33 115h1M6 116h5M29 116h5M7 117h6M25 117h9M9 118h8M21 118h12M11 119h17M15 120h9M18 121h2"/>
<path stroke="#96ff1b" d="M94 0h2M113 0h3M93 1h2M113 1h2M92 2h2M113 2h1M91 3h2M112 3h2M90 4h3M111 4h2M90 5h2M110 5h2M90 6h1M110 6h1M89 7h1M109 7h1M89 8h1M108 8h2M89 9h1M107 9h2M88 10h1M106 10h2M88 11h1M106 11h2M88 12h1M106 12h2M106 13h2M87 14h1M106 14h2M106 15h2M86 16h1M106 16h2M86 17h1M106 17h2M106 18h2M85 19h1M106 19h2M106 20h2M84 21h1M106 21h1M84 22h1M106 22h2M106 23h3M83 24h1M106 24h4M83 25h1M105 25h4M83 26h1M103 26h3M83 27h1M101 27h2M99 28h2M98 29h1M84 30h1M96 30h1M84 31h2M94 31h2M86 32h2M93 32h1M8 33h3M88 33h2M91 33h1M0 34h6M11 34h1M90 34h1M11 35h2M12 36h1M12 37h2M13 38h1M13 39h2M12 40h2M11 41h2M10 42h1M9 43h1M8 44h1M7 45h1M6 46h1M18 46h2M5 47h1M17 47h4M0 48h5M16 48h2M20 48h2M15 49h2M21 49h1M14 50h2M22 50h1M14 51h1M22 51h1M13 52h2M22 52h1M12 53h2M22 53h1M11 54h2M22 54h1M10 55h1M23 55h1M9 56h1M23 56h1M7 57h2M23 57h1M6 58h2M24 58h1M5 59h2M24 59h1M0 60h6M24 60h1M0 61h5M25 61h1M25 62h1M25 63h1M25 64h1M25 65h1M25 66h1M25 67h1M24 70h1M24 71h1M24 72h1M23 74h1M23 75h1M23 76h1M22 78h1M22 79h1M23 80h1M23 81h1M23 82h1M23 83h1M23 84h1M23 85h1M23 86h1M23 87h1M22 88h2M22 89h1M22 90h1M22 91h1M22 92h1M22 93h2M22 94h3M23 95h3M24 96h3M24 97h3M24 98h3M24 99h3M24 100h3M24 101h3M24 102h3M24 103h3M24 104h6M24 105h8M26 106h8M28 107h6M0 108h8M31 108h3M0 109h8M33 109h1M0 110h8M34 110h1M0 111h8M34 111h1M0 112h10M33 112h1M6 113h6M30 113h4M8 114h6M26 114h8M10 115h6M23 115h10M11 116h18M13 117h12M17 118h4"/>
<path stroke="#b4ff00" d="M96 0h3M108 0h5M95 1h3M108 1h5M94 2h3M108 2h5M93 3h3M107 3h5M93 4h2M107 4h4M92 5h2M107 5h3M91 6h2M106 6h4M90 7h2M106 7h3M90 8h1M105 8h3M105 9h2M89 10h1M105 10h1M89 11h1M105 11h1M105 12h1M88 13h1M105 13h1M88 14h1M105 14h1M87 15h1M105 15h1M87 16h1M104 16h2M104 17h2M86 18h1M104 18h2M86 19h1M104 19h2M85 20h1M104 20h2M85 21h1M104 21h2M104 22h2M84 23h1M104 23h2M104 24h2M103 25h2M84 26h1M101 26h2M84 27h1M100 27h1M84 28h1M98 28h1M84 29h1M96 29h2M85 30h1M95 30h1M86 31h2M93 31h1M88 32h2M91 32h2M90 33h1M6 34h5M10 35h1M10 36h2M11 37h1M12 38h1M12 39h1M11 40h1M10 41h1M9 42h1M8 43h1M7 44h1M6 45h1M0 46h6M0 47h5M18 48h2M17 49h4M16 50h2M20 50h2M15 51h2M21 51h1M15 52h1M21 52h1M14 53h1M21 53h1M13 54h1M21 54h1M11 55h2M22 55h1M10 56h2M22 56h1M9 57h2M22 57h1M8 58h2M23 58h1M7 59h2M23 59h1M6 60h2M5 61h2M24 61h1M0 62h6M24 62h1M0 63h5M24 63h1M24 64h1M24 65h1M24 66h1M24 67h1M24 68h1M24 69h1M23 71h1M23 72h1M23 73h1M22 75h1M22 76h1M22 77h1M21 80h2M22 81h1M22 82h1M22 83h1M22 84h1M22 85h1M22 86h1M21 87h2M21 88h1M21 89h1M21 90h1M21 91h1M21 92h1M21 93h1M21 94h1M20 95h3M21 96h3M22 97h2M22 98h2M22 99h2M0 100h5M22 100h2M0 101h9M22 101h2M0 102h13M22 102h2M0 103h13M22 103h2M0 104h13M22 104h2M0 105h13M22 105h2M0 106h13M22 106h4M0 107h13M22 107h6M8 108h5M22 108h9M8 109h5M24 109h9M8 110h5M27 110h7M8 111h6M28 111h6M10 112h6M24 112h9M12 113h6M20 113h10M14 114h12M16 115h7"/>
<path stroke="#cdff00" d="M99 0h9M98 1h10M97 2h11M96 3h11M95 4h12M94 5h13M93 6h13M92 7h14M91 8h14M90 9h15M90 10h15M94 11h11M89 12h1M103 12h2M89 13h1M103 13h2M103 14h2M88 15h1M103 15h2M103 16h1M87 17h1M103 17h1M87 18h1M103 18h1M103 19h1M86 20h1M103 20h1M103 21h1M85 22h1M103 22h1M85 23h1M103 23h1M84 24h1M103 24h1M84 25h1M102 25h1M100 26h1M98 27h2M85 28h1M97 28h1M85 29h1M95 29h1M86 30h1M93 30h2M88 31h1M91 31h2M90 32h1M0 35h10M9 36h1M10 37h1M10 38h2M10 39h2M9 40h2M8 41h2M7 42h2M6 43h2M5 44h2M0 45h6M18 50h2M17 51h4M16 52h2M20 52h1M15 53h2M20 53h1M14 54h2M20 54h1M13 55h2M21 55h1M12 56h2M21 56h1M11 57h2M21 57h1M10 58h2M22 58h1M9 59h2M22 59h1M8 60h2M23 60h1M7 61h2M23 61h1M6 62h2M23 62h1M5 63h2M0 64h6M23 68h1M23 69h1M23 70h1M22 73h1M22 74h1M21 77h1M21 78h1M21 79h1M21 81h1M21 82h1M21 83h1M21 84h1M20 85h2M20 86h2M20 87h1M20 88h1M20 89h1M20 90h1M20 91h1M20 92h1M7 93h2M20 93h1M0 94h12M19 94h2M0 95h15M19 95h1M0 96h18M19 96h2M0 97h22M0 98h22M0 99h22M5 100h17M9 101h13M13 102h9M13 103h9M13 104h9M13 105h9M13 106h9M13 107h9M13 108h9M13 109h11M13 110h14M14 111h14M16 112h8M18 113h2"/>
<path stroke="#e6ff00" d="M90 11h4M90 12h13M101 13h2M89 14h1M102 14h1M102 15h1M88 16h1M102 16h1M88 17h1M102 17h1M102 18h1M87 19h1M101 19h2M101 20h2M86 21h1M101 21h2M86 22h1M101 22h2M101 23h2M85 24h1M101 24h2M85 25h1M100 25h2M85 26h1M98 26h2M85 27h1M97 27h1M95 28h2M86 29h1M93 29h2M87 30h2M92 30h1M89 31h2M0 36h9M8 37h2M9 38h1M9 39h1M8 40h1M7 41h1M6 42h1M0 43h6M0 44h5M18 52h2M17 53h3M16 54h2M19 54h1M15 55h2M20 55h1M14 56h2M20 56h1M13 57h2M12 58h2M21 58h1M11 59h2M21 59h1M10 60h2M22 60h1M9 61h2M22 61h1M8 62h2M22 62h1M7 63h2M23 63h1M6 64h2M23 64h1M0 65h7M23 65h1M0 66h6M23 66h1M23 67h1M22 70h1M22 71h1M22 72h1M21 74h1M21 75h1M21 76h1M20 78h1M20 79h1M20 80h1M20 81h1M20 82h1M20 83h1M19 84h2M19 85h1M13 86h4M19 86h1M8 87h12M0 88h20M0 89h20M0 90h20M0 91h20M0 92h20M0 93h7M9 93h11M12 94h7M15 95h4M18 96h1"/>
<path stroke="#ff0" d="M90 13h11M91 14h11M89 15h1M100 15h2M89 16h1M100 16h2M100 17h2M88 18h1M100 18h2M100 19h1M87 20h1M100 20h1M87 21h1M100 21h1M100 22h1M86 23h1M100 23h1M100 24h1M99 25h1M86 26h1M97 26h1M86 27h1M95 27h2M86 28h1M94 28h1M87 29h2M92 29h1M89 30h3M0 37h6M7 37h1M7 38h2M7 39h2M6 40h2M5 41h2M0 42h6M18 54h1M17 55h3M16 56h4M15 57h3M20 57h1M14 58h3M20 58h1M13 59h3M20 59h1M12 60h3M21 60h1M11 61h2M21 61h1M10 62h2M21 62h1M9 63h2M22 63h1M8 64h2M22 64h1M7 65h2M22 65h1M6 66h2M22 66h1M0 67h7M22 67h1M0 68h6M22 68h1M0 69h6M22 69h1M0 70h6M0 71h6M21 71h1M0 72h6M21 72h1M0 73h6M21 73h1M0 74h6M0 75h6M20 75h1M0 76h5M20 76h1M0 77h5M20 77h1M0 78h5M0 79h5M19 79h1M0 80h5M19 80h1M0 81h5M14 81h6M0 82h20M0 83h20M0 84h19M0 85h19M0 86h13M17 86h2M0 87h8"/>
<path stroke="#ffef00" d="M90 14h1M90 15h10M98 16h2M89 17h1M99 17h1M89 18h1M99 18h1M88 19h1M99 19h1M88 20h1M99 20h1M99 21h1M87 22h1M98 22h2M98 23h2M86 24h1M98 24h2M86 25h1M97 25h2M96 26h1M94 27h1M87 28h1M92 28h2M89 29h1M91 29h1M6 37h1M0 38h5M6 38h1M6 39h1M5 40h1M0 41h5M18 57h2M17 58h3M16 59h2M19 59h1M15 60h2M20 60h1M13 61h3M20 61h1M12 62h3M20 62h1M11 63h3M21 63h1M10 64h3M21 64h1M9 65h3M8 66h3M7 67h3M6 68h3M21 68h1M6 69h3M21 69h1M6 70h3M21 70h1M6 71h3M6 72h3M20 72h1M6 73h3M20 73h1M6 74h3M20 74h1M6 75h2M5 76h3M5 77h3M19 77h1M5 78h3M16 78h4M5 79h14M5 80h14M5 81h9"/>
<path stroke="#ffde00" d="M90 16h8M90 17h9M97 18h2M89 19h1M97 19h2M97 20h2M88 21h1M97 21h2M88 22h1M97 22h1M87 23h1M97 23h1M87 24h1M97 24h1M87 25h1M96 25h1M87 26h1M94 26h2M87 27h1M93 27h1M88 28h2M91 28h1M90 29h1M5 38h1M0 39h6M0 40h5M18 59h1M17 60h3M16 61h4M15 62h3M19 62h1M14 63h3M20 63h1M13 64h3M20 64h1M12 65h3M21 65h1M11 66h3M21 66h1M10 67h3M21 67h1M9 68h3M9 69h3M20 69h1M9 70h3M20 70h1M9 71h3M20 71h1M9 72h3M9 73h2M9 74h2M19 74h1M8 75h3M17 75h3M8 76h12M8 77h11M8 78h8"/>
<path stroke="#ffce00" d="M90 18h7M94 19h3M89 20h1M96 20h1M89 21h1M96 21h1M96 22h1M88 23h1M96 23h1M96 24h1M94 25h2M93 26h1M88 27h2M91 27h2M90 28h1M18 62h1M17 63h3M16 64h4M15 65h3M20 65h1M14 66h3M20 66h1M13 67h2M20 67h1M12 68h3M20 68h1M12 69h3M12 70h3M12 71h3M19 71h1M12 72h2M18 72h2M11 73h9M11 74h8M11 75h6"/>
<path stroke="#ffbe00" d="M90 19h4M90 20h6M94 21h2M89 22h1M94 22h2M94 23h2M88 24h1M94 24h2M88 25h1M93 25h1M88 26h2M91 26h2M90 27h1M18 65h2M17 66h3M15 67h3M19 67h1M15 68h3M19 68h1M15 69h3M19 69h1M15 70h5M15 71h4M14 72h4"/>
<path stroke="#ffad00" d="M90 21h4M91 22h3M89 23h1M93 23h1M89 24h1M93 24h1M89 25h1M92 25h1M90 26h1M18 67h1M18 68h1M18 69h1"/>
<path stroke="#ff9d00" d="M90 22h1M90 23h3M91 24h2M90 25h2"/>
<path stroke="#ff8d00" d="M90 24h1"/>
</g></g></g>
<path transform="translate(289 1043.1)" d="M690.6 -4.7 L688.3 20.4 L685.5 33.6 L685.1 65.4 L665.6 83.7 L662.8 101.7 L660.9 145.2 L655.2 171.6 L625.9 197.2 L617.4 228.4 L587.2 257.7 L579.6 281.3 L578.7 314.4 L522.9 341.8 L521.6 367 L487.9 367.4 L469 372.1 L431.2 372.7 L404.7 367 L370.7 372.1 L376.4 389.7 L351 390.7 L325.9 419 L308 410.5 L247.5 438.9 L194.5 484.3 L146.3 533.4 L146.3 605.3 L150.1 622.3 L150.1 637.4 L146.3 656.3 L136.9 686.6 L104.7 711.2" fill="none" stroke="#000" stroke-width="2.8" stroke-linejoin="round"/>
<g transform="translate(1226.2 1043.1)" clip-path="url(#pc)">
<rect x="-20" y="-20" width="742.5" height="749.1" fill="#0ff"/>
<g filter="url(#bl)"><g transform="translate(-12 -10) scale(4)" fill="none" stroke-width="1.08" shape-rendering="crispEdges">
<path stroke="#00f" d="M176 39h6"/>
<path stroke="#0010ff" d="M176 38h6M175 39h1M175 40h7M176 110h6M176 111h6"/>
<path stroke="#0020ff" d="M176 37h6M175 38h1M174 39h1M174 40h1M175 41h7M176 107h6M176 108h6M175 109h7M175 110h1M174 111h2M174 112h8"/>
<path stroke="#0030ff" d="M176 36h6M175 37h1M174 38h1M173 39h1M173 40h1M173 41h2M176 104h6M176 105h6M175 106h7M175 107h1M174 108h2M174 109h1M174 110h1M173 111h1M173 112h1M173 113h9M174 114h8"/>
<path stroke="#0040ff" d="M176 35h6M175 36h1M174 37h1M173 38h1M172 41h1M172 42h10M176 101h6M176 102h6M175 103h7M175 104h1M174 105h2M174 106h1M174 107h1M173 108h1M173 109h1M172 110h2M172 111h1M172 112h1M172 113h1M172 114h2M172 115h10"/>
<path stroke="#0050ff" d="M176 34h6M175 35h1M174 36h1M173 37h1M172 39h1M172 40h1M171 43h11M20 80h2M19 81h2M19 82h1M19 83h1M176 98h6M176 99h6M175 100h7M175 101h1M174 102h2M174 103h1M174 104h1M173 105h1M173 106h1M173 107h1M172 108h1M172 109h1M171 110h1M171 111h1M171 112h1M171 113h1M171 114h1M171 115h1M171 116h11M175 117h7"/>
<path stroke="#0060ff" d="M175 34h1M174 35h1M172 38h1M171 39h1M171 40h1M171 41h1M171 42h1M171 44h11M23 77h2M21 78h3M20 79h3M19 80h1M22 80h1M21 81h1M18 82h1M20 82h1M18 83h1M20 83h1M18 84h2M176 96h6M175 97h7M175 98h1M175 99h1M174 100h1M174 101h1M173 102h1M173 103h1M173 104h1M172 105h1M172 106h1M171 107h2M171 108h1M171 109h1M170 110h1M170 111h1M170 112h1M170 113h1M170 114h1M170 115h1M170 116h1M170 117h5M173 118h9"/>
<path stroke="#0070ff" d="M175 33h7M173 36h1M172 37h1M171 38h1M170 39h1M170 40h1M170 41h1M170 42h1M170 43h1M170 44h1M170 45h12M26 74h2M24 75h3M23 76h3M21 77h2M25 77h1M19 78h2M24 78h1M19 79h1M23 79h2M18 80h1M23 80h1M18 81h1M22 81h1M21 82h2M17 83h1M21 83h1M17 84h1M20 84h1M18 85h3M18 86h2M175 95h7M174 96h2M174 97h1M173 98h2M173 99h2M173 100h1M173 101h1M172 102h1M172 103h1M171 104h2M171 105h1M171 106h1M170 107h1M170 108h1M169 109h2M169 110h1M169 111h1M169 112h1M169 113h1M169 114h1M169 115h1M169 116h1M168 117h2M168 118h5M171 119h11M176 120h6"/>
<path stroke="#0080ff" d="M176 32h6M174 34h1M173 35h1M172 36h1M171 37h1M170 38h1M169 40h1M169 41h1M169 42h1M169 43h1M169 44h1M169 45h1M169 46h13M30 70h1M29 71h2M27 72h3M25 73h4M24 74h2M28 74h1M22 75h2M27 75h1M20 76h3M26 76h2M19 77h2M26 77h1M25 78h1M18 79h1M25 79h1M24 80h1M23 81h1M17 82h1M23 82h1M22 83h1M21 84h1M17 85h1M21 85h1M17 86h1M20 86h1M18 87h2M19 88h1M176 93h6M175 94h7M174 95h1M172 96h2M172 97h2M172 98h1M172 99h1M172 100h1M171 101h2M171 102h1M171 103h1M170 104h1M170 105h1M169 106h2M169 107h1M169 108h1M168 109h1M168 110h1M168 111h1M168 112h1M168 113h1M167 114h2M167 115h2M167 116h2M167 117h1M167 118h1M167 119h4M168 120h8M173 121h9M167 148h1M165 149h3M164 150h3M162 151h5M161 152h5M160 153h6M159 154h6M159 155h5M159 156h4M160 157h3"/>
<path stroke="#008fff" d="M176 31h6M175 32h1M174 33h1M173 34h1M172 35h1M171 36h1M170 37h1M169 39h1M168 42h1M168 43h1M168 44h1M168 45h1M168 46h1M168 47h14M32 53h2M32 54h2M31 55h3M31 56h3M32 57h2M32 58h2M32 59h2M32 60h2M32 61h2M32 62h2M32 63h2M32 64h2M32 65h2M32 66h2M32 67h2M32 68h2M30 69h3M28 70h2M31 70h1M27 71h2M31 71h1M25 72h2M30 72h1M23 73h2M29 73h2M22 74h2M29 74h1M20 75h2M28 75h1M19 76h1M28 76h1M27 77h1M18 78h1M26 78h2M26 79h1M25 80h1M17 81h1M24 81h2M24 82h1M23 83h1M16 84h1M22 84h2M16 85h1M22 85h1M16 86h1M21 86h1M17 87h1M20 87h2M18 88h1M20 88h1M18 89h2M175 92h7M174 93h2M173 94h2M172 95h2M171 96h1M170 97h2M170 98h2M170 99h2M170 100h2M170 101h1M170 102h1M170 103h1M169 104h1M169 105h1M168 106h1M168 107h1M168 108h1M167 109h1M167 110h1M166 111h2M166 112h2M166 113h2M166 114h1M166 115h1M166 116h1M166 117h1M166 118h1M166 119h1M166 120h2M166 121h7M171 122h11M175 140h1M174 141h1M172 142h3M170 143h4M169 144h5M167 145h6M165 146h8M164 147h8M162 148h5M168 148h3M161 149h4M168 149h3M160 150h4M167 150h3M159 151h3M167 151h3M158 152h3M166 152h3M157 153h3M166 153h3M156 154h3M165 154h3M156 155h3M164 155h3M156 156h3M163 156h4M156 157h4M163 157h3M156 158h9M157 159h7M158 160h6M160 161h3"/>
<path stroke="#009fff" d="M176 30h6M175 31h1M174 32h1M173 33h1M172 34h1M171 35h1M169 38h1M168 39h1M168 40h1M168 41h1M167 44h1M167 45h1M167 46h1M167 47h1M169 48h13M33 52h1M30 53h2M30 54h2M30 55h1M29 56h2M29 57h3M29 58h3M29 59h3M30 60h2M30 61h2M30 62h2M30 63h2M30 64h2M30 65h2M30 66h2M30 67h2M29 68h3M28 69h2M33 69h1M26 70h2M32 70h2M24 71h3M32 71h1M23 72h2M31 72h1M21 73h2M31 73h1M19 74h3M30 74h1M19 75h1M29 75h2M18 76h1M29 76h1M18 77h1M28 77h1M28 78h1M17 79h1M27 79h1M17 80h1M26 80h1M26 81h1M16 82h1M25 82h1M16 83h1M24 83h2M24 84h1M15 85h1M23 85h1M15 86h1M22 86h1M16 87h1M22 87h1M16 88h2M21 88h1M17 89h1M20 89h1M18 90h3M176 90h6M18 91h2M175 91h7M174 92h1M173 93h1M171 94h2M170 95h2M169 96h2M169 97h1M168 98h2M168 99h2M168 100h2M168 101h2M168 102h2M168 103h2M168 104h1M168 105h1M167 106h1M167 107h1M166 108h2M33 109h1M166 109h1M32 110h2M166 110h1M31 111h4M165 111h1M31 112h3M165 112h1M165 113h1M165 114h1M165 115h1M165 116h1M165 117h1M165 118h1M165 119h1M165 120h1M165 121h1M165 122h6M169 123h13M174 124h8M176 130h6M176 131h6M175 132h7M175 133h7M174 134h8M174 135h8M173 136h9M173 137h9M172 138h10M172 139h10M171 140h4M176 140h6M169 141h5M175 141h7M167 142h5M175 142h7M166 143h4M174 143h8M164 144h5M174 144h8M162 145h5M173 145h9M161 146h4M173 146h3M160 147h4M172 147h3M159 148h3M171 148h4M158 149h3M171 149h3M157 150h3M170 150h4M156 151h3M170 151h3M154 152h4M169 152h3M153 153h4M169 153h3M152 154h4M168 154h3M153 155h3M167 155h4M153 156h3M167 156h3M153 157h3M166 157h3M153 158h3M165 158h3M153 159h4M164 159h3M154 160h4M164 160h3M154 161h6M163 161h3M154 162h11M156 163h8M158 164h6M160 165h3M176 165h6M161 166h1M174 166h8M172 167h10M170 168h12M168 169h14M167 170h15M166 171h16M164 172h18M163 173h19M162 174h20M161 175h21M161 176h21M160 177h22M160 178h22M160 179h22M159 180h17M159 181h16M158 182h17M158 183h16"/>
<path stroke="#00afff" d="M176 29h6M175 30h1M174 31h1M173 32h1M172 33h1M170 36h1M169 37h1M168 38h1M167 39h1M167 40h1M167 41h1M167 42h1M167 43h1M166 47h1M166 48h3M172 49h10M33 51h1M31 52h2M34 52h1M28 53h2M34 53h1M28 54h2M34 54h1M28 55h2M34 55h1M28 56h1M34 56h1M28 57h1M34 57h1M27 58h2M34 58h1M27 59h2M34 59h1M27 60h3M34 60h1M27 61h3M34 61h1M27 62h3M34 62h1M28 63h2M34 63h1M28 64h2M34 64h1M28 65h2M34 65h1M28 66h2M34 66h1M28 67h2M34 67h1M27 68h2M34 68h1M26 69h2M34 69h1M24 70h2M22 71h2M33 71h1M20 72h3M32 72h2M19 73h2M32 73h1M31 74h1M18 75h1M31 75h1M30 76h1M29 77h2M17 78h1M29 78h1M28 79h1M27 80h2M16 81h1M27 81h1M26 82h1M26 83h1M15 84h1M25 84h1M24 85h1M23 86h2M15 87h1M23 87h1M15 88h1M22 88h1M16 89h1M21 89h2M176 89h6M17 90h1M21 90h1M174 90h2M17 91h1M20 91h1M173 91h2M18 92h2M172 92h2M19 93h1M171 93h2M170 94h1M169 95h1M167 96h2M167 97h2M167 98h1M167 99h1M166 100h2M166 101h2M166 102h2M166 103h2M166 104h2M166 105h2M166 106h1M33 107h1M166 107h1M32 108h2M165 108h1M31 109h2M165 109h1M30 110h2M34 110h1M164 110h2M29 111h2M35 111h1M164 111h1M29 112h2M34 112h1M164 112h1M29 113h5M164 113h1M29 114h4M164 114h1M164 115h1M164 116h1M164 117h1M164 118h1M164 119h1M164 120h1M164 121h1M164 122h1M164 123h5M167 124h7M172 125h10M172 126h10M172 127h10M172 128h10M172 129h10M171 130h5M171 131h5M170 132h5M170 133h5M169 134h5M169 135h5M168 136h5M168 137h5M167 138h5M167 139h5M166 140h5M164 141h5M163 142h4M161 143h5M160 144h4M159 145h3M158 146h3M176 146h6M157 147h3M175 147h7M156 148h3M175 148h7M155 149h3M174 149h8M154 150h3M174 150h8M152 151h4M173 151h9M151 152h3M172 152h4M150 153h3M172 153h3M149 154h3M171 154h4M149 155h4M171 155h3M150 156h3M170 156h3M150 157h3M169 157h3M150 158h3M168 158h3M175 158h7M150 159h3M167 159h4M173 159h9M151 160h3M167 160h3M171 160h11M151 161h3M166 161h16M151 162h3M165 162h17M151 163h5M164 163h18M151 164h7M164 164h18M153 165h7M163 165h13M154 166h7M162 166h12M156 167h16M75 168h2M158 168h12M75 169h2M158 169h10M158 170h9M157 171h9M157 172h7M157 173h6M156 174h6M156 175h5M156 176h5M155 177h5M155 178h5M154 179h6M154 180h5M176 180h6M153 181h6M175 181h7M153 182h5M175 182h7M152 183h6M174 183h8"/>
<path stroke="#00bfff" d="M176 28h6M175 29h1M174 30h1M173 31h1M171 34h1M170 35h1M169 36h1M168 37h1M167 38h1M166 39h1M166 40h1M166 41h1M166 42h1M166 43h1M166 44h1M166 45h1M166 46h1M165 49h7M175 50h7M31 51h2M34 51h1M29 52h2M27 53h1M26 54h2M26 55h2M26 56h2M26 57h2M26 58h1M26 59h1M25 60h2M25 61h2M25 62h2M25 63h3M25 64h3M26 65h2M26 66h2M26 67h2M35 67h1M25 68h2M35 68h1M23 69h3M22 70h2M34 70h1M20 71h2M34 71h1M19 72h1M33 73h1M18 74h1M32 74h2M32 75h1M31 76h1M17 77h1M31 77h1M30 78h1M29 79h1M16 80h1M29 80h1M28 81h1M27 82h2M15 83h1M27 83h1M26 84h1M25 85h2M14 86h1M25 86h1M14 87h1M24 87h1M176 87h6M14 88h1M23 88h1M175 88h7M15 89h1M23 89h1M174 89h2M16 90h1M22 90h1M173 90h1M16 91h1M21 91h1M171 91h2M17 92h1M20 92h2M170 92h2M18 93h1M20 93h1M169 93h2M18 94h2M168 94h2M167 95h2M166 96h1M165 97h2M165 98h2M165 99h2M165 100h1M165 101h1M165 102h1M164 103h2M164 104h2M33 105h1M164 105h2M32 106h2M164 106h2M31 107h2M164 107h2M30 108h2M34 108h1M164 108h1M29 109h2M34 109h2M164 109h1M28 110h2M35 110h2M163 110h1M27 111h2M36 111h2M147 111h1M163 111h1M27 112h2M35 112h2M146 112h2M163 112h1M27 113h2M34 113h2M145 113h4M163 113h1M27 114h2M33 114h2M144 114h5M163 114h1M27 115h7M143 115h7M163 115h1M27 116h4M142 116h8M163 116h1M141 117h10M163 117h1M140 118h11M163 118h1M139 119h13M163 119h1M138 120h14M163 120h1M137 121h16M163 121h1M136 122h17M163 122h1M135 123h19M163 123h1M134 124h20M162 124h5M133 125h22M165 125h7M136 126h17M165 126h7M139 127h12M165 127h7M142 128h7M165 128h7M164 129h8M164 130h7M164 131h7M164 132h6M164 133h6M163 134h6M163 135h6M163 136h5M163 137h5M162 138h5M162 139h5M161 140h5M160 141h4M159 142h4M157 143h4M156 144h4M155 145h4M153 146h5M152 147h5M151 148h5M149 149h6M148 150h6M147 151h5M146 152h5M176 152h6M145 153h5M175 153h7M145 154h4M175 154h7M145 155h4M174 155h8M145 156h5M173 156h9M145 157h5M172 157h10M146 158h4M171 158h4M146 159h4M171 159h2M147 160h4M170 160h1M148 161h3M148 162h3M148 163h3M148 164h3M148 165h5M75 166h4M149 166h5M74 167h6M149 167h7M73 168h2M77 168h3M151 168h7M72 169h3M77 169h3M151 169h7M72 170h7M151 170h7M72 171h6M150 171h7M72 172h5M150 172h7M71 173h3M150 173h7M149 174h7M149 175h7M149 176h7M148 177h7M148 178h7M148 179h6M147 180h7M147 181h6M146 182h7M33 183h1M145 183h7"/>
<path stroke="#00cfff" d="M176 27h6M175 28h1M174 29h1M172 32h1M171 33h1M170 34h1M169 35h1M168 36h1M167 37h1M166 38h1M165 42h1M165 43h1M165 44h1M165 45h1M165 46h1M165 47h1M165 48h1M32 50h2M165 50h10M29 51h2M35 51h1M27 52h2M35 52h1M25 53h2M35 53h1M24 54h2M35 54h1M24 55h2M35 55h1M24 56h2M35 56h1M24 57h2M35 57h1M24 58h2M35 58h1M24 59h2M35 59h1M24 60h1M35 60h1M24 61h1M35 61h1M23 62h2M35 62h1M23 63h2M35 63h1M23 64h2M35 64h1M23 65h3M35 65h1M23 66h3M35 66h1M23 67h3M36 67h1M23 68h2M36 68h1M21 69h2M35 69h1M19 70h3M35 70h1M19 71h1M34 72h1M18 73h1M34 73h1M17 75h1M33 75h1M17 76h1M32 76h1M32 77h1M16 78h1M31 78h1M16 79h1M30 79h2M162 79h4M30 80h1M161 80h5M15 81h1M29 81h1M161 81h5M15 82h1M29 82h1M160 82h6M28 83h1M159 83h6M14 84h1M27 84h1M159 84h6M14 85h1M27 85h1M159 85h5M26 86h1M159 86h5M176 86h6M13 87h1M25 87h1M160 87h3M174 87h2M13 88h1M24 88h2M161 88h2M173 88h2M14 89h1M24 89h1M172 89h2M14 90h2M23 90h1M171 90h2M15 91h1M22 91h1M170 91h1M16 92h1M22 92h1M169 92h1M16 93h2M21 93h1M167 93h2M17 94h1M20 94h1M166 94h2M18 95h3M165 95h2M18 96h3M164 96h2M18 97h3M163 97h2M19 98h1M163 98h2M163 99h2M163 100h2M163 101h2M163 102h2M33 103h1M163 103h1M32 104h2M154 104h1M163 104h1M31 105h2M34 105h1M152 105h4M163 105h1M30 106h2M34 106h1M150 106h7M162 106h2M29 107h2M34 107h1M148 107h10M162 107h2M28 108h2M35 108h1M147 108h12M162 108h2M26 109h3M36 109h1M146 109h14M162 109h2M25 110h3M37 110h2M144 110h17M162 110h1M25 111h2M38 111h2M143 111h4M148 111h15M25 112h2M37 112h2M142 112h4M148 112h15M25 113h2M36 113h2M141 113h4M149 113h14M25 114h2M35 114h2M140 114h4M149 114h14M25 115h2M34 115h2M139 115h4M150 115h13M25 116h2M31 116h4M138 116h4M150 116h13M25 117h9M137 117h4M151 117h12M25 118h5M136 118h4M151 118h12M135 119h4M152 119h11M134 120h4M152 120h11M133 121h4M153 121h10M133 122h3M153 122h10M133 123h2M154 123h9M61 124h3M132 124h2M154 124h8M61 125h3M132 125h1M155 125h10M60 126h3M131 126h5M153 126h12M59 127h2M131 127h8M151 127h14M131 128h11M149 128h16M131 129h33M132 130h32M132 131h32M132 132h32M133 133h20M155 133h9M133 134h18M154 134h9M134 135h15M154 135h9M154 136h9M153 137h10M153 138h9M153 139h9M152 140h9M150 141h10M149 142h10M148 143h9M147 144h9M146 145h9M145 146h8M145 147h7M144 148h7M143 149h6M142 150h6M141 151h6M141 152h5M140 153h5M139 154h6M139 155h6M139 156h6M139 157h6M139 158h7M139 159h7M139 160h8M139 161h9M139 162h9M109 163h2M139 163h9M76 164h5M107 164h4M140 164h8M74 165h8M104 165h7M141 165h7M0 166h6M73 166h2M79 166h3M103 166h8M141 166h8M0 167h7M72 167h2M80 167h3M102 167h10M142 167h7M0 168h7M70 168h3M80 168h3M101 168h11M143 168h8M0 169h7M70 169h2M80 169h3M101 169h10M142 169h9M0 170h6M69 170h3M79 170h3M101 170h9M141 170h10M0 171h6M69 171h3M78 171h3M101 171h8M141 171h9M0 172h5M69 172h3M77 172h3M101 172h7M140 172h10M69 173h2M74 173h5M101 173h7M139 173h11M68 174h10M103 174h4M138 174h11M68 175h9M104 175h2M137 175h12M68 176h5M136 176h13M33 177h1M136 177h12M33 178h3M135 178h13M32 179h9M134 179h14M32 180h17M133 180h14M31 181h20M132 181h15M30 182h21M131 182h15M30 183h3M34 183h18M130 183h15"/>
<path stroke="#00dfff" d="M175 27h1M174 28h1M173 30h1M172 31h1M171 32h1M170 33h1M169 34h1M168 35h1M167 36h1M165 39h1M165 40h1M165 41h1M164 44h1M164 45h1M164 46h1M164 47h1M164 48h1M32 49h2M164 49h1M30 50h2M34 50h1M164 50h1M28 51h1M164 51h18M25 52h2M23 53h2M23 54h1M22 55h2M22 56h2M22 57h2M22 58h2M22 59h2M22 60h2M22 61h2M22 62h1M21 63h2M21 64h2M21 65h2M21 66h2M36 66h1M21 67h2M21 68h2M19 69h2M36 69h1M36 70h1M18 71h1M35 71h1M18 72h1M35 72h1M17 74h1M34 74h1M34 75h1M167 75h2M33 76h1M162 76h7M16 77h1M33 77h1M161 77h8M32 78h1M160 78h9M32 79h1M160 79h2M166 79h4M15 80h1M31 80h1M159 80h2M166 80h4M30 81h2M159 81h2M166 81h4M30 82h1M158 82h2M166 82h4M14 83h1M29 83h1M158 83h1M165 83h4M28 84h2M157 84h2M165 84h4M28 85h1M157 85h2M164 85h4M175 85h7M13 86h1M27 86h1M156 86h3M164 86h4M174 86h2M26 87h1M156 87h4M163 87h4M173 87h1M26 88h1M155 88h6M163 88h4M172 88h1M13 89h1M25 89h1M155 89h11M170 89h2M13 90h1M24 90h1M156 90h9M169 90h2M14 91h1M23 91h2M157 91h8M168 91h2M15 92h1M23 92h2M158 92h6M167 92h2M15 93h1M22 93h3M159 93h5M166 93h1M16 94h1M21 94h4M160 94h3M165 94h1M17 95h1M21 95h4M161 95h4M17 96h1M21 96h4M162 96h2M17 97h1M21 97h4M161 97h2M17 98h2M20 98h4M159 98h4M16 99h7M157 99h6M17 100h5M155 100h8M18 101h3M33 101h1M153 101h10M18 102h2M32 102h2M151 102h12M19 103h1M31 103h2M34 103h1M149 103h14M30 104h2M34 104h1M147 104h7M155 104h8M29 105h2M146 105h6M156 105h7M27 106h3M35 106h1M145 106h5M157 106h5M26 107h3M35 107h1M144 107h4M158 107h4M25 108h3M36 108h1M143 108h4M159 108h3M24 109h2M37 109h2M141 109h5M160 109h2M23 110h2M39 110h1M140 110h4M161 110h1M22 111h3M40 111h1M139 111h4M23 112h2M39 112h1M138 112h4M23 113h2M38 113h1M137 113h4M23 114h2M37 114h1M136 114h4M23 115h2M36 115h1M135 115h4M23 116h2M35 116h1M134 116h4M23 117h2M34 117h1M133 117h4M23 118h2M30 118h4M133 118h3M23 119h9M133 119h2M23 120h5M61 120h6M132 120h2M61 121h6M132 121h1M60 122h8M131 122h2M59 123h9M131 123h2M59 124h2M64 124h4M131 124h1M58 125h3M64 125h4M130 125h2M58 126h2M63 126h4M130 126h1M57 127h2M61 127h4M130 127h1M56 128h7M129 128h2M56 129h6M129 129h2M55 130h5M128 130h4M54 131h5M128 131h4M54 132h3M129 132h3M53 133h3M129 133h4M153 133h2M52 134h2M129 134h4M151 134h3M19 135h1M52 135h1M130 135h4M149 135h5M18 136h3M130 136h24M18 137h4M131 137h22M17 138h5M131 138h22M17 139h5M131 139h22M16 140h5M131 140h21M16 141h4M130 141h20M16 142h3M130 142h19M129 143h19M128 144h19M127 145h19M127 146h18M126 147h19M127 148h17M128 149h15M129 150h13M130 151h11M131 152h10M132 153h8M133 154h6M133 155h6M133 156h6M133 157h6M113 158h3M133 158h6M110 159h7M133 159h6M108 160h9M133 160h6M105 161h12M133 161h6M76 162h7M104 162h13M133 162h6M74 163h10M103 163h6M111 163h7M133 163h6M0 164h9M73 164h3M81 164h3M102 164h5M111 164h7M133 164h7M0 165h9M72 165h2M82 165h3M100 165h4M111 165h7M133 165h8M6 166h3M70 166h3M82 166h3M99 166h4M111 166h7M133 166h8M7 167h3M69 167h3M83 167h3M98 167h4M112 167h7M133 167h9M7 168h3M68 168h2M83 168h3M97 168h4M112 168h7M133 168h10M7 169h2M67 169h3M83 169h3M97 169h4M111 169h8M133 169h9M6 170h3M67 170h2M82 170h3M97 170h4M110 170h9M132 170h9M6 171h2M67 171h2M81 171h3M97 171h4M109 171h10M131 171h10M5 172h2M33 172h2M66 172h3M80 172h3M97 172h4M108 172h11M130 172h10M0 173h7M32 173h6M66 173h3M79 173h3M97 173h4M108 173h11M129 173h10M0 174h6M32 174h8M66 174h2M78 174h3M97 174h6M107 174h12M128 174h10M0 175h5M31 175h15M66 175h2M77 175h3M97 175h7M106 175h13M127 175h10M31 176h22M65 176h3M73 176h6M97 176h22M126 176h10M30 177h3M34 177h21M65 177h13M97 177h22M125 177h11M29 178h4M36 178h19M65 178h12M98 178h21M124 178h11M29 179h3M41 179h15M65 179h7M99 179h20M123 179h11M28 180h4M49 180h7M65 180h1M101 180h18M122 180h11M27 181h4M51 181h6M102 181h17M121 181h11M27 182h3M51 182h6M103 182h16M120 182h11M26 183h4M52 183h6M104 183h26"/>
<path stroke="#00efff" d="M175 26h7M173 29h1M172 30h1M171 31h1M170 32h1M169 33h1M168 34h1M166 37h1M165 38h1M164 39h1M164 40h1M164 41h1M164 42h1M164 43h1M163 46h1M163 47h1M33 48h1M163 48h1M30 49h2M34 49h1M163 49h1M28 50h2M35 50h1M163 50h1M26 51h2M36 51h1M163 51h1M24 52h1M36 52h1M163 52h19M21 53h2M36 53h1M21 54h2M36 54h1M21 55h1M36 55h1M21 56h1M36 56h1M20 57h2M36 57h1M20 58h2M36 58h1M20 59h2M36 59h1M20 60h2M36 60h1M20 61h2M36 61h1M20 62h2M36 62h1M20 63h1M36 63h1M20 64h1M36 64h1M19 65h2M36 65h1M19 66h2M37 66h1M19 67h2M37 67h1M19 68h2M37 68h1M37 69h1M18 70h1M36 71h1M36 72h1M165 72h8M17 73h1M35 73h1M162 73h11M35 74h1M161 74h12M160 75h7M169 75h4M16 76h1M34 76h1M160 76h2M169 76h4M34 77h1M159 77h2M169 77h4M33 78h1M159 78h1M169 78h5M15 79h1M33 79h1M158 79h2M170 79h4M32 80h1M157 80h2M170 80h4M32 81h1M157 81h2M170 81h4M14 82h1M31 82h1M156 82h2M170 82h4M30 83h1M156 83h2M169 83h5M176 83h6M30 84h1M155 84h2M169 84h4M175 84h7M13 85h1M29 85h1M155 85h2M168 85h4M173 85h2M28 86h1M154 86h2M168 86h6M27 87h2M154 87h2M167 87h6M12 88h1M27 88h2M153 88h2M167 88h5M12 89h1M26 89h3M153 89h2M166 89h4M12 90h1M25 90h4M152 90h4M165 90h4M13 91h1M25 91h4M152 91h5M165 91h3M14 92h1M25 92h4M152 92h6M164 92h3M14 93h1M25 93h4M151 93h8M164 93h2M15 94h1M25 94h4M152 94h8M163 94h2M16 95h1M25 95h4M153 95h8M16 96h1M25 96h4M154 96h8M16 97h1M25 97h4M153 97h8M16 98h1M24 98h4M151 98h8M15 99h1M23 99h4M33 99h1M149 99h8M15 100h2M22 100h4M32 100h2M148 100h7M15 101h3M21 101h4M31 101h2M34 101h1M146 101h7M15 102h3M20 102h5M30 102h2M34 102h1M145 102h6M16 103h3M20 103h4M29 103h2M144 103h5M17 104h6M27 104h3M35 104h1M143 104h4M17 105h5M26 105h3M35 105h1M142 105h4M18 106h3M25 106h2M36 106h1M141 106h4M18 107h2M24 107h2M36 107h1M140 107h4M23 108h2M37 108h2M138 108h5M22 109h2M39 109h1M137 109h4M21 110h2M40 110h2M136 110h4M20 111h2M41 111h2M135 111h4M20 112h3M40 112h2M134 112h4M20 113h3M39 113h2M133 113h4M20 114h3M38 114h2M133 114h3M21 115h2M37 115h2M62 115h1M133 115h2M21 116h2M36 116h2M61 116h9M132 116h2M21 117h2M35 117h2M61 117h10M132 117h1M21 118h2M34 118h2M60 118h11M131 118h2M21 119h2M32 119h3M59 119h12M131 119h2M21 120h2M28 120h6M59 120h2M67 120h4M131 120h1M21 121h9M58 121h3M67 121h5M130 121h2M21 122h5M57 122h3M68 122h4M130 122h1M21 123h1M57 123h2M68 123h4M130 123h1M56 124h3M68 124h4M129 124h2M56 125h2M68 125h4M129 125h1M55 126h3M67 126h4M128 126h2M54 127h3M65 127h4M128 127h2M54 128h2M63 128h4M128 128h1M53 129h3M62 129h4M127 129h2M52 130h3M60 130h4M127 130h1M19 131h2M52 131h2M59 131h3M126 131h2M18 132h4M51 132h3M57 132h4M126 132h3M17 133h7M51 133h2M56 133h3M126 133h3M17 134h8M50 134h2M54 134h4M126 134h3M16 135h3M20 135h5M49 135h3M53 135h3M126 135h4M16 136h2M21 136h4M49 136h6M127 136h3M15 137h3M22 137h3M48 137h5M127 137h4M15 138h2M22 138h2M47 138h5M127 138h4M14 139h3M22 139h2M46 139h4M128 139h3M14 140h2M21 140h3M46 140h3M128 140h3M14 141h2M20 141h3M46 141h3M127 141h3M14 142h2M19 142h3M47 142h2M126 142h4M14 143h7M47 143h2M125 143h4M14 144h6M47 144h1M125 144h3M13 145h4M47 145h1M124 145h3M47 146h1M123 146h4M122 147h4M122 148h5M121 149h7M120 150h9M119 151h11M118 152h13M116 153h16M114 154h19M111 155h22M109 156h24M106 157h27M104 158h9M116 158h17M103 159h7M117 159h16M76 160h9M102 160h6M117 160h16M74 161h11M101 161h4M117 161h16M0 162h11M39 162h2M73 162h3M83 162h3M100 162h4M117 162h16M0 163h12M38 163h3M72 163h2M84 163h2M99 163h4M118 163h15M9 164h3M37 164h4M70 164h3M84 164h3M97 164h5M118 164h15M9 165h3M36 165h5M69 165h3M85 165h2M96 165h4M118 165h15M9 166h3M35 166h6M68 166h2M85 166h3M95 166h4M118 166h15M10 167h2M33 167h8M66 167h3M86 167h2M94 167h4M119 167h14M10 168h2M32 168h9M65 168h3M86 168h3M93 168h4M119 168h14M9 169h3M31 169h11M64 169h3M86 169h2M93 169h4M119 169h14M9 170h2M30 170h15M64 170h3M85 170h2M93 170h4M119 170h13M8 171h2M30 171h20M64 171h3M84 171h2M93 171h4M119 171h12M7 172h3M29 172h4M35 172h21M64 172h2M83 172h2M93 172h4M119 172h11M7 173h2M29 173h3M38 173h20M63 173h3M82 173h2M93 173h4M119 173h10M6 174h2M28 174h4M40 174h19M63 174h3M81 174h2M93 174h4M119 174h9M5 175h3M28 175h3M46 175h13M63 175h3M80 175h2M93 175h4M119 175h8M0 176h7M27 176h4M53 176h7M63 176h2M79 176h2M93 176h4M119 176h7M0 177h7M26 177h4M55 177h6M63 177h2M78 177h2M93 177h4M119 177h6M0 178h6M26 178h3M55 178h6M62 178h3M77 178h2M93 178h5M119 178h5M0 179h5M25 179h4M56 179h9M72 179h6M93 179h6M119 179h4M25 180h3M56 180h9M66 180h11M93 180h8M119 180h3M24 181h3M57 181h19M93 181h9M119 181h2M23 182h4M57 182h14M94 182h9M119 182h1M23 183h3M58 183h9M95 183h9"/>
<path stroke="#0fe" d="M22 0h5M11 1h5M20 1h5M0 2h23M0 3h21M176 23h6M174 24h8M173 25h3M173 26h2M172 27h2M171 28h2M171 29h1M170 30h1M169 31h1M168 33h1M167 34h1M166 35h1M165 36h1M164 37h1M163 38h1M162 41h1M162 42h1M162 43h1M162 44h1M155 45h3M162 45h1M153 46h10M31 47h3M151 47h12M29 48h2M35 48h1M148 48h14M27 49h2M36 49h1M147 49h15M19 50h1M25 50h1M147 50h15M18 51h2M22 51h2M37 51h1M146 51h3M153 51h9M18 52h4M37 52h1M146 52h1M157 52h5M18 53h2M37 53h1M145 53h2M161 53h1M18 54h1M37 54h1M145 54h2M154 54h9M18 55h1M37 55h1M146 55h18M18 56h1M37 56h1M147 56h18M18 57h1M37 57h1M147 57h5M159 57h7M18 58h1M37 58h1M159 58h8M18 59h1M37 59h1M159 59h9M18 60h1M37 60h1M159 60h10M18 61h1M37 61h1M159 61h11M17 62h2M37 62h1M159 62h12M17 63h1M37 63h1M160 63h12M17 64h1M37 64h1M160 64h13M17 65h1M38 65h1M160 65h14M17 66h1M38 66h1M160 66h15M17 67h1M39 67h1M160 67h16M17 68h1M39 68h1M160 68h12M38 69h1M160 69h3M17 70h1M38 70h1M159 70h2M17 71h1M159 71h2M37 72h1M158 72h2M16 73h1M37 73h1M158 73h2M157 74h2M36 75h1M157 75h1M15 76h1M156 76h2M35 77h1M155 77h2M35 78h1M155 78h2M14 79h1M154 79h2M34 80h1M154 80h1M34 81h1M153 81h2M13 82h1M33 82h2M152 82h2M33 83h2M152 83h2M33 84h2M151 84h2M12 85h1M33 85h2M151 85h2M33 86h2M150 86h2M33 87h2M150 87h2M11 88h1M33 88h2M150 88h1M33 89h2M149 89h2M33 90h2M149 90h2M11 91h1M33 91h2M148 91h2M11 92h1M33 92h2M148 92h2M12 93h1M33 93h2M147 93h2M13 94h1M33 94h2M146 94h3M13 95h1M33 95h2M144 95h4M14 96h1M33 96h1M143 96h5M14 97h1M34 97h1M142 97h5M14 98h1M34 98h1M141 98h5M13 99h1M35 99h1M140 99h5M13 100h1M35 100h1M139 100h4M12 101h2M35 101h1M137 101h5M12 102h1M36 102h1M136 102h5M12 103h1M36 103h1M135 103h5M11 104h3M37 104h1M134 104h5M11 105h3M37 105h1M133 105h5M12 106h3M38 106h1M133 106h3M13 107h2M39 107h2M132 107h3M13 108h3M40 108h2M61 108h1M92 108h2M132 108h2M14 109h3M42 109h1M59 109h4M86 109h9M131 109h2M14 110h3M43 110h2M56 110h34M92 110h3M131 110h2M15 111h3M44 111h2M55 111h7M64 111h19M92 111h4M130 111h2M15 112h2M43 112h2M55 112h6M71 112h12M92 112h4M130 112h2M14 113h3M42 113h2M55 113h6M75 113h7M92 113h4M130 113h2M14 114h4M41 114h2M55 114h5M75 114h7M92 114h4M130 114h1M14 115h4M40 115h2M55 115h4M75 115h6M92 115h4M130 115h1M14 116h4M39 116h2M55 116h4M75 116h6M92 116h4M129 116h2M14 117h4M38 117h2M55 117h3M75 117h5M92 117h4M129 117h1M14 118h4M37 118h2M55 118h2M75 118h5M92 118h4M128 118h2M14 119h4M36 119h2M54 119h3M75 119h4M92 119h4M128 119h2M14 120h4M35 120h2M54 120h2M76 120h3M92 120h4M128 120h1M14 121h5M34 121h2M53 121h2M76 121h2M92 121h4M127 121h2M15 122h4M33 122h2M52 122h3M76 122h2M92 122h4M127 122h1M15 123h4M29 123h5M52 123h2M76 123h1M92 123h4M127 123h1M15 124h4M24 124h7M51 124h3M76 124h1M92 124h4M126 124h2M15 125h4M20 125h7M50 125h3M92 125h4M126 125h1M15 126h4M20 126h8M50 126h2M75 126h7M92 126h3M125 126h2M15 127h3M22 127h7M49 127h3M73 127h16M91 127h3M125 127h2M14 128h4M23 128h8M48 128h3M71 128h23M125 128h1M14 129h3M25 129h5M48 129h2M70 129h23M124 129h2M14 130h3M26 130h4M47 130h3M68 130h6M81 130h11M124 130h1M13 131h3M28 131h2M46 131h3M66 131h4M87 131h5M123 131h2M13 132h2M28 132h2M45 132h4M65 132h4M89 132h2M123 132h1M12 133h3M28 133h2M44 133h4M63 133h4M123 133h1M12 134h2M27 134h3M44 134h3M61 134h4M122 134h2M11 135h3M27 135h3M43 135h3M60 135h4M122 135h1M11 136h2M27 136h3M42 136h3M58 136h4M121 136h2M10 137h3M27 137h3M41 137h4M57 137h3M121 137h2M10 138h2M27 138h3M40 138h4M55 138h4M120 138h4M9 139h3M27 139h3M39 139h4M54 139h3M121 139h3M9 140h2M26 140h3M39 140h3M53 140h3M120 140h4M9 141h2M25 141h3M39 141h4M53 141h3M120 141h3M9 142h2M24 142h3M39 142h4M52 142h4M119 142h4M8 143h3M23 143h3M40 143h3M52 143h4M117 143h5M8 144h3M22 144h3M40 144h3M52 144h3M115 144h6M8 145h3M22 145h2M40 145h4M52 145h3M113 145h7M8 146h3M21 146h2M40 146h4M51 146h4M111 146h9M8 147h3M20 147h2M41 147h3M51 147h4M109 147h10M8 148h3M13 148h8M41 148h3M51 148h4M107 148h10M8 149h12M41 149h4M51 149h4M105 149h10M8 150h11M41 150h4M50 150h5M103 150h10M42 151h3M50 151h6M102 151h9M42 152h3M50 152h6M101 152h8M42 153h4M50 153h6M99 153h8M42 154h4M51 154h5M98 154h7M41 155h4M51 155h5M96 155h7M40 156h3M51 156h5M76 156h13M95 156h7M0 157h13M39 157h3M51 157h5M75 157h14M94 157h7M0 158h16M37 158h4M51 158h5M73 158h3M87 158h3M93 158h7M8 159h8M36 159h4M51 159h5M72 159h3M87 159h3M91 159h8M14 160h2M35 160h3M51 160h6M71 160h2M88 160h9M14 161h2M34 161h3M51 161h10M69 161h3M88 161h8M14 162h2M32 162h4M51 162h20M89 162h6M14 163h2M31 163h4M51 163h18M89 163h5M14 164h2M29 164h4M51 164h17M90 164h2M14 165h2M28 165h4M51 165h15M90 165h1M14 166h3M27 166h4M53 166h12M14 167h3M25 167h4M57 167h7M14 168h3M24 168h4M61 168h1M14 169h2M23 169h4M13 170h3M22 170h4M13 171h2M22 171h4M12 172h2M21 172h4M11 173h3M21 173h4M11 174h2M20 174h4M10 175h4M20 175h4M10 176h13M9 177h14M8 178h14M8 179h14M7 180h14M6 181h15M10 182h10M14 183h6"/>
<path stroke="#0fd" d="M27 0h4M25 1h4M23 2h5M21 3h5M0 4h24M0 5h22M16 6h4M175 22h7M173 23h3M172 24h2M171 25h2M170 26h3M170 27h2M169 28h2M168 29h3M168 30h2M167 31h2M166 32h3M166 33h2M165 34h2M164 35h2M164 36h1M163 37h1M162 38h1M161 39h2M159 40h4M157 41h5M155 42h7M152 43h10M150 44h12M19 45h1M148 45h7M158 45h4M18 46h2M32 46h2M147 46h6M18 47h2M30 47h1M34 47h2M147 47h4M18 48h3M27 48h2M36 48h1M146 48h2M17 49h4M25 49h2M37 49h1M145 49h2M17 50h2M20 50h2M23 50h2M37 50h1M145 50h2M17 51h1M20 51h2M144 51h2M16 52h2M144 52h2M16 53h2M143 53h2M16 54h2M144 54h1M17 55h1M144 55h2M17 56h1M145 56h2M17 57h1M146 57h1M152 57h7M17 58h1M146 58h13M17 59h1M147 59h12M17 60h1M147 60h4M156 60h3M17 61h1M156 61h3M16 62h1M156 62h3M16 63h1M156 63h4M16 64h1M38 64h1M156 64h4M16 65h1M156 65h4M16 66h1M39 66h1M156 66h4M16 67h1M156 67h4M16 68h1M156 68h4M17 69h1M39 69h1M156 69h4M39 70h1M156 70h3M38 71h1M156 71h3M16 72h1M38 72h1M155 72h3M155 73h3M37 74h1M155 74h2M15 75h1M37 75h1M155 75h2M36 76h1M154 76h2M36 77h1M153 77h2M14 78h1M153 78h2M35 79h1M152 79h2M35 80h1M152 80h2M13 81h1M35 81h1M151 81h2M35 82h2M150 82h2M35 83h2M150 83h2M12 84h1M35 84h2M150 84h1M35 85h2M149 85h2M35 86h2M149 86h1M11 87h1M35 87h2M148 87h2M35 88h2M148 88h2M35 89h2M147 89h2M10 90h1M35 90h2M145 90h4M10 91h1M35 91h2M144 91h4M10 92h1M35 92h2M143 92h5M11 93h1M35 93h2M142 93h5M12 94h1M35 94h1M141 94h5M12 95h1M35 95h1M140 95h4M13 96h1M34 96h1M139 96h4M13 97h1M35 97h1M137 97h5M12 98h2M35 98h1M136 98h5M12 99h1M135 99h5M12 100h1M36 100h1M134 100h5M11 101h1M36 101h1M133 101h4M11 102h1M37 102h1M133 102h3M11 103h1M37 103h1M132 103h3M10 104h1M38 104h1M132 104h2M10 105h1M38 105h1M61 105h2M96 105h1M131 105h2M9 106h3M39 106h2M58 106h5M93 106h4M131 106h2M10 107h3M41 107h1M56 107h8M90 107h8M130 107h2M10 108h3M42 108h2M54 108h7M62 108h8M81 108h11M94 108h4M130 108h2M11 109h3M43 109h2M52 109h7M63 109h23M95 109h4M129 109h2M12 110h2M45 110h2M49 110h7M95 110h4M129 110h2M12 111h3M46 111h1M48 111h7M96 111h3M129 111h1M12 112h3M45 112h1M48 112h7M96 112h3M128 112h2M12 113h2M44 113h1M48 113h7M96 113h3M128 113h2M11 114h3M43 114h1M48 114h7M96 114h3M128 114h2M11 115h3M42 115h1M48 115h7M96 115h3M128 115h2M11 116h3M41 116h1M48 116h7M96 116h3M128 116h1M11 117h3M40 117h1M48 117h7M96 117h3M127 117h2M11 118h3M39 118h1M48 118h7M96 118h3M127 118h1M10 119h4M38 119h1M48 119h6M96 119h3M127 119h1M10 120h4M37 120h2M48 120h6M96 120h3M126 120h2M10 121h4M36 121h2M48 121h5M96 121h3M126 121h1M11 122h4M35 122h2M48 122h4M96 122h3M125 122h2M11 123h4M34 123h2M48 123h4M96 123h3M125 123h2M11 124h4M31 124h4M48 124h3M96 124h3M125 124h1M11 125h4M27 125h7M48 125h2M96 125h3M124 125h2M11 126h4M28 126h5M47 126h3M95 126h4M124 126h1M10 127h5M29 127h4M46 127h3M94 127h4M124 127h1M10 128h4M31 128h2M45 128h3M94 128h3M123 128h2M10 129h4M30 129h3M44 129h4M93 129h4M123 129h1M10 130h4M30 130h3M43 130h4M74 130h7M92 130h4M122 130h2M9 131h4M30 131h3M43 131h3M70 131h17M92 131h3M122 131h1M9 132h4M30 132h3M42 132h3M69 132h20M91 132h3M121 132h2M9 133h3M30 133h3M41 133h3M67 133h27M121 133h2M8 134h4M30 134h3M40 134h4M65 134h9M81 134h12M121 134h1M8 135h3M30 135h3M39 135h4M64 135h7M84 135h8M120 135h2M8 136h3M30 136h2M38 136h4M62 136h5M87 136h4M120 136h1M8 137h2M30 137h2M37 137h4M60 137h4M90 137h1M119 137h2M7 138h3M30 138h2M37 138h3M59 138h4M118 138h2M6 139h3M30 139h2M36 139h3M57 139h4M116 139h5M6 140h3M29 140h3M35 140h4M56 140h4M113 140h7M6 141h3M28 141h3M36 141h3M56 141h4M111 141h9M6 142h3M27 142h3M36 142h3M56 142h4M109 142h10M6 143h2M26 143h3M36 143h4M56 143h4M107 143h10M6 144h2M25 144h3M36 144h4M55 144h5M105 144h10M6 145h2M24 145h3M37 145h3M55 145h5M104 145h9M6 146h2M23 146h3M37 146h3M55 146h5M102 146h9M5 147h3M22 147h3M37 147h4M55 147h6M101 147h8M5 148h3M21 148h3M37 148h4M55 148h6M99 148h8M5 149h3M20 149h3M38 149h3M55 149h6M98 149h7M5 150h3M19 150h3M38 150h3M55 150h6M96 150h7M5 151h16M38 151h4M56 151h5M95 151h7M5 152h15M38 152h4M56 152h6M93 152h8M5 153h10M39 153h3M56 153h6M92 153h7M0 154h6M39 154h3M56 154h42M0 155h18M37 155h4M56 155h40M0 156h18M36 156h4M56 156h20M89 156h6M13 157h5M35 157h4M56 157h19M89 157h5M16 158h2M34 158h3M56 158h17M90 158h3M16 159h2M32 159h4M56 159h16M90 159h1M16 160h2M31 160h4M57 160h14M16 161h3M30 161h4M61 161h8M16 162h3M28 162h4M16 163h3M27 163h4M16 164h3M25 164h4M16 165h3M24 165h4M17 166h2M22 166h5M17 167h2M21 167h4M17 168h2M20 168h4M16 169h7M16 170h6M15 171h7M14 172h7M14 173h7M13 174h7M14 175h6"/>
<path stroke="#00ffcb" d="M31 0h2M29 1h3M28 2h2M26 3h3M24 4h3M22 5h4M0 6h16M20 6h4M0 7h22M11 8h10M176 20h6M174 21h8M173 22h2M171 23h2M170 24h2M169 25h2M168 26h2M167 27h3M167 28h2M166 29h2M165 30h3M165 31h2M164 32h2M163 33h3M163 34h2M162 35h2M160 36h4M158 37h5M156 38h6M154 39h7M19 40h1M152 40h7M18 41h2M150 41h7M18 42h2M148 42h7M18 43h3M147 43h5M17 44h4M146 44h4M17 45h2M20 45h2M33 45h1M146 45h2M17 46h1M20 46h2M30 46h2M34 46h1M145 46h2M16 47h2M20 47h2M28 47h2M36 47h1M145 47h2M16 48h2M21 48h2M26 48h1M37 48h1M144 48h2M16 49h1M21 49h4M144 49h1M15 50h2M22 50h1M143 50h2M15 51h2M38 51h1M143 51h1M15 52h1M38 52h1M142 52h2M14 53h2M38 53h1M141 53h2M15 54h1M38 54h1M142 54h2M15 55h2M38 55h1M142 55h2M16 56h1M38 56h1M143 56h2M16 57h1M38 57h1M144 57h2M16 58h1M38 58h1M144 58h2M16 59h1M38 59h1M145 59h2M16 60h1M38 60h1M146 60h1M151 60h5M16 61h1M38 61h1M146 61h10M15 62h1M38 62h1M147 62h9M15 63h1M38 63h1M147 63h3M152 63h4M15 64h1M39 64h1M153 64h3M15 65h1M39 65h1M153 65h3M15 66h1M40 66h1M153 66h3M15 67h1M40 67h1M153 67h3M15 68h1M40 68h1M153 68h3M16 69h1M40 69h1M153 69h3M16 70h1M152 70h4M16 71h1M39 71h1M152 71h4M39 72h1M152 72h3M15 73h1M38 73h1M152 73h3M15 74h1M38 74h1M151 74h4M151 75h4M14 76h1M37 76h1M151 76h3M14 77h1M37 77h1M151 77h2M36 78h1M150 78h3M13 79h1M36 79h1M150 79h2M13 80h1M36 80h2M150 80h2M36 81h2M149 81h2M12 82h1M37 82h1M149 82h1M12 83h1M37 83h1M148 83h2M37 84h1M148 84h2M11 85h1M37 85h1M146 85h3M11 86h1M37 86h1M145 86h4M37 87h1M144 87h4M10 88h1M37 88h1M143 88h5M10 89h1M37 89h1M142 89h5M37 90h1M141 90h4M9 91h1M37 91h1M140 91h4M9 92h1M37 92h1M138 92h5M10 93h1M37 93h1M137 93h5M10 94h2M36 94h1M136 94h5M11 95h1M36 95h1M135 95h5M12 96h1M35 96h1M134 96h5M12 97h1M133 97h4M11 98h1M36 98h1M133 98h3M11 99h1M36 99h1M132 99h3M11 100h1M37 100h1M132 100h2M10 101h1M37 101h1M131 101h2M10 102h1M38 102h1M60 102h3M131 102h2M9 103h2M38 103h1M58 103h6M97 103h2M130 103h2M9 104h1M39 104h1M56 104h8M94 104h6M130 104h2M9 105h1M39 105h2M53 105h8M63 105h2M92 105h4M97 105h3M129 105h2M8 106h1M41 106h1M52 106h6M63 106h3M85 106h8M97 106h4M129 106h2M8 107h2M42 107h2M51 107h5M64 107h26M98 107h3M128 107h2M8 108h2M44 108h1M50 108h4M70 108h11M98 108h4M128 108h2M8 109h3M45 109h2M49 109h3M99 109h3M127 109h2M9 110h3M47 110h2M99 110h4M127 110h2M9 111h3M47 111h1M99 111h4M127 111h2M9 112h3M46 112h2M99 112h4M126 112h2M9 113h3M45 113h3M99 113h4M126 113h2M8 114h3M44 114h4M99 114h4M126 114h2M8 115h3M43 115h5M99 115h4M126 115h2M8 116h3M42 116h6M99 116h4M126 116h2M8 117h3M41 117h7M99 117h4M125 117h2M8 118h3M40 118h8M99 118h4M125 118h2M8 119h2M39 119h9M99 119h4M125 119h2M7 120h3M39 120h9M99 120h4M125 120h1M7 121h3M38 121h10M99 121h4M124 121h2M7 122h4M37 122h11M99 122h4M124 122h1M7 123h4M36 123h12M99 123h4M124 123h1M7 124h4M35 124h13M99 124h4M123 124h2M7 125h4M34 125h14M99 125h4M123 125h1M7 126h4M33 126h14M99 126h3M122 126h2M6 127h4M33 127h13M98 127h4M122 127h2M6 128h4M33 128h12M97 128h4M122 128h1M6 129h4M33 129h11M97 129h3M121 129h2M6 130h4M33 130h10M96 130h3M121 130h1M5 131h4M33 131h10M95 131h4M120 131h2M5 132h4M33 132h9M94 132h4M120 132h1M0 133h9M33 133h8M94 133h4M120 133h1M0 134h8M33 134h7M74 134h7M93 134h6M119 134h2M0 135h8M33 135h6M71 135h13M92 135h8M117 135h3M0 136h8M32 136h6M67 136h20M91 136h10M114 136h6M0 137h8M32 137h5M64 137h26M91 137h11M111 137h8M0 138h7M32 138h5M63 138h11M79 138h24M109 138h9M0 139h6M32 139h4M61 139h10M82 139h22M106 139h10M0 140h6M32 140h3M60 140h9M83 140h30M0 141h6M31 141h5M60 141h10M81 141h30M0 142h6M30 142h6M60 142h10M80 142h29M0 143h6M29 143h7M60 143h11M78 143h29M0 144h6M28 144h8M60 144h11M77 144h28M0 145h6M27 145h10M60 145h44M0 146h6M26 146h11M60 146h42M0 147h5M25 147h12M61 147h40M0 148h5M24 148h8M34 148h3M61 148h38M0 149h5M23 149h8M34 149h4M61 149h37M0 150h5M22 150h8M34 150h4M61 150h35M0 151h5M21 151h8M34 151h4M61 151h34M0 152h5M20 152h8M35 152h3M62 152h31M0 153h5M15 153h12M35 153h4M62 153h30M6 154h20M35 154h4M18 155h9M34 155h3M18 156h9M33 156h3M18 157h10M31 157h4M18 158h10M30 158h4M18 159h14M18 160h13M19 161h11M19 162h9M19 163h8M19 164h6M19 165h5M19 166h3M19 167h2M19 168h1"/>
<path stroke="#00ffba" d="M33 0h2M32 1h2M30 2h3M29 3h2M27 4h3M26 5h2M24 6h3M22 7h3M0 8h11M21 8h3M0 9h22M5 10h15M176 18h6M175 19h7M173 20h3M172 21h2M170 22h3M169 23h2M167 24h3M166 25h3M166 26h2M165 27h2M164 28h3M164 29h2M163 30h2M162 31h3M161 32h3M159 33h4M157 34h6M155 35h7M153 36h7M151 37h7M18 38h3M149 38h7M16 39h5M147 39h7M16 40h3M20 40h2M147 40h5M16 41h2M20 41h2M146 41h4M16 42h2M20 42h2M146 42h2M16 43h2M21 43h2M145 43h2M16 44h1M21 44h2M33 44h1M145 44h1M15 45h2M22 45h2M31 45h2M34 45h1M144 45h2M15 46h2M22 46h2M28 46h2M35 46h1M144 46h1M15 47h1M22 47h2M26 47h2M37 47h1M143 47h2M14 48h2M23 48h3M38 48h1M142 48h2M14 49h2M38 49h1M142 49h2M14 50h1M38 50h1M141 50h2M13 51h2M141 51h2M13 52h2M140 52h2M12 53h2M140 53h1M13 54h2M140 54h2M13 55h2M141 55h1M14 56h2M141 56h2M14 57h2M142 57h2M15 58h1M143 58h1M15 59h1M143 59h2M15 60h1M144 60h2M14 61h2M144 61h2M14 62h1M145 62h2M14 63h1M39 63h1M146 63h1M150 63h2M14 64h1M146 64h7M14 65h1M40 65h1M147 65h6M14 66h1M148 66h5M14 67h1M41 67h1M149 67h4M14 68h1M41 68h1M149 68h4M15 69h1M149 69h4M15 70h1M40 70h1M149 70h3M40 71h1M149 71h3M15 72h1M148 72h4M39 73h1M148 73h4M39 74h1M148 74h3M14 75h1M38 75h1M148 75h3M38 76h1M147 76h4M147 77h4M13 78h1M37 78h2M147 78h3M37 79h2M146 79h4M38 80h1M146 80h4M12 81h1M38 81h2M146 81h3M38 82h2M146 82h3M38 83h2M144 83h4M11 84h1M38 84h2M143 84h5M38 85h2M142 85h4M38 86h2M141 86h4M10 87h1M38 87h2M140 87h4M38 88h2M139 88h4M38 89h2M138 89h4M9 90h1M38 90h2M136 90h5M38 91h1M135 91h5M38 92h1M134 92h4M9 93h1M38 93h1M133 93h4M9 94h1M37 94h1M131 94h5M10 95h1M37 95h1M130 95h5M11 96h1M36 96h1M128 96h6M11 97h1M36 97h1M128 97h5M10 98h1M37 98h1M129 98h4M10 99h1M37 99h1M60 99h3M129 99h3M10 100h1M38 100h1M58 100h6M130 100h2M9 101h1M38 101h1M57 101h8M98 101h4M129 101h2M9 102h1M39 102h1M56 102h4M63 102h3M96 102h6M129 102h2M8 103h1M39 103h1M55 103h3M64 103h2M93 103h4M99 103h4M128 103h2M8 104h1M40 104h1M53 104h3M64 104h3M90 104h4M100 104h3M128 104h2M8 105h1M41 105h1M52 105h1M65 105h9M79 105h13M100 105h4M127 105h2M7 106h1M42 106h2M51 106h1M66 106h19M101 106h3M127 106h2M7 107h1M44 107h1M50 107h1M101 107h4M127 107h1M6 108h2M45 108h2M48 108h2M102 108h6M126 108h2M6 109h2M47 109h2M102 109h6M126 109h1M6 110h3M103 110h4M125 110h2M6 111h3M103 111h4M125 111h2M6 112h3M103 112h4M125 112h1M6 113h3M103 113h4M124 113h2M6 114h2M103 114h4M124 114h2M5 115h3M103 115h4M124 115h2M5 116h3M103 116h4M124 116h2M5 117h3M103 117h4M124 117h1M0 118h8M103 118h4M123 118h2M0 119h8M103 119h4M123 119h2M0 120h7M103 120h4M123 120h2M0 121h7M103 121h4M123 121h1M0 122h7M103 122h4M122 122h2M0 123h7M103 123h4M122 123h2M0 124h7M103 124h4M122 124h1M0 125h7M103 125h5M121 125h2M0 126h7M102 126h7M121 126h1M0 127h6M102 127h7M121 127h1M0 128h6M101 128h8M120 128h2M0 129h6M100 129h9M120 129h1M0 130h6M99 130h11M119 130h2M0 131h5M99 131h11M118 131h2M0 132h5M98 132h12M115 132h5M98 133h12M113 133h7M99 134h20M100 135h17M101 136h13M102 137h9M74 138h5M103 138h6M71 139h11M104 139h2M69 140h14M70 141h11M70 142h10M71 143h7M71 144h6M32 148h2M31 149h3M30 150h4M29 151h5M28 152h7M27 153h8M26 154h9M27 155h7M27 156h6M28 157h3M28 158h2"/>
<path stroke="#00ffa9" d="M35 0h2M34 1h2M33 2h2M31 3h3M30 4h2M28 5h3M27 6h2M25 7h3M24 8h2M22 9h3M0 10h5M20 10h3M0 11h21M14 12h5M175 17h7M174 18h2M172 19h3M171 20h2M169 21h3M168 22h2M166 23h3M165 24h2M164 25h2M163 26h3M163 27h2M162 28h2M160 29h4M158 30h5M156 31h6M154 32h7M152 33h7M150 34h7M148 35h7M147 36h6M17 37h5M146 37h5M14 38h4M21 38h1M145 38h4M12 39h4M21 39h2M144 39h3M12 40h4M22 40h1M144 40h3M13 41h3M22 41h2M144 41h2M13 42h3M22 42h2M144 42h2M14 43h2M23 43h2M143 43h2M14 44h2M23 44h2M31 44h2M34 44h1M143 44h2M14 45h1M24 45h1M29 45h2M35 45h1M142 45h2M13 46h2M24 46h2M27 46h1M36 46h1M142 46h2M13 47h2M24 47h2M38 47h1M141 47h2M13 48h1M141 48h1M12 49h2M140 49h2M12 50h2M140 50h1M11 51h2M39 51h1M139 51h2M11 52h2M39 52h1M138 52h2M11 53h1M39 53h1M138 53h2M11 54h2M39 54h1M138 54h2M12 55h1M39 55h1M139 55h2M12 56h2M39 56h1M140 56h1M13 57h1M39 57h1M140 57h2M13 58h2M39 58h1M141 58h2M14 59h1M39 59h1M141 59h2M14 60h1M39 60h1M142 60h2M13 61h1M39 61h1M143 61h1M13 62h1M39 62h1M143 62h2M13 63h1M40 63h1M144 63h2M13 64h1M40 64h1M145 64h1M13 65h1M41 65h1M145 65h2M13 66h1M41 66h1M146 66h2M13 67h1M42 67h1M146 67h3M13 68h1M42 68h1M146 68h3M14 69h1M41 69h1M146 69h3M14 70h1M41 70h1M145 70h4M15 71h1M145 71h4M40 72h1M144 72h4M40 73h1M144 73h4M14 74h1M144 74h4M39 75h1M143 75h5M39 76h1M143 76h4M13 77h1M38 77h2M143 77h4M39 78h1M143 78h4M39 79h2M142 79h4M12 80h1M39 80h2M142 80h4M40 81h1M142 81h4M40 82h2M141 82h5M11 83h1M40 83h2M140 83h4M40 84h2M139 84h4M40 85h2M138 85h4M10 86h1M40 86h2M137 86h4M40 87h2M136 87h4M40 88h2M135 88h4M9 89h1M40 89h1M134 89h4M40 90h1M132 90h4M39 91h1M62 91h1M130 91h5M8 92h1M39 92h1M62 92h1M129 92h5M8 93h1M39 93h1M62 93h1M127 93h6M8 94h1M38 94h1M62 94h2M126 94h5M9 95h1M38 95h1M61 95h3M124 95h6M10 96h1M37 96h1M61 96h2M122 96h6M10 97h1M37 97h1M61 97h3M122 97h6M9 98h1M38 98h1M59 98h6M102 98h2M123 98h6M9 99h1M38 99h1M58 99h2M63 99h3M100 99h4M123 99h6M8 100h2M39 100h1M57 100h1M64 100h3M97 100h18M124 100h6M8 101h1M39 101h1M56 101h1M65 101h3M94 101h4M102 101h13M125 101h4M8 102h1M40 102h1M54 102h2M66 102h2M92 102h4M102 102h13M125 102h4M7 103h1M40 103h1M53 103h2M66 103h3M85 103h8M103 103h11M126 103h2M7 104h1M41 104h1M52 104h1M67 104h23M103 104h11M126 104h2M6 105h2M42 105h2M51 105h1M74 105h5M104 105h9M126 105h1M6 106h1M44 106h1M50 106h1M104 106h9M125 106h2M6 107h1M45 107h2M48 107h2M105 107h7M125 107h2M5 108h1M47 108h1M108 108h4M124 108h2M5 109h1M108 109h4M124 109h2M0 110h6M107 110h4M123 110h2M0 111h6M107 111h4M123 111h2M0 112h6M107 112h4M123 112h2M0 113h6M107 113h4M122 113h2M0 114h6M107 114h4M122 114h2M0 115h5M107 115h4M122 115h2M0 116h5M107 116h4M122 116h2M0 117h5M107 117h4M122 117h2M107 118h4M121 118h2M107 119h4M121 119h2M107 120h5M121 120h2M107 121h5M121 121h2M107 122h6M121 122h1M107 123h7M120 123h2M107 124h8M120 124h2M108 125h7M120 125h1M109 126h7M119 126h2M109 127h7M119 127h2M109 128h11M109 129h11M110 130h9M110 131h8M110 132h5M110 133h3"/>
<path stroke="#00ff98" d="M37 0h1M36 1h1M35 2h1M34 3h1M32 4h2M31 5h2M29 6h3M28 7h2M26 8h3M25 9h2M23 10h3M21 11h3M0 12h14M19 12h3M0 13h20M176 15h6M174 16h8M173 17h2M171 18h3M170 19h2M168 20h3M167 21h2M165 22h3M164 23h2M162 24h3M161 25h3M159 26h4M157 27h6M155 28h7M153 29h7M151 30h7M149 31h7M147 32h7M146 33h6M145 34h5M18 35h3M145 35h3M16 36h7M144 36h3M13 37h4M22 37h2M143 37h3M10 38h4M22 38h2M142 38h3M9 39h3M23 39h2M141 39h3M9 40h3M23 40h2M141 40h3M9 41h4M24 41h2M141 41h3M10 42h3M24 42h2M141 42h3M10 43h4M25 43h2M32 43h2M140 43h3M10 44h4M25 44h2M29 44h2M35 44h1M140 44h3M11 45h3M25 45h4M36 45h1M140 45h2M11 46h2M26 46h1M37 46h1M140 46h2M11 47h2M39 47h1M139 47h2M11 48h2M39 48h1M139 48h2M11 49h1M39 49h1M138 49h2M10 50h2M39 50h1M138 50h2M10 51h1M137 51h2M9 52h2M137 52h1M9 53h2M136 53h2M9 54h2M137 54h1M10 55h2M137 55h2M11 56h1M138 56h2M11 57h2M138 57h2M12 58h1M139 58h2M12 59h2M140 59h1M13 60h1M140 60h2M12 61h1M141 61h2M12 62h1M40 62h1M141 62h2M12 63h1M142 63h2M12 64h1M41 64h1M143 64h2M12 65h1M143 65h2M12 66h1M42 66h1M144 66h2M12 67h1M145 67h1M12 68h1M145 68h1M13 69h1M42 69h1M144 69h2M13 70h1M42 70h1M143 70h2M14 71h1M41 71h1M143 71h2M14 72h1M41 72h1M142 72h2M14 73h1M141 73h3M40 74h1M141 74h3M13 75h1M40 75h1M140 75h3M13 76h1M40 76h1M139 76h4M40 77h2M139 77h4M12 78h1M40 78h2M139 78h4M12 79h1M41 79h1M138 79h4M41 80h2M63 80h1M138 80h4M11 81h1M41 81h2M61 81h4M138 81h4M11 82h1M42 82h1M60 82h5M137 82h4M42 83h1M61 83h4M136 83h4M10 84h1M42 84h1M61 84h5M135 84h4M10 85h1M42 85h1M61 85h5M134 85h4M42 86h1M61 86h5M133 86h4M9 87h1M42 87h1M61 87h6M131 87h5M9 88h1M42 88h1M61 88h6M129 88h6M41 89h1M61 89h7M128 89h6M8 90h1M41 90h1M61 90h7M126 90h6M8 91h1M40 91h1M60 91h2M63 91h5M125 91h5M40 92h1M60 92h2M63 92h5M123 92h6M60 93h2M63 93h4M120 93h7M7 94h1M39 94h1M60 94h2M64 94h3M105 94h21M8 95h1M39 95h1M60 95h1M64 95h3M104 95h20M8 96h2M38 96h1M60 96h1M63 96h3M103 96h19M8 97h2M38 97h1M59 97h2M64 97h3M101 97h21M8 98h1M39 98h1M58 98h1M65 98h3M98 98h4M104 98h19M8 99h1M39 99h1M57 99h1M66 99h3M96 99h4M104 99h19M7 100h1M40 100h1M56 100h1M67 100h2M93 100h4M115 100h9M7 101h1M40 101h1M54 101h2M68 101h2M90 101h4M115 101h10M7 102h1M53 102h1M68 102h24M115 102h4M120 102h5M6 103h1M41 103h1M52 103h1M69 103h16M114 103h4M120 103h6M6 104h1M42 104h2M51 104h1M114 104h4M121 104h5M5 105h1M44 105h1M49 105h2M113 105h4M121 105h5M5 106h1M45 106h2M48 106h2M113 106h4M122 106h3M0 107h6M47 107h1M112 107h5M123 107h2M0 108h5M112 108h4M122 108h2M0 109h5M112 109h4M122 109h2M111 110h4M121 110h2M111 111h4M121 111h2M111 112h4M121 112h2M111 113h4M121 113h1M111 114h4M120 114h2M111 115h4M120 115h2M111 116h5M120 116h2M111 117h6M120 117h2M111 118h6M120 118h1M111 119h7M119 119h2M112 120h9M112 121h9M113 122h8M114 123h6M115 124h5M115 125h5M116 126h3M116 127h3"/>
<path stroke="#00ff86" d="M38 0h2M37 1h2M36 2h2M35 3h2M34 4h2M33 5h2M152 5h2M32 6h2M150 6h5M30 7h3M148 7h7M29 8h2M147 8h9M27 9h3M146 9h10M26 10h2M146 10h11M24 11h2M146 11h10M22 12h3M146 12h8M20 13h3M146 13h7M0 14h21M147 14h5M175 14h7M14 15h5M147 15h3M173 15h3M147 16h2M161 16h2M172 16h2M160 17h4M170 17h3M159 18h6M169 18h2M159 19h7M168 19h2M158 20h10M157 21h10M157 22h8M156 23h8M155 24h7M154 25h7M152 26h7M150 27h7M148 28h7M147 29h6M146 30h5M145 31h4M144 32h3M143 33h3M17 34h7M142 34h3M15 35h3M21 35h3M141 35h4M12 36h4M23 36h2M141 36h3M9 37h4M24 37h2M140 37h3M7 38h3M24 38h2M139 38h3M5 39h4M25 39h2M138 39h3M5 40h4M25 40h2M138 40h3M6 41h3M26 41h2M138 41h3M6 42h4M26 42h2M32 42h2M137 42h4M6 43h4M27 43h1M30 43h2M34 43h1M137 43h3M7 44h3M27 44h2M36 44h1M137 44h3M7 45h4M37 45h1M137 45h3M8 46h3M38 46h1M136 46h4M8 47h3M136 47h3M8 48h3M136 48h3M9 49h2M136 49h2M8 50h2M136 50h2M8 51h2M40 51h1M135 51h2M8 52h1M40 52h1M135 52h2M7 53h2M40 53h1M134 53h2M8 54h1M40 54h1M135 54h2M8 55h2M40 55h1M135 55h2M9 56h2M40 56h1M136 56h2M9 57h2M40 57h1M137 57h1M10 58h2M40 58h1M137 58h2M10 59h2M40 59h1M138 59h2M11 60h2M40 60h1M138 60h2M11 61h1M40 61h1M139 61h2M11 62h1M41 62h1M140 62h1M11 63h1M41 63h1M140 63h2M11 64h1M42 64h1M141 64h2M11 65h1M42 65h1M142 65h1M11 66h1M43 66h1M142 66h2M11 67h1M43 67h1M143 67h2M11 68h1M43 68h1M143 68h2M12 69h1M43 69h1M142 69h2M12 70h1M141 70h2M13 71h1M42 71h1M141 71h2M13 72h1M42 72h1M140 72h2M41 73h1M139 73h2M13 74h1M41 74h1M139 74h2M41 75h2M138 75h2M41 76h2M66 76h3M137 76h2M12 77h1M42 77h1M64 77h6M137 77h2M42 78h2M62 78h8M136 78h3M42 79h2M60 79h10M135 79h3M11 80h1M43 80h1M58 80h5M64 80h6M135 80h3M43 81h2M57 81h4M65 81h5M134 81h4M43 82h2M55 82h5M65 82h6M133 82h4M10 83h1M43 83h2M57 83h4M65 83h6M131 83h5M43 84h2M60 84h1M66 84h5M128 84h7M43 85h2M60 85h1M66 85h6M126 85h8M9 86h1M43 86h1M60 86h1M66 86h6M123 86h10M43 87h1M60 87h1M67 87h5M121 87h10M43 88h1M59 88h2M67 88h5M112 88h17M8 89h1M42 89h1M59 89h2M68 89h3M106 89h22M42 90h1M59 90h2M68 90h3M104 90h22M41 91h1M59 91h1M68 91h3M103 91h22M7 92h1M41 92h1M59 92h1M68 92h2M102 92h21M7 93h1M40 93h1M59 93h1M67 93h3M102 93h18M40 94h1M59 94h1M67 94h3M101 94h4M7 95h1M59 95h1M67 95h2M100 95h4M7 96h1M39 96h1M59 96h1M66 96h3M99 96h4M7 97h1M39 97h1M58 97h1M67 97h3M97 97h4M7 98h1M40 98h1M57 98h1M68 98h3M94 98h4M7 99h1M40 99h1M55 99h2M69 99h2M92 99h4M6 100h1M54 100h2M69 100h3M83 100h10M6 101h1M41 101h1M53 101h1M70 101h20M5 102h2M41 102h2M52 102h1M119 102h1M5 103h1M42 103h2M51 103h1M118 103h2M0 104h6M44 104h2M49 104h2M118 104h3M0 105h5M45 105h2M48 105h1M117 105h4M0 106h5M47 106h1M117 106h5M117 107h6M116 108h6M116 109h6M115 110h6M115 111h6M115 112h6M115 113h6M115 114h5M115 115h5M116 116h4M117 117h3M117 118h3M118 119h1"/>
<path stroke="#00ff75" d="M40 0h1M156 0h4M39 1h1M154 1h7M38 2h1M152 2h10M37 3h1M150 3h12M36 4h1M148 4h15M35 5h2M147 5h5M154 5h9M34 6h2M146 6h4M155 6h9M33 7h2M146 7h2M155 7h10M31 8h3M145 8h2M156 8h9M30 9h2M145 9h1M156 9h10M28 10h3M144 10h2M157 10h10M26 11h3M144 11h2M156 11h12M25 12h2M144 12h2M154 12h15M176 12h6M23 13h2M145 13h1M153 13h17M174 13h8M21 14h3M145 14h2M152 14h19M173 14h2M0 15h14M19 15h3M145 15h2M150 15h23M0 16h20M145 16h2M149 16h12M163 16h9M146 17h14M164 17h6M146 18h13M165 18h4M146 19h13M166 19h2M146 20h12M147 21h10M147 22h10M147 23h9M148 24h7M147 25h7M146 26h6M145 27h5M144 28h4M144 29h3M143 30h3M142 31h3M19 32h1M141 32h3M16 33h9M140 33h3M14 34h3M24 34h2M139 34h3M11 35h4M24 35h2M138 35h3M9 36h3M25 36h2M137 36h4M0 37h9M26 37h2M136 37h4M0 38h7M26 38h2M136 38h3M0 39h5M27 39h2M135 39h3M0 40h5M27 40h2M135 40h3M0 41h6M28 41h2M33 41h1M134 41h4M0 42h6M28 42h4M34 42h1M134 42h3M0 43h6M28 43h2M35 43h1M134 43h3M0 44h7M37 44h1M134 44h3M0 45h7M38 45h1M134 45h3M0 46h8M39 46h1M133 46h3M0 47h8M40 47h1M133 47h3M0 48h8M40 48h1M133 48h3M5 49h4M40 49h1M133 49h3M5 50h3M40 50h1M133 50h3M6 51h2M133 51h2M6 52h2M133 52h2M6 53h1M133 53h1M6 54h2M132 54h3M7 55h1M131 55h2M134 55h1M7 56h2M130 56h2M134 56h2M8 57h1M129 57h1M135 57h2M8 58h2M128 58h1M135 58h2M9 59h1M127 59h1M136 59h2M9 60h2M137 60h1M10 61h1M41 61h1M137 61h2M10 62h1M138 62h2M10 63h1M42 63h1M139 63h1M10 64h1M139 64h2M10 65h1M43 65h1M140 65h2M10 66h1M140 66h2M10 67h1M44 67h1M141 67h2M10 68h1M44 68h1M141 68h2M11 69h1M140 69h2M11 70h1M43 70h1M140 70h1M12 71h1M43 71h1M72 71h2M139 71h2M12 72h1M69 72h5M138 72h2M13 73h1M42 73h2M67 73h7M138 73h1M42 74h2M65 74h10M137 74h2M43 75h1M63 75h12M136 75h2M12 76h1M43 76h2M61 76h5M69 76h6M136 76h1M43 77h2M59 77h5M70 77h5M135 77h2M44 78h1M57 78h5M70 78h5M134 78h2M11 79h1M44 79h2M55 79h5M70 79h6M134 79h1M44 80h2M54 80h4M70 80h6M130 80h5M45 81h2M52 81h5M70 81h6M124 81h10M10 82h1M45 82h2M50 82h5M71 82h5M119 82h14M45 83h2M52 83h5M71 83h5M113 83h18M45 84h1M55 84h5M71 84h5M107 84h21M9 85h1M45 85h1M57 85h3M72 85h3M104 85h22M44 86h1M58 86h2M72 86h3M103 86h20M44 87h1M58 87h2M72 87h3M103 87h18M8 88h1M44 88h1M58 88h1M72 88h2M102 88h10M43 89h1M58 89h1M71 89h3M101 89h5M43 90h1M58 90h1M71 90h3M100 90h4M7 91h1M42 91h1M58 91h1M71 91h3M99 91h4M42 92h1M58 92h1M70 92h3M98 92h4M41 93h1M58 93h1M70 93h3M97 93h5M6 94h1M41 94h1M58 94h1M70 94h3M97 94h4M6 95h1M40 95h1M58 95h1M69 95h3M96 95h4M6 96h1M40 96h1M57 96h2M69 96h3M95 96h4M6 97h1M40 97h1M57 97h1M70 97h3M93 97h4M6 98h1M41 98h1M55 98h2M71 98h2M89 98h5M5 99h2M41 99h1M54 99h1M71 99h21M5 100h1M41 100h1M53 100h1M72 100h11M0 101h6M42 101h1M52 101h1M0 102h5M43 102h1M51 102h1M0 103h5M44 103h2M49 103h2M46 104h1M48 104h1M47 105h1"/>
<path stroke="#00ff64" d="M41 0h2M150 0h6M160 0h10M40 1h2M148 1h6M161 1h9M39 2h2M147 2h5M162 2h9M38 3h2M47 3h1M146 3h4M162 3h10M37 4h2M45 4h3M146 4h2M163 4h9M37 5h1M43 5h5M145 5h2M163 5h10M36 6h1M41 6h7M145 6h1M164 6h10M35 7h1M39 7h9M144 7h2M165 7h9M34 8h1M37 8h11M143 8h2M165 8h10M32 9h2M35 9h13M143 9h2M166 9h10M31 10h2M34 10h14M142 10h2M167 10h15M29 11h3M45 11h2M142 11h2M168 11h14M27 12h3M143 12h1M169 12h7M25 13h3M143 13h2M170 13h4M24 14h2M143 14h2M171 14h2M22 15h2M143 15h2M20 16h3M143 16h2M0 17h21M144 17h2M144 18h2M144 19h2M145 20h1M145 21h2M145 22h2M145 23h2M146 24h2M145 25h2M144 26h2M143 27h2M142 28h2M141 29h3M141 30h2M18 31h4M140 31h2M15 32h4M20 32h7M139 32h2M13 33h3M25 33h2M138 33h2M10 34h4M26 34h2M137 34h2M0 35h11M26 35h2M136 35h2M0 36h9M27 36h2M135 36h2M28 37h1M134 37h2M28 38h2M133 38h3M29 39h2M133 39h2M29 40h2M133 40h2M30 41h3M34 41h1M132 41h2M35 42h1M132 42h2M36 43h1M132 43h2M38 44h1M132 44h2M39 45h1M132 45h2M40 46h1M132 46h1M132 47h1M132 48h1M0 49h5M132 49h1M0 50h5M132 50h1M0 51h6M41 51h1M132 51h1M0 52h6M41 52h1M131 52h2M0 53h6M41 53h1M131 53h2M0 54h6M41 54h1M131 54h1M5 55h2M41 55h1M130 55h1M133 55h1M6 56h1M41 56h1M129 56h1M132 56h2M6 57h2M41 57h1M128 57h1M130 57h5M7 58h1M41 58h1M127 58h1M129 58h4M134 58h1M7 59h2M41 59h1M126 59h1M128 59h3M134 59h2M8 60h1M41 60h1M125 60h5M135 60h2M8 61h2M42 61h1M124 61h5M136 61h1M9 62h1M42 62h1M123 62h5M136 62h2M9 63h1M43 63h1M123 63h3M137 63h2M9 64h1M43 64h1M122 64h3M137 64h2M9 65h1M44 65h1M121 65h3M138 65h2M9 66h1M44 66h1M120 66h3M139 66h1M9 67h1M45 67h1M75 67h2M119 67h3M139 67h2M9 68h1M45 68h1M72 68h6M117 68h4M139 68h2M10 69h1M44 69h1M70 69h8M116 69h5M139 69h1M10 70h1M44 70h1M68 70h11M115 70h6M138 70h2M11 71h1M44 71h1M66 71h6M74 71h5M114 71h7M137 71h2M11 72h1M43 72h2M64 72h5M74 72h5M113 72h8M137 72h1M12 73h1M44 73h1M62 73h5M74 73h5M112 73h10M136 73h2M12 74h1M44 74h2M60 74h5M75 74h4M111 74h11M135 74h2M12 75h1M44 75h2M58 75h5M75 75h4M110 75h12M135 75h1M45 76h1M56 76h5M75 76h4M109 76h13M134 76h2M11 77h1M45 77h2M54 77h5M75 77h5M108 77h14M132 77h3M11 78h1M45 78h2M53 78h4M75 78h5M107 78h15M126 78h8M46 79h1M51 79h4M76 79h4M106 79h28M10 80h1M46 80h8M76 80h4M105 80h25M10 81h1M47 81h5M76 81h4M104 81h20M47 82h3M76 82h4M102 82h17M9 83h1M47 83h5M76 83h4M102 83h11M9 84h1M46 84h1M50 84h5M76 84h3M101 84h6M46 85h1M52 85h5M75 85h4M100 85h4M8 86h1M45 86h1M55 86h3M75 86h4M99 86h4M8 87h1M45 87h1M57 87h1M75 87h3M98 87h5M57 88h1M74 88h4M97 88h5M7 89h1M44 89h1M57 89h1M74 89h3M97 89h4M7 90h1M44 90h1M57 90h1M74 90h3M96 90h4M43 91h1M57 91h1M74 91h2M95 91h4M6 92h1M43 92h1M57 92h1M73 92h3M94 92h4M6 93h1M42 93h1M56 93h2M73 93h3M93 93h4M42 94h1M56 94h2M73 94h3M92 94h5M41 95h1M56 95h2M72 95h3M92 95h4M5 96h1M41 96h1M56 96h1M72 96h3M91 96h4M5 97h1M41 97h1M55 97h2M73 97h2M79 97h14M0 98h6M54 98h1M73 98h16M0 99h5M42 99h1M53 99h1M0 100h5M42 100h1M52 100h1M43 101h1M50 101h2M44 102h2M49 102h2M46 103h1M48 103h1M47 104h1"/>
<path stroke="#5aff50" d="M43 0h5M146 0h4M170 0h12M42 1h6M146 1h2M170 1h12M41 2h7M145 2h2M171 2h11M40 3h7M48 3h1M145 3h1M172 3h10M39 4h6M48 4h1M144 4h2M172 4h10M38 5h5M48 5h1M143 5h2M173 5h9M37 6h4M48 6h1M143 6h2M174 6h8M36 7h3M48 7h1M142 7h2M174 7h8M35 8h2M48 8h1M142 8h1M175 8h7M34 9h1M48 9h1M141 9h2M176 9h6M33 10h1M48 10h1M140 10h2M32 11h13M47 11h1M141 11h1M30 12h17M141 12h2M28 13h3M41 13h4M141 13h2M26 14h3M141 14h2M24 15h3M141 15h2M23 16h2M142 16h1M21 17h2M142 17h2M0 18h22M142 18h2M0 19h20M142 19h2M143 20h2M143 21h2M143 22h2M143 23h2M144 24h2M143 25h2M142 26h2M141 27h2M140 28h2M140 29h1M17 30h8M139 30h2M14 31h4M22 31h6M138 31h2M12 32h3M27 32h1M137 32h2M0 33h13M27 33h2M136 33h2M0 34h10M28 34h2M135 34h2M28 35h2M134 35h2M29 36h2M133 36h2M29 37h2M132 37h2M30 38h2M131 38h2M31 39h2M131 39h2M31 40h4M131 40h2M35 41h1M131 41h1M36 42h1M131 42h1M37 43h1M131 43h1M39 44h1M131 44h1M40 45h1M131 45h1M131 46h1M41 47h1M131 47h1M41 48h1M131 48h1M41 49h1M130 49h2M41 50h1M130 50h2M130 51h2M130 52h1M130 53h1M129 54h2M0 55h5M128 55h2M0 56h6M128 56h1M0 57h6M127 57h1M5 58h2M126 58h1M133 58h1M5 59h2M125 59h1M131 59h3M6 60h2M42 60h1M124 60h1M130 60h5M6 61h2M123 61h1M129 61h4M134 61h2M7 62h2M43 62h1M122 62h1M128 62h3M134 62h2M7 63h2M121 63h2M126 63h4M135 63h2M8 64h1M44 64h1M120 64h2M125 64h4M136 64h1M8 65h1M76 65h1M119 65h2M124 65h4M136 65h2M8 66h1M45 66h1M73 66h6M118 66h2M123 66h3M137 66h2M8 67h1M69 67h6M77 67h4M116 67h3M122 67h3M137 67h2M8 68h1M67 68h5M78 68h4M114 68h3M121 68h3M137 68h2M9 69h1M45 69h1M65 69h5M78 69h5M113 69h3M121 69h4M137 69h2M9 70h1M45 70h1M62 70h6M79 70h4M112 70h3M121 70h4M136 70h2M10 71h1M45 71h1M60 71h6M79 71h4M111 71h3M121 71h4M135 71h2M10 72h1M45 72h2M59 72h5M79 72h4M110 72h3M121 72h4M135 72h2M11 73h1M45 73h2M57 73h5M79 73h4M109 73h3M122 73h3M134 73h2M11 74h1M46 74h1M52 74h8M79 74h4M108 74h3M122 74h3M133 74h2M46 75h12M79 75h4M107 75h3M122 75h3M128 75h7M11 76h1M46 76h10M79 76h5M106 76h3M122 76h12M47 77h7M80 77h4M105 77h3M122 77h10M47 78h6M80 78h4M104 78h3M122 78h4M10 79h1M47 79h4M80 79h4M103 79h3M80 80h4M101 80h4M80 81h4M99 81h5M9 82h1M80 82h4M98 82h4M80 83h4M97 83h5M47 84h3M79 84h5M96 84h5M8 85h1M47 85h5M79 85h4M95 85h5M46 86h1M50 86h5M79 86h4M94 86h5M46 87h1M52 87h5M78 87h4M93 87h5M7 88h1M45 88h1M55 88h2M78 88h4M93 88h4M45 89h1M55 89h2M77 89h4M92 89h5M55 90h2M77 90h4M91 90h5M6 91h1M44 91h1M55 91h2M76 91h5M89 91h6M44 92h1M55 92h2M76 92h4M84 92h10M43 93h1M55 93h1M76 93h17M5 94h1M43 94h1M55 94h1M76 94h16M5 95h1M42 95h1M55 95h1M75 95h17M0 96h5M42 96h1M55 96h1M75 96h16M0 97h5M42 97h1M54 97h1M75 97h4M42 98h1M53 98h1M43 99h1M52 99h1M43 100h1M50 100h2M44 101h2M49 101h1M46 102h1M48 102h1M47 103h1"/>
<path stroke="#78ff35" d="M48 0h1M145 0h1M48 1h1M144 1h2M48 2h1M143 2h2M143 3h2M142 4h2M142 5h1M141 6h2M49 7h1M140 7h2M49 8h1M140 8h2M139 9h2M139 10h1M48 11h1M139 11h2M47 12h1M139 12h2M31 13h10M45 13h2M139 13h2M29 14h16M139 14h2M27 15h6M36 15h7M140 15h1M25 16h4M140 16h2M23 17h3M140 17h2M22 18h2M140 18h2M20 19h2M140 19h2M0 20h21M141 20h2M141 21h2M141 22h2M142 23h1M142 24h2M141 25h2M140 26h2M139 27h2M19 28h1M139 28h1M16 29h11M138 29h2M0 30h17M25 30h4M137 30h2M0 31h14M28 31h2M136 31h2M0 32h12M28 32h2M135 32h2M29 33h2M134 33h2M30 34h2M133 34h2M30 35h2M132 35h2M31 36h2M131 36h2M31 37h2M131 37h1M32 38h2M130 38h1M33 39h1M129 39h2M35 40h1M129 40h2M36 41h1M130 41h1M37 42h1M130 42h1M38 43h1M130 43h1M40 44h1M130 44h1M41 45h1M130 45h1M41 46h1M129 46h2M129 47h2M129 48h2M129 49h1M129 50h1M129 51h1M42 52h1M129 52h1M42 53h1M129 53h1M42 54h1M128 54h1M42 55h1M127 55h1M42 56h1M126 56h2M42 57h1M125 57h2M0 58h5M42 58h1M124 58h2M0 59h5M42 59h1M124 59h1M0 60h6M43 60h1M123 60h1M0 61h6M43 61h1M122 61h1M133 61h1M5 62h2M44 62h1M121 62h1M131 62h3M6 63h1M44 63h1M120 63h1M130 63h5M6 64h2M45 64h1M73 64h6M119 64h1M129 64h3M134 64h2M7 65h1M45 65h1M70 65h6M77 65h4M117 65h2M128 65h3M134 65h2M7 66h1M46 66h1M67 66h6M79 66h4M115 66h3M126 66h4M135 66h2M7 67h1M46 67h1M64 67h5M81 67h4M113 67h3M125 67h4M136 67h1M7 68h1M46 68h1M59 68h8M82 68h4M111 68h3M124 68h4M136 68h1M8 69h1M46 69h1M53 69h12M83 69h4M110 69h3M125 69h3M135 69h2M8 70h1M46 70h16M83 70h4M110 70h2M125 70h3M134 70h2M9 71h1M46 71h14M83 71h4M109 71h2M125 71h3M134 71h1M9 72h1M47 72h12M83 72h4M108 72h2M125 72h4M131 72h4M10 73h1M47 73h10M83 73h4M107 73h2M125 73h9M10 74h1M47 74h5M83 74h4M106 74h2M125 74h8M11 75h1M83 75h4M104 75h3M125 75h3M84 76h4M103 76h3M84 77h4M101 77h4M10 78h1M84 78h4M99 78h5M84 79h4M98 79h5M84 80h4M96 80h5M9 81h1M84 81h4M94 81h5M84 82h4M93 82h5M84 83h4M92 83h5M8 84h1M84 84h4M91 84h5M83 85h4M90 85h5M47 86h3M83 86h11M7 87h1M47 87h5M82 87h11M46 88h1M50 88h5M82 88h11M46 89h1M52 89h3M81 89h11M6 90h1M45 90h1M54 90h1M81 90h10M45 91h1M54 91h1M81 91h8M54 92h1M80 92h4M5 93h1M44 93h1M54 93h1M44 94h1M54 94h1M0 95h5M43 95h1M54 95h1M43 96h1M54 96h1M43 97h1M53 97h1M43 98h1M52 98h1M44 99h1M50 99h2M44 100h2M49 100h1M46 101h1M48 101h1M47 102h1"/>
<path stroke="#96ff1b" d="M49 0h1M142 0h3M49 1h1M142 1h2M49 2h1M142 2h1M49 3h1M141 3h2M49 4h1M140 4h2M49 5h1M140 5h2M49 6h1M139 6h2M139 7h1M138 8h2M49 9h1M137 9h2M49 10h1M137 10h2M137 11h2M48 12h1M137 12h2M47 13h1M137 13h2M45 14h2M138 14h1M33 15h3M43 15h2M138 15h2M29 16h14M138 16h2M26 17h15M138 17h2M24 18h6M138 18h2M22 19h4M139 19h1M21 20h2M139 20h2M0 21h21M139 21h2M0 22h20M139 22h2M140 23h2M140 24h2M139 25h2M138 26h2M18 27h5M138 27h1M0 28h19M20 28h10M137 28h2M0 29h16M27 29h3M136 29h2M29 30h2M135 30h2M30 31h2M134 31h2M30 32h2M133 32h2M31 33h2M132 33h2M32 34h1M131 34h2M32 35h2M131 35h1M33 36h1M130 36h1M33 37h2M129 37h2M34 38h1M128 38h2M34 39h1M127 39h2M36 40h1M128 40h1M37 41h1M128 41h2M38 42h1M128 42h2M39 43h1M128 43h2M41 44h1M128 44h2M128 45h2M128 46h1M42 47h1M128 47h1M42 48h1M128 48h1M42 49h1M128 49h1M42 50h1M128 50h1M42 51h1M128 51h1M128 52h1M128 53h1M127 54h1M126 55h1M125 56h1M124 57h1M123 58h1M43 59h1M122 59h2M121 60h2M44 61h1M120 61h2M0 62h5M61 62h1M74 62h4M120 62h1M0 63h6M45 63h1M56 63h7M71 63h10M118 63h2M0 64h6M51 64h13M68 64h5M79 64h4M116 64h3M132 64h2M5 65h2M46 65h1M50 65h20M81 65h4M114 65h3M131 65h3M6 66h1M49 66h18M83 66h4M112 66h3M130 66h5M6 67h1M47 67h17M85 67h4M110 67h3M129 67h3M134 67h2M6 68h1M47 68h12M86 68h5M109 68h2M128 68h4M134 68h2M7 69h1M47 69h6M87 69h4M108 69h2M128 69h4M133 69h2M7 70h1M87 70h4M107 70h3M128 70h6M8 71h1M87 71h5M106 71h3M128 71h6M8 72h1M87 72h5M105 72h3M129 72h2M9 73h1M87 73h5M103 73h4M9 74h1M87 74h6M101 74h5M10 75h1M87 75h6M100 75h4M10 76h1M88 76h5M98 76h5M10 77h1M88 77h6M96 77h5M88 78h6M95 78h4M9 79h1M88 79h10M9 80h1M88 80h8M88 81h6M8 82h1M88 82h5M8 83h1M88 83h4M88 84h3M7 85h1M87 85h3M7 86h1M6 88h1M47 88h3M6 89h1M47 89h5M46 90h1M50 90h4M5 91h1M46 91h1M52 91h2M5 92h1M45 92h1M53 92h1M0 93h5M45 93h1M53 93h1M0 94h5M45 94h1M52 94h2M44 95h1M52 95h2M44 96h1M52 96h2M44 97h1M51 97h2M44 98h1M50 98h2M45 99h1M49 99h1M46 100h3M47 101h1"/>
<path stroke="#b4ff00" d="M50 0h1M139 0h3M50 1h1M139 1h3M50 2h1M139 2h3M50 3h1M138 3h3M50 4h1M138 4h2M50 5h1M138 5h2M50 6h1M137 6h2M50 7h1M137 7h2M50 8h1M136 8h2M50 9h1M136 9h1M50 10h1M135 10h2M49 11h1M135 11h2M135 12h2M48 13h1M136 13h1M47 14h1M136 14h2M45 15h1M136 15h2M43 16h2M136 16h2M41 17h2M136 17h2M30 18h11M137 18h1M26 19h13M137 19h2M23 20h9M137 20h2M21 21h7M137 21h2M20 22h4M137 22h2M0 23h20M138 23h2M138 24h2M138 25h1M0 26h26M137 26h1M0 27h18M23 27h8M136 27h2M30 28h2M135 28h2M30 29h2M134 29h2M31 30h2M133 30h2M32 31h2M132 31h2M32 32h2M131 32h2M33 33h2M130 33h2M33 34h2M130 34h1M34 35h2M129 35h2M34 36h2M128 36h2M35 37h1M127 37h2M35 38h1M126 38h2M35 39h1M126 39h1M37 40h1M126 40h2M38 41h1M126 41h2M39 42h1M126 42h2M40 43h1M127 43h1M42 44h1M127 44h1M42 45h1M127 45h1M42 46h1M127 46h1M127 47h1M127 48h1M127 49h1M126 50h2M126 51h2M43 52h1M126 52h2M43 53h1M126 53h2M43 54h1M125 54h2M43 55h1M125 55h1M43 56h1M124 56h1M43 57h1M58 57h5M123 57h1M43 58h1M57 58h7M122 58h1M44 59h1M56 59h8M121 59h1M44 60h1M54 60h11M75 60h3M120 60h1M45 61h1M53 61h13M71 61h9M119 61h1M45 62h1M52 62h9M62 62h5M68 62h6M78 62h5M117 62h3M46 63h1M51 63h5M63 63h8M81 63h4M115 63h3M46 64h1M49 64h2M64 64h4M83 64h4M113 64h3M0 65h5M47 65h3M85 65h4M111 65h3M0 66h6M47 66h2M87 66h6M109 66h3M0 67h6M89 67h8M107 67h3M132 67h2M5 68h1M91 68h9M106 68h3M132 68h2M6 69h1M91 69h9M105 69h3M132 69h1M6 70h1M91 70h10M103 70h4M7 71h1M92 71h14M7 72h1M92 72h13M8 73h1M92 73h11M8 74h1M93 74h8M9 75h1M93 75h7M9 76h1M93 76h5M94 77h2M9 78h1M94 78h1M8 81h1M7 84h1M6 87h1M5 90h1M47 90h3M47 91h5M0 92h5M46 92h1M49 92h4M46 93h1M51 93h2M51 94h1M45 95h1M51 95h1M45 96h1M51 96h1M45 97h1M50 97h1M45 98h1M49 98h1M46 99h3"/>
<path stroke="#cdff00" d="M51 0h1M136 0h3M51 1h1M135 1h4M51 2h1M135 2h4M51 3h1M135 3h3M51 4h1M135 4h3M51 5h1M134 5h4M51 6h1M134 6h3M51 7h1M134 7h3M51 8h1M134 8h2M134 9h2M133 10h2M134 11h1M49 12h1M134 12h1M134 13h2M48 14h1M134 14h2M46 15h2M134 15h2M45 16h1M134 16h2M43 17h2M135 17h1M41 18h2M135 18h2M39 19h2M135 19h2M32 20h7M135 20h2M28 21h10M135 21h2M24 22h9M34 22h2M136 22h1M20 23h9M136 23h2M0 24h25M136 24h2M0 25h28M136 25h2M26 26h6M135 26h2M31 27h2M134 27h2M32 28h2M133 28h2M32 29h2M132 29h2M33 30h2M131 30h2M34 31h1M130 31h2M34 32h2M130 32h1M35 33h1M129 33h1M35 34h2M128 34h2M36 35h1M127 35h2M36 36h1M126 36h2M36 37h1M126 37h1M36 38h1M125 38h1M36 39h1M124 39h2M38 40h1M124 40h2M39 41h1M124 41h2M40 42h1M125 42h1M41 43h2M125 43h2M125 44h2M125 45h2M125 46h2M125 47h2M43 48h1M125 48h2M43 49h1M125 49h2M43 50h1M125 50h1M43 51h1M125 51h1M61 52h2M125 52h1M61 53h3M125 53h1M60 54h5M124 54h1M59 55h7M123 55h2M57 56h10M122 56h2M56 57h2M63 57h4M121 57h2M44 58h1M55 58h2M64 58h4M75 58h2M121 58h1M54 59h2M64 59h5M72 59h8M120 59h1M45 60h1M52 60h2M65 60h10M78 60h4M118 60h2M51 61h2M66 61h5M80 61h5M116 61h3M46 62h1M50 62h2M67 62h1M83 62h4M114 62h3M49 63h2M85 63h4M112 63h3M47 64h2M87 64h6M110 64h3M89 65h9M108 65h3M93 66h9M106 66h3M97 67h10M0 68h5M100 68h6M0 69h6M100 69h5M5 70h1M101 70h2M6 71h1M6 72h1M7 73h1M7 74h1M8 75h1M8 76h1M9 77h1M8 80h1M7 83h1M6 86h1M5 89h1M0 91h5M47 92h2M47 93h4M46 94h1M49 94h2M46 95h1M50 95h1M50 96h1M46 97h1M49 97h1M46 98h3"/>
<path stroke="#e6ff00" d="M133 0h3M133 1h2M133 2h2M52 3h1M133 3h2M52 4h1M133 4h2M52 5h1M132 5h2M132 6h2M132 7h2M132 8h2M51 9h1M132 9h2M51 10h1M132 10h1M50 11h1M132 11h2M131 12h3M49 13h1M132 13h2M132 14h2M132 15h2M46 16h2M132 16h2M45 17h1M133 17h2M43 18h2M133 18h2M41 19h2M133 19h2M39 20h2M133 20h2M38 21h1M134 21h1M33 22h1M36 22h2M134 22h2M29 23h7M134 23h2M25 24h9M134 24h2M28 25h6M134 25h2M32 26h2M133 26h2M33 27h2M132 27h2M34 28h1M131 28h2M34 29h2M130 29h2M35 30h1M130 30h1M35 31h2M129 31h1M36 32h1M128 32h2M36 33h2M127 33h2M37 34h1M126 34h2M37 35h1M125 35h2M37 36h1M125 36h1M37 37h1M124 37h2M37 38h1M123 38h2M37 39h1M122 39h2M39 40h1M123 40h1M40 41h1M123 41h1M41 42h1M123 42h2M43 43h1M123 43h2M43 44h1M123 44h2M43 45h1M124 45h1M43 46h1M61 46h1M124 46h1M43 47h1M61 47h2M124 47h1M61 48h2M124 48h1M60 49h3M124 49h1M60 50h4M124 50h1M60 51h4M124 51h1M44 52h1M59 52h2M63 52h3M124 52h1M44 53h1M59 53h2M64 53h5M124 53h1M44 54h1M58 54h2M65 54h5M123 54h1M44 55h1M57 55h2M66 55h5M122 55h1M44 56h1M56 56h1M67 56h4M76 56h1M121 56h1M44 57h1M54 57h2M67 57h5M73 57h6M120 57h1M45 58h1M53 58h2M68 58h7M77 58h5M119 58h2M45 59h1M52 59h2M69 59h3M80 59h5M117 59h3M46 60h1M51 60h1M82 60h5M116 60h2M46 61h1M49 61h2M85 61h4M114 61h2M47 62h3M87 62h5M112 62h2M47 63h2M89 63h9M110 63h2M93 64h10M106 64h4M98 65h10M102 66h4M0 70h5M0 71h6M5 72h1M6 73h1M6 74h1M7 75h1M7 76h1M7 77h2M8 78h1M8 79h1M7 81h1M7 82h1M6 84h1M6 85h1M5 87h1M5 88h1M0 89h5M0 90h5M47 94h2M47 95h3M46 96h1M48 96h2M47 97h2"/>
<path stroke="#ff0" d="M52 0h1M132 0h1M52 1h1M131 1h2M52 2h1M131 2h2M131 3h2M131 4h2M131 5h1M52 6h1M131 6h1M52 7h1M131 7h1M52 8h1M131 8h1M52 9h1M131 9h1M131 10h1M51 11h1M130 11h2M50 12h1M130 12h1M130 13h2M49 14h1M129 14h3M48 15h1M129 15h3M130 16h2M46 17h2M130 17h3M45 18h1M130 18h3M43 19h2M131 19h2M41 20h2M131 20h2M39 21h2M131 21h3M38 22h1M131 22h3M36 23h2M132 23h2M34 24h2M132 24h2M34 25h1M132 25h2M34 26h2M131 26h2M35 27h1M130 27h2M35 28h2M129 28h2M36 29h2M129 29h1M36 30h2M128 30h2M37 31h2M127 31h2M37 32h2M126 32h2M38 33h1M125 33h2M38 34h1M125 34h1M38 35h1M124 35h1M38 36h1M123 36h2M38 37h1M122 37h2M38 38h1M121 38h2M38 39h1M121 39h1M40 40h1M121 40h2M41 41h1M61 41h2M121 41h2M42 42h1M61 42h2M121 42h2M61 43h2M121 43h2M60 44h4M122 44h1M60 45h4M122 45h2M60 46h1M62 46h2M122 46h2M59 47h2M63 47h2M122 47h2M44 48h1M59 48h2M63 48h2M122 48h2M44 49h1M59 49h1M63 49h2M123 49h1M44 50h1M58 50h2M64 50h3M123 50h1M44 51h1M58 51h2M64 51h5M122 51h2M58 52h1M66 52h5M122 52h2M57 53h2M69 53h4M122 53h2M56 54h2M70 54h5M122 54h1M55 55h2M71 55h8M121 55h1M54 56h2M71 56h5M77 56h4M120 56h1M45 57h1M52 57h2M72 57h1M79 57h5M119 57h1M51 58h2M82 58h4M117 58h2M46 59h1M50 59h2M85 59h4M115 59h2M49 60h2M87 60h4M113 60h3M47 61h2M89 61h9M110 61h4M92 62h11M106 62h6M98 63h12M103 64h3M0 72h5M0 73h6M5 74h1M5 75h2M6 76h1M6 77h1M7 78h1M7 79h1M7 80h1M6 83h1M5 86h1M0 88h5M47 96h1"/>
<path stroke="#ffef00" d="M53 0h1M130 0h2M53 1h1M130 1h1M53 2h1M130 2h1M53 3h1M130 3h1M53 4h1M130 4h1M53 5h1M130 5h1M53 6h1M130 6h1M53 7h1M130 7h1M129 8h2M129 9h2M52 10h1M129 10h2M129 11h1M51 12h1M129 12h1M50 13h1M128 13h2M128 14h1M49 15h1M128 15h1M48 16h1M127 16h3M127 17h3M46 18h2M128 18h2M45 19h1M128 19h3M43 20h1M128 20h3M41 21h2M129 21h2M39 22h2M129 22h2M38 23h1M129 23h3M36 24h1M129 24h3M35 25h2M129 25h3M36 26h2M128 26h3M36 27h2M128 27h2M37 28h2M127 28h2M38 29h1M126 29h3M38 30h2M125 30h3M39 31h1M125 31h2M39 32h2M124 32h2M39 33h1M123 33h2M39 34h1M122 34h3M39 35h1M122 35h2M39 36h1M121 36h2M39 37h1M62 37h2M120 37h2M39 38h1M61 38h3M120 38h1M39 39h1M60 39h4M119 39h2M41 40h1M60 40h4M119 40h2M42 41h1M59 41h2M63 41h2M119 41h2M43 42h1M59 42h2M63 42h2M120 42h1M59 43h2M63 43h2M120 43h1M44 44h1M58 44h2M64 44h2M120 44h2M44 45h1M58 45h2M64 45h2M120 45h2M44 46h1M58 46h2M64 46h2M120 46h2M44 47h1M57 47h2M65 47h2M120 47h2M57 48h2M65 48h2M121 48h1M57 49h2M65 49h4M121 49h2M56 50h2M67 50h4M121 50h2M56 51h2M69 51h5M121 51h1M45 52h1M56 52h2M71 52h5M121 52h1M45 53h1M55 53h2M73 53h5M121 53h1M45 54h1M54 54h2M75 54h6M120 54h2M45 55h1M53 55h2M79 55h4M119 55h2M45 56h1M52 56h2M81 56h5M118 56h2M46 57h1M50 57h2M84 57h4M116 57h3M46 58h1M49 58h2M86 58h5M113 58h4M47 59h3M89 59h9M110 59h5M47 60h2M91 60h12M106 60h7M98 61h12M103 62h3M0 74h5M0 75h5M5 76h1M5 77h1M6 78h1M6 79h1M6 82h1M5 85h1M0 87h5"/>
<path stroke="#ffde00" d="M54 0h1M129 0h1M54 1h1M129 1h1M54 2h1M129 2h1M54 3h1M129 3h1M54 4h1M128 4h2M54 5h1M128 5h2M128 6h2M128 7h2M53 8h1M128 8h1M53 9h1M128 9h1M53 10h1M128 10h1M52 11h1M128 11h1M127 12h2M51 13h1M127 13h1M50 14h1M127 14h1M126 15h2M49 16h1M126 16h1M48 17h1M126 17h1M125 18h3M46 19h2M125 19h3M44 20h2M126 20h2M43 21h1M126 21h3M41 22h2M126 22h3M39 23h2M126 23h3M37 24h2M127 24h2M37 25h2M126 25h3M38 26h1M126 26h2M38 27h2M125 27h3M39 28h1M124 28h3M39 29h2M124 29h2M40 30h1M123 30h2M40 31h2M122 31h3M41 32h1M121 32h3M40 33h1M121 33h2M40 34h1M120 34h2M40 35h1M61 35h5M119 35h3M40 36h1M61 36h5M117 36h4M40 37h1M60 37h2M64 37h2M114 37h6M40 38h1M59 38h2M64 38h2M112 38h8M40 39h1M59 39h1M64 39h2M110 39h9M42 40h1M58 40h2M64 40h2M111 40h8M43 41h1M58 41h1M65 41h1M112 41h7M44 42h1M57 42h2M65 42h2M114 42h6M44 43h1M57 43h2M65 43h2M115 43h5M56 44h2M66 44h1M116 44h4M56 45h2M66 45h2M117 45h3M56 46h2M66 46h2M117 46h3M55 47h2M67 47h2M118 47h2M45 48h1M55 48h2M67 48h4M119 48h2M45 49h1M55 49h2M69 49h5M119 49h2M45 50h1M54 50h2M71 50h5M119 50h2M45 51h1M54 51h2M74 51h4M120 51h1M54 52h2M76 52h4M120 52h1M53 53h2M78 53h5M120 53h1M52 54h2M81 54h5M119 54h1M51 55h2M83 55h5M116 55h3M46 56h1M50 56h2M86 56h4M113 56h5M49 57h1M88 57h10M109 57h7M47 58h2M91 58h12M106 58h7M98 59h12M103 60h3M0 76h5M0 77h5M5 78h1M5 79h1M6 80h1M6 81h1M5 83h1M5 84h1M0 85h5M0 86h5"/>
<path stroke="#ffce00" d="M55 0h1M127 0h2M55 1h1M127 1h2M55 2h1M127 2h2M55 3h1M127 3h2M127 4h1M127 5h1M54 6h1M127 6h1M54 7h1M127 7h1M54 8h1M127 8h1M54 9h1M127 9h1M127 10h1M53 11h1M126 11h2M52 12h1M126 12h1M126 13h1M51 14h1M125 14h2M50 15h1M125 15h1M125 16h1M49 17h1M124 17h2M48 18h1M124 18h1M124 19h1M46 20h2M123 20h3M44 21h2M123 21h3M43 22h1M124 22h2M41 23h2M124 23h2M39 24h2M124 24h3M39 25h1M124 25h2M39 26h2M123 26h3M40 27h1M122 27h3M40 28h2M122 28h2M41 29h2M121 29h3M41 30h2M120 30h3M42 31h1M119 31h3M42 32h1M118 32h3M41 33h1M61 33h7M115 33h6M41 34h1M61 34h7M113 34h7M41 35h1M60 35h1M66 35h2M110 35h9M41 36h1M59 36h2M66 36h2M107 36h10M41 37h1M58 37h2M66 37h2M106 37h8M41 38h1M58 38h1M66 38h2M105 38h7M41 39h1M57 39h2M66 39h2M104 39h6M43 40h1M56 40h2M66 40h2M103 40h8M44 41h1M56 41h2M66 41h2M102 41h10M56 42h1M67 42h2M101 42h13M55 43h2M67 43h2M100 43h4M106 43h9M45 44h1M55 44h1M67 44h2M99 44h3M107 44h9M45 45h1M54 45h2M68 45h2M99 45h1M108 45h9M45 46h1M54 46h2M68 46h4M110 46h7M45 47h1M54 47h1M69 47h5M111 47h7M53 48h2M71 48h5M112 48h7M53 49h2M74 49h4M112 49h7M53 50h1M76 50h3M113 50h6M52 51h2M78 51h4M114 51h6M46 52h1M52 52h2M80 52h5M115 52h5M46 53h1M52 53h1M83 53h5M115 53h5M46 54h1M50 54h2M86 54h4M113 54h6M46 55h1M49 55h2M88 55h9M109 55h7M47 56h3M90 56h14M106 56h7M47 57h2M98 57h11M103 58h3M0 78h5M0 79h5M5 80h1M5 81h1M5 82h1M0 84h5"/>
<path stroke="#ffbe00" d="M125 0h2M126 1h1M126 2h1M126 3h1M55 4h1M126 4h1M55 5h1M126 5h1M55 6h1M126 6h1M125 7h2M125 8h2M125 9h2M54 10h1M125 10h2M125 11h1M53 12h1M125 12h1M52 13h1M124 13h2M124 14h1M51 15h1M124 15h1M50 16h1M123 16h2M123 17h1M49 18h1M123 18h1M48 19h1M122 19h2M122 20h1M46 21h2M122 21h1M44 22h2M121 22h3M43 23h1M121 23h3M41 24h1M89 24h2M122 24h2M40 25h2M89 25h2M121 25h3M41 26h2M120 26h3M41 27h2M120 27h2M42 28h2M119 28h3M43 29h1M116 29h5M43 30h1M62 30h1M114 30h6M43 31h1M61 31h9M112 31h7M43 32h1M60 32h10M110 32h8M42 33h2M60 33h1M68 33h2M108 33h7M42 34h1M59 34h2M68 34h2M107 34h6M42 35h1M58 35h2M68 35h2M105 35h5M42 36h1M57 36h2M68 36h2M104 36h3M42 37h1M57 37h1M68 37h2M104 37h2M42 38h1M56 38h2M68 38h2M103 38h2M42 39h1M55 39h2M68 39h2M102 39h2M44 40h1M55 40h1M68 40h2M102 40h1M45 41h1M54 41h2M68 41h2M101 41h1M45 42h1M54 42h2M69 42h2M100 42h1M45 43h1M54 43h1M69 43h2M99 43h1M104 43h2M53 44h2M69 44h3M98 44h1M102 44h5M53 45h1M70 45h4M97 45h2M100 45h8M52 46h2M72 46h4M96 46h14M52 47h2M74 47h4M95 47h16M46 48h1M51 48h2M76 48h3M94 48h18M46 49h1M51 49h2M78 49h2M94 49h18M46 50h1M51 50h2M79 50h4M93 50h11M105 50h8M46 51h1M50 51h2M82 51h4M92 51h10M107 51h7M50 52h2M85 52h4M91 52h9M107 52h8M50 53h2M88 53h10M108 53h7M49 54h1M90 54h14M105 54h8M47 55h2M97 55h12M104 56h2M0 80h5M0 81h5M0 82h5M0 83h5"/>
<path stroke="#ffad00" d="M56 0h1M124 0h1M56 1h1M124 1h2M56 2h1M124 2h2M56 3h1M124 3h2M56 4h1M124 4h2M124 5h2M124 6h2M55 7h1M124 7h1M55 8h1M124 8h1M55 9h1M124 9h1M55 10h1M124 10h1M54 11h1M123 11h2M123 12h2M53 13h1M123 13h1M52 14h1M122 14h2M122 15h2M51 16h1M122 16h1M50 17h1M121 17h2M121 18h2M49 19h1M121 19h1M48 20h1M121 20h1M120 21h2M46 22h2M89 22h2M120 22h1M44 23h2M87 23h6M120 23h1M42 24h2M85 24h4M91 24h3M119 24h3M42 25h2M84 25h5M91 25h3M118 25h3M43 26h1M85 26h7M116 26h4M43 27h2M85 27h5M115 27h5M44 28h1M62 28h4M85 28h3M113 28h6M44 29h1M61 29h11M85 29h2M111 29h5M44 30h1M60 30h2M63 30h9M110 30h4M44 31h1M59 31h2M70 31h2M108 31h4M44 32h1M59 32h1M70 32h2M106 32h4M44 33h1M58 33h2M70 33h2M105 33h3M43 34h1M57 34h2M70 34h2M104 34h3M43 35h1M56 35h2M70 35h2M103 35h2M43 36h1M56 36h1M70 36h2M103 36h1M43 37h1M55 37h2M70 37h2M102 37h2M43 38h1M54 38h2M70 38h2M102 38h1M43 39h1M53 39h2M70 39h2M101 39h1M45 40h1M53 40h2M70 40h2M100 40h2M53 41h1M70 41h2M99 41h2M52 42h2M71 42h2M98 42h2M52 43h2M71 43h3M97 43h2M46 44h1M51 44h2M72 44h4M97 44h1M46 45h1M51 45h2M74 45h4M96 45h1M46 46h1M51 46h1M76 46h3M95 46h1M46 47h1M50 47h2M78 47h3M94 47h1M50 48h1M79 48h3M93 48h1M49 49h2M80 49h5M92 49h2M49 50h2M83 50h5M91 50h2M104 50h1M49 51h1M86 51h6M102 51h5M47 52h3M89 52h2M100 52h7M47 53h3M98 53h10M47 54h2M104 54h1"/>
<path stroke="#ff9d00" d="M57 0h1M122 0h2M57 1h1M122 1h2M57 2h1M122 2h2M122 3h2M123 4h1M56 5h1M123 5h1M56 6h1M123 6h1M56 7h1M123 7h1M56 8h1M123 8h1M123 9h1M122 10h2M55 11h1M122 11h1M54 12h1M122 12h1M121 13h2M53 14h1M121 14h1M52 15h1M121 15h1M120 16h2M51 17h1M120 17h1M50 18h1M120 18h1M119 19h2M49 20h1M89 20h3M119 20h2M48 21h1M87 21h6M118 21h2M85 22h4M91 22h3M117 22h3M46 23h2M83 23h4M93 23h3M116 23h4M44 24h2M81 24h4M94 24h3M115 24h4M44 25h1M80 25h4M94 25h3M114 25h4M44 26h2M62 26h7M81 26h4M92 26h3M112 26h4M45 27h1M61 27h13M81 27h4M90 27h3M111 27h4M45 28h1M60 28h2M66 28h8M81 28h4M88 28h3M109 28h4M45 29h1M59 29h2M72 29h2M81 29h4M87 29h2M107 29h4M45 30h1M59 30h1M72 30h2M81 30h7M105 30h5M45 31h1M58 31h1M72 31h2M81 31h5M104 31h4M45 32h1M57 32h2M72 32h2M81 32h3M104 32h2M45 33h1M56 33h2M72 33h2M103 33h2M44 34h1M56 34h1M72 34h2M103 34h1M44 35h1M55 35h1M72 35h2M102 35h1M44 36h1M54 36h2M72 36h2M101 36h2M44 37h1M53 37h2M72 37h1M101 37h1M44 38h1M52 38h2M72 38h1M100 38h2M44 39h1M52 39h1M72 39h1M100 39h1M46 40h1M51 40h2M72 40h2M99 40h1M46 41h1M51 41h2M72 41h2M98 41h1M46 42h1M51 42h1M73 42h3M97 42h1M46 43h1M50 43h2M74 43h4M96 43h1M50 44h1M76 44h3M95 44h2M49 45h2M78 45h3M94 45h2M49 46h2M79 46h3M93 46h2M49 47h1M81 47h3M92 47h2M47 48h3M82 48h5M92 48h1M47 49h2M85 49h5M91 49h1M47 50h2M88 50h3M47 51h2"/>
<path stroke="#ff8d00" d="M58 0h1M120 0h2M121 1h1M121 2h1M57 3h1M121 3h1M57 4h1M121 4h2M57 5h1M121 5h2M57 6h1M121 6h2M121 7h2M121 8h2M56 9h1M121 9h2M56 10h1M121 10h1M121 11h1M55 12h1M120 12h2M54 13h1M120 13h1M120 14h1M53 15h1M119 15h2M52 16h1M119 16h1M118 17h2M51 18h1M89 18h3M117 18h3M50 19h1M87 19h6M116 19h3M85 20h4M92 20h2M115 20h4M49 21h1M83 21h4M93 21h3M114 21h4M48 22h1M81 22h4M94 22h3M113 22h4M63 23h6M79 23h4M96 23h3M112 23h4M46 24h2M58 24h16M77 24h4M97 24h3M111 24h4M45 25h2M55 25h25M97 25h2M110 25h4M46 26h1M56 26h6M69 26h12M95 26h3M108 26h4M46 27h1M57 27h4M74 27h2M77 27h4M93 27h3M106 27h5M46 28h1M58 28h2M74 28h2M77 28h4M91 28h3M105 28h4M46 29h1M58 29h1M74 29h2M77 29h4M89 29h3M104 29h3M46 30h1M57 30h2M74 30h2M77 30h4M88 30h2M104 30h1M46 31h1M56 31h2M74 31h2M77 31h4M86 31h3M103 31h1M46 32h1M55 32h2M74 32h2M77 32h4M84 32h3M102 32h2M46 33h1M55 33h1M74 33h2M77 33h8M102 33h1M45 34h1M54 34h2M74 34h2M78 34h5M101 34h2M45 35h1M53 35h2M74 35h2M78 35h4M101 35h1M45 36h1M52 36h2M74 36h1M78 36h2M100 36h1M45 37h1M52 37h1M73 37h2M99 37h2M45 38h1M51 38h1M73 38h2M99 38h1M45 39h1M50 39h2M73 39h2M98 39h2M50 40h1M74 40h3M97 40h2M49 41h2M74 41h4M96 41h2M49 42h2M76 42h3M95 42h2M48 43h2M78 43h3M95 43h1M47 44h3M79 44h3M94 44h1M47 45h2M81 45h2M93 45h1M47 46h2M82 46h4M92 46h1M47 47h2M84 47h5M91 47h1M87 48h5M90 49h1"/>
<path stroke="#ff7c00" d="M119 0h1M58 1h1M119 1h2M58 2h1M119 2h2M58 3h1M119 3h2M58 4h1M119 4h2M119 5h2M119 6h2M57 7h1M120 7h1M57 8h1M120 8h1M57 9h1M120 9h1M57 10h1M120 10h1M56 11h1M119 11h2M119 12h1M55 13h1M118 13h2M54 14h1M117 14h3M116 15h3M53 16h1M89 16h3M115 16h4M52 17h1M87 17h6M114 17h4M68 18h5M85 18h4M92 18h2M113 18h4M51 19h1M66 19h11M83 19h4M93 19h3M112 19h4M50 20h1M65 20h15M81 20h4M94 20h3M111 20h4M63 21h20M96 21h3M110 21h4M49 22h1M61 22h20M97 22h3M109 22h4M48 23h1M52 23h11M69 23h10M99 23h2M108 23h4M48 24h10M74 24h3M100 24h3M107 24h4M47 25h8M99 25h3M106 25h4M47 26h9M98 26h2M105 26h3M47 27h10M76 27h1M96 27h3M104 27h2M47 28h11M76 28h1M94 28h3M103 28h2M47 29h11M76 29h1M92 29h3M103 29h1M47 30h10M76 30h1M90 30h3M102 30h2M47 31h9M76 31h1M89 31h3M102 31h1M47 32h8M76 32h1M87 32h3M101 32h1M47 33h1M49 33h6M76 33h1M85 33h3M100 33h2M46 34h2M50 34h4M76 34h2M83 34h3M100 34h1M46 35h1M51 35h2M76 35h2M82 35h2M99 35h2M46 36h1M51 36h1M75 36h3M80 36h3M99 36h1M46 37h1M50 37h2M75 37h6M98 37h1M46 38h1M49 38h2M75 38h4M97 38h2M46 39h1M48 39h2M75 39h3M97 39h1M47 40h3M77 40h2M96 40h1M47 41h2M78 41h3M95 41h1M47 42h2M79 42h3M94 42h1M47 43h1M81 43h3M93 43h2M82 44h3M92 44h2M83 45h5M91 45h2M86 46h6M89 47h2"/>
<path stroke="#ff6c00" d="M59 0h1M117 0h2M59 1h1M117 1h2M59 2h1M117 2h2M117 3h2M117 4h2M58 5h1M117 5h2M58 6h1M117 6h2M58 7h1M118 7h2M118 8h2M118 9h2M118 10h2M117 11h2M56 12h1M116 12h3M73 13h4M115 13h3M71 14h8M89 14h3M114 14h3M54 15h1M70 15h12M87 15h6M113 15h3M68 16h16M85 16h4M92 16h3M112 16h3M53 17h1M67 17h20M93 17h3M111 17h3M52 18h1M65 18h3M73 18h12M94 18h3M110 18h3M64 19h2M77 19h6M96 19h3M109 19h3M51 20h1M62 20h3M80 20h1M97 20h3M108 20h3M50 21h1M55 21h8M99 21h3M107 21h3M50 22h11M100 22h3M106 22h3M49 23h3M101 23h3M105 23h3M103 24h4M102 25h4M100 26h5M99 27h3M103 27h1M97 28h3M102 28h1M95 29h3M101 29h2M93 30h3M101 30h1M92 31h2M100 31h2M90 32h3M100 32h1M48 33h1M88 33h3M99 33h1M48 34h2M86 34h3M98 34h2M47 35h4M84 35h3M98 35h1M47 36h4M83 36h2M97 36h2M47 37h3M81 37h3M97 37h1M47 38h2M79 38h3M96 38h1M47 39h1M78 39h3M95 39h2M79 40h3M94 40h2M81 41h3M94 41h1M82 42h3M93 42h1M84 43h2M92 43h1M85 44h4M91 44h1M88 45h3"/>
<path stroke="#ff5c00" d="M83 0h8M115 0h2M82 1h9M115 1h2M81 2h10M115 2h2M59 3h1M80 3h10M115 3h2M59 4h1M79 4h10M115 4h2M59 5h1M77 5h11M115 5h2M76 6h11M115 6h2M76 7h10M116 7h2M58 8h1M76 8h9M116 8h2M58 9h1M75 9h9M116 9h2M58 10h1M75 10h8M116 10h2M57 11h1M73 11h13M115 11h2M72 12h16M89 12h3M114 12h2M56 13h1M70 13h3M77 13h16M113 13h2M55 14h1M69 14h2M79 14h10M92 14h3M112 14h2M67 15h3M82 15h5M93 15h3M111 15h2M54 16h1M66 16h2M84 16h1M95 16h2M110 16h2M64 17h3M96 17h3M109 17h2M63 18h2M97 18h3M108 18h2M52 19h1M57 19h7M99 19h3M107 19h2M52 20h10M100 20h3M106 20h2M51 21h4M102 21h2M105 21h2M103 22h3M104 23h1M102 27h1M100 28h2M98 29h3M96 30h5M94 31h3M99 31h1M93 32h2M98 32h2M91 33h3M98 33h1M89 34h3M97 34h1M87 35h3M96 35h2M85 36h3M96 36h1M84 37h3M95 37h2M82 38h3M95 38h1M81 39h3M94 39h1M82 40h3M93 40h1M84 41h2M92 41h2M85 42h3M91 42h2M86 43h6M89 44h2"/>
<path stroke="#ff4b00" d="M60 0h1M76 0h7M91 0h3M113 0h2M60 1h1M75 1h7M91 1h3M113 1h2M60 2h1M75 2h6M91 2h2M113 2h2M60 3h1M75 3h5M90 3h3M113 3h2M74 4h5M89 4h4M113 4h2M74 5h3M88 5h5M113 5h2M59 6h1M74 6h2M87 6h6M113 6h2M59 7h1M73 7h3M86 7h7M114 7h2M59 8h1M73 8h3M85 8h7M114 8h2M59 9h1M73 9h2M84 9h8M114 9h2M72 10h3M83 10h9M114 10h2M58 11h1M71 11h2M86 11h7M113 11h2M57 12h1M69 12h3M88 12h1M92 12h3M112 12h2M68 13h2M93 13h3M111 13h2M56 14h1M66 14h3M95 14h3M110 14h2M55 15h1M65 15h2M96 15h3M109 15h2M63 16h3M97 16h3M108 16h2M54 17h1M60 17h4M99 17h3M107 17h2M53 18h10M100 18h3M106 18h2M53 19h4M102 19h2M105 19h2M103 20h3M104 21h1M97 31h2M95 32h3M94 33h4M92 34h5M90 35h3M95 35h1M88 36h3M94 36h2M87 37h2M94 37h1M85 38h3M93 38h2M84 39h3M92 39h2M85 40h3M92 40h1M86 41h4M91 41h1M88 42h3"/>
<path stroke="#ff3b00" d="M61 0h1M73 0h3M94 0h3M111 0h2M61 1h1M73 1h2M94 1h3M111 1h2M73 2h2M93 2h3M111 2h2M72 3h3M93 3h3M111 3h2M60 4h1M72 4h2M93 4h3M111 4h2M60 5h1M71 5h3M93 5h3M111 5h2M60 6h1M71 6h3M93 6h3M111 6h2M60 7h1M71 7h2M93 7h2M112 7h2M70 8h3M92 8h3M112 8h2M70 9h3M92 9h3M112 9h2M59 10h1M70 10h2M92 10h3M112 10h2M68 11h3M93 11h3M111 11h2M58 12h1M67 12h2M95 12h3M110 12h2M57 13h1M65 13h3M96 13h3M109 13h2M64 14h2M98 14h2M108 14h2M56 15h1M62 15h3M99 15h3M107 15h2M55 16h8M100 16h3M106 16h2M55 17h5M102 17h5M103 18h3M104 19h1M93 35h2M91 36h3M89 37h5M88 38h2M92 38h1M87 39h2M91 39h1M88 40h4M90 41h1"/>
<path stroke="#ff2b00" d="M62 0h11M97 0h3M109 0h2M62 1h11M97 1h2M109 1h2M61 2h8M70 2h3M96 2h3M109 2h2M61 3h1M70 3h2M96 3h3M109 3h2M61 4h1M69 4h3M96 4h3M109 4h2M61 5h1M69 5h2M96 5h3M109 5h2M69 6h2M96 6h2M109 6h2M68 7h3M95 7h3M109 7h3M60 8h1M68 8h2M95 8h3M110 8h2M60 9h1M67 9h3M95 9h3M110 9h2M60 10h1M67 10h3M95 10h3M110 10h2M59 11h1M66 11h2M96 11h3M109 11h2M64 12h3M98 12h2M108 12h2M58 13h1M63 13h2M99 13h3M107 13h2M57 14h7M100 14h3M106 14h2M57 15h5M102 15h5M103 16h3M90 38h2M89 39h2"/>
<path stroke="#ff1a00" d="M100 0h2M106 0h3M99 1h3M107 1h2M69 2h1M99 2h3M107 2h2M62 3h8M99 3h3M107 3h2M62 4h7M99 4h3M107 4h2M62 5h7M99 5h2M107 5h2M61 6h4M66 6h3M98 6h3M107 6h2M61 7h1M66 7h2M98 7h3M107 7h2M61 8h1M65 8h3M98 8h3M108 8h2M65 9h2M98 9h3M108 9h2M65 10h2M98 10h3M108 10h2M60 11h1M63 11h3M99 11h3M107 11h2M59 12h5M100 12h3M106 12h2M59 13h4M102 13h5M103 14h3"/>
<path stroke="#ff0a00" d="M102 0h4M102 1h5M102 2h5M102 3h5M102 4h2M105 4h2M101 5h3M105 5h2M65 6h1M101 6h3M105 6h2M62 7h4M101 7h3M105 7h2M62 8h3M101 8h3M106 8h2M61 9h4M101 9h3M106 9h2M61 10h4M101 10h2M106 10h2M61 11h2M102 11h5M103 12h3"/>
<path stroke="#fe0700" d="M104 4h1M104 5h1M104 6h1M104 7h1M104 8h2M104 9h2M103 10h3"/>
</g></g></g>
<path transform="translate(1226.2 1043.1)" d="M690.6 -4.7 L688.3 20.4 L685.5 33.6 L685.1 65.4 L665.6 83.7 L662.8 101.7 L660.9 145.2 L655.2 171.6 L625.9 197.2 L617.4 228.4 L587.2 257.7 L579.6 281.3 L578.7 314.4 L522.9 341.8 L521.6 367 L487.9 367.4 L469 372.1 L431.2 372.7 L404.7 367 L370.7 372.1 L376.4 389.7 L351 390.7 L325.9 419 L308 410.5 L247.5 438.9 L194.5 484.3 L146.3 533.4 L146.3 605.3 L150.1 622.3 L150.1 637.4 L146.3 656.3 L136.9 686.6 L104.7 711.2" fill="none" stroke="#000" stroke-width="2.8" stroke-linejoin="round"/>
<g shape-rendering="crispEdges">
<rect x="643.4" y="931.5" width="1068.3" height="48.5" fill="#262626"/>
<rect x="648.40" y="936.5" width="17.04" height="38.5" fill="#00008f"/>
<rect x="664.94" y="936.5" width="17.04" height="38.5" fill="#00009f"/>
<rect x="681.47" y="936.5" width="17.04" height="38.5" fill="#0000af"/>
<rect x="698.01" y="936.5" width="17.04" height="38.5" fill="#0000bf"/>
<rect x="714.54" y="936.5" width="17.04" height="38.5" fill="#0000cf"/>
<rect x="731.08" y="936.5" width="17.04" height="38.5" fill="#0000df"/>
<rect x="747.62" y="936.5" width="17.04" height="38.5" fill="#0000ef"/>
<rect x="764.15" y="936.5" width="17.04" height="38.5" fill="#00f"/>
<rect x="780.69" y="936.5" width="17.04" height="38.5" fill="#0010ff"/>
<rect x="797.22" y="936.5" width="17.04" height="38.5" fill="#0020ff"/>
<rect x="813.76" y="936.5" width="17.04" height="38.5" fill="#0030ff"/>
<rect x="830.30" y="936.5" width="17.04" height="38.5" fill="#0040ff"/>
<rect x="846.83" y="936.5" width="17.04" height="38.5" fill="#0050ff"/>
<rect x="863.37" y="936.5" width="17.04" height="38.5" fill="#0060ff"/>
<rect x="879.90" y="936.5" width="17.04" height="38.5" fill="#0070ff"/>
<rect x="896.44" y="936.5" width="17.04" height="38.5" fill="#0080ff"/>
<rect x="912.98" y="936.5" width="17.04" height="38.5" fill="#008fff"/>
<rect x="929.51" y="936.5" width="17.04" height="38.5" fill="#009fff"/>
<rect x="946.05" y="936.5" width="17.04" height="38.5" fill="#00afff"/>
<rect x="962.58" y="936.5" width="17.04" height="38.5" fill="#00bfff"/>
<rect x="979.12" y="936.5" width="17.04" height="38.5" fill="#00cfff"/>
<rect x="995.65" y="936.5" width="17.04" height="38.5" fill="#00dfff"/>
<rect x="1012.19" y="936.5" width="17.04" height="38.5" fill="#00efff"/>
<rect x="1028.73" y="936.5" width="17.04" height="38.5" fill="#0ff"/>
<rect x="1045.26" y="936.5" width="17.04" height="38.5" fill="#0fe"/>
<rect x="1061.80" y="936.5" width="17.04" height="38.5" fill="#0fd"/>
<rect x="1078.33" y="936.5" width="17.04" height="38.5" fill="#00ffcb"/>
<rect x="1094.87" y="936.5" width="17.04" height="38.5" fill="#00ffba"/>
<rect x="1111.41" y="936.5" width="17.04" height="38.5" fill="#00ffa9"/>
<rect x="1127.94" y="936.5" width="17.04" height="38.5" fill="#00ff98"/>
<rect x="1144.48" y="936.5" width="17.04" height="38.5" fill="#00ff86"/>
<rect x="1161.01" y="936.5" width="17.04" height="38.5" fill="#00ff75"/>
<rect x="1177.55" y="936.5" width="17.04" height="38.5" fill="#00ff64"/>
<rect x="1194.09" y="936.5" width="17.04" height="38.5" fill="#5aff50"/>
<rect x="1210.62" y="936.5" width="17.04" height="38.5" fill="#78ff35"/>
<rect x="1227.16" y="936.5" width="17.04" height="38.5" fill="#96ff1b"/>
<rect x="1243.69" y="936.5" width="17.04" height="38.5" fill="#b4ff00"/>
<rect x="1260.23" y="936.5" width="17.04" height="38.5" fill="#cdff00"/>
<rect x="1276.77" y="936.5" width="17.04" height="38.5" fill="#e6ff00"/>
<rect x="1293.30" y="936.5" width="17.04" height="38.5" fill="#ff0"/>
<rect x="1309.84" y="936.5" width="17.04" height="38.5" fill="#ffef00"/>
<rect x="1326.37" y="936.5" width="17.04" height="38.5" fill="#ffde00"/>
<rect x="1342.91" y="936.5" width="17.04" height="38.5" fill="#ffce00"/>
<rect x="1359.45" y="936.5" width="17.04" height="38.5" fill="#ffbe00"/>
<rect x="1375.98" y="936.5" width="17.04" height="38.5" fill="#ffad00"/>
<rect x="1392.52" y="936.5" width="17.04" height="38.5" fill="#ff9d00"/>
<rect x="1409.05" y="936.5" width="17.04" height="38.5" fill="#ff8d00"/>
<rect x="1425.59" y="936.5" width="17.04" height="38.5" fill="#ff7c00"/>
<rect x="1442.12" y="936.5" width="17.04" height="38.5" fill="#ff6c00"/>
<rect x="1458.66" y="936.5" width="17.04" height="38.5" fill="#ff5c00"/>
<rect x="1475.20" y="936.5" width="17.04" height="38.5" fill="#ff4b00"/>
<rect x="1491.73" y="936.5" width="17.04" height="38.5" fill="#ff3b00"/>
<rect x="1508.27" y="936.5" width="17.04" height="38.5" fill="#ff2b00"/>
<rect x="1524.80" y="936.5" width="17.04" height="38.5" fill="#ff1a00"/>
<rect x="1541.34" y="936.5" width="17.04" height="38.5" fill="#ff0a00"/>
<rect x="1557.88" y="936.5" width="17.04" height="38.5" fill="#fe0700"/>
<rect x="1574.41" y="936.5" width="17.04" height="38.5" fill="#fd0400"/>
<rect x="1590.95" y="936.5" width="17.04" height="38.5" fill="#fc0100"/>
<rect x="1607.48" y="936.5" width="17.04" height="38.5" fill="#f30000"/>
<rect x="1624.02" y="936.5" width="17.04" height="38.5" fill="#e00000"/>
<rect x="1640.56" y="936.5" width="17.04" height="38.5" fill="#cd0000"/>
<rect x="1657.09" y="936.5" width="17.04" height="38.5" fill="#ba0000"/>
<rect x="1673.63" y="936.5" width="17.04" height="38.5" fill="#a70000"/>
<rect x="1690.16" y="936.5" width="17.04" height="38.5" fill="#940000"/>
<rect x="1706.7" y="931.5" width="5.0" height="48.5" fill="#262626"/>
<rect x="749.3" y="931.5" width="5" height="16" fill="#262626"/>
<rect x="962.2" y="931.5" width="5" height="16" fill="#262626"/>
<rect x="1174.7" y="931.5" width="5" height="16" fill="#262626"/>
<rect x="1387.1" y="931.5" width="5" height="16" fill="#262626"/>
<rect x="1599.6" y="931.5" width="5" height="16" fill="#262626"/>
</g>
<text class="c" x="751.8" y="891.5" text-anchor="middle">20</text>
<text class="c" x="964.7" y="891.5" text-anchor="middle">30</text>
<text class="c" x="1177.2" y="891.5" text-anchor="middle">40</text>
<text class="c" x="1389.6" y="891.5" text-anchor="middle">50</text>
<text class="c" x="1602.1" y="891.5" text-anchor="middle">60</text>
<text class="u" x="1859.6" y="888.4" text-anchor="middle">TECU</text>
<text class="t" x="249" y="149.922" text-anchor="end">-18</text>
<text class="t" x="249" y="437.822" text-anchor="end">-23</text>
<text class="t" x="249" y="725.722" text-anchor="end">-28</text>
<text class="l" transform="translate(88.5 388.25) rotate(-90)" text-anchor="middle">Lat. (°)</text>
<text class="t" x="249" y="1158.82" text-anchor="end">-18</text>
<text class="t" x="249" y="1446.72" text-anchor="end">-23</text>
<text class="t" x="249" y="1734.62" text-anchor="end">-28</text>
<text class="l" transform="translate(88.5 1397.15) rotate(-90)" text-anchor="middle">Lat. (°)</text>
<text class="t" x="353.523" y="1874.4" text-anchor="middle">-50</text>
<text class="t" x="639.023" y="1874.4" text-anchor="middle">-45</text>
<text class="t" x="924.523" y="1874.4" text-anchor="middle">-40</text>
<text class="l" x="638.95" y="1979.4" text-anchor="middle">Lon. (°)</text>
<text class="t" x="1290.72" y="1874.4" text-anchor="middle">-50</text>
<text class="t" x="1576.22" y="1874.4" text-anchor="middle">-45</text>
<text class="t" x="1861.72" y="1874.4" text-anchor="middle">-40</text>
<text class="l" x="1576.15" y="1979.4" text-anchor="middle">Lon. (°)</text>
<text class="p" x="868.6" y="666">a)</text>
<text class="p" x="1805.8" y="666">b)</text>
<text class="p" x="868.6" y="1674.9">c)</text>
<text class="p" x="1805.8" y="1674.9">d)</text>
</svg></body></html>
